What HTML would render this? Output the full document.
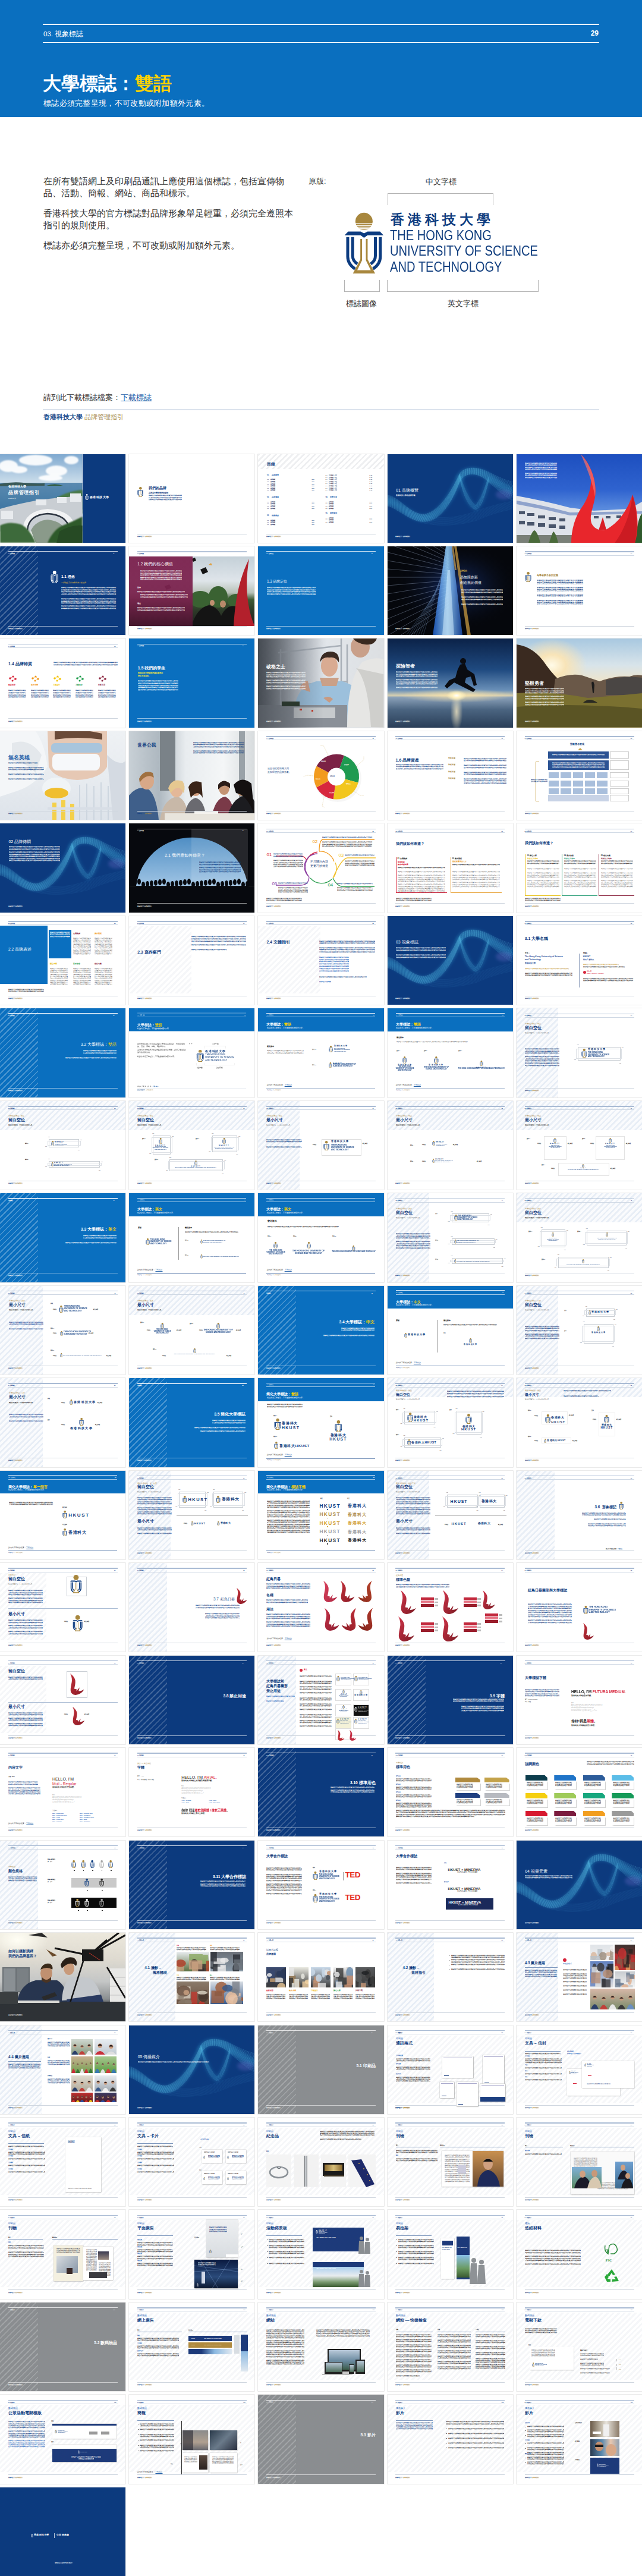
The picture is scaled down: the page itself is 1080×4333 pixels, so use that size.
<!DOCTYPE html><html><head><meta charset="utf-8"><style>

*{margin:0;padding:0;box-sizing:border-box}
html,body{width:1080px;height:4333px;overflow:hidden;background:#fff}
body{position:relative;font-family:"Liberation Sans",sans-serif;color:#222}
.a{position:absolute}
.hdr{position:absolute;left:0;top:0;width:1080px;height:197px;background:#0a6fbf}
.t{position:absolute;width:211.2px;height:149.4px;overflow:hidden;background:#fff;box-shadow:0 0 0 0.6px #dcdcdc}
.t > *{position:absolute;white-space:nowrap;line-height:1}
.t > .pg{position:absolute;left:0;top:0;width:1080px;height:764px;transform:scale(0.19556);transform-origin:0 0;white-space:normal;line-height:normal}
.ln{height:1.6px;background:currentColor}
.t > .f{overflow:hidden;white-space:normal;word-break:break-all}
.f::before{content:"香港科技大學品牌管理指引標誌必須完整呈現不可改動或附加額外元素我們的品牌是大學對我們的認知創新卓越國際視野學術研究香港科技大學品牌管理指引標誌必須完整呈現不可改動或附加額外元素我們的品牌是大學對我們的認知創新卓越國際視野學術研究香港科技大學品牌管理指引標誌必須完整呈現不可改動或附加額外元素我們的品牌是大學對我們的認知創新卓越國際視野學術研究香港科技大學品牌管理指引標誌必須完整呈現不可改動或附加額外元素我們的品牌是大學對我們的認知創新卓越國際視野學術研究香港科技大學品牌管理指引標誌必須完整呈現不可改動或附加額外元素我們的品牌是大學對我們的認知創新卓越國際視野學術研究香港科技大學品牌管理指引標誌必須完整呈現不可改動或附加額外元素我們的品牌是大學對我們的認知創新卓越國際視野學術研究"}

</style></head><body>
<div class="hdr"></div>
<div class="a" style="left:72px;top:40px;width:936px;height:2px;background:#fff"></div>
<div class="a" style="left:73px;top:50px;font-size:11.5px;color:#fff;line-height:14px">03. 視象標誌</div>
<div class="a" style="left:900px;width:107px;text-align:right;top:49px;font-size:12px;font-weight:bold;color:#fff;line-height:14px">29</div>
<div class="a" style="left:72px;top:71px;width:936px;height:1px;background:#fff"></div>
<div class="a" style="left:72px;top:120.5px;font-size:31.3px;font-weight:bold;color:#fff;line-height:40px">大學標誌：<span style="color:#ffd200">雙語</span></div>
<div class="a" style="left:73px;top:165px;font-size:13px;color:#fff;line-height:18px;letter-spacing:0.3px">標誌必須完整呈現，不可改動或附加額外元素。</div>
<div class="a" style="left:73px;top:296px;width:420px;font-size:14.6px;line-height:19.6px;color:#333">
<p style="margin-bottom:15px">在所有雙語網上及印刷品通訊上應使用這個標誌，包括宣傳物品、活動、簡報、網站、商品和標示。</p>
<p style="margin-bottom:15px">香港科技大學的官方標誌對品牌形象舉足輕重，必須完全遵照本指引的規則使用。</p>
<p>標誌亦必須完整呈現，不可改動或附加額外元素。</p>
</div>
<div class="a" style="left:519px;top:298px;font-size:12.5px;line-height:15px;color:#333">原版:</div>
<div class="a" style="left:716px;top:298px;font-size:12.8px;line-height:15px;color:#333">中文字標</div>
<div class="a" style="left:652px;top:325px;width:178px;height:20px;border:1px solid #b3b3b3;border-bottom:none"></div>
<div class="a" style="left:579px;top:471px;width:60px;height:20px;border:1px solid #b3b3b3;border-top:none"></div>
<div class="a" style="left:651px;top:471px;width:255px;height:20px;border:1px solid #b3b3b3;border-top:none"></div>
<div class="a" style="left:582px;top:503px;font-size:12.8px;line-height:15px;color:#333">標誌圖像</div>
<div class="a" style="left:753px;top:503px;font-size:12.8px;line-height:15px;color:#333">英文字標</div>
<svg class="a" style="left:570px;top:340px" width="100" height="130" viewBox="0 0 642 835">
<defs><clipPath id="sun"><circle cx="272" cy="207" r="93"/></clipPath></defs>
<g clip-path="url(#sun)" fill="#a8873d"><rect x="170" y="100" width="210" height="128"/><rect x="170" y="236" width="210" height="12"/><rect x="170" y="256" width="210" height="10"/><rect x="170" y="274" width="210" height="9"/><rect x="170" y="291" width="210" height="9"/></g>
<polygon fill="#0d3c80" points="62,358 100,318 235,318 272,338 310,318 445,318 482,358 310,358 272,385 235,358"/>
<g fill="none" stroke="#0d3c80" stroke-width="32"><path d="M96,378 V590 Q96,670 175,722"/><path d="M149,378 V580 Q149,635 200,668"/><path d="M448,378 V590 Q448,670 369,722"/><path d="M395,378 V580 Q395,635 344,668"/></g>
<polygon fill="#a8873d" points="232,398 311,398 311,618 392,770 152,770 232,618"/>
<polygon fill="#fff" points="251,398 292,398 292,628 345,735 199,735 251,628"/>
</svg>
<div class="a" style="left:657px;top:356px;font-size:23px;line-height:26px;font-weight:bold;color:#0d3c80;letter-spacing:6px">香港科技大學</div>
<div id="en" class="a" style="left:656px;top:383px;font-size:23.5px;line-height:26.4px;color:#123f7f;transform-origin:0 0;transform:scaleX(0.856)">THE HONG KONG<br>UNIVERSITY OF SCIENCE<br>AND TECHNOLOGY</div>
<div class="a" style="left:73px;top:660px;font-size:12.7px;line-height:18px;color:#333">請到此下載標誌檔案：<span style="color:#1f5fa8;text-decoration:underline">下載標誌</span></div>
<div class="a" style="left:72px;top:689px;width:936px;height:1px;background:#7d97bd"></div>
<div class="a" style="left:73px;top:693.5px;font-size:10.8px;line-height:14px;color:#1f4e8c;font-weight:bold">香港科技大學 <span style="color:#a88a4a;font-weight:normal">品牌管理指引</span></div>

<div class="t" style="left:0.0px;top:763.5px;background:#fff;"><svg style="left:0;top:0" width="138.5" height="149.4" viewBox="0 0 138.5 149.4"><defs><linearGradient id="csky" x1="0" y1="0" x2="0" y2="1"><stop offset="0" stop-color="#7fa9d0"/><stop offset="1" stop-color="#cfe0ec"/></linearGradient><linearGradient id="csea" x1="0" y1="0" x2="0" y2="1"><stop offset="0" stop-color="#5a8ab0"/><stop offset="1" stop-color="#3f77a3"/></linearGradient><filter id="cb"><feGaussianBlur stdDeviation="1.2"/></filter></defs><rect width="138.5" height="50" fill="url(#csky)"/><g fill="#fff" filter="url(#cb)" opacity=".92"><ellipse cx="14" cy="20" rx="16" ry="10"/><ellipse cx="32" cy="26" rx="14" ry="6"/><ellipse cx="60" cy="10" rx="28" ry="9"/><ellipse cx="95" cy="28" rx="18" ry="9"/><ellipse cx="120" cy="10" rx="12" ry="7"/><ellipse cx="85" cy="40" rx="20" ry="5"/></g><rect y="48" width="138.5" height="45" fill="url(#csea)"/><path d="M0,50 Q20,46 40,48 Q60,50 75,49 L75,53 L0,54Z" fill="#3a5a58"/><path d="M78,53 Q92,48 106,53Z" fill="#2f5a3a"/><path d="M85,80 Q110,62 138.5,60 V100 H85Z" fill="#4a7a48" filter="url(#cb)"/><path d="M0,92 Q20,86 50,80 Q80,74 138.5,70 V130 H0Z" fill="#c9ced3"/><g fill="#e8ebee"><rect x="2" y="95" width="20" height="14"/><rect x="60" y="76" width="18" height="10"/><rect x="96" y="72" width="16" height="10"/><rect x="118" y="66" width="18" height="14"/></g><path d="M38,128 Q40,95 80,92 Q122,95 126,122 L116,124 Q112,102 80,100 Q48,102 46,128Z" fill="#f2f3f4"/><path d="M46,128 Q48,102 80,100 Q112,102 116,124" fill="none" stroke="#2c3440" stroke-width="2.4"/><path d="M52,128 Q60,112 80,110 Q100,112 108,124 L100,149 H60Z" fill="#8a9a8a"/><path d="M0,120 Q15,112 35,118 Q50,125 60,149 H0Z" fill="#3e6a3a" filter="url(#cb)"/><path d="M80,149 Q90,125 110,118 Q125,112 138.5,105 V149.4Z" fill="#2f5a2c" filter="url(#cb)"/><path d="M100,130 Q120,118 138.5,120 V149.4 H95Z" fill="#264a24"/></svg><i style="left:138.5px;top:0px;width:73px;height:149.4px;background:#0c3a7e;"></i><b style="left:14px;top:52.5px;font-size:5px;color:#fff;font-weight:700;">香港科技大學</b><b style="left:14px;top:61.5px;font-size:8px;color:#fff;font-weight:700;letter-spacing:.8px">品牌管理指引</b><b style="left:14px;top:73px;font-size:2.2px;color:#fff;font-weight:400;">2020年 3月版</b><svg style="left:142.5px;top:67px" width="6.41" height="10" viewBox="62 115 420 655"><circle cx="272" cy="207" r="93" fill="#fff"/><polygon fill="#fff" points="62,358 100,318 235,318 272,338 310,318 445,318 482,358 310,358 272,385 235,358"/><g fill="none" stroke="#fff" stroke-width="34"><path d="M96,378 V590 Q96,670 175,722"/><path d="M149,378 V580 Q149,635 200,668"/><path d="M448,378 V590 Q448,670 369,722"/><path d="M395,378 V580 Q395,635 344,668"/></g><polygon fill="#fff" points="232,398 311,398 311,618 392,770 152,770 232,618"/><polygon fill="#0c3a7e" points="251,398 292,398 292,628 345,735 199,735 251,628"/></svg><b style="left:151px;top:70px;font-size:5px;color:#fff;font-weight:700;letter-spacing:.4px">香港科技大學</b></div>
<div class="t" style="left:217.2px;top:763.5px;background:#fff;"><svg style="left:13.7px;top:55.5px" width="10.58" height="16.5" viewBox="62 115 420 655"><circle cx="272" cy="207" r="93" fill="#a8873d"/><polygon fill="#0d3c80" points="62,358 100,318 235,318 272,338 310,318 445,318 482,358 310,358 272,385 235,358"/><g fill="none" stroke="#0d3c80" stroke-width="34"><path d="M96,378 V590 Q96,670 175,722"/><path d="M149,378 V580 Q149,635 200,668"/><path d="M448,378 V590 Q448,670 369,722"/><path d="M395,378 V580 Q395,635 344,668"/></g><polygon fill="#a8873d" points="232,398 311,398 311,618 392,770 152,770 232,618"/><polygon fill="#fff" points="251,398 292,398 292,628 345,735 199,735 251,628"/></svg><b style="left:33px;top:55.5px;font-size:5.6px;color:#0d3c80;font-weight:700;">我們的品牌</b><b style="left:33px;top:64px;font-size:3.4px;color:#0d3c80;font-weight:700;">品牌是大學對我們的認知</b><p class="f" style="left:33px;top:68.5px;width:56px;height:10.8px;font-size:2.4px;line-height:3.6px;color:#0d3c80;font-weight:700;"></p><i style="left:13.8px;top:134px;width:184px;height:0.7px;background:#cfd6df;"></i><b style="left:13.8px;top:137.2px;font-size:2.1px;color:#0d3c80;font-weight:700;">香港科技大學 <span style="color:#a8873d">品牌管理指引</span></b></div>
<div class="t" style="left:434.4px;top:763.5px;background:#fff;box-shadow:0 0 0 0.6px #d8d8d8"><i style="left:0px;top:0px;width:211.2px;height:25px;background:repeating-linear-gradient(135deg,#eeeff1 0 2.6px,#fff 2.6px 6.7px);"></i><b style="left:14.5px;top:14px;font-size:6.5px;color:#0d3c80;font-weight:700;">目錄</b><b style="left:14.5px;top:34px;font-size:2.8px;color:#1a64b0;font-weight:700;">01. &nbsp;&nbsp;&nbsp; 品牌概覽</b><b style="left:14.5px;top:41.8px;font-size:2.3px;color:#1a2a50;font-weight:700;">1.1 &nbsp;&nbsp; 品牌概覽</b><b style="left:90px;top:41.8px;font-size:2.3px;color:#1a2a50;font-weight:700;">p.04</b><b style="left:14.5px;top:45.4px;font-size:2.3px;color:#1a2a50;font-weight:700;">1.1 &nbsp;&nbsp; 品牌概覽</b><b style="left:90px;top:45.4px;font-size:2.3px;color:#1a2a50;font-weight:700;">p.04</b><b style="left:14.5px;top:49.0px;font-size:2.3px;color:#1a2a50;font-weight:700;">1.1 &nbsp;&nbsp; 品牌概覽</b><b style="left:90px;top:49.0px;font-size:2.3px;color:#1a2a50;font-weight:700;">p.04</b><b style="left:14.5px;top:52.599999999999994px;font-size:2.3px;color:#1a2a50;font-weight:700;">1.1 &nbsp;&nbsp; 品牌概覽</b><b style="left:90px;top:52.599999999999994px;font-size:2.3px;color:#1a2a50;font-weight:700;">p.04</b><b style="left:14.5px;top:56.199999999999996px;font-size:2.3px;color:#1a2a50;font-weight:700;">1.1 &nbsp;&nbsp; 品牌概覽</b><b style="left:90px;top:56.199999999999996px;font-size:2.3px;color:#1a2a50;font-weight:700;">p.04</b><b style="left:14.5px;top:59.8px;font-size:2.3px;color:#1a2a50;font-weight:700;">1.1 &nbsp;&nbsp; 品牌概覽</b><b style="left:90px;top:59.8px;font-size:2.3px;color:#1a2a50;font-weight:700;">p.04</b><b style="left:14.5px;top:71.5px;font-size:2.8px;color:#1a64b0;font-weight:700;">02. &nbsp;&nbsp;&nbsp; 品牌傳播</b><b style="left:14.5px;top:79.3px;font-size:2.3px;color:#1a2a50;font-weight:700;">1.1 &nbsp;&nbsp; 品牌概覽</b><b style="left:90px;top:79.3px;font-size:2.3px;color:#1a2a50;font-weight:700;">p.04</b><b style="left:14.5px;top:82.89999999999999px;font-size:2.3px;color:#1a2a50;font-weight:700;">1.1 &nbsp;&nbsp; 品牌概覽</b><b style="left:90px;top:82.89999999999999px;font-size:2.3px;color:#1a2a50;font-weight:700;">p.04</b><b style="left:14.5px;top:86.5px;font-size:2.3px;color:#1a2a50;font-weight:700;">1.1 &nbsp;&nbsp; 品牌概覽</b><b style="left:90px;top:86.5px;font-size:2.3px;color:#1a2a50;font-weight:700;">p.04</b><b style="left:14.5px;top:90.1px;font-size:2.3px;color:#1a2a50;font-weight:700;">1.1 &nbsp;&nbsp; 品牌概覽</b><b style="left:90px;top:90.1px;font-size:2.3px;color:#1a2a50;font-weight:700;">p.04</b><b style="left:14.5px;top:102.5px;font-size:2.8px;color:#1a64b0;font-weight:700;">03. &nbsp;&nbsp;&nbsp; 視象標誌</b><b style="left:14.5px;top:110.3px;font-size:2.3px;color:#1a2a50;font-weight:700;">1.1 &nbsp;&nbsp; 品牌概覽</b><b style="left:90px;top:110.3px;font-size:2.3px;color:#1a2a50;font-weight:700;">p.04</b><b style="left:14.5px;top:113.89999999999999px;font-size:2.3px;color:#1a2a50;font-weight:700;">1.1 &nbsp;&nbsp; 品牌概覽</b><b style="left:90px;top:113.89999999999999px;font-size:2.3px;color:#1a2a50;font-weight:700;">p.04</b><b style="left:14.5px;top:117.5px;font-size:2.3px;color:#1a2a50;font-weight:700;">1.1 &nbsp;&nbsp; 品牌概覽</b><b style="left:90px;top:117.5px;font-size:2.3px;color:#1a2a50;font-weight:700;">p.04</b><b style="left:113px;top:34.5px;font-size:2.3px;color:#1a2a50;font-weight:700;">3.4 &nbsp;&nbsp; 大學標誌 · 中文</b><b style="left:187px;top:34.5px;font-size:2.3px;color:#1a2a50;font-weight:700;">p.45</b><b style="left:113px;top:38.1px;font-size:2.3px;color:#1a2a50;font-weight:700;">3.4 &nbsp;&nbsp; 大學標誌 · 中文</b><b style="left:187px;top:38.1px;font-size:2.3px;color:#1a2a50;font-weight:700;">p.45</b><b style="left:113px;top:41.7px;font-size:2.3px;color:#1a2a50;font-weight:700;">3.4 &nbsp;&nbsp; 大學標誌 · 中文</b><b style="left:187px;top:41.7px;font-size:2.3px;color:#1a2a50;font-weight:700;">p.45</b><b style="left:113px;top:45.3px;font-size:2.3px;color:#1a2a50;font-weight:700;">3.4 &nbsp;&nbsp; 大學標誌 · 中文</b><b style="left:187px;top:45.3px;font-size:2.3px;color:#1a2a50;font-weight:700;">p.45</b><b style="left:113px;top:48.9px;font-size:2.3px;color:#1a2a50;font-weight:700;">3.4 &nbsp;&nbsp; 大學標誌 · 中文</b><b style="left:187px;top:48.9px;font-size:2.3px;color:#1a2a50;font-weight:700;">p.45</b><b style="left:113px;top:52.5px;font-size:2.3px;color:#1a2a50;font-weight:700;">3.4 &nbsp;&nbsp; 大學標誌 · 中文</b><b style="left:187px;top:52.5px;font-size:2.3px;color:#1a2a50;font-weight:700;">p.45</b><b style="left:113px;top:56.1px;font-size:2.3px;color:#1a2a50;font-weight:700;">3.4 &nbsp;&nbsp; 大學標誌 · 中文</b><b style="left:187px;top:56.1px;font-size:2.3px;color:#1a2a50;font-weight:700;">p.45</b><b style="left:113px;top:59.7px;font-size:2.3px;color:#1a2a50;font-weight:700;">3.4 &nbsp;&nbsp; 大學標誌 · 中文</b><b style="left:187px;top:59.7px;font-size:2.3px;color:#1a2a50;font-weight:700;">p.45</b><b style="left:113px;top:71.5px;font-size:2.8px;color:#1a64b0;font-weight:700;">04. &nbsp;&nbsp;&nbsp; 視覺元素</b><b style="left:113px;top:79.3px;font-size:2.3px;color:#1a2a50;font-weight:700;">1.1 &nbsp;&nbsp; 品牌概覽</b><b style="left:187px;top:79.3px;font-size:2.3px;color:#1a2a50;font-weight:700;">p.04</b><b style="left:113px;top:82.89999999999999px;font-size:2.3px;color:#1a2a50;font-weight:700;">1.1 &nbsp;&nbsp; 品牌概覽</b><b style="left:187px;top:82.89999999999999px;font-size:2.3px;color:#1a2a50;font-weight:700;">p.04</b><b style="left:113px;top:86.5px;font-size:2.3px;color:#1a2a50;font-weight:700;">1.1 &nbsp;&nbsp; 品牌概覽</b><b style="left:187px;top:86.5px;font-size:2.3px;color:#1a2a50;font-weight:700;">p.04</b><b style="left:113px;top:90.1px;font-size:2.3px;color:#1a2a50;font-weight:700;">1.1 &nbsp;&nbsp; 品牌概覽</b><b style="left:187px;top:90.1px;font-size:2.3px;color:#1a2a50;font-weight:700;">p.04</b><b style="left:113px;top:98.5px;font-size:2.8px;color:#1a64b0;font-weight:700;">05. &nbsp;&nbsp;&nbsp; 應用實例</b><b style="left:113px;top:106.3px;font-size:2.3px;color:#1a2a50;font-weight:700;">1.1 &nbsp;&nbsp; 品牌概覽</b><b style="left:187px;top:106.3px;font-size:2.3px;color:#1a2a50;font-weight:700;">p.04</b><b style="left:113px;top:109.89999999999999px;font-size:2.3px;color:#1a2a50;font-weight:700;">1.1 &nbsp;&nbsp; 品牌概覽</b><b style="left:187px;top:109.89999999999999px;font-size:2.3px;color:#1a2a50;font-weight:700;">p.04</b><b style="left:113px;top:113.5px;font-size:2.3px;color:#1a2a50;font-weight:700;">1.1 &nbsp;&nbsp; 品牌概覽</b><b style="left:187px;top:113.5px;font-size:2.3px;color:#1a2a50;font-weight:700;">p.04</b><i style="left:13.8px;top:134px;width:184px;height:0.7px;background:#cfd6df;"></i><b style="left:13.8px;top:137.2px;font-size:2.1px;color:#0d3c80;font-weight:700;">香港科技大學 <span style="color:#a8873d">品牌管理指引</span></b></div>
<div class="t" style="left:651.6px;top:763.5px;background:#0c3a7e;"><svg style="left:0;top:0;opacity:1.0" width="211.2" height="149.4" viewBox="0 0 211.2 149.4"><defs><filter id="jb" x="-20%" y="-20%" width="140%" height="140%"><feGaussianBlur stdDeviation="2.5"/></filter></defs><path d="M0,78.0 C20,82.0 40,110.0 64,107.0 C88,103.0 108,72.0 121,40.0 C130,24.0 152,26.0 168,37.0 C184,48.0 198,58.0 212,63.0" fill="none" stroke="#39b8e8" stroke-width="12" stroke-opacity=".28" filter="url(#jb)"/><path d="M121,36.0 C126,58.0 136,84.0 148,90.0 C158,84.0 164,62.0 170,42.0" fill="none" stroke="#39b8e8" stroke-width="10" stroke-opacity=".18" filter="url(#jb)"/><g fill="none" stroke="#6fd8f6" stroke-width="0.5" stroke-opacity="0.75" stroke-dasharray="0.7 0.8"><path d="M0,69.2 C20,71.4 40,104.7 64,100.8 C88,94.2 108,62.3 121,33.0 C130,19.6 152,21.6 168,29.1 C184,37.4 198,43.9 212,47.2 M0,70.3 C20,72.8 40,105.4 64,101.6 C88,95.3 108,63.5 121,33.8 C130,20.1 152,22.1 168,30.1 C184,38.8 198,45.7 212,49.1 M0,71.4 C20,74.1 40,106.0 64,102.4 C88,96.4 108,64.7 121,34.7 C130,20.7 152,22.7 168,31.1 C184,40.1 198,47.4 212,51.1 M0,72.5 C20,75.4 40,106.7 64,103.2 C88,97.5 108,66.0 121,35.6 C130,21.2 152,23.2 168,32.0 C184,41.4 198,49.2 212,53.1 M0,73.6 C20,76.7 40,107.4 64,103.9 C88,98.6 108,67.2 121,36.5 C130,21.8 152,23.8 168,33.0 C184,42.7 198,51.0 212,55.1 M0,74.7 C20,78.0 40,108.0 64,104.7 C88,99.7 108,68.4 121,37.4 C130,22.4 152,24.4 168,34.0 C184,44.0 198,52.7 212,57.1 M0,75.8 C20,79.4 40,108.7 64,105.5 C88,100.8 108,69.6 121,38.2 C130,22.9 152,24.9 168,35.0 C184,45.4 198,54.5 212,59.0 M0,76.9 C20,80.7 40,109.3 64,106.2 C88,101.9 108,70.8 121,39.1 C130,23.4 152,25.4 168,36.0 C184,46.7 198,56.2 212,61.0 M0,78.0 C20,82.0 40,110.0 64,107.0 C88,103.0 108,72.0 121,40.0 C130,24.0 152,26.0 168,37.0 C184,48.0 198,58.0 212,63.0 M0,79.1 C20,83.3 40,110.7 64,107.8 C88,104.1 108,73.2 121,40.9 C130,24.6 152,26.6 168,38.0 C184,49.3 198,59.8 212,65.0 M0,80.2 C20,84.6 40,111.3 64,108.5 C88,105.2 108,74.4 121,41.8 C130,25.1 152,27.1 168,39.0 C184,50.6 198,61.5 212,67.0 M0,81.3 C20,86.0 40,112.0 64,109.3 C88,106.3 108,75.6 121,42.6 C130,25.6 152,27.6 168,40.0 C184,52.0 198,63.3 212,68.9 M0,82.4 C20,87.3 40,112.6 64,110.1 C88,107.4 108,76.8 121,43.5 C130,26.2 152,28.2 168,41.0 C184,53.3 198,65.0 212,70.9 M0,83.5 C20,88.6 40,113.3 64,110.8 C88,108.5 108,78.0 121,44.4 C130,26.8 152,28.8 168,42.0 C184,54.6 198,66.8 212,72.9 M0,84.6 C20,89.9 40,114.0 64,111.6 C88,109.6 108,79.3 121,45.3 C130,27.3 152,29.3 168,42.9 C184,55.9 198,68.6 212,74.9 M0,85.7 C20,91.2 40,114.6 64,112.4 C88,110.7 108,80.5 121,46.2 C130,27.9 152,29.9 168,43.9 C184,57.2 198,70.3 212,76.9 M0,86.8 C20,92.6 40,115.3 64,113.2 C88,111.8 108,81.7 121,47.0 C130,28.4 152,30.4 168,44.9 C184,58.6 198,72.1 212,78.8"/></g><g fill="none" stroke="#5cc4ee" stroke-width="0.45" stroke-opacity="0.6" stroke-dasharray="0.7 0.9"><path d="M121,33.1 C126,48.4 136,76.3 148,86.2 C158,74.4 164,54.3 170,37.2 M121,33.6 C126,50.0 136,77.6 148,86.8 C158,76.0 164,55.6 170,38.0 M121,34.1 C126,51.6 136,78.9 148,87.4 C158,77.6 164,56.9 170,38.8 M121,34.6 C126,53.2 136,80.2 148,88.1 C158,79.2 164,58.2 170,39.6 M121,35.0 C126,54.8 136,81.4 148,88.7 C158,80.8 164,59.4 170,40.4 M121,35.5 C126,56.4 136,82.7 148,89.4 C158,82.4 164,60.7 170,41.2 M121,36.0 C126,58.0 136,84.0 148,90.0 C158,84.0 164,62.0 170,42.0 M121,36.5 C126,59.6 136,85.3 148,90.6 C158,85.6 164,63.3 170,42.8 M121,37.0 C126,61.2 136,86.6 148,91.3 C158,87.2 164,64.6 170,43.6 M121,37.4 C126,62.8 136,87.8 148,91.9 C158,88.8 164,65.8 170,44.4 M121,37.9 C126,64.4 136,89.1 148,92.6 C158,90.4 164,67.1 170,45.2 M121,38.4 C126,66.0 136,90.4 148,93.2 C158,92.0 164,68.4 170,46.0"/></g><g fill="none" stroke="#4aa8e0" stroke-width="0.35" stroke-opacity="0.3"><path d="M30,88.5 C60,110.5 110,112.0 150,95.0 C170,88.5 190,82.5 212,78.5 M30,90.0 C60,112.0 110,113.2 150,96.8 C170,90.0 190,84.0 212,80.0 M30,91.5 C60,113.5 110,114.4 150,98.6 C170,91.5 190,85.5 212,81.5 M30,93.0 C60,115.0 110,115.6 150,100.4 C170,93.0 190,87.0 212,83.0 M30,94.5 C60,116.5 110,116.8 150,102.2 C170,94.5 190,88.5 212,84.5 M30,96.0 C60,118.0 110,118.0 150,104.0 C170,96.0 190,90.0 212,86.0 M30,97.5 C60,119.5 110,119.2 150,105.8 C170,97.5 190,91.5 212,87.5 M30,99.0 C60,121.0 110,120.4 150,107.6 C170,99.0 190,93.0 212,89.0 M30,100.5 C60,122.5 110,121.6 150,109.4 C170,100.5 190,94.5 212,90.5 M30,102.0 C60,124.0 110,122.8 150,111.2 C170,102.0 190,96.0 212,92.0"/></g><ellipse cx="196" cy="68" rx="14" ry="8" fill="#8a7ae0" opacity=".25" filter="url(#jb)"/></svg><b style="left:14.5px;top:57px;font-size:7px;color:#fff;font-weight:400;">01 品牌概覽</b><b style="left:14.5px;top:69px;font-size:2.6px;color:#fff;font-weight:700;">香港科技大學的品牌形象</b><b style="left:13.8px;top:137.2px;font-size:2.1px;color:#fff;font-weight:700;">香港科技大學 品牌管理指引</b></div>
<div class="t" style="left:868.8px;top:763.5px;background:linear-gradient(180deg,#1d4fbf 0%,#2f63cf 40%,#6a9ae2 70%,#8ab0e8 100%);"><svg style="left:0;top:0" width="211.2" height="149.4" viewBox="0 0 211.2 149.4"><path d="M0,70 Q45,78 90,90 L130,95 L190,92 L211,80 V149.4 H0Z" fill="#dfe3ea"/><path d="M0,78 Q45,86 90,98 L211,96 V100 L90,103 Q45,92 0,84Z" fill="#5a78b8" opacity=".6"/><g fill="#26334d" opacity=".8"><rect x="4" y="96" width="10" height="5"/><rect x="18" y="99" width="12" height="5"/><rect x="36" y="103" width="12" height="5"/><rect x="54" y="106" width="12" height="5"/><rect x="72" y="108" width="10" height="5"/><rect x="4" y="112" width="10" height="6"/><rect x="18" y="114" width="12" height="6"/><rect x="36" y="116" width="12" height="6"/><rect x="54" y="118" width="12" height="6"/><rect x="72" y="120" width="10" height="6"/><rect x="130" y="104" width="8" height="4"/><rect x="150" y="104" width="8" height="4"/><rect x="168" y="103" width="8" height="4"/></g><rect x="0" y="136" width="211.2" height="13.4" fill="#7a8078"/><path d="M20,149 Q25,130 30,128 Q35,130 40,149Z M55,149 Q60,132 62,130 Q66,132 70,149Z" fill="#4a6a3a"/><path d="M200,140 Q205,105 211,100 V149.4 H198Z" fill="#2f5a2c"/><path d="M108,0 C124,16 136,46 132,72 C129,90 122,104 126,116 C132,128 144,130 152,126 C170,116 186,96 195,68 C205,96 206,128 199,149.4 L92,149.4 C92,128 98,104 112,86 C122,70 128,50 124,32 C121,20 115,8 108,0Z" fill="#e8262c"/><path d="M138,128 L145,106 L151,127Z" fill="#d81e26"/><path d="M108,0 C124,16 136,46 132,72 C130,60 126,40 108,0Z" fill="#f4706e" opacity=".7"/><path d="M152,126 C170,116 186,96 195,68 C203,96 204,128 199,149.4 L165,149.4 C180,130 192,100 195,68 C186,96 170,116 152,126Z" fill="#b8141c" opacity=".6"/></svg><p class="f" style="left:14px;top:14px;width:55px;height:14.4px;font-size:2.3px;line-height:3.6px;color:#fff;font-weight:700;"></p><p class="f" style="left:14px;top:31px;width:55px;height:10.8px;font-size:2.3px;line-height:3.6px;color:#fff;font-weight:700;"></p></div>
<div class="t" style="left:0.0px;top:919.0px;background:#0c3a7e;"><i style="left:0px;top:0px;width:64px;height:149.4px;background:repeating-linear-gradient(135deg,rgba(255,255,255,.22) 0 1.8px,#0c3a7e 1.8px 7px);"></i><i style="left:13.5px;top:8.2px;width:184.5px;height:1.2px;background:rgba(255,255,255,.75);"></i><b style="left:13.5px;top:11px;font-size:2.2px;color:#fff;font-weight:700;">1.1 品牌概覽</b><b style="left:190px;top:11px;font-size:2.2px;color:#fff;font-weight:700;">11</b><i style="left:13.5px;top:134px;width:184.5px;height:0.7px;background:rgba(255,255,255,.55);"></i><b style="left:13.5px;top:137.2px;font-size:2.2px;color:#fff;font-weight:700;">香港科技大學 品牌管理指引</b><svg style="left:85px;top:40.5px" width="13.47" height="21" viewBox="62 115 420 655"><circle cx="272" cy="207" r="93" fill="#fff"/><polygon fill="#fff" points="62,358 100,318 235,318 272,338 310,318 445,318 482,358 310,358 272,385 235,358"/><g fill="none" stroke="#fff" stroke-width="34"><path d="M96,378 V590 Q96,670 175,722"/><path d="M149,378 V580 Q149,635 200,668"/><path d="M448,378 V590 Q448,670 369,722"/><path d="M395,378 V580 Q395,635 344,668"/></g><polygon fill="#fff" points="232,398 311,398 311,618 392,770 152,770 232,618"/><polygon fill="#0c3a7e" points="251,398 292,398 292,628 345,735 199,735 251,628"/></svg><b style="left:103px;top:48px;font-size:6.3px;color:#fff;font-weight:700;">1.1 理念</b><b style="left:103px;top:61px;font-size:2.5px;color:#f2c230;font-weight:400;">一個建立了以知識為核心的品牌</b><p class="f" style="left:103px;top:68px;width:93px;height:14.4px;font-size:2.4px;line-height:3.6px;color:#fff;font-weight:700;"></p><p class="f" style="left:103px;top:87px;width:93px;height:10.8px;font-size:2.4px;line-height:3.6px;color:#fff;font-weight:700;"></p><p class="f" style="left:103px;top:99px;width:93px;height:7.2px;font-size:2.4px;line-height:3.6px;color:#fff;font-weight:700;"></p></div>
<div class="t" style="left:217.2px;top:919.0px;background:#fff;"><i style="left:0px;top:17px;width:211.2px;height:117px;background:linear-gradient(180deg,#c4d0d8 0%,#dfe5ea 35%,#b8c2b8 52%,#3e5a34 62%,#2c3a28 78%,#1e1e1e 100%);"></i><svg style="left:0;top:17px" width="211.2" height="117" viewBox="0 0 211.2 117"><g fill="#3a6232"><ellipse cx="120" cy="72" rx="18" ry="14"/><ellipse cx="150" cy="68" rx="16" ry="18"/><ellipse cx="180" cy="75" rx="14" ry="12"/></g><path d="M105,117 Q115,85 135,82 Q150,86 155,100 Q165,80 180,84 Q192,95 195,117Z" fill="#141414"/><ellipse cx="158" cy="80" rx="5" ry="6" fill="#b88a6a"/><ellipse cx="140" cy="78" rx="4" ry="5" fill="#c09070"/><path d="M176,117 C178,80 184,40 202,4 C196,40 196,80 211.2,117Z" fill="#b3202c"/><g fill="#141414"><path d="M120,22 l9,-4 l4,8 l-9,4z"/><path d="M106,4 l5,-2 l2,5 l-5,2z"/><path d="M60,50 l8,-3 l3,6 l-8,3z"/><path d="M40,12 l7,-3 l3,6 l-7,3z"/></g><path d="M134,14 l4,-3 l2,4z" fill="#e0a040"/></svg><i style="left:0px;top:17px;width:107px;height:117px;background:linear-gradient(180deg,rgba(125,36,80,.96) 0%,rgba(122,35,78,.94) 60%,rgba(70,22,45,.96) 100%);"></i><i style="left:0px;top:0px;width:211.2px;height:17px;background:#fff;"></i><i style="left:13.5px;top:8.2px;width:184.5px;height:1.4px;background:#b4c3d9;"></i><b style="left:13.5px;top:11px;font-size:2.2px;color:#0d3c80;font-weight:700;">1.2 品牌概覽</b><i style="left:0px;top:134px;width:211.2px;height:15.4px;background:#fff;"></i><b style="left:14px;top:27px;font-size:6.6px;color:#fff;font-weight:400;">1.2 我們的核心價值</b><p class="f" style="left:19px;top:40px;width:70px;height:18.0px;font-size:2.4px;line-height:3.6px;color:#fff;font-weight:700;"></p><b style="left:14px;top:68px;font-size:3.2px;color:#fff;font-weight:700;">使命</b><p class="f" style="left:14px;top:75px;width:80px;height:3.5px;font-size:2.3px;line-height:3.5px;color:#fff;font-weight:700;"></p><p class="f" style="left:19px;top:80px;width:80px;height:7.0px;font-size:2.3px;line-height:3.5px;color:#fff;font-weight:700;"></p><b style="left:14px;top:95px;font-size:3.2px;color:#fff;font-weight:700;">理念</b><p class="f" style="left:14px;top:102px;width:80px;height:7.0px;font-size:2.3px;line-height:3.5px;color:#fff;font-weight:700;"></p><i style="left:13.8px;top:134px;width:184px;height:0.7px;background:#cfd6df;"></i><b style="left:13.8px;top:137.2px;font-size:2.1px;color:#0d3c80;font-weight:700;">香港科技大學 <span style="color:#a8873d">品牌管理指引</span></b></div>
<div class="t" style="left:434.4px;top:919.0px;background:#0a6fbf;"><i style="left:13.5px;top:8.2px;width:184.5px;height:1.2px;background:rgba(255,255,255,.75);"></i><b style="left:13.5px;top:11px;font-size:2.2px;color:#fff;font-weight:700;">1.3 品牌定位</b><b style="left:190px;top:11px;font-size:2.2px;color:#fff;font-weight:700;">13</b><i style="left:13.5px;top:134px;width:184.5px;height:0.7px;background:rgba(255,255,255,.55);"></i><b style="left:13.5px;top:137.2px;font-size:2.2px;color:#fff;font-weight:700;">香港科技大學 品牌管理指引</b><b style="left:14.5px;top:56px;font-size:6.3px;color:#fff;font-weight:400;">1.3 品牌定位</b><p class="f" style="left:14.5px;top:68px;width:82px;height:14.4px;font-size:2.4px;line-height:3.6px;color:#fff;font-weight:700;"></p></div>
<div class="t" style="left:651.6px;top:919.0px;background:#0b0f1c;"><svg style="left:0;top:0" width="211.2" height="149.4" viewBox="0 0 211.2 149.4"><defs><radialGradient id="bgl" cx=".55" cy=".45" r=".5"><stop offset="0" stop-color="#1a3a8a" stop-opacity=".8"/><stop offset="1" stop-color="#05070c" stop-opacity="0"/></radialGradient><linearGradient id="pyl" x1="0" y1="0" x2="1" y2="0"><stop offset="0" stop-color="#1a5ac8"/><stop offset=".5" stop-color="#9ad4ff"/><stop offset="1" stop-color="#1a4aa8"/></linearGradient></defs><rect width="211.2" height="149.4" fill="#05070c"/><rect width="211.2" height="149.4" fill="url(#bgl)"/><g stroke="#c8dcff" stroke-width="0.5" opacity=".6"><line x1="100.0" y1="8.0" x2="0" y2="-60.0"/><line x1="100.2" y1="13.5" x2="0" y2="-46.0"/><line x1="100.4" y1="19.0" x2="0" y2="-32.0"/><line x1="100.6" y1="24.5" x2="0" y2="-18.0"/><line x1="100.8" y1="30.0" x2="0" y2="-4.0"/><line x1="101.0" y1="35.5" x2="0" y2="10.0"/><line x1="101.2" y1="41.0" x2="0" y2="24.0"/><line x1="101.4" y1="46.5" x2="0" y2="38.0"/><line x1="101.6" y1="52.0" x2="0" y2="52.0"/><line x1="101.8" y1="57.5" x2="0" y2="66.0"/><line x1="102.0" y1="63.0" x2="0" y2="80.0"/><line x1="102.2" y1="68.5" x2="0" y2="94.0"/><line x1="102.4" y1="74.0" x2="0" y2="108.0"/><line x1="102.6" y1="79.5" x2="0" y2="122.0"/><line x1="102.8" y1="85.0" x2="0" y2="136.0"/><line x1="103.0" y1="90.5" x2="0" y2="150.0"/><line x1="103.2" y1="96.0" x2="0" y2="164.0"/><line x1="103.4" y1="101.5" x2="0" y2="178.0"/></g><g stroke="#8ab8f0" stroke-width="0.5" opacity=".5"><line x1="102.0" y1="10.0" x2="60.0" y2="149.4"/><line x1="102.3" y1="15.0" x2="56.0" y2="149.4"/><line x1="102.6" y1="20.0" x2="52.0" y2="149.4"/><line x1="102.9" y1="25.0" x2="48.0" y2="149.4"/><line x1="103.2" y1="30.0" x2="44.0" y2="149.4"/><line x1="103.5" y1="35.0" x2="40.0" y2="149.4"/><line x1="103.8" y1="40.0" x2="36.0" y2="149.4"/><line x1="104.1" y1="45.0" x2="32.0" y2="149.4"/></g><path d="M98,0 L108,0 L126,149.4 L76,149.4Z" fill="url(#pyl)" opacity=".85"/><path d="M101,40 L105,40 L112,149.4 L92,149.4Z" fill="#d8f0ff" opacity=".5"/><path d="M112,0 L116,0 L140,149.4 L134,149.4Z" fill="#c89a40" opacity=".75"/><path d="M108,0 L111,0 L116,40 L113,40Z" fill="#e8b860" opacity=".6"/></svg><b style="left:122px;top:40px;font-size:3.3px;color:#e8c24a;font-weight:700;">品牌定位</b><b style="left:122px;top:50px;font-size:5.8px;color:#fff;font-weight:400;">憑無限創新</b><b style="left:122px;top:59px;font-size:5.8px;color:#fff;font-weight:400;">創造無比價值</b><p class="f" style="left:124px;top:72px;width:70px;height:7.6px;font-size:2.4px;line-height:3.8px;color:#fff;font-weight:700;"></p><p class="f" style="left:124px;top:84px;width:70px;height:7.6px;font-size:2.4px;line-height:3.8px;color:#fff;font-weight:700;"></p><p class="f" style="left:124px;top:96px;width:70px;height:3.8px;font-size:2.4px;line-height:3.8px;color:#fff;font-weight:700;"></p><b style="left:13.8px;top:137.2px;font-size:2.1px;color:#fff;font-weight:700;">香港科技大學 品牌管理指引</b></div>
<div class="t" style="left:868.8px;top:919.0px;background:#fff;"><i style="left:13.8px;top:8.3px;width:184px;height:1.5px;background:#a9bbd4;"></i><b style="left:13.8px;top:11.2px;font-size:2.1px;color:#0d3c80;font-weight:700;">1.3 品牌概覽</b><b style="left:192px;top:11.2px;font-size:2.1px;color:#0d3c80;font-weight:700;">14</b><i style="left:13.8px;top:14.6px;width:184px;height:0.45px;background:#cfd8e4;"></i><i style="left:13.8px;top:134px;width:184px;height:0.7px;background:#cfd6df;"></i><b style="left:13.8px;top:137.2px;font-size:2.1px;color:#0d3c80;font-weight:700;">香港科技大學 <span style="color:#a8873d">品牌管理指引</span></b><svg style="left:14.5px;top:43px" width="10.90" height="17" viewBox="62 115 420 655"><circle cx="272" cy="207" r="93" fill="#a8873d"/><polygon fill="#0d3c80" points="62,358 100,318 235,318 272,338 310,318 445,318 482,358 310,358 272,385 235,358"/><g fill="none" stroke="#0d3c80" stroke-width="34"><path d="M96,378 V590 Q96,670 175,722"/><path d="M149,378 V580 Q149,635 200,668"/><path d="M448,378 V590 Q448,670 369,722"/><path d="M395,378 V580 Q395,635 344,668"/></g><polygon fill="#a8873d" points="232,398 311,398 311,618 392,770 152,770 232,618"/><polygon fill="#fff" points="251,398 292,398 292,628 345,735 199,735 251,628"/></svg><b style="left:34px;top:47px;font-size:4.3px;color:#a8873d;font-weight:700;">為學者賦予新的定義</b><p class="f" style="left:34px;top:56px;width:80px;height:8.4px;font-size:2.5px;line-height:4.2px;color:#0d3c80;font-weight:700;"></p><p class="f" style="left:34px;top:68px;width:80px;height:8.4px;font-size:2.5px;line-height:4.2px;color:#0d3c80;font-weight:700;"></p><p class="f" style="left:34px;top:81px;width:80px;height:4.2px;font-size:2.5px;line-height:4.2px;color:#0d3c80;font-weight:700;"></p><p class="f" style="left:34px;top:90px;width:80px;height:8.4px;font-size:2.5px;line-height:4.2px;color:#0d3c80;font-weight:700;"></p></div>
<div class="t" style="left:0.0px;top:1074.4px;background:#fff;"><i style="left:13.8px;top:8.3px;width:184px;height:1.5px;background:#a9bbd4;"></i><b style="left:13.8px;top:11.2px;font-size:2.1px;color:#0d3c80;font-weight:700;">1.4 品牌概覽</b><b style="left:192px;top:11.2px;font-size:2.1px;color:#0d3c80;font-weight:700;">15</b><i style="left:13.8px;top:14.6px;width:184px;height:0.45px;background:#cfd8e4;"></i><i style="left:13.8px;top:134px;width:184px;height:0.7px;background:#cfd6df;"></i><b style="left:13.8px;top:137.2px;font-size:2.1px;color:#0d3c80;font-weight:700;">香港科技大學 <span style="color:#a8873d">品牌管理指引</span></b><b style="left:14px;top:39px;font-size:7px;color:#0d3c80;font-weight:700;">1.4 品牌特質</b><p class="f" style="left:90px;top:38.5px;width:108px;height:7.6px;font-size:2.4px;line-height:3.8px;color:#0d3c80;font-weight:700;"></p><svg style="left:14.0px;top:62px" width="16" height="11" viewBox="0 0 16 11"><g fill="#d8283c"><circle cx="3" cy="5" r="1.8"/><circle cx="8" cy="2" r="1.6"/><circle cx="12" cy="6" r="1.8"/><circle cx="7" cy="9" r="1.5"/></g><g stroke="#d8283c" stroke-width=".5"><line x1="3" y1="5" x2="8" y2="2"/><line x1="8" y1="2" x2="12" y2="6"/><line x1="12" y1="6" x2="7" y2="9"/></g></svg><b style="left:14.0px;top:77px;font-size:2.8px;color:#d8283c;font-weight:700;">創新視野</b><p class="f" style="left:14.0px;top:86px;width:30px;height:14.4px;font-size:2.3px;line-height:3.6px;color:#0d3c80;font-weight:700;"></p><svg style="left:51.7px;top:62px" width="16" height="11" viewBox="0 0 16 11"><g fill="#f29a1c"><circle cx="3" cy="5" r="1.8"/><circle cx="8" cy="2" r="1.6"/><circle cx="12" cy="6" r="1.8"/><circle cx="7" cy="9" r="1.5"/></g><g stroke="#f29a1c" stroke-width=".5"><line x1="3" y1="5" x2="8" y2="2"/><line x1="8" y1="2" x2="12" y2="6"/><line x1="12" y1="6" x2="7" y2="9"/></g></svg><b style="left:51.7px;top:77px;font-size:2.8px;color:#f29a1c;font-weight:700;">敢於求變</b><p class="f" style="left:51.7px;top:86px;width:30px;height:14.4px;font-size:2.3px;line-height:3.6px;color:#0d3c80;font-weight:700;"></p><svg style="left:89.4px;top:62px" width="16" height="11" viewBox="0 0 16 11"><g fill="#f4c400"><circle cx="3" cy="5" r="1.8"/><circle cx="8" cy="2" r="1.6"/><circle cx="12" cy="6" r="1.8"/><circle cx="7" cy="9" r="1.5"/></g><g stroke="#f4c400" stroke-width=".5"><line x1="3" y1="5" x2="8" y2="2"/><line x1="8" y1="2" x2="12" y2="6"/><line x1="12" y1="6" x2="7" y2="9"/></g></svg><b style="left:89.4px;top:77px;font-size:2.8px;color:#f4c400;font-weight:700;">不斷提升</b><p class="f" style="left:89.4px;top:86px;width:30px;height:14.4px;font-size:2.3px;line-height:3.6px;color:#0d3c80;font-weight:700;"></p><svg style="left:127.1px;top:62px" width="16" height="11" viewBox="0 0 16 11"><g fill="#1e9c4a"><circle cx="3" cy="5" r="1.8"/><circle cx="8" cy="2" r="1.6"/><circle cx="12" cy="6" r="1.8"/><circle cx="7" cy="9" r="1.5"/></g><g stroke="#1e9c4a" stroke-width=".5"><line x1="3" y1="5" x2="8" y2="2"/><line x1="8" y1="2" x2="12" y2="6"/><line x1="12" y1="6" x2="7" y2="9"/></g></svg><b style="left:127.10000000000001px;top:77px;font-size:2.8px;color:#1e9c4a;font-weight:700;">不斷進步</b><p class="f" style="left:127.10000000000001px;top:86px;width:30px;height:14.4px;font-size:2.3px;line-height:3.6px;color:#0d3c80;font-weight:700;"></p><svg style="left:164.8px;top:62px" width="16" height="11" viewBox="0 0 16 11"><g fill="#8c2740"><circle cx="3" cy="5" r="1.8"/><circle cx="8" cy="2" r="1.6"/><circle cx="12" cy="6" r="1.8"/><circle cx="7" cy="9" r="1.5"/></g><g stroke="#8c2740" stroke-width=".5"><line x1="3" y1="5" x2="8" y2="2"/><line x1="8" y1="2" x2="12" y2="6"/><line x1="12" y1="6" x2="7" y2="9"/></g></svg><b style="left:164.8px;top:77px;font-size:2.8px;color:#8c2740;font-weight:700;">與眾不同</b><p class="f" style="left:164.8px;top:86px;width:30px;height:14.4px;font-size:2.3px;line-height:3.6px;color:#0d3c80;font-weight:700;"></p></div>
<div class="t" style="left:217.2px;top:1074.4px;background:#0a6fbf;"><i style="left:13.5px;top:8.2px;width:184.5px;height:1.2px;background:rgba(255,255,255,.75);"></i><b style="left:13.5px;top:11px;font-size:2.2px;color:#fff;font-weight:700;">1.5 品牌概覽</b><b style="left:190px;top:11px;font-size:2.2px;color:#fff;font-weight:700;">16</b><i style="left:13.5px;top:134px;width:184.5px;height:0.7px;background:rgba(255,255,255,.55);"></i><b style="left:13.5px;top:137.2px;font-size:2.2px;color:#fff;font-weight:700;">香港科技大學 品牌管理指引</b><b style="left:14.5px;top:46px;font-size:7px;color:#fff;font-weight:700;">1.5 我們的學生</b><b style="left:14.5px;top:57px;font-size:3.2px;color:#f5e63a;font-weight:700;">香港科技大學讓我們擁有優秀的</b><b style="left:14.5px;top:62px;font-size:3.2px;color:#f5e63a;font-weight:700;">學生大放異彩。</b><p class="f" style="left:14.5px;top:70px;width:68px;height:18.0px;font-size:2.4px;line-height:3.6px;color:#fff;font-weight:700;"></p></div>
<div class="t" style="left:434.4px;top:1074.4px;background:#fff;"><i style="left:0px;top:0px;width:211.2px;height:149.4px;background:linear-gradient(90deg,#6a7078 0%,#b8bec6 30%,#e2e6ea 55%,#dcdfe2 100%);"></i><svg style="left:0;top:0" width="211.2" height="149.4" viewBox="0 0 211.2 149.4"><g stroke="#a9b0b8" stroke-width="2.5" fill="none"><path d="M38,18 V120 M52,22 V110 M140,0 V118 M150,10 V112 M34,24 L140,12 M40,80 L150,72"/></g><path d="M60,149 L62,112 Q68,80 98,72 L142,72 Q172,80 178,112 L176,149Z" fill="#9cc0dc"/><path d="M104,66 L136,66 L132,80 L108,80Z" fill="#caa088"/><ellipse cx="120" cy="46" rx="14" ry="18" fill="#d9ab92"/><path d="M104,40 Q106,22 122,22 Q138,22 136,40 Q130,30 120,32 Q110,30 104,40Z" fill="#3a2a22"/><path d="M70,84 Q76,70 84,72 L88,90 Z" fill="#d0a088"/><path d="M110,100 Q120,95 126,102 L120,108Z" fill="#c89a82"/><path d="M150,149 Q150,70 175,40 Q195,30 211.2,35 V149.4Z" fill="#e6e6e4"/><path d="M165,50 Q185,70 190,149 L211.2,149.4 V60Z" fill="#cfcfcc"/><ellipse cx="172" cy="14" rx="16" ry="18" fill="#c9a08a"/><path d="M160,0 H200 Q196,12 180,10 Q166,8 160,0Z" fill="#3a2a20"/><rect x="0" y="112" width="150" height="37.4" fill="#8a9098"/><rect x="60" y="116" width="70" height="18" fill="#e0e2e4" opacity=".7"/><rect x="40" y="106" width="30" height="8" fill="#2a3a2a"/><g fill="#c83a2a"><rect x="70" y="118" width="4" height="3"/><rect x="90" y="120" width="3" height="3"/></g></svg><i style="left:0px;top:0px;width:110px;height:149.4px;background:linear-gradient(90deg,rgba(40,45,52,.55),rgba(40,45,52,0));"></i><b style="left:14px;top:44px;font-size:7.5px;color:#fff;font-weight:700;">破格之士</b><p class="f" style="left:14px;top:56px;width:66px;height:10.5px;font-size:2.3px;line-height:3.5px;color:#fff;font-weight:700;"></p><p class="f" style="left:14px;top:69px;width:66px;height:7.0px;font-size:2.3px;line-height:3.5px;color:#fff;font-weight:700;"></p><p class="f" style="left:14px;top:79px;width:66px;height:7.0px;font-size:2.3px;line-height:3.5px;color:#fff;font-weight:700;"></p><b style="left:13.8px;top:137.2px;font-size:2.1px;color:#fff;font-weight:700;">香港科技大學 品牌管理指引</b></div>
<div class="t" style="left:651.6px;top:1074.4px;background:#fff;"><i style="left:0px;top:0px;width:211.2px;height:149.4px;background:radial-gradient(ellipse 8% 6% at 55% 64%,#ffffff,#fff2c0 40%,rgba(255,220,140,0) 100%),radial-gradient(ellipse 45% 8% at 55% 64%,rgba(255,230,170,.8),rgba(255,200,120,0)),radial-gradient(ellipse 5% 22% at 55% 82%,rgba(255,240,200,.75),rgba(255,220,150,0)),linear-gradient(180deg,#0b2248 0%,#1f4a80 35%,#6a90b8 58%,#d8d0b0 64%,#8aa0b8 66%,#4a6480 80%,#2a3e58 100%);"></i><svg style="left:0;top:0" width="211.2" height="149.4"><path d="M96,80 L104,70 L114,66 L118,52 L122,44 L130,42 L134,52 L146,60 L150,78 L145,80 L140,64 L132,66 L130,74 L148,86 L144,90 L124,80 L112,74 L100,84Z M122,38 a5,5 0 1,0 10,0 a5,5 0 1,0 -10,0" fill="#0a0c12"/></svg><b style="left:14px;top:43px;font-size:7.5px;color:#fff;font-weight:700;">探險智者</b><p class="f" style="left:14px;top:55px;width:70px;height:10.5px;font-size:2.3px;line-height:3.5px;color:#fff;font-weight:700;"></p><p class="f" style="left:14px;top:68px;width:70px;height:10.5px;font-size:2.3px;line-height:3.5px;color:#fff;font-weight:700;"></p><p class="f" style="left:14px;top:81px;width:70px;height:3.5px;font-size:2.3px;line-height:3.5px;color:#fff;font-weight:700;"></p><b style="left:13.8px;top:137.2px;font-size:2.1px;color:#fff;font-weight:700;">香港科技大學 品牌管理指引</b></div>
<div class="t" style="left:868.8px;top:1074.4px;background:#fff;"><i style="left:0px;top:0px;width:211.2px;height:149.4px;background:radial-gradient(ellipse 28% 30% at 28% 30%,#fffbe8,#f8e4b8 40%,rgba(240,210,160,0) 100%),linear-gradient(180deg,#a8c8e0 0%,#d8e4ea 30%,#f0e4c8 50%,#e0c498 60%);"></i><svg style="left:0;top:0" width="211.2" height="149.4"><path d="M0,10 Q30,14 50,45 Q75,80 115,100 L0,105Z" fill="#3a2a20"/><path d="M65,68 Q90,58 110,62 Q128,68 140,72 Q165,62 190,64 Q200,60 211,62 V105 H60Z" fill="#6a5848"/><path d="M150,70 Q180,62 211,66 V95 H150Z" fill="#4a4644"/><path d="M0,92 Q60,88 120,100 Q170,96 211,92 V149.4 H0Z" fill="#7a7030"/><path d="M0,115 Q100,108 211,118 V149.4 H0Z" fill="#5a5424"/><path d="M112,108 Q122,98 136,108Z" fill="#2a2a22"/><path d="M126,74 l3,-2 l2,6 l-1,14 l-2,-1z" fill="#1c1c1c"/></svg><b style="left:14px;top:72px;font-size:7.5px;color:#fff;font-weight:700;">堅毅勇者</b><p class="f" style="left:14px;top:83px;width:66px;height:10.5px;font-size:2.3px;line-height:3.5px;color:#fff;font-weight:700;"></p><p class="f" style="left:14px;top:96px;width:66px;height:7.0px;font-size:2.3px;line-height:3.5px;color:#fff;font-weight:700;"></p><p class="f" style="left:14px;top:106px;width:66px;height:7.0px;font-size:2.3px;line-height:3.5px;color:#fff;font-weight:700;"></p><b style="left:13.8px;top:137.2px;font-size:2.1px;color:#fff;font-weight:700;">香港科技大學 品牌管理指引</b></div>
<div class="t" style="left:0.0px;top:1229.9px;background:#fff;"><i style="left:0px;top:0px;width:211.2px;height:149.4px;background:linear-gradient(180deg,#eef1f4 0%,#e8ecf0 50%,#dde3ea 100%);"></i><svg style="left:0;top:0" width="211.2" height="149.4" viewBox="0 0 211.2 149.4"><path d="M80,0 H180 V60 Q170,80 130,82 Q92,80 82,60Z" fill="#e6c8b4"/><path d="M92,0 Q130,-6 172,4 L172,14 Q130,8 92,14Z" fill="#6a4a38"/><rect x="86" y="20" width="86" height="16" rx="6" fill="#9cc4e4" opacity=".85"/><rect x="88" y="38" width="80" height="28" rx="8" fill="#f6f8fa"/><path d="M0,0 H60 Q75,20 80,60 Q60,90 30,100 L0,110Z" fill="#f4f6f8"/><path d="M20,20 Q50,10 70,40 L60,70 Q40,50 20,50Z" fill="#e4e8ec"/><ellipse cx="95" cy="96" rx="24" ry="18" fill="#f2f6f8" opacity=".8"/><ellipse cx="95" cy="104" rx="20" ry="9" fill="#f0be2e"/><g fill="#f4d04a"><rect x="88" y="120" width="7" height="29"/><rect x="103" y="116" width="7" height="33"/><rect x="118" y="122" width="7" height="27"/></g><g fill="none" stroke="#c8d2dc" stroke-width="1.6"><path d="M134,90 V149 M146,88 V149 M158,92 V149 M170,86 V149 M182,92 V149 M196,88 V149"/></g><rect x="80" y="128" width="131.2" height="4" fill="#d8dee6"/><path d="M180,40 Q200,60 211.2,50 V149.4 H190Z" fill="#d4dae2"/></svg><b style="left:14px;top:40px;font-size:9px;color:#1f5fa8;font-weight:700;">無名英雄</b><p class="f" style="left:14px;top:52px;width:50px;height:3.6px;font-size:2.4px;line-height:3.6px;color:#0d3c80;font-weight:700;"></p><p class="f" style="left:14px;top:60px;width:60px;height:7.2px;font-size:2.4px;line-height:3.6px;color:#0d3c80;font-weight:700;"></p><p class="f" style="left:14px;top:71px;width:60px;height:3.6px;font-size:2.4px;line-height:3.6px;color:#0d3c80;font-weight:700;"></p><p class="f" style="left:14px;top:79px;width:60px;height:3.6px;font-size:2.4px;line-height:3.6px;color:#0d3c80;font-weight:700;"></p><i style="left:13.8px;top:134px;width:184px;height:0.7px;background:#cfd6df;"></i><b style="left:13.8px;top:137.2px;font-size:2.1px;color:#0d3c80;font-weight:700;">香港科技大學 <span style="color:#a8873d">品牌管理指引</span></b></div>
<div class="t" style="left:217.2px;top:1229.9px;background:#fff;"><i style="left:0px;top:0px;width:211.2px;height:149.4px;background:linear-gradient(90deg,#c8d0d6 0%,#aeb8c0 24%,#e8ecef 45%,#f4f6f7 75%,#d8dcde 100%);"></i><svg style="left:0;top:0" width="211.2" height="149.4" viewBox="0 0 211.2 149.4"><rect x="52" y="0" width="26" height="100" fill="#7a8288"/><rect x="185" y="0" width="10" height="149" fill="#9aa2a8"/><path d="M0,149.4 L0,108 Q12,92 30,96 Q46,104 50,149.4Z" fill="#3f5f8a"/><ellipse cx="30" cy="84" rx="12" ry="14" fill="#d8a888"/><path d="M17,80 Q24,64 40,70 L42,78 Q30,70 18,86Z" fill="#a07040"/><path d="M52,149.4 Q58,112 82,110 Q98,115 100,149.4Z" fill="#c8b8a8"/><ellipse cx="80" cy="98" rx="11" ry="13" fill="#e4b898"/><path d="M66,96 Q72,78 90,84 Q96,92 92,104 Q84,86 70,104Z" fill="#e6c890"/><path d="M92,149.4 Q96,116 112,112 Q128,116 130,149.4Z" fill="#6a6a70"/><ellipse cx="112" cy="98" rx="9" ry="11" fill="#d4a080"/><path d="M100,94 Q106,80 122,86 L124,112 Q116,96 104,112Z" fill="#3a2418"/><path d="M138,149.4 Q144,112 162,110 Q176,116 178,149.4Z" fill="#7a3a48"/><ellipse cx="160" cy="96" rx="9" ry="11" fill="#c49474"/><path d="M150,90 Q158,78 170,88 L170,96 Q160,86 150,98Z" fill="#2a1c18"/><path d="M164,149.4 Q172,112 196,108 Q211,110 211.2,120 V149.4Z" fill="#1c1c20"/><ellipse cx="190" cy="98" rx="9" ry="11" fill="#c89878"/><path d="M176,90 Q190,74 206,88 L211,140 Q198,106 180,104Z" fill="#141010"/><rect x="60" y="138" width="151.2" height="11.4" fill="#e8e4dc"/><rect x="110" y="134" width="40" height="5" fill="#f4f2ee"/></svg><b style="left:14px;top:20px;font-size:8px;color:#0d3c80;font-weight:700;">世界公民</b><p class="f" style="left:108px;top:18px;width:86px;height:10.8px;font-size:2.3px;line-height:3.6px;color:#0d3c80;font-weight:700;"></p><p class="f" style="left:108px;top:32px;width:86px;height:7.2px;font-size:2.3px;line-height:3.6px;color:#0d3c80;font-weight:700;"></p><i style="left:13.8px;top:134px;width:184px;height:0.7px;background:#cfd6df;"></i><b style="left:13.8px;top:137.2px;font-size:2.1px;color:#0d3c80;font-weight:700;">香港科技大學 <span style="color:#a8873d">品牌管理指引</span></b></div>
<div class="t" style="left:434.4px;top:1229.9px;background:#fff;"><i style="left:13.8px;top:8.3px;width:184px;height:1.5px;background:#a9bbd4;"></i><b style="left:13.8px;top:11.2px;font-size:2.1px;color:#0d3c80;font-weight:700;">1.4 品牌概覽</b><b style="left:192px;top:11.2px;font-size:2.1px;color:#0d3c80;font-weight:700;">18</b><i style="left:13.8px;top:14.6px;width:184px;height:0.45px;background:#cfd8e4;"></i><i style="left:13.8px;top:134px;width:184px;height:0.7px;background:#cfd6df;"></i><b style="left:13.8px;top:137.2px;font-size:2.1px;color:#0d3c80;font-weight:700;">香港科技大學 <span style="color:#a8873d">品牌管理指引</span></b><svg style="left:0;top:0" width="211.2" height="149.4" viewBox="0 0 211.2 149.4"><circle cx="134" cy="79" r="40" fill="#eee" opacity=".5"/><g fill="none" stroke-width="23"><path d="M108.6,64.2 A26.5,26.5 0 0 1 141.1,51.7" stroke="#7b2245"/><path d="M141.1,51.7 A26.5,26.5 0 0 1 157.6,83.5" stroke="#1e9a50"/><path d="M157.6,83.5 A26.5,26.5 0 0 1 128.3,102.8" stroke="#f2c61e"/><path d="M128.3,102.8 A26.5,26.5 0 0 1 108.6,89.0" stroke="#d7263d"/><path d="M108.6,89.0 A26.5,26.5 0 0 1 108.6,64.2" stroke="#f29b1f"/></g><circle cx="132" cy="76.6" r="14.5" fill="#fff"/><g stroke="#c9a34a" stroke-width=".35" stroke-dasharray="1 .6" fill="none"><path d="M118,40 L110,24 L104,24 M164,60 L178,48 L178,42 M160,100 L172,108 L178,108 M112,106 L108,126 L112,128 M100,76 L84,74 L76,76"/></g></svg><b style="left:16px;top:62px;font-size:3.8px;color:#0d3c80;font-weight:400;">這五項性格特質共同</b><b style="left:16px;top:68.5px;font-size:3.8px;color:#0d3c80;font-weight:400;">反映理想的品牌形象。</b><b style="left:121px;top:75px;font-size:2.4px;color:#0d3c80;font-weight:700;">創意勇者</b><b style="left:106px;top:49px;font-size:2px;color:#fff;font-weight:700;">堅毅勇者</b><b style="left:145px;top:55px;font-size:2px;color:#fff;font-weight:700;">探險智者</b><b style="left:148px;top:87px;font-size:2px;color:#fff;font-weight:700;">破格之士</b><b style="left:120px;top:102px;font-size:2px;color:#fff;font-weight:700;">無名英雄</b><b style="left:97px;top:79px;font-size:2px;color:#fff;font-weight:700;">世界公民</b></div>
<div class="t" style="left:651.6px;top:1229.9px;background:#fff;"><i style="left:13.8px;top:8.3px;width:184px;height:1.5px;background:#a9bbd4;"></i><b style="left:13.8px;top:11.2px;font-size:2.1px;color:#0d3c80;font-weight:700;">1.6 品牌概覽</b><b style="left:192px;top:11.2px;font-size:2.1px;color:#0d3c80;font-weight:700;">19</b><i style="left:13.8px;top:14.6px;width:184px;height:0.45px;background:#cfd8e4;"></i><i style="left:13.8px;top:134px;width:184px;height:0.7px;background:#cfd6df;"></i><b style="left:13.8px;top:137.2px;font-size:2.1px;color:#0d3c80;font-weight:700;">香港科技大學 <span style="color:#a8873d">品牌管理指引</span></b><b style="left:14px;top:45px;font-size:7px;color:#0d3c80;font-weight:700;">1.6 品牌資產</b><p class="f" style="left:14px;top:55px;width:80px;height:10.8px;font-size:2.3px;line-height:3.6px;color:#0d3c80;font-weight:700;"></p><b style="left:102px;top:45px;font-size:2.6px;color:#a8873d;font-weight:700;">學術卓越</b><p class="f" style="left:128px;top:45px;width:72px;height:7.2px;font-size:2.3px;line-height:3.6px;color:#0d3c80;font-weight:700;"></p><b style="left:102px;top:56.5px;font-size:2.6px;color:#a8873d;font-weight:700;">學術卓越</b><p class="f" style="left:128px;top:56.5px;width:72px;height:7.2px;font-size:2.3px;line-height:3.6px;color:#0d3c80;font-weight:700;"></p><b style="left:102px;top:68px;font-size:2.6px;color:#a8873d;font-weight:700;">學術卓越</b><p class="f" style="left:128px;top:68px;width:72px;height:7.2px;font-size:2.3px;line-height:3.6px;color:#0d3c80;font-weight:700;"></p><b style="left:102px;top:79px;font-size:2.6px;color:#a8873d;font-weight:700;">學術卓越</b><p class="f" style="left:128px;top:79px;width:72px;height:10.8px;font-size:2.3px;line-height:3.6px;color:#0d3c80;font-weight:700;"></p></div>
<div class="t" style="left:868.8px;top:1229.9px;background:#fff;"><i style="left:13.8px;top:8.3px;width:184px;height:1.5px;background:#a9bbd4;"></i><b style="left:13.8px;top:11.2px;font-size:2.1px;color:#0d3c80;font-weight:700;">1.6 品牌概覽</b><b style="left:192px;top:11.2px;font-size:2.1px;color:#0d3c80;font-weight:700;">20</b><i style="left:13.8px;top:14.6px;width:184px;height:0.45px;background:#cfd8e4;"></i><i style="left:13.8px;top:134px;width:184px;height:0.7px;background:#cfd6df;"></i><b style="left:13.8px;top:137.2px;font-size:2.1px;color:#0d3c80;font-weight:700;">香港科技大學 <span style="color:#a8873d">品牌管理指引</span></b><b style="left:90px;top:21px;font-size:3.6px;color:#0d3c80;font-weight:700;">堅毅勇者表現</b><svg style="left:103px;top:28px" width="8" height="4"><path d="M0,4 L4,0 L8,4Z" fill="#c9a34a"/></svg><i style="left:53px;top:34.5px;width:102px;height:11.5px;background:#2c5394;"></i><i style="left:157px;top:34.5px;width:32px;height:11.5px;background:#fff;border:0.5px solid #ccc"></i><i style="left:53px;top:49px;width:102px;height:16.5px;background:#2c5394;"></i><i style="left:157px;top:49px;width:32px;height:16.5px;background:#fff;border:0.5px solid #ccc"></i><i style="left:54.0px;top:69px;width:17.5px;height:10px;background:#a9bfdc;"></i><i style="left:74.4px;top:69px;width:17.5px;height:10px;background:#a9bfdc;"></i><i style="left:94.8px;top:69px;width:17.5px;height:10px;background:#a9bfdc;"></i><i style="left:115.19999999999999px;top:69px;width:17.5px;height:10px;background:#a9bfdc;"></i><i style="left:135.6px;top:69px;width:17.5px;height:10px;background:#a9bfdc;"></i><i style="left:157px;top:69px;width:32px;height:10px;background:#fff;border:0.5px solid #ccc"></i><i style="left:54.0px;top:83.5px;width:17.5px;height:10px;background:#a9bfdc;"></i><i style="left:74.4px;top:83.5px;width:17.5px;height:10px;background:#a9bfdc;"></i><i style="left:94.8px;top:83.5px;width:17.5px;height:10px;background:#a9bfdc;"></i><i style="left:115.19999999999999px;top:83.5px;width:17.5px;height:10px;background:#a9bfdc;"></i><i style="left:135.6px;top:83.5px;width:17.5px;height:10px;background:#a9bfdc;"></i><i style="left:157px;top:83.5px;width:32px;height:10px;background:#fff;border:0.5px solid #ccc"></i><i style="left:54.0px;top:96px;width:17.5px;height:10px;background:#a9bfdc;"></i><i style="left:74.4px;top:96px;width:17.5px;height:10px;background:#a9bfdc;"></i><i style="left:94.8px;top:96px;width:17.5px;height:10px;background:#a9bfdc;"></i><i style="left:115.19999999999999px;top:96px;width:17.5px;height:10px;background:#a9bfdc;"></i><i style="left:135.6px;top:96px;width:17.5px;height:10px;background:#a9bfdc;"></i><i style="left:157px;top:96px;width:32px;height:10px;background:#fff;border:0.5px solid #ccc"></i><i style="left:53px;top:107.5px;width:102px;height:10.5px;background:#c8d3e6;"></i><i style="left:157px;top:107.5px;width:32px;height:10.5px;background:#fff;border:0.5px solid #ccc"></i><i style="left:32px;top:51px;width:6px;height:67px;border-left:0.6px solid #c9a34a;border-top:0.6px solid #c9a34a;border-bottom:0.6px solid #c9a34a;"></i><p class="f" style="left:60px;top:38.5px;width:88px;height:3.5px;font-size:2.3px;line-height:3.5px;color:#fff;font-weight:700;"></p><p class="f" style="left:60px;top:52px;width:88px;height:10.5px;font-size:2.3px;line-height:3.5px;color:#fff;font-weight:700;"></p><p class="f" style="left:24px;top:80px;width:28px;height:6.8px;font-size:2.2px;line-height:3.4px;color:#0d3c80;font-weight:700;"></p></div>
<div class="t" style="left:0.0px;top:1385.4px;background:#0c3a7e;"><svg style="left:0;top:0;opacity:1.0" width="211.2" height="149.4" viewBox="0 0 211.2 149.4"><defs><filter id="jb" x="-20%" y="-20%" width="140%" height="140%"><feGaussianBlur stdDeviation="2.5"/></filter></defs><path d="M0,78.0 C20,82.0 40,110.0 64,107.0 C88,103.0 108,72.0 121,40.0 C130,24.0 152,26.0 168,37.0 C184,48.0 198,58.0 212,63.0" fill="none" stroke="#39b8e8" stroke-width="12" stroke-opacity=".28" filter="url(#jb)"/><path d="M121,36.0 C126,58.0 136,84.0 148,90.0 C158,84.0 164,62.0 170,42.0" fill="none" stroke="#39b8e8" stroke-width="10" stroke-opacity=".18" filter="url(#jb)"/><g fill="none" stroke="#6fd8f6" stroke-width="0.5" stroke-opacity="0.75" stroke-dasharray="0.7 0.8"><path d="M0,69.2 C20,71.4 40,104.7 64,100.8 C88,94.2 108,62.3 121,33.0 C130,19.6 152,21.6 168,29.1 C184,37.4 198,43.9 212,47.2 M0,70.3 C20,72.8 40,105.4 64,101.6 C88,95.3 108,63.5 121,33.8 C130,20.1 152,22.1 168,30.1 C184,38.8 198,45.7 212,49.1 M0,71.4 C20,74.1 40,106.0 64,102.4 C88,96.4 108,64.7 121,34.7 C130,20.7 152,22.7 168,31.1 C184,40.1 198,47.4 212,51.1 M0,72.5 C20,75.4 40,106.7 64,103.2 C88,97.5 108,66.0 121,35.6 C130,21.2 152,23.2 168,32.0 C184,41.4 198,49.2 212,53.1 M0,73.6 C20,76.7 40,107.4 64,103.9 C88,98.6 108,67.2 121,36.5 C130,21.8 152,23.8 168,33.0 C184,42.7 198,51.0 212,55.1 M0,74.7 C20,78.0 40,108.0 64,104.7 C88,99.7 108,68.4 121,37.4 C130,22.4 152,24.4 168,34.0 C184,44.0 198,52.7 212,57.1 M0,75.8 C20,79.4 40,108.7 64,105.5 C88,100.8 108,69.6 121,38.2 C130,22.9 152,24.9 168,35.0 C184,45.4 198,54.5 212,59.0 M0,76.9 C20,80.7 40,109.3 64,106.2 C88,101.9 108,70.8 121,39.1 C130,23.4 152,25.4 168,36.0 C184,46.7 198,56.2 212,61.0 M0,78.0 C20,82.0 40,110.0 64,107.0 C88,103.0 108,72.0 121,40.0 C130,24.0 152,26.0 168,37.0 C184,48.0 198,58.0 212,63.0 M0,79.1 C20,83.3 40,110.7 64,107.8 C88,104.1 108,73.2 121,40.9 C130,24.6 152,26.6 168,38.0 C184,49.3 198,59.8 212,65.0 M0,80.2 C20,84.6 40,111.3 64,108.5 C88,105.2 108,74.4 121,41.8 C130,25.1 152,27.1 168,39.0 C184,50.6 198,61.5 212,67.0 M0,81.3 C20,86.0 40,112.0 64,109.3 C88,106.3 108,75.6 121,42.6 C130,25.6 152,27.6 168,40.0 C184,52.0 198,63.3 212,68.9 M0,82.4 C20,87.3 40,112.6 64,110.1 C88,107.4 108,76.8 121,43.5 C130,26.2 152,28.2 168,41.0 C184,53.3 198,65.0 212,70.9 M0,83.5 C20,88.6 40,113.3 64,110.8 C88,108.5 108,78.0 121,44.4 C130,26.8 152,28.8 168,42.0 C184,54.6 198,66.8 212,72.9 M0,84.6 C20,89.9 40,114.0 64,111.6 C88,109.6 108,79.3 121,45.3 C130,27.3 152,29.3 168,42.9 C184,55.9 198,68.6 212,74.9 M0,85.7 C20,91.2 40,114.6 64,112.4 C88,110.7 108,80.5 121,46.2 C130,27.9 152,29.9 168,43.9 C184,57.2 198,70.3 212,76.9 M0,86.8 C20,92.6 40,115.3 64,113.2 C88,111.8 108,81.7 121,47.0 C130,28.4 152,30.4 168,44.9 C184,58.6 198,72.1 212,78.8"/></g><g fill="none" stroke="#5cc4ee" stroke-width="0.45" stroke-opacity="0.6" stroke-dasharray="0.7 0.9"><path d="M121,33.1 C126,48.4 136,76.3 148,86.2 C158,74.4 164,54.3 170,37.2 M121,33.6 C126,50.0 136,77.6 148,86.8 C158,76.0 164,55.6 170,38.0 M121,34.1 C126,51.6 136,78.9 148,87.4 C158,77.6 164,56.9 170,38.8 M121,34.6 C126,53.2 136,80.2 148,88.1 C158,79.2 164,58.2 170,39.6 M121,35.0 C126,54.8 136,81.4 148,88.7 C158,80.8 164,59.4 170,40.4 M121,35.5 C126,56.4 136,82.7 148,89.4 C158,82.4 164,60.7 170,41.2 M121,36.0 C126,58.0 136,84.0 148,90.0 C158,84.0 164,62.0 170,42.0 M121,36.5 C126,59.6 136,85.3 148,90.6 C158,85.6 164,63.3 170,42.8 M121,37.0 C126,61.2 136,86.6 148,91.3 C158,87.2 164,64.6 170,43.6 M121,37.4 C126,62.8 136,87.8 148,91.9 C158,88.8 164,65.8 170,44.4 M121,37.9 C126,64.4 136,89.1 148,92.6 C158,90.4 164,67.1 170,45.2 M121,38.4 C126,66.0 136,90.4 148,93.2 C158,92.0 164,68.4 170,46.0"/></g><g fill="none" stroke="#4aa8e0" stroke-width="0.35" stroke-opacity="0.3"><path d="M30,88.5 C60,110.5 110,112.0 150,95.0 C170,88.5 190,82.5 212,78.5 M30,90.0 C60,112.0 110,113.2 150,96.8 C170,90.0 190,84.0 212,80.0 M30,91.5 C60,113.5 110,114.4 150,98.6 C170,91.5 190,85.5 212,81.5 M30,93.0 C60,115.0 110,115.6 150,100.4 C170,93.0 190,87.0 212,83.0 M30,94.5 C60,116.5 110,116.8 150,102.2 C170,94.5 190,88.5 212,84.5 M30,96.0 C60,118.0 110,118.0 150,104.0 C170,96.0 190,90.0 212,86.0 M30,97.5 C60,119.5 110,119.2 150,105.8 C170,97.5 190,91.5 212,87.5 M30,99.0 C60,121.0 110,120.4 150,107.6 C170,99.0 190,93.0 212,89.0 M30,100.5 C60,122.5 110,121.6 150,109.4 C170,100.5 190,94.5 212,90.5 M30,102.0 C60,124.0 110,122.8 150,111.2 C170,102.0 190,96.0 212,92.0"/></g><ellipse cx="196" cy="68" rx="14" ry="8" fill="#8a7ae0" opacity=".25" filter="url(#jb)"/></svg><b style="left:14.5px;top:28px;font-size:6.8px;color:#fff;font-weight:400;">02 品牌傳調</b><p class="f" style="left:14.5px;top:38px;width:86px;height:6.8px;font-size:2.3px;line-height:3.4px;color:#fff;font-weight:700;"></p><p class="f" style="left:14.5px;top:47px;width:86px;height:17.0px;font-size:2.3px;line-height:3.4px;color:#fff;font-weight:700;"></p><b style="left:13.8px;top:137.2px;font-size:2.1px;color:#fff;font-weight:700;">香港科技大學 品牌管理指引</b></div>
<div class="t" style="left:217.2px;top:1385.4px;background:#07090e;"><svg style="left:0;top:0" width="211.2" height="149.4" viewBox="0 0 211.2 149.4"><rect width="211.2" height="149.4" fill="#07090e"/><defs><linearGradient id="ag" x1="0" y1="0" x2="0" y2="1"><stop offset="0" stop-color="#4f8ec4"/><stop offset="1" stop-color="#9fc4e4"/></linearGradient></defs><path d="M12,105 A95,95 0 0 1 200,105Z" fill="url(#ag)"/><rect x="105" y="10" width="95" height="95" fill="#ffffff" opacity=".12"/><path d="M0,105 H211 V108 H0Z" fill="#222"/><g fill="#07090e"><ellipse cx="10" cy="99" rx="3" ry="5"/><ellipse cx="17" cy="98" rx="3" ry="5"/><ellipse cx="24" cy="103" rx="3" ry="5"/><ellipse cx="31" cy="102" rx="3" ry="5"/><ellipse cx="38" cy="101" rx="3" ry="5"/><ellipse cx="45" cy="100" rx="3" ry="5"/><ellipse cx="52" cy="99" rx="3" ry="5"/><ellipse cx="59" cy="98" rx="3" ry="5"/><ellipse cx="66" cy="103" rx="3" ry="5"/><ellipse cx="73" cy="102" rx="3" ry="5"/><ellipse cx="80" cy="101" rx="3" ry="5"/><ellipse cx="87" cy="100" rx="3" ry="5"/><ellipse cx="94" cy="99" rx="3" ry="5"/><ellipse cx="101" cy="98" rx="3" ry="5"/><ellipse cx="108" cy="103" rx="3" ry="5"/><ellipse cx="115" cy="102" rx="3" ry="5"/><ellipse cx="122" cy="101" rx="3" ry="5"/><ellipse cx="129" cy="100" rx="3" ry="5"/><ellipse cx="136" cy="99" rx="3" ry="5"/><ellipse cx="143" cy="98" rx="3" ry="5"/><ellipse cx="150" cy="103" rx="3" ry="5"/><ellipse cx="157" cy="102" rx="3" ry="5"/><ellipse cx="164" cy="101" rx="3" ry="5"/><ellipse cx="171" cy="100" rx="3" ry="5"/><ellipse cx="178" cy="99" rx="3" ry="5"/><ellipse cx="185" cy="98" rx="3" ry="5"/><ellipse cx="192" cy="103" rx="3" ry="5"/><ellipse cx="199" cy="102" rx="3" ry="5"/></g><rect x="0" y="106" width="211.2" height="44" fill="#07090e"/></svg><i style="left:13.5px;top:8.2px;width:184.5px;height:1.2px;background:rgba(255,255,255,.5);"></i><b style="left:13.5px;top:11px;font-size:2.2px;color:#fff;font-weight:700;">2.1 品牌傳播</b><b style="left:190px;top:11px;font-size:2.2px;color:#fff;font-weight:700;">22</b><i style="left:13.5px;top:134px;width:184.5px;height:0.7px;background:rgba(255,255,255,.55);"></i><b style="left:13.5px;top:137.2px;font-size:2.2px;color:#fff;font-weight:700;">香港科技大學 品牌管理指引</b><b style="left:60px;top:50px;font-size:7px;color:#fff;font-weight:400;">2.1 我們應如何傳意？</b><p class="f" style="left:118px;top:64px;width:70px;height:7.0px;font-size:2.3px;line-height:3.5px;color:#0d3c80;font-weight:700;"></p><p class="f" style="left:118px;top:73px;width:70px;height:10.5px;font-size:2.3px;line-height:3.5px;color:#0d3c80;font-weight:700;"></p></div>
<div class="t" style="left:434.4px;top:1385.4px;background:#fff;"><i style="left:13.8px;top:8.3px;width:184px;height:1.5px;background:#a9bbd4;"></i><b style="left:13.8px;top:11.2px;font-size:2.1px;color:#0d3c80;font-weight:700;">2.1 品牌傳播</b><b style="left:192px;top:11.2px;font-size:2.1px;color:#0d3c80;font-weight:700;">25</b><i style="left:13.8px;top:14.6px;width:184px;height:0.45px;background:#cfd8e4;"></i><i style="left:13.8px;top:134px;width:184px;height:0.7px;background:#cfd6df;"></i><b style="left:13.8px;top:137.2px;font-size:2.1px;color:#0d3c80;font-weight:700;">香港科技大學 <span style="color:#a8873d">品牌管理指引</span></b><svg style="left:0;top:0" width="211.2" height="149.4" viewBox="0 0 211.2 149.4"><g fill="none" stroke-width="1.3"><path d="M30,55 H72 Q78,55 82,62 A24,24 0 0 1 100,48" stroke="#d7263d"/><path d="M103,47 Q103,27 110,27 H196" stroke="#f29b1f"/><path d="M103,47 A25,25 0 0 1 128,64" stroke="#f29b1f"/><path d="M130,66 A25,25 0 0 1 126,92 Q140,60 150,58 H198" stroke="#f2c12e"/><path d="M124,94 A25,25 0 0 1 88,92 M126,92 Q132,104 140,106 H196" stroke="#2fa052"/><path d="M86,90 A25,25 0 0 1 82,62 M86,90 Q85,104 72,104 H30" stroke="#8b3da0"/><path d="M84,88 A22,22 0 0 1 100,51" stroke="#8b3da0"/></g></svg><b style="left:14px;top:49px;font-size:8px;color:#d7263d;font-weight:400;">01</b><b style="left:91px;top:27px;font-size:8px;color:#f29b1f;font-weight:400;">02</b><b style="left:135px;top:50px;font-size:8px;color:#f2c12e;font-weight:400;">03</b><b style="left:117px;top:100px;font-size:8px;color:#2fa052;font-weight:400;">04</b><b style="left:23px;top:98px;font-size:8px;color:#8b3da0;font-weight:400;">05</b><b style="left:88px;top:63px;font-size:4.6px;color:#0d3c80;font-weight:400;">不只關注內容</b><b style="left:88px;top:69.5px;font-size:4.6px;color:#0d3c80;font-weight:400;">更要巧妙傳意</b><p class="f" style="left:26px;top:50px;width:50px;height:6.6px;font-size:2.2px;line-height:3.3px;color:#0d3c80;font-weight:700;"></p><p class="f" style="left:26px;top:61px;width:50px;height:13.2px;font-size:2.2px;line-height:3.3px;color:#333;font-weight:700;"></p><p class="f" style="left:108px;top:22px;width:85px;height:3.3px;font-size:2.2px;line-height:3.3px;color:#0d3c80;font-weight:700;"></p><p class="f" style="left:108px;top:30px;width:85px;height:9.899999999999999px;font-size:2.2px;line-height:3.3px;color:#333;font-weight:700;"></p><p class="f" style="left:146px;top:52px;width:50px;height:3.3px;font-size:2.2px;line-height:3.3px;color:#0d3c80;font-weight:700;"></p><p class="f" style="left:146px;top:62px;width:50px;height:9.899999999999999px;font-size:2.2px;line-height:3.3px;color:#333;font-weight:700;"></p><p class="f" style="left:133px;top:100px;width:60px;height:3.3px;font-size:2.2px;line-height:3.3px;color:#0d3c80;font-weight:700;"></p><p class="f" style="left:133px;top:107px;width:60px;height:6.6px;font-size:2.2px;line-height:3.3px;color:#333;font-weight:700;"></p><p class="f" style="left:34px;top:99px;width:50px;height:3.3px;font-size:2.2px;line-height:3.3px;color:#0d3c80;font-weight:700;"></p><p class="f" style="left:34px;top:107px;width:50px;height:9.899999999999999px;font-size:2.2px;line-height:3.3px;color:#333;font-weight:700;"></p><p class="f" style="left:14px;top:125px;width:60px;height:6.2px;font-size:2.1px;line-height:3.1px;color:#333;font-weight:700;"></p></div>
<div class="t" style="left:651.6px;top:1385.4px;background:#fff;"><i style="left:13.8px;top:8.3px;width:184px;height:1.5px;background:#a9bbd4;"></i><b style="left:13.8px;top:11.2px;font-size:2.1px;color:#0d3c80;font-weight:700;">2.2 品牌傳播</b><b style="left:192px;top:11.2px;font-size:2.1px;color:#0d3c80;font-weight:700;">26</b><i style="left:13.8px;top:14.6px;width:184px;height:0.45px;background:#cfd8e4;"></i><i style="left:13.8px;top:134px;width:184px;height:0.7px;background:#cfd6df;"></i><b style="left:13.8px;top:137.2px;font-size:2.1px;color:#0d3c80;font-weight:700;">香港科技大學 <span style="color:#a8873d">品牌管理指引</span></b><b style="left:14px;top:30.5px;font-size:6.3px;color:#0d3c80;font-weight:700;">我們該如何表達？</b><i style="left:14px;top:57px;width:86px;height:60px;border-left:0.8px solid #d7263d;border-bottom:0.8px solid #d7263d;"></i><i style="left:106px;top:57px;width:86px;height:60px;border-left:0.8px solid #e8a33a;border-bottom:0.8px solid #e8a33a;"></i><b style="left:17px;top:58px;font-size:2.8px;color:#222;font-weight:700;">01. 充滿熱誠</b><b style="left:17px;top:63.5px;font-size:3px;color:#d7263d;font-weight:700;">創意創新</b><b style="left:17px;top:68px;font-size:3px;color:#d7263d;font-weight:700;">擁有卓越成果</b><p class="f" style="left:17px;top:72.5px;width:80px;height:3.4px;font-size:2.3px;line-height:3.4px;color:#222;font-weight:700;"></p><p class="f" style="left:17px;top:80px;width:80px;height:3.2px;font-size:2.2px;line-height:3.2px;color:#222;font-weight:400;"></p><p class="f" style="left:17px;top:86px;width:80px;height:12.8px;font-size:2.2px;line-height:3.2px;color:#444;font-weight:400;"></p><p class="f" style="left:17px;top:101px;width:80px;height:16.0px;font-size:2.2px;line-height:3.2px;color:#444;font-weight:400;"></p><b style="left:109px;top:58px;font-size:2.8px;color:#222;font-weight:700;">02. 勇於開拓</b><b style="left:109px;top:63px;font-size:3px;color:#e8a33a;font-weight:700;">開拓新疆界的人才</b><p class="f" style="left:109px;top:67.5px;width:80px;height:3.4px;font-size:2.3px;line-height:3.4px;color:#222;font-weight:700;"></p><p class="f" style="left:109px;top:80px;width:80px;height:3.2px;font-size:2.2px;line-height:3.2px;color:#222;font-weight:400;"></p><p class="f" style="left:109px;top:86px;width:80px;height:9.600000000000001px;font-size:2.2px;line-height:3.2px;color:#444;font-weight:400;"></p><p class="f" style="left:109px;top:98px;width:80px;height:9.600000000000001px;font-size:2.2px;line-height:3.2px;color:#444;font-weight:400;"></p><p class="f" style="left:14px;top:125px;width:60px;height:6.2px;font-size:2.1px;line-height:3.1px;color:#333;font-weight:700;"></p></div>
<div class="t" style="left:868.8px;top:1385.4px;background:#fff;"><i style="left:13.8px;top:8.3px;width:184px;height:1.5px;background:#a9bbd4;"></i><b style="left:13.8px;top:11.2px;font-size:2.1px;color:#0d3c80;font-weight:700;">2.2 品牌傳播</b><b style="left:192px;top:11.2px;font-size:2.1px;color:#0d3c80;font-weight:700;">27</b><i style="left:13.8px;top:14.6px;width:184px;height:0.45px;background:#cfd8e4;"></i><i style="left:13.8px;top:134px;width:184px;height:0.7px;background:#cfd6df;"></i><b style="left:13.8px;top:137.2px;font-size:2.1px;color:#0d3c80;font-weight:700;">香港科技大學 <span style="color:#a8873d">品牌管理指引</span></b><b style="left:14px;top:30px;font-size:6.3px;color:#0d3c80;font-weight:700;">我們該如何表達？</b><i style="left:14px;top:52px;width:60px;height:70px;border-left:0.8px solid #e8c21a;border-bottom:0.8px solid #e8c21a;"></i><b style="left:18px;top:53px;font-size:2.8px;color:#222;font-weight:700;">03. 關心大眾</b><b style="left:18px;top:57.5px;font-size:3px;color:#e8c21a;font-weight:700;">科技以人為本</b><p class="f" style="left:18px;top:62px;width:54px;height:6.6px;font-size:2.2px;line-height:3.3px;color:#222;font-weight:700;"></p><p class="f" style="left:18px;top:75px;width:54px;height:3.2px;font-size:2.2px;line-height:3.2px;color:#444;font-weight:400;"></p><p class="f" style="left:18px;top:82px;width:54px;height:9.600000000000001px;font-size:2.2px;line-height:3.2px;color:#444;font-weight:400;"></p><p class="f" style="left:18px;top:95px;width:54px;height:12.8px;font-size:2.2px;line-height:3.2px;color:#444;font-weight:400;"></p><i style="left:76px;top:52px;width:60px;height:70px;border-left:0.8px solid #2fa07a;border-bottom:0.8px solid #2fa07a;"></i><b style="left:80px;top:53px;font-size:2.8px;color:#222;font-weight:700;">04. 富於啓發</b><b style="left:80px;top:57.5px;font-size:3px;color:#2fa07a;font-weight:700;">科技以人為本</b><p class="f" style="left:80px;top:62px;width:54px;height:6.6px;font-size:2.2px;line-height:3.3px;color:#222;font-weight:700;"></p><p class="f" style="left:80px;top:75px;width:54px;height:3.2px;font-size:2.2px;line-height:3.2px;color:#444;font-weight:400;"></p><p class="f" style="left:80px;top:82px;width:54px;height:9.600000000000001px;font-size:2.2px;line-height:3.2px;color:#444;font-weight:400;"></p><p class="f" style="left:80px;top:95px;width:54px;height:12.8px;font-size:2.2px;line-height:3.2px;color:#444;font-weight:400;"></p><i style="left:138px;top:52px;width:60px;height:70px;border-left:0.8px solid #8c2740;border-bottom:0.8px solid #8c2740;"></i><b style="left:142px;top:53px;font-size:2.8px;color:#222;font-weight:700;">05. 細位考量</b><b style="left:142px;top:57.5px;font-size:3px;color:#8c2740;font-weight:700;">科技以人為本</b><p class="f" style="left:142px;top:62px;width:54px;height:6.6px;font-size:2.2px;line-height:3.3px;color:#222;font-weight:700;"></p><p class="f" style="left:142px;top:75px;width:54px;height:3.2px;font-size:2.2px;line-height:3.2px;color:#444;font-weight:400;"></p><p class="f" style="left:142px;top:82px;width:54px;height:9.600000000000001px;font-size:2.2px;line-height:3.2px;color:#444;font-weight:400;"></p><p class="f" style="left:142px;top:95px;width:54px;height:12.8px;font-size:2.2px;line-height:3.2px;color:#444;font-weight:400;"></p><p class="f" style="left:14px;top:125px;width:60px;height:6.2px;font-size:2.1px;line-height:3.1px;color:#333;font-weight:700;"></p></div>
<div class="t" style="left:0.0px;top:1540.8px;background:#fff;"><i style="left:13.8px;top:8.3px;width:184px;height:1.5px;background:#a9bbd4;"></i><b style="left:13.8px;top:11.2px;font-size:2.1px;color:#0d3c80;font-weight:700;">2.2 品牌傳播</b><b style="left:192px;top:11.2px;font-size:2.1px;color:#0d3c80;font-weight:700;">23</b><i style="left:13.8px;top:14.6px;width:184px;height:0.45px;background:#cfd8e4;"></i><i style="left:13.8px;top:134px;width:184px;height:0.7px;background:#cfd6df;"></i><b style="left:13.8px;top:137.2px;font-size:2.1px;color:#0d3c80;font-weight:700;">香港科技大學 <span style="color:#a8873d">品牌管理指引</span></b><i style="left:0px;top:16.7px;width:80px;height:97.5px;background:#0a6fbf;"></i><b style="left:14px;top:53.5px;font-size:6.5px;color:#fff;font-weight:400;">2.2 品牌表述</b><i style="left:81.7px;top:23.4px;width:38.8px;height:48.3px;background:#0a6fbf;"></i><p class="f" style="left:84px;top:26px;width:34px;height:10.5px;font-size:2.3px;line-height:3.5px;color:#fff;font-weight:700;"></p><b style="left:123px;top:28px;font-size:3px;color:#8c2740;font-weight:700;">充滿熱誠</b><p class="f" style="left:123px;top:36px;width:30px;height:29.7px;font-size:2.3px;line-height:3.3px;color:#333;font-weight:400;"></p><b style="left:159px;top:28px;font-size:3px;color:#f29a1c;font-weight:700;">勇於開拓</b><p class="f" style="left:159px;top:36px;width:30px;height:29.7px;font-size:2.3px;line-height:3.3px;color:#333;font-weight:400;"></p><b style="left:84px;top:79px;font-size:3px;color:#e6b800;font-weight:700;">關心大眾</b><p class="f" style="left:84px;top:87px;width:30px;height:29.7px;font-size:2.3px;line-height:3.3px;color:#333;font-weight:400;"></p><b style="left:123px;top:79px;font-size:3px;color:#2fa052;font-weight:700;">富於啓發</b><p class="f" style="left:123px;top:87px;width:30px;height:29.7px;font-size:2.3px;line-height:3.3px;color:#333;font-weight:400;"></p><b style="left:159px;top:79px;font-size:3px;color:#8c2740;font-weight:700;">細位考量</b><p class="f" style="left:159px;top:87px;width:30px;height:29.7px;font-size:2.3px;line-height:3.3px;color:#333;font-weight:400;"></p><p class="f" style="left:14px;top:122px;width:60px;height:6.4px;font-size:2.2px;line-height:3.2px;color:#333;font-weight:700;"></p></div>
<div class="t" style="left:217.2px;top:1540.8px;background:#fff;"><i style="left:0px;top:17px;width:105px;height:113px;background:repeating-linear-gradient(135deg,#f6f7f9 0 3.2px,#fff 3.2px 6.7px);"></i><i style="left:13.8px;top:8.3px;width:184px;height:1.5px;background:#a9bbd4;"></i><b style="left:13.8px;top:11.2px;font-size:2.1px;color:#0d3c80;font-weight:700;">2.3 品牌傳播</b><b style="left:192px;top:11.2px;font-size:2.1px;color:#0d3c80;font-weight:700;">24</b><i style="left:13.8px;top:14.6px;width:184px;height:0.45px;background:#cfd8e4;"></i><i style="left:13.8px;top:134px;width:184px;height:0.7px;background:#cfd6df;"></i><b style="left:13.8px;top:137.2px;font-size:2.1px;color:#0d3c80;font-weight:700;">香港科技大學 <span style="color:#a8873d">品牌管理指引</span></b><b style="left:14px;top:58.5px;font-size:6.8px;color:#0d3c80;font-weight:700;">2.3 寫作竅門</b><p class="f" style="left:104.5px;top:33.5px;width:92px;height:11.399999999999999px;font-size:2.4px;line-height:3.8px;color:#0d3c80;font-weight:700;"></p><p class="f" style="left:104.5px;top:47px;width:92px;height:3.8px;font-size:2.4px;line-height:3.8px;color:#0d3c80;font-weight:700;"></p><p class="f" style="left:104.5px;top:55px;width:60px;height:3.8px;font-size:2.4px;line-height:3.8px;color:#0d3c80;font-weight:700;"></p></div>
<div class="t" style="left:434.4px;top:1540.8px;background:#fff;"><i style="left:0px;top:17px;width:105px;height:113px;background:repeating-linear-gradient(135deg,#f6f7f9 0 3.2px,#fff 3.2px 6.7px);"></i><i style="left:13.8px;top:8.3px;width:184px;height:1.5px;background:#a9bbd4;"></i><b style="left:13.8px;top:11.2px;font-size:2.1px;color:#0d3c80;font-weight:700;">2.4 品牌傳播</b><b style="left:192px;top:11.2px;font-size:2.1px;color:#0d3c80;font-weight:700;">28</b><i style="left:13.8px;top:14.6px;width:184px;height:0.45px;background:#cfd8e4;"></i><i style="left:13.8px;top:134px;width:184px;height:0.7px;background:#cfd6df;"></i><b style="left:13.8px;top:137.2px;font-size:2.1px;color:#0d3c80;font-weight:700;">香港科技大學 <span style="color:#a8873d">品牌管理指引</span></b><b style="left:14px;top:41px;font-size:6.8px;color:#0d3c80;font-weight:700;">2.4 文體指引</b><p class="f" style="left:103px;top:41px;width:94px;height:7.2px;font-size:2.4px;line-height:3.6px;color:#0d3c80;font-weight:700;"></p><p class="f" style="left:103px;top:52px;width:94px;height:10.8px;font-size:2.4px;line-height:3.6px;color:#0d3c80;font-weight:700;"></p><p class="f" style="left:103px;top:68px;width:50px;height:26.599999999999998px;font-size:2.4px;line-height:3.8px;color:#1f64b8;font-weight:700;"></p><p class="f" style="left:103px;top:101px;width:80px;height:3.6px;font-size:2.4px;line-height:3.6px;color:#0d3c80;font-weight:700;"></p><p class="f" style="left:103px;top:109px;width:20px;height:3.6px;font-size:2.4px;line-height:3.6px;color:#1f64b8;font-weight:700;"></p></div>
<div class="t" style="left:651.6px;top:1540.8px;background:#0c3a7e;"><svg style="left:0;top:0;opacity:1.0" width="211.2" height="149.4" viewBox="0 0 211.2 149.4"><defs><filter id="jb" x="-20%" y="-20%" width="140%" height="140%"><feGaussianBlur stdDeviation="2.5"/></filter></defs><path d="M0,78.0 C20,82.0 40,110.0 64,107.0 C88,103.0 108,72.0 121,40.0 C130,24.0 152,26.0 168,37.0 C184,48.0 198,58.0 212,63.0" fill="none" stroke="#39b8e8" stroke-width="12" stroke-opacity=".28" filter="url(#jb)"/><path d="M121,36.0 C126,58.0 136,84.0 148,90.0 C158,84.0 164,62.0 170,42.0" fill="none" stroke="#39b8e8" stroke-width="10" stroke-opacity=".18" filter="url(#jb)"/><g fill="none" stroke="#6fd8f6" stroke-width="0.5" stroke-opacity="0.75" stroke-dasharray="0.7 0.8"><path d="M0,69.2 C20,71.4 40,104.7 64,100.8 C88,94.2 108,62.3 121,33.0 C130,19.6 152,21.6 168,29.1 C184,37.4 198,43.9 212,47.2 M0,70.3 C20,72.8 40,105.4 64,101.6 C88,95.3 108,63.5 121,33.8 C130,20.1 152,22.1 168,30.1 C184,38.8 198,45.7 212,49.1 M0,71.4 C20,74.1 40,106.0 64,102.4 C88,96.4 108,64.7 121,34.7 C130,20.7 152,22.7 168,31.1 C184,40.1 198,47.4 212,51.1 M0,72.5 C20,75.4 40,106.7 64,103.2 C88,97.5 108,66.0 121,35.6 C130,21.2 152,23.2 168,32.0 C184,41.4 198,49.2 212,53.1 M0,73.6 C20,76.7 40,107.4 64,103.9 C88,98.6 108,67.2 121,36.5 C130,21.8 152,23.8 168,33.0 C184,42.7 198,51.0 212,55.1 M0,74.7 C20,78.0 40,108.0 64,104.7 C88,99.7 108,68.4 121,37.4 C130,22.4 152,24.4 168,34.0 C184,44.0 198,52.7 212,57.1 M0,75.8 C20,79.4 40,108.7 64,105.5 C88,100.8 108,69.6 121,38.2 C130,22.9 152,24.9 168,35.0 C184,45.4 198,54.5 212,59.0 M0,76.9 C20,80.7 40,109.3 64,106.2 C88,101.9 108,70.8 121,39.1 C130,23.4 152,25.4 168,36.0 C184,46.7 198,56.2 212,61.0 M0,78.0 C20,82.0 40,110.0 64,107.0 C88,103.0 108,72.0 121,40.0 C130,24.0 152,26.0 168,37.0 C184,48.0 198,58.0 212,63.0 M0,79.1 C20,83.3 40,110.7 64,107.8 C88,104.1 108,73.2 121,40.9 C130,24.6 152,26.6 168,38.0 C184,49.3 198,59.8 212,65.0 M0,80.2 C20,84.6 40,111.3 64,108.5 C88,105.2 108,74.4 121,41.8 C130,25.1 152,27.1 168,39.0 C184,50.6 198,61.5 212,67.0 M0,81.3 C20,86.0 40,112.0 64,109.3 C88,106.3 108,75.6 121,42.6 C130,25.6 152,27.6 168,40.0 C184,52.0 198,63.3 212,68.9 M0,82.4 C20,87.3 40,112.6 64,110.1 C88,107.4 108,76.8 121,43.5 C130,26.2 152,28.2 168,41.0 C184,53.3 198,65.0 212,70.9 M0,83.5 C20,88.6 40,113.3 64,110.8 C88,108.5 108,78.0 121,44.4 C130,26.8 152,28.8 168,42.0 C184,54.6 198,66.8 212,72.9 M0,84.6 C20,89.9 40,114.0 64,111.6 C88,109.6 108,79.3 121,45.3 C130,27.3 152,29.3 168,42.9 C184,55.9 198,68.6 212,74.9 M0,85.7 C20,91.2 40,114.6 64,112.4 C88,110.7 108,80.5 121,46.2 C130,27.9 152,29.9 168,43.9 C184,57.2 198,70.3 212,76.9 M0,86.8 C20,92.6 40,115.3 64,113.2 C88,111.8 108,81.7 121,47.0 C130,28.4 152,30.4 168,44.9 C184,58.6 198,72.1 212,78.8"/></g><g fill="none" stroke="#5cc4ee" stroke-width="0.45" stroke-opacity="0.6" stroke-dasharray="0.7 0.9"><path d="M121,33.1 C126,48.4 136,76.3 148,86.2 C158,74.4 164,54.3 170,37.2 M121,33.6 C126,50.0 136,77.6 148,86.8 C158,76.0 164,55.6 170,38.0 M121,34.1 C126,51.6 136,78.9 148,87.4 C158,77.6 164,56.9 170,38.8 M121,34.6 C126,53.2 136,80.2 148,88.1 C158,79.2 164,58.2 170,39.6 M121,35.0 C126,54.8 136,81.4 148,88.7 C158,80.8 164,59.4 170,40.4 M121,35.5 C126,56.4 136,82.7 148,89.4 C158,82.4 164,60.7 170,41.2 M121,36.0 C126,58.0 136,84.0 148,90.0 C158,84.0 164,62.0 170,42.0 M121,36.5 C126,59.6 136,85.3 148,90.6 C158,85.6 164,63.3 170,42.8 M121,37.0 C126,61.2 136,86.6 148,91.3 C158,87.2 164,64.6 170,43.6 M121,37.4 C126,62.8 136,87.8 148,91.9 C158,88.8 164,65.8 170,44.4 M121,37.9 C126,64.4 136,89.1 148,92.6 C158,90.4 164,67.1 170,45.2 M121,38.4 C126,66.0 136,90.4 148,93.2 C158,92.0 164,68.4 170,46.0"/></g><g fill="none" stroke="#4aa8e0" stroke-width="0.35" stroke-opacity="0.3"><path d="M30,88.5 C60,110.5 110,112.0 150,95.0 C170,88.5 190,82.5 212,78.5 M30,90.0 C60,112.0 110,113.2 150,96.8 C170,90.0 190,84.0 212,80.0 M30,91.5 C60,113.5 110,114.4 150,98.6 C170,91.5 190,85.5 212,81.5 M30,93.0 C60,115.0 110,115.6 150,100.4 C170,93.0 190,87.0 212,83.0 M30,94.5 C60,116.5 110,116.8 150,102.2 C170,94.5 190,88.5 212,84.5 M30,96.0 C60,118.0 110,118.0 150,104.0 C170,96.0 190,90.0 212,86.0 M30,97.5 C60,119.5 110,119.2 150,105.8 C170,97.5 190,91.5 212,87.5 M30,99.0 C60,121.0 110,120.4 150,107.6 C170,99.0 190,93.0 212,89.0 M30,100.5 C60,122.5 110,121.6 150,109.4 C170,100.5 190,94.5 212,90.5 M30,102.0 C60,124.0 110,122.8 150,111.2 C170,102.0 190,96.0 212,92.0"/></g><ellipse cx="196" cy="68" rx="14" ry="8" fill="#8a7ae0" opacity=".25" filter="url(#jb)"/></svg><b style="left:14.5px;top:41px;font-size:6.8px;color:#fff;font-weight:400;">03 視象標誌</b><p class="f" style="left:14.5px;top:52px;width:84px;height:7.8px;font-size:2.4px;line-height:3.9px;color:#fff;font-weight:700;"></p><p class="f" style="left:14.5px;top:64px;width:84px;height:7.8px;font-size:2.4px;line-height:3.9px;color:#fff;font-weight:700;"></p><b style="left:13.8px;top:137.2px;font-size:2.1px;color:#fff;font-weight:700;">香港科技大學 品牌管理指引</b></div>
<div class="t" style="left:868.8px;top:1540.8px;background:#fff;"><i style="left:13.8px;top:8.3px;width:184px;height:1.5px;background:#a9bbd4;"></i><b style="left:13.8px;top:11.2px;font-size:2.1px;color:#0d3c80;font-weight:700;">3.1 視象標誌</b><b style="left:192px;top:11.2px;font-size:2.1px;color:#0d3c80;font-weight:700;">30</b><i style="left:13.8px;top:14.6px;width:184px;height:0.45px;background:#cfd8e4;"></i><i style="left:13.8px;top:134px;width:184px;height:0.7px;background:#cfd6df;"></i><b style="left:13.8px;top:137.2px;font-size:2.1px;color:#0d3c80;font-weight:700;">香港科技大學 <span style="color:#a8873d">品牌管理指引</span></b><b style="left:14px;top:35px;font-size:6.8px;color:#0d3c80;font-weight:700;">3.1 大學名稱</b><i style="left:106px;top:63px;width:0.6px;height:57px;background:#1f3f7a;"></i><b style="left:14px;top:62px;font-size:2.6px;color:#222;font-weight:700;">全名：</b><b style="left:14px;top:67px;font-size:3.6px;color:#1f4f9a;font-weight:700;">The Hong Kong University of Science</b><b style="left:14px;top:72px;font-size:3.6px;color:#1f4f9a;font-weight:700;">and Technology</b><b style="left:14px;top:78px;font-size:3.4px;color:#1f4f9a;font-weight:700;">香港科技大學</b><p class="f" style="left:14px;top:87px;width:75px;height:3.3px;font-size:2.2px;line-height:3.3px;color:#c9a34a;font-weight:700;"></p><p class="f" style="left:14px;top:95px;width:80px;height:6.6px;font-size:2.2px;line-height:3.3px;color:#222;font-weight:700;"></p><b style="left:112px;top:62px;font-size:2.6px;color:#222;font-weight:700;">簡稱：</b><b style="left:112px;top:67px;font-size:3.6px;color:#1f4f9a;font-weight:700;">HKUST</b><b style="left:112px;top:72px;font-size:3.4px;color:#1f4f9a;font-weight:700;">科大 / 港科大</b><p class="f" style="left:112px;top:80px;width:60px;height:3.3px;font-size:2.2px;line-height:3.3px;color:#c9a34a;font-weight:700;"></p><p class="f" style="left:112px;top:84px;width:70px;height:3.3px;font-size:2.2px;line-height:3.3px;color:#222;font-weight:700;"></p><svg style="left:112px;top:92px" width="5" height="5"><circle cx="2.5" cy="2.5" r="2.5" fill="#d7263d"/></svg><b style="left:118px;top:92px;font-size:2.4px;color:#d7263d;font-weight:700;">錯誤示範</b><b style="left:118px;top:96px;font-size:2.4px;color:#d7263d;font-weight:700;">"UST" "USTHK" "HKUST"</b><p class="f" style="left:112px;top:104px;width:85px;height:6.6px;font-size:2.2px;line-height:3.3px;color:#222;font-weight:700;"></p></div>
<div class="t" style="left:0.0px;top:1696.3px;background:#0a6fbf;"><i style="left:0px;top:0px;width:64px;height:149.4px;background:repeating-linear-gradient(135deg,rgba(255,255,255,.25) 0 1.8px,#0a6fbf 1.8px 7px);"></i><i style="left:13.5px;top:8.2px;width:184.5px;height:1.2px;background:rgba(255,255,255,.75);"></i><b style="left:13.5px;top:11px;font-size:2.2px;color:#fff;font-weight:700;">3.2 視象標誌</b><b style="left:190px;top:11px;font-size:2.2px;color:#fff;font-weight:700;">31</b><i style="left:13.5px;top:134px;width:184.5px;height:0.7px;background:rgba(255,255,255,.55);"></i><b style="left:13.5px;top:137.2px;font-size:2.2px;color:#fff;font-weight:700;">香港科技大學 品牌管理指引</b><b style="left:60px;width:136px;text-align:right;top:58px;font-size:6.6px;color:#fff;font-weight:400">3.2 大學標誌：<span style="color:#ffd200">雙語</span></b><p class="f" style="left:140px;top:70px;width:56px;height:7.2px;font-size:2.3px;line-height:3.6px;color:#fff;font-weight:700;text-align:right"></p><p class="f" style="left:110px;top:82px;width:86px;height:3.6px;font-size:2.3px;line-height:3.6px;color:#fff;font-weight:700;"></p></div>
<div class="t" style="left:217.2px;top:1696.3px;background:#fff;"><div class="pg"><div class="hdr"></div>
<div class="a" style="left:72px;top:40px;width:936px;height:2px;background:#fff"></div>
<div class="a" style="left:73px;top:50px;font-size:11.5px;color:#fff;line-height:14px">03. 視象標誌</div>
<div class="a" style="left:900px;width:107px;text-align:right;top:49px;font-size:12px;font-weight:bold;color:#fff;line-height:14px">29</div>
<div class="a" style="left:72px;top:71px;width:936px;height:1px;background:#fff"></div>
<div class="a" style="left:72px;top:120.5px;font-size:31.3px;font-weight:bold;color:#fff;line-height:40px">大學標誌：<span style="color:#ffd200">雙語</span></div>
<div class="a" style="left:73px;top:165px;font-size:13px;color:#fff;line-height:18px;letter-spacing:0.3px">標誌必須完整呈現，不可改動或附加額外元素。</div>
<div class="a" style="left:73px;top:296px;width:420px;font-size:14.6px;line-height:19.6px;color:#333">
<p style="margin-bottom:15px">在所有雙語網上及印刷品通訊上應使用這個標誌，包括宣傳物品、活動、簡報、網站、商品和標示。</p>
<p style="margin-bottom:15px">香港科技大學的官方標誌對品牌形象舉足輕重，必須完全遵照本指引的規則使用。</p>
<p>標誌亦必須完整呈現，不可改動或附加額外元素。</p>
</div>
<div class="a" style="left:519px;top:298px;font-size:12.5px;line-height:15px;color:#333">原版:</div>
<div class="a" style="left:716px;top:298px;font-size:12.8px;line-height:15px;color:#333">中文字標</div>
<div class="a" style="left:652px;top:325px;width:178px;height:20px;border:1px solid #b3b3b3;border-bottom:none"></div>
<div class="a" style="left:579px;top:471px;width:60px;height:20px;border:1px solid #b3b3b3;border-top:none"></div>
<div class="a" style="left:651px;top:471px;width:255px;height:20px;border:1px solid #b3b3b3;border-top:none"></div>
<div class="a" style="left:582px;top:503px;font-size:12.8px;line-height:15px;color:#333">標誌圖像</div>
<div class="a" style="left:753px;top:503px;font-size:12.8px;line-height:15px;color:#333">英文字標</div>
<svg class="a" style="left:570px;top:340px" width="100" height="130" viewBox="0 0 642 835">
<defs><clipPath id="sun"><circle cx="272" cy="207" r="93"/></clipPath></defs>
<g clip-path="url(#sun)" fill="#a8873d"><rect x="170" y="100" width="210" height="128"/><rect x="170" y="236" width="210" height="12"/><rect x="170" y="256" width="210" height="10"/><rect x="170" y="274" width="210" height="9"/><rect x="170" y="291" width="210" height="9"/></g>
<polygon fill="#0d3c80" points="62,358 100,318 235,318 272,338 310,318 445,318 482,358 310,358 272,385 235,358"/>
<g fill="none" stroke="#0d3c80" stroke-width="32"><path d="M96,378 V590 Q96,670 175,722"/><path d="M149,378 V580 Q149,635 200,668"/><path d="M448,378 V590 Q448,670 369,722"/><path d="M395,378 V580 Q395,635 344,668"/></g>
<polygon fill="#a8873d" points="232,398 311,398 311,618 392,770 152,770 232,618"/>
<polygon fill="#fff" points="251,398 292,398 292,628 345,735 199,735 251,628"/>
</svg>
<div class="a" style="left:657px;top:356px;font-size:23px;line-height:26px;font-weight:bold;color:#0d3c80;letter-spacing:6px">香港科技大學</div>
<div id="en" class="a" style="left:656px;top:383px;font-size:23.5px;line-height:26.4px;color:#123f7f;transform-origin:0 0;transform:scaleX(0.856)">THE HONG KONG<br>UNIVERSITY OF SCIENCE<br>AND TECHNOLOGY</div>
<div class="a" style="left:73px;top:660px;font-size:12.7px;line-height:18px;color:#333">請到此下載標誌檔案：<span style="color:#1f5fa8;text-decoration:underline">下載標誌</span></div>
<div class="a" style="left:72px;top:689px;width:936px;height:1px;background:#7d97bd"></div>
<div class="a" style="left:73px;top:693.5px;font-size:10.8px;line-height:14px;color:#1f4e8c;font-weight:bold">香港科技大學 <span style="color:#a88a4a;font-weight:normal">品牌管理指引</span></div>
</div></div>
<div class="t" style="left:434.4px;top:1696.3px;background:#fff;"><i style="left:0px;top:0px;width:211.2px;height:38.5px;background:#0a6fbf;"></i><i style="left:14.1px;top:7.8px;width:183px;height:0.4px;background:rgba(255,255,255,.85);"></i><b style="left:14.3px;top:9.9px;font-size:2.2px;color:#fff;font-weight:400;">03. 視象標誌</b><b style="left:193px;top:9.9px;font-size:2.3px;color:#fff;font-weight:700;">32</b><i style="left:14.1px;top:13.9px;width:183px;height:0.3px;background:rgba(255,255,255,.6);"></i><b style="left:14.1px;top:24px;font-size:6.1px;color:#fff;font-weight:700;">大學標誌：<span style="color:#ffd200">雙語</span></b><b style="left:14.3px;top:32.6px;font-size:2.55px;color:#fff;font-weight:400;">標誌必須完整呈現，不可改動或附加額外元素。</b><i style="left:14.1px;top:134.7px;width:183px;height:0.35px;background:#7d97bd;"></i><b style="left:14.3px;top:135.9px;font-size:2.1px;color:#1f4e8c;font-weight:400;">香港科技大學 <span style="color:#a88a4a">品牌管理指引</span></b><b style="left:15px;top:62.5px;font-size:3.4px;color:#222;font-weight:700;">變化版本</b><p class="f" style="left:15px;top:70px;width:62px;height:7.2px;font-size:2.3px;line-height:3.6px;color:#222;font-weight:400;"></p><b style="left:91px;top:68px;font-size:2.2px;color:#222;font-weight:400;">橫向1：</b><svg style="left:119px;top:63px" width="7.05" height="11" viewBox="62 115 420 655"><circle cx="272" cy="207" r="93" fill="#a8873d"/><polygon fill="#0d3c80" points="62,358 100,318 235,318 272,338 310,318 445,318 482,358 310,358 272,385 235,358"/><g fill="none" stroke="#0d3c80" stroke-width="34"><path d="M96,378 V590 Q96,670 175,722"/><path d="M149,378 V580 Q149,635 200,668"/><path d="M448,378 V590 Q448,670 369,722"/><path d="M395,378 V580 Q395,635 344,668"/></g><polygon fill="#a8873d" points="232,398 311,398 311,618 392,770 152,770 232,618"/><polygon fill="#fff" points="251,398 292,398 292,628 345,735 199,735 251,628"/></svg><b style="left:127.36px;top:62.78px;font-size:2.75px;line-height:2.75px;color:#0d3c80;font-weight:700;letter-spacing:0.77px">香港科技大學</b><b style="left:127.36px;top:66.3px;font-size:2.508px;line-height:2.816px;color:#0d3c80;font-weight:700;transform:scaleX(0.86);transform-origin:0 0;letter-spacing:0px">THE HONG KONG<br>UNIVERSITY OF SCIENCE<br>AND TECHNOLOGY</b><b style="left:91px;top:94px;font-size:2.2px;color:#222;font-weight:400;">橫向2：</b><svg style="left:119px;top:91px" width="5.77" height="9" viewBox="62 115 420 655"><circle cx="272" cy="207" r="93" fill="#a8873d"/><polygon fill="#0d3c80" points="62,358 100,318 235,318 272,338 310,318 445,318 482,358 310,358 272,385 235,358"/><g fill="none" stroke="#0d3c80" stroke-width="34"><path d="M96,378 V590 Q96,670 175,722"/><path d="M149,378 V580 Q149,635 200,668"/><path d="M448,378 V590 Q448,670 369,722"/><path d="M395,378 V580 Q395,635 344,668"/></g><polygon fill="#a8873d" points="232,398 311,398 311,618 392,770 152,770 232,618"/><polygon fill="#fff" points="251,398 292,398 292,628 345,735 199,735 251,628"/></svg><b style="left:125.84px;top:90.82px;font-size:2.25px;line-height:2.25px;color:#0d3c80;font-weight:700;letter-spacing:0.6300000000000001px">香港科技大學</b><b style="left:125.84px;top:93.7px;font-size:2.61px;line-height:2.871px;color:#0d3c80;font-weight:700;transform:scaleX(0.9);transform-origin:0 0;letter-spacing:0px">THE HONG KONG UNIVERSITY OF<br>SCIENCE AND TECHNOLOGY</b><b style="left:14.3px;top:128.9px;font-size:2.64px;color:#333;font-weight:400;">請到此下載標誌檔案：<span style="color:#1f5fa8;text-decoration:underline">下載標誌</span></b></div>
<div class="t" style="left:651.6px;top:1696.3px;background:#fff;"><i style="left:0px;top:0px;width:211.2px;height:38.5px;background:#0a6fbf;"></i><i style="left:14.1px;top:7.8px;width:183px;height:0.4px;background:rgba(255,255,255,.85);"></i><b style="left:14.3px;top:9.9px;font-size:2.2px;color:#fff;font-weight:400;">03. 視象標誌</b><b style="left:193px;top:9.9px;font-size:2.3px;color:#fff;font-weight:700;">33</b><i style="left:14.1px;top:13.9px;width:183px;height:0.3px;background:rgba(255,255,255,.6);"></i><b style="left:14.1px;top:24px;font-size:6.1px;color:#fff;font-weight:700;">大學標誌：<span style="color:#ffd200">雙語</span></b><b style="left:14.3px;top:32.6px;font-size:2.55px;color:#fff;font-weight:400;">標誌必須完整呈現，不可改動或附加額外元素。</b><i style="left:14.1px;top:134.7px;width:183px;height:0.35px;background:#7d97bd;"></i><b style="left:14.3px;top:135.9px;font-size:2.1px;color:#1f4e8c;font-weight:400;">香港科技大學 <span style="color:#a88a4a">品牌管理指引</span></b><b style="left:15px;top:48px;font-size:3.4px;color:#222;font-weight:700;">變化版本</b><p class="f" style="left:15px;top:55px;width:120px;height:3.6px;font-size:2.3px;line-height:3.6px;color:#222;font-weight:400;"></p><b style="left:15.5px;top:70px;font-size:2.2px;color:#222;font-weight:700;">直向1：</b><svg style="left:25.71297709923664px;top:81px" width="7.37" height="11.5" viewBox="62 115 420 655"><circle cx="272" cy="207" r="93" fill="#a8873d"/><polygon fill="#0d3c80" points="62,358 100,318 235,318 272,338 310,318 445,318 482,358 310,358 272,385 235,358"/><g fill="none" stroke="#0d3c80" stroke-width="34"><path d="M96,378 V590 Q96,670 175,722"/><path d="M149,378 V580 Q149,635 200,668"/><path d="M448,378 V590 Q448,670 369,722"/><path d="M395,378 V580 Q395,635 344,668"/></g><polygon fill="#a8873d" points="232,398 311,398 311,618 392,770 152,770 232,618"/><polygon fill="#fff" points="251,398 292,398 292,628 345,735 199,735 251,628"/></svg><b style="left:-30.6px;top:93.42px;width:120px;text-align:center;font-size:2.53px;line-height:2.99px;color:#0d3c80;font-weight:700;letter-spacing:1.1500000000000001px">香港科技大學</b><b style="left:-30.6px;top:96.87px;width:120px;text-align:center;font-size:2.76px;line-height:3.0912px;color:#0d3c80;font-weight:700;transform:scaleX(0.9);transform-origin:50% 0;letter-spacing:0px">THE HONG KONG<br>UNIVERSITY OF SCIENCE<br>AND TECHNOLOGY</b><b style="left:61px;top:70px;font-size:2.2px;color:#222;font-weight:700;">直向2：</b><svg style="left:78.6526717557252px;top:81px" width="7.69" height="12" viewBox="62 115 420 655"><circle cx="272" cy="207" r="93" fill="#a8873d"/><polygon fill="#0d3c80" points="62,358 100,318 235,318 272,338 310,318 445,318 482,358 310,358 272,385 235,358"/><g fill="none" stroke="#0d3c80" stroke-width="34"><path d="M96,378 V590 Q96,670 175,722"/><path d="M149,378 V580 Q149,635 200,668"/><path d="M448,378 V590 Q448,670 369,722"/><path d="M395,378 V580 Q395,635 344,668"/></g><polygon fill="#a8873d" points="232,398 311,398 311,618 392,770 152,770 232,618"/><polygon fill="#fff" points="251,398 292,398 292,628 345,735 199,735 251,628"/></svg><b style="left:22.5px;top:93.96000000000001px;width:120px;text-align:center;font-size:2.64px;line-height:3.12px;color:#0d3c80;font-weight:700;letter-spacing:1.2000000000000002px">香港科技大學</b><b style="left:22.5px;top:97.56px;width:120px;text-align:center;font-size:2.832px;line-height:3.17184px;color:#0d3c80;font-weight:700;transform:scaleX(0.9);transform-origin:50% 0;letter-spacing:0px">THE HONG KONG UNIVERSITY OF<br>SCIENCE AND TECHNOLOGY</b><b style="left:119.5px;top:70px;font-size:2.2px;color:#222;font-weight:700;">直向3：</b><svg style="left:155.6145038167939px;top:87.5px" width="5.77" height="9" viewBox="62 115 420 655"><circle cx="272" cy="207" r="93" fill="#a8873d"/><polygon fill="#0d3c80" points="62,358 100,318 235,318 272,338 310,318 445,318 482,358 310,358 272,385 235,358"/><g fill="none" stroke="#0d3c80" stroke-width="34"><path d="M96,378 V590 Q96,670 175,722"/><path d="M149,378 V580 Q149,635 200,668"/><path d="M448,378 V590 Q448,670 369,722"/><path d="M395,378 V580 Q395,635 344,668"/></g><polygon fill="#a8873d" points="232,398 311,398 311,618 392,770 152,770 232,618"/><polygon fill="#fff" points="251,398 292,398 292,628 345,735 199,735 251,628"/></svg><b style="left:98.5px;top:97.22px;width:120px;text-align:center;font-size:1.98px;line-height:2.34px;color:#0d3c80;font-weight:700;letter-spacing:0.9px">香港科技大學</b><b style="left:98.5px;top:99.92px;width:120px;text-align:center;font-size:2.817px;line-height:3.1550400000000005px;color:#0d3c80;font-weight:700;transform:scaleX(0.9);transform-origin:50% 0;letter-spacing:0px">THE HONG KONG UNIVERSITY OF SCIENCE AND TECHNOLOGY</b><b style="left:14.3px;top:128.9px;font-size:2.64px;color:#333;font-weight:400;">請到此下載標誌檔案：<span style="color:#1f5fa8;text-decoration:underline">下載標誌</span></b></div>
<div class="t" style="left:868.8px;top:1696.3px;background:#fff;"><i style="left:0px;top:0px;width:70px;height:149.4px;background:repeating-linear-gradient(135deg,#e8eef6 0 2.8px,#fafbfd 2.8px 6.7px);"></i><i style="left:13.8px;top:8.3px;width:184px;height:1.5px;background:#a9bbd4;"></i><b style="left:13.8px;top:11.2px;font-size:2.1px;color:#0d3c80;font-weight:700;">3.2 視象標誌</b><b style="left:192px;top:11.2px;font-size:2.1px;color:#0d3c80;font-weight:700;">34</b><i style="left:13.8px;top:14.6px;width:184px;height:0.45px;background:#cfd8e4;"></i><i style="left:13.8px;top:134px;width:184px;height:0.7px;background:#cfd6df;"></i><b style="left:13.8px;top:137.2px;font-size:2.1px;color:#0d3c80;font-weight:700;">香港科技大學 <span style="color:#a8873d">品牌管理指引</span></b><b style="left:14px;top:25.3px;font-size:2.7px;color:#a8873d;font-weight:400;">大學標誌應用：雙語</b><b style="left:14px;top:29.5px;font-size:6.5px;color:#0d3c80;font-weight:700;">留白空位</b><b style="left:14px;top:39.5px;font-size:2.3px;color:#222;font-weight:400;">標誌必須完整呈現，不可改動或附加額外元素。</b><p class="f" style="left:14px;top:67px;width:58px;height:10.8px;font-size:2.3px;line-height:3.6px;color:#0d3c80;font-weight:700;"></p><p class="f" style="left:14px;top:80px;width:58px;height:18.0px;font-size:2.3px;line-height:3.6px;color:#0d3c80;font-weight:700;"></p><i style="left:103px;top:65px;width:72px;height:23px;border:0.3px solid #c9ced4;"></i><i style="left:100.5px;top:68px;width:77px;height:17px;border:0.25px solid #dde1e6;"></i><b style="left:102px;top:61px;font-size:1.6px;color:#333;font-weight:400;">1/2x</b><b style="left:177px;top:66px;font-size:1.6px;color:#333;font-weight:400;">1/2x</b><b style="left:97px;top:86px;font-size:1.6px;color:#333;font-weight:400;">1/2x</b><b style="left:173px;top:92px;font-size:1.6px;color:#333;font-weight:400;">1/2x</b><svg style="left:109px;top:68px" width="9.62" height="15" viewBox="62 115 420 655"><circle cx="272" cy="207" r="93" fill="#a8873d"/><polygon fill="#0d3c80" points="62,358 100,318 235,318 272,338 310,318 445,318 482,358 310,358 272,385 235,358"/><g fill="none" stroke="#0d3c80" stroke-width="34"><path d="M96,378 V590 Q96,670 175,722"/><path d="M149,378 V580 Q149,635 200,668"/><path d="M448,378 V590 Q448,670 369,722"/><path d="M395,378 V580 Q395,635 344,668"/></g><polygon fill="#a8873d" points="232,398 311,398 311,618 392,770 152,770 232,618"/><polygon fill="#fff" points="251,398 292,398 292,628 345,735 199,735 251,628"/></svg><b style="left:120.4px;top:67.7px;font-size:3.75px;line-height:3.75px;color:#0d3c80;font-weight:700;letter-spacing:1.05px">香港科技大學</b><b style="left:120.4px;top:72.5px;font-size:3.42px;line-height:3.84px;color:#0d3c80;font-weight:700;transform:scaleX(0.86);transform-origin:0 0;letter-spacing:0px">THE HONG KONG<br>UNIVERSITY OF SCIENCE<br>AND TECHNOLOGY</b></div>
<div class="t" style="left:0.0px;top:1851.8px;background:#fff;"><i style="left:0px;top:0px;width:211.2px;height:49px;background:repeating-linear-gradient(135deg,#e8eef6 0 2.8px,#fafbfd 2.8px 6.7px);"></i><i style="left:13.8px;top:8.3px;width:184px;height:1.5px;background:#a9bbd4;"></i><b style="left:13.8px;top:11.2px;font-size:2.1px;color:#0d3c80;font-weight:700;">3.2 視象標誌</b><b style="left:192px;top:11.2px;font-size:2.1px;color:#0d3c80;font-weight:700;">35</b><i style="left:13.8px;top:14.6px;width:184px;height:0.45px;background:#cfd8e4;"></i><i style="left:13.8px;top:134px;width:184px;height:0.7px;background:#cfd6df;"></i><b style="left:13.8px;top:137.2px;font-size:2.1px;color:#0d3c80;font-weight:700;">香港科技大學 <span style="color:#a8873d">品牌管理指引</span></b><b style="left:14px;top:25.3px;font-size:2.7px;color:#a8873d;font-weight:400;">大學標誌應用：雙語</b><b style="left:14px;top:29.3px;font-size:6.6px;color:#0d3c80;font-weight:700;">留白空位</b><b style="left:14px;top:39.5px;font-size:2.3px;color:#222;font-weight:700;">標誌必須完整呈現，不可改動或附加額外元素。</b><b style="left:42px;top:70px;font-size:2.3px;color:#222;font-weight:700;">橫向1：</b><i style="left:82px;top:64px;width:51px;height:14px;border:0.3px solid #c9ced4;"></i><i style="left:79.5px;top:67px;width:56px;height:8px;border:0.25px solid #dde1e6;"></i><b style="left:81px;top:60px;font-size:1.6px;color:#333;font-weight:400;">1/2x</b><b style="left:135px;top:65px;font-size:1.6px;color:#333;font-weight:400;">1/2x</b><b style="left:76px;top:76px;font-size:1.6px;color:#333;font-weight:400;">1/2x</b><b style="left:131px;top:82px;font-size:1.6px;color:#333;font-weight:400;">1/2x</b><svg style="left:86px;top:67px" width="5.45" height="8.5" viewBox="62 115 420 655"><circle cx="272" cy="207" r="93" fill="#a8873d"/><polygon fill="#0d3c80" points="62,358 100,318 235,318 272,338 310,318 445,318 482,358 310,358 272,385 235,358"/><g fill="none" stroke="#0d3c80" stroke-width="34"><path d="M96,378 V590 Q96,670 175,722"/><path d="M149,378 V580 Q149,635 200,668"/><path d="M448,378 V590 Q448,670 369,722"/><path d="M395,378 V580 Q395,635 344,668"/></g><polygon fill="#a8873d" points="232,398 311,398 311,618 392,770 152,770 232,618"/><polygon fill="#fff" points="251,398 292,398 292,628 345,735 199,735 251,628"/></svg><b style="left:92.46px;top:66.83px;font-size:2.125px;line-height:2.125px;color:#0d3c80;font-weight:700;letter-spacing:0.5950000000000001px">香港科技大學</b><b style="left:92.46px;top:69.55px;font-size:1.9380000000000002px;line-height:2.176px;color:#0d3c80;font-weight:700;transform:scaleX(0.86);transform-origin:0 0;letter-spacing:0px">THE HONG KONG<br>UNIVERSITY OF SCIENCE<br>AND TECHNOLOGY</b><b style="left:42px;top:97px;font-size:2.3px;color:#222;font-weight:700;">橫向2：</b><i style="left:82px;top:101px;width:86px;height:11px;border:0.3px solid #c9ced4;"></i><i style="left:79.5px;top:104px;width:91px;height:5px;border:0.25px solid #dde1e6;"></i><b style="left:81px;top:97px;font-size:1.6px;color:#333;font-weight:400;">1/2x</b><b style="left:170px;top:102px;font-size:1.6px;color:#333;font-weight:400;">1/2x</b><b style="left:76px;top:110px;font-size:1.6px;color:#333;font-weight:400;">1/2x</b><b style="left:166px;top:116px;font-size:1.6px;color:#333;font-weight:400;">1/2x</b><svg style="left:86px;top:103px" width="4.49" height="7" viewBox="62 115 420 655"><circle cx="272" cy="207" r="93" fill="#a8873d"/><polygon fill="#0d3c80" points="62,358 100,318 235,318 272,338 310,318 445,318 482,358 310,358 272,385 235,358"/><g fill="none" stroke="#0d3c80" stroke-width="34"><path d="M96,378 V590 Q96,670 175,722"/><path d="M149,378 V580 Q149,635 200,668"/><path d="M448,378 V590 Q448,670 369,722"/><path d="M395,378 V580 Q395,635 344,668"/></g><polygon fill="#a8873d" points="232,398 311,398 311,618 392,770 152,770 232,618"/><polygon fill="#fff" points="251,398 292,398 292,628 345,735 199,735 251,628"/></svg><b style="left:91.32px;top:102.86px;font-size:1.75px;line-height:1.75px;color:#0d3c80;font-weight:700;letter-spacing:0.49000000000000005px">香港科技大學</b><b style="left:91.32px;top:105.1px;font-size:2.03px;line-height:2.233px;color:#0d3c80;font-weight:700;transform:scaleX(0.9);transform-origin:0 0;letter-spacing:0px">THE HONG KONG UNIVERSITY OF<br>SCIENCE AND TECHNOLOGY</b></div>
<div class="t" style="left:217.2px;top:1851.8px;background:#fff;"><i style="left:0px;top:0px;width:211.2px;height:49px;background:repeating-linear-gradient(135deg,#e8eef6 0 2.8px,#fafbfd 2.8px 6.7px);"></i><i style="left:13.8px;top:8.3px;width:184px;height:1.5px;background:#a9bbd4;"></i><b style="left:13.8px;top:11.2px;font-size:2.1px;color:#0d3c80;font-weight:700;">3.2 視象標誌</b><b style="left:192px;top:11.2px;font-size:2.1px;color:#0d3c80;font-weight:700;">36</b><i style="left:13.8px;top:14.6px;width:184px;height:0.45px;background:#cfd8e4;"></i><i style="left:13.8px;top:134px;width:184px;height:0.7px;background:#cfd6df;"></i><b style="left:13.8px;top:137.2px;font-size:2.1px;color:#0d3c80;font-weight:700;">香港科技大學 <span style="color:#a8873d">品牌管理指引</span></b><b style="left:14px;top:25.3px;font-size:2.7px;color:#a8873d;font-weight:400;">大學標誌應用：雙語</b><b style="left:14px;top:29.3px;font-size:6.6px;color:#0d3c80;font-weight:700;">留白空位</b><b style="left:14px;top:39.5px;font-size:2.3px;color:#222;font-weight:700;">標誌必須完整呈現，不可改動或附加額外元素。</b><b style="left:22px;top:62px;font-size:2.3px;color:#222;font-weight:700;">直向1：</b><i style="left:40px;top:58px;width:30px;height:32px;border:0.3px solid #c9ced4;"></i><i style="left:37.5px;top:61px;width:35px;height:26px;border:0.25px solid #dde1e6;"></i><b style="left:39px;top:54px;font-size:1.6px;color:#333;font-weight:400;">1/2x</b><b style="left:72px;top:59px;font-size:1.6px;color:#333;font-weight:400;">1/2x</b><b style="left:34px;top:88px;font-size:1.6px;color:#333;font-weight:400;">1/2x</b><b style="left:68px;top:94px;font-size:1.6px;color:#333;font-weight:400;">1/2x</b><svg style="left:49.79389312977099px;top:62px" width="6.41" height="10" viewBox="62 115 420 655"><circle cx="272" cy="207" r="93" fill="#a8873d"/><polygon fill="#0d3c80" points="62,358 100,318 235,318 272,338 310,318 445,318 482,358 310,358 272,385 235,358"/><g fill="none" stroke="#0d3c80" stroke-width="34"><path d="M96,378 V590 Q96,670 175,722"/><path d="M149,378 V580 Q149,635 200,668"/><path d="M448,378 V590 Q448,670 369,722"/><path d="M395,378 V580 Q395,635 344,668"/></g><polygon fill="#a8873d" points="232,398 311,398 311,618 392,770 152,770 232,618"/><polygon fill="#fff" points="251,398 292,398 292,628 345,735 199,735 251,628"/></svg><b style="left:-7px;top:72.8px;width:120px;text-align:center;font-size:2.2px;line-height:2.6px;color:#0d3c80;font-weight:700;letter-spacing:1.0px">香港科技大學</b><b style="left:-7px;top:75.8px;width:120px;text-align:center;font-size:2.4px;line-height:2.688px;color:#0d3c80;font-weight:700;transform:scaleX(0.9);transform-origin:50% 0;letter-spacing:0px">THE HONG KONG<br>UNIVERSITY OF SCIENCE<br>AND TECHNOLOGY</b><b style="left:112px;top:62px;font-size:2.3px;color:#222;font-weight:700;">直向2：</b><i style="left:140px;top:58px;width:42px;height:28px;border:0.3px solid #c9ced4;"></i><i style="left:137.5px;top:61px;width:47px;height:22px;border:0.25px solid #dde1e6;"></i><b style="left:139px;top:54px;font-size:1.6px;color:#333;font-weight:400;">1/2x</b><b style="left:184px;top:59px;font-size:1.6px;color:#333;font-weight:400;">1/2x</b><b style="left:134px;top:84px;font-size:1.6px;color:#333;font-weight:400;">1/2x</b><b style="left:180px;top:90px;font-size:1.6px;color:#333;font-weight:400;">1/2x</b><svg style="left:156.793893129771px;top:62px" width="6.41" height="10" viewBox="62 115 420 655"><circle cx="272" cy="207" r="93" fill="#a8873d"/><polygon fill="#0d3c80" points="62,358 100,318 235,318 272,338 310,318 445,318 482,358 310,358 272,385 235,358"/><g fill="none" stroke="#0d3c80" stroke-width="34"><path d="M96,378 V590 Q96,670 175,722"/><path d="M149,378 V580 Q149,635 200,668"/><path d="M448,378 V590 Q448,670 369,722"/><path d="M395,378 V580 Q395,635 344,668"/></g><polygon fill="#a8873d" points="232,398 311,398 311,618 392,770 152,770 232,618"/><polygon fill="#fff" points="251,398 292,398 292,628 345,735 199,735 251,628"/></svg><b style="left:100px;top:72.8px;width:120px;text-align:center;font-size:2.2px;line-height:2.6px;color:#0d3c80;font-weight:700;letter-spacing:1.0px">香港科技大學</b><b style="left:100px;top:75.8px;width:120px;text-align:center;font-size:2.36px;line-height:2.6432px;color:#0d3c80;font-weight:700;transform:scaleX(0.9);transform-origin:50% 0;letter-spacing:0px">THE HONG KONG UNIVERSITY OF<br>SCIENCE AND TECHNOLOGY</b><b style="left:43px;top:97px;font-size:2.3px;color:#222;font-weight:700;">直向3：</b><i style="left:68px;top:98px;width:90px;height:20px;border:0.3px solid #c9ced4;"></i><i style="left:65.5px;top:101px;width:95px;height:14px;border:0.25px solid #dde1e6;"></i><b style="left:67px;top:94px;font-size:1.6px;color:#333;font-weight:400;">1/2x</b><b style="left:160px;top:99px;font-size:1.6px;color:#333;font-weight:400;">1/2x</b><b style="left:62px;top:116px;font-size:1.6px;color:#333;font-weight:400;">1/2x</b><b style="left:156px;top:122px;font-size:1.6px;color:#333;font-weight:400;">1/2x</b><svg style="left:109.43511450381679px;top:100px" width="5.13" height="8" viewBox="62 115 420 655"><circle cx="272" cy="207" r="93" fill="#a8873d"/><polygon fill="#0d3c80" points="62,358 100,318 235,318 272,338 310,318 445,318 482,358 310,358 272,385 235,358"/><g fill="none" stroke="#0d3c80" stroke-width="34"><path d="M96,378 V590 Q96,670 175,722"/><path d="M149,378 V580 Q149,635 200,668"/><path d="M448,378 V590 Q448,670 369,722"/><path d="M395,378 V580 Q395,635 344,668"/></g><polygon fill="#a8873d" points="232,398 311,398 311,618 392,770 152,770 232,618"/><polygon fill="#fff" points="251,398 292,398 292,628 345,735 199,735 251,628"/></svg><b style="left:52px;top:108.64px;width:120px;text-align:center;font-size:1.76px;line-height:2.08px;color:#0d3c80;font-weight:700;letter-spacing:0.8px">香港科技大學</b><b style="left:52px;top:111.03999999999999px;width:120px;text-align:center;font-size:2.504px;line-height:2.8044800000000003px;color:#0d3c80;font-weight:700;transform:scaleX(0.9);transform-origin:50% 0;letter-spacing:0px">THE HONG KONG UNIVERSITY OF SCIENCE AND TECHNOLOGY</b></div>
<div class="t" style="left:434.4px;top:1851.8px;background:#fff;"><i style="left:0px;top:0px;width:70px;height:149.4px;background:repeating-linear-gradient(135deg,#e8eef6 0 2.8px,#fafbfd 2.8px 6.7px);"></i><i style="left:13.8px;top:8.3px;width:184px;height:1.5px;background:#a9bbd4;"></i><b style="left:13.8px;top:11.2px;font-size:2.1px;color:#0d3c80;font-weight:700;">3.2 視象標誌</b><b style="left:192px;top:11.2px;font-size:2.1px;color:#0d3c80;font-weight:700;">37</b><i style="left:13.8px;top:14.6px;width:184px;height:0.45px;background:#cfd8e4;"></i><i style="left:13.8px;top:134px;width:184px;height:0.7px;background:#cfd6df;"></i><b style="left:13.8px;top:137.2px;font-size:2.1px;color:#0d3c80;font-weight:700;">香港科技大學 <span style="color:#a8873d">品牌管理指引</span></b><b style="left:14px;top:25.3px;font-size:2.7px;color:#a8873d;font-weight:400;">大學標誌應用：雙語</b><b style="left:14px;top:29.5px;font-size:6.5px;color:#0d3c80;font-weight:700;">最小尺寸</b><b style="left:14px;top:39.5px;font-size:2.3px;color:#222;font-weight:400;">標誌必須完整呈現，不可改動或附加額外元素。</b><p class="f" style="left:14px;top:64px;width:60px;height:7.2px;font-size:2.3px;line-height:3.6px;color:#0d3c80;font-weight:700;"></p><p class="f" style="left:14px;top:76px;width:60px;height:3.6px;font-size:2.3px;line-height:3.6px;color:#0d3c80;font-weight:700;"></p><b style="left:92px;top:72px;font-size:2.2px;color:#222;font-weight:700;">印刷品</b><i style="left:107px;top:64px;width:67px;height:28px;border:0.3px solid #ddd;"></i><svg style="left:110px;top:67px" width="10.26" height="16" viewBox="62 115 420 655"><circle cx="272" cy="207" r="93" fill="#a8873d"/><polygon fill="#0d3c80" points="62,358 100,318 235,318 272,338 310,318 445,318 482,358 310,358 272,385 235,358"/><g fill="none" stroke="#0d3c80" stroke-width="34"><path d="M96,378 V590 Q96,670 175,722"/><path d="M149,378 V580 Q149,635 200,668"/><path d="M448,378 V590 Q448,670 369,722"/><path d="M395,378 V580 Q395,635 344,668"/></g><polygon fill="#a8873d" points="232,398 311,398 311,618 392,770 152,770 232,618"/><polygon fill="#fff" points="251,398 292,398 292,628 345,735 199,735 251,628"/></svg><b style="left:122.16px;top:66.68px;font-size:4.0px;line-height:4.0px;color:#0d3c80;font-weight:700;letter-spacing:1.12px">香港科技大學</b><b style="left:122.16px;top:71.8px;font-size:3.648px;line-height:4.096px;color:#0d3c80;font-weight:700;transform:scaleX(0.86);transform-origin:0 0;letter-spacing:0px">THE HONG KONG<br>UNIVERSITY OF SCIENCE<br>AND TECHNOLOGY</b><b style="left:176px;top:70px;font-size:2.2px;color:#222;font-weight:700;">網上媒體</b></div>
<div class="t" style="left:651.6px;top:1851.8px;background:#fff;"><i style="left:0px;top:0px;width:211.2px;height:49px;background:repeating-linear-gradient(135deg,#e8eef6 0 2.8px,#fafbfd 2.8px 6.7px);"></i><i style="left:13.8px;top:8.3px;width:184px;height:1.5px;background:#a9bbd4;"></i><b style="left:13.8px;top:11.2px;font-size:2.1px;color:#0d3c80;font-weight:700;">3.2 視象標誌</b><b style="left:192px;top:11.2px;font-size:2.1px;color:#0d3c80;font-weight:700;">38</b><i style="left:13.8px;top:14.6px;width:184px;height:0.45px;background:#cfd8e4;"></i><i style="left:13.8px;top:134px;width:184px;height:0.7px;background:#cfd6df;"></i><b style="left:13.8px;top:137.2px;font-size:2.1px;color:#0d3c80;font-weight:700;">香港科技大學 <span style="color:#a8873d">品牌管理指引</span></b><b style="left:14px;top:25.3px;font-size:2.7px;color:#a8873d;font-weight:400;">大學標誌應用：雙語</b><b style="left:14px;top:29.3px;font-size:6.6px;color:#0d3c80;font-weight:700;">最小尺寸</b><b style="left:14px;top:39.5px;font-size:2.3px;color:#222;font-weight:700;">標誌必須完整呈現，不可改動或附加額外元素。</b><b style="left:38px;top:73px;font-size:2.2px;color:#222;font-weight:700;">橫向1：</b><b style="left:58px;top:72px;font-size:2.2px;color:#222;font-weight:700;">印刷品</b><svg style="left:75px;top:67px" width="5.13" height="8" viewBox="62 115 420 655"><circle cx="272" cy="207" r="93" fill="#a8873d"/><polygon fill="#0d3c80" points="62,358 100,318 235,318 272,338 310,318 445,318 482,358 310,358 272,385 235,358"/><g fill="none" stroke="#0d3c80" stroke-width="34"><path d="M96,378 V590 Q96,670 175,722"/><path d="M149,378 V580 Q149,635 200,668"/><path d="M448,378 V590 Q448,670 369,722"/><path d="M395,378 V580 Q395,635 344,668"/></g><polygon fill="#a8873d" points="232,398 311,398 311,618 392,770 152,770 232,618"/><polygon fill="#fff" points="251,398 292,398 292,628 345,735 199,735 251,628"/></svg><b style="left:81.08px;top:66.84px;font-size:2.0px;line-height:2.0px;color:#0d3c80;font-weight:700;letter-spacing:0.56px">香港科技大學</b><b style="left:81.08px;top:69.4px;font-size:1.824px;line-height:2.048px;color:#0d3c80;font-weight:700;transform:scaleX(0.86);transform-origin:0 0;letter-spacing:0px">THE HONG KONG<br>UNIVERSITY OF SCIENCE<br>AND TECHNOLOGY</b><b style="left:110px;top:72px;font-size:2.2px;color:#222;font-weight:700;">網上媒體</b><b style="left:38px;top:100px;font-size:2.2px;color:#222;font-weight:700;">橫向2：</b><b style="left:58px;top:100px;font-size:2.2px;color:#222;font-weight:700;">印刷品</b><svg style="left:75px;top:97px" width="4.49" height="7" viewBox="62 115 420 655"><circle cx="272" cy="207" r="93" fill="#a8873d"/><polygon fill="#0d3c80" points="62,358 100,318 235,318 272,338 310,318 445,318 482,358 310,358 272,385 235,358"/><g fill="none" stroke="#0d3c80" stroke-width="34"><path d="M96,378 V590 Q96,670 175,722"/><path d="M149,378 V580 Q149,635 200,668"/><path d="M448,378 V590 Q448,670 369,722"/><path d="M395,378 V580 Q395,635 344,668"/></g><polygon fill="#a8873d" points="232,398 311,398 311,618 392,770 152,770 232,618"/><polygon fill="#fff" points="251,398 292,398 292,628 345,735 199,735 251,628"/></svg><b style="left:80.32px;top:96.86px;font-size:1.75px;line-height:1.75px;color:#0d3c80;font-weight:700;letter-spacing:0.49000000000000005px">香港科技大學</b><b style="left:80.32px;top:99.1px;font-size:2.03px;line-height:2.233px;color:#0d3c80;font-weight:700;transform:scaleX(0.9);transform-origin:0 0;letter-spacing:0px">THE HONG KONG UNIVERSITY OF<br>SCIENCE AND TECHNOLOGY</b><b style="left:150px;top:100px;font-size:2.2px;color:#222;font-weight:700;">網上媒體</b></div>
<div class="t" style="left:868.8px;top:1851.8px;background:#fff;"><i style="left:0px;top:0px;width:211.2px;height:49px;background:repeating-linear-gradient(135deg,#e8eef6 0 2.8px,#fafbfd 2.8px 6.7px);"></i><i style="left:13.8px;top:8.3px;width:184px;height:1.5px;background:#a9bbd4;"></i><b style="left:13.8px;top:11.2px;font-size:2.1px;color:#0d3c80;font-weight:700;">3.2 視象標誌</b><b style="left:192px;top:11.2px;font-size:2.1px;color:#0d3c80;font-weight:700;">39</b><i style="left:13.8px;top:14.6px;width:184px;height:0.45px;background:#cfd8e4;"></i><i style="left:13.8px;top:134px;width:184px;height:0.7px;background:#cfd6df;"></i><b style="left:13.8px;top:137.2px;font-size:2.1px;color:#0d3c80;font-weight:700;">香港科技大學 <span style="color:#a8873d">品牌管理指引</span></b><b style="left:14px;top:25.3px;font-size:2.7px;color:#a8873d;font-weight:400;">大學標誌應用：雙語</b><b style="left:14px;top:29.3px;font-size:6.6px;color:#0d3c80;font-weight:700;">最小尺寸</b><b style="left:14px;top:39.5px;font-size:2.3px;color:#222;font-weight:700;">標誌必須完整呈現，不可改動或附加額外元素。</b><b style="left:17px;top:62px;font-size:2.3px;color:#222;font-weight:700;">直向1：</b><b style="left:35px;top:70px;font-size:2.2px;color:#222;font-weight:700;">印刷品</b><i style="left:46px;top:59px;width:38px;height:40px;border:0.3px solid #e3e3e3;"></i><svg style="left:62.43511450381679px;top:62px" width="5.13" height="8" viewBox="62 115 420 655"><circle cx="272" cy="207" r="93" fill="#a8873d"/><polygon fill="#0d3c80" points="62,358 100,318 235,318 272,338 310,318 445,318 482,358 310,358 272,385 235,358"/><g fill="none" stroke="#0d3c80" stroke-width="34"><path d="M96,378 V590 Q96,670 175,722"/><path d="M149,378 V580 Q149,635 200,668"/><path d="M448,378 V590 Q448,670 369,722"/><path d="M395,378 V580 Q395,635 344,668"/></g><polygon fill="#a8873d" points="232,398 311,398 311,618 392,770 152,770 232,618"/><polygon fill="#fff" points="251,398 292,398 292,628 345,735 199,735 251,628"/></svg><b style="left:5px;top:70.64px;width:120px;text-align:center;font-size:1.76px;line-height:2.08px;color:#0d3c80;font-weight:700;letter-spacing:0.8px">香港科技大學</b><b style="left:5px;top:73.03999999999999px;width:120px;text-align:center;font-size:1.92px;line-height:2.1504000000000003px;color:#0d3c80;font-weight:700;transform:scaleX(0.9);transform-origin:50% 0;letter-spacing:0px">THE HONG KONG<br>UNIVERSITY OF SCIENCE<br>AND TECHNOLOGY</b><b style="left:86px;top:70px;font-size:2.2px;color:#222;font-weight:700;">網上媒體</b><b style="left:110px;top:62px;font-size:2.3px;color:#222;font-weight:700;">直向2：</b><b style="left:124px;top:70px;font-size:2.2px;color:#222;font-weight:700;">印刷品</b><i style="left:133px;top:59px;width:49px;height:40px;border:0.3px solid #e3e3e3;"></i><svg style="left:155.4351145038168px;top:62px" width="5.13" height="8" viewBox="62 115 420 655"><circle cx="272" cy="207" r="93" fill="#a8873d"/><polygon fill="#0d3c80" points="62,358 100,318 235,318 272,338 310,318 445,318 482,358 310,358 272,385 235,358"/><g fill="none" stroke="#0d3c80" stroke-width="34"><path d="M96,378 V590 Q96,670 175,722"/><path d="M149,378 V580 Q149,635 200,668"/><path d="M448,378 V590 Q448,670 369,722"/><path d="M395,378 V580 Q395,635 344,668"/></g><polygon fill="#a8873d" points="232,398 311,398 311,618 392,770 152,770 232,618"/><polygon fill="#fff" points="251,398 292,398 292,628 345,735 199,735 251,628"/></svg><b style="left:98px;top:70.64px;width:120px;text-align:center;font-size:1.76px;line-height:2.08px;color:#0d3c80;font-weight:700;letter-spacing:0.8px">香港科技大學</b><b style="left:98px;top:73.03999999999999px;width:120px;text-align:center;font-size:1.92px;line-height:2.1504000000000003px;color:#0d3c80;font-weight:700;transform:scaleX(0.9);transform-origin:50% 0;letter-spacing:0px">THE HONG KONG<br>UNIVERSITY OF SCIENCE<br>AND TECHNOLOGY</b><b style="left:184px;top:70px;font-size:2.2px;color:#222;font-weight:700;">網上媒體</b><b style="left:42px;top:106px;font-size:2.3px;color:#222;font-weight:700;">直向3：</b><b style="left:58px;top:112px;font-size:2.2px;color:#222;font-weight:700;">印刷品</b><i style="left:70px;top:104px;width:86px;height:22px;border:0.3px solid #e3e3e3;"></i><svg style="left:110.07633587786259px;top:106px" width="3.85" height="6" viewBox="62 115 420 655"><circle cx="272" cy="207" r="93" fill="#a8873d"/><polygon fill="#0d3c80" points="62,358 100,318 235,318 272,338 310,318 445,318 482,358 310,358 272,385 235,358"/><g fill="none" stroke="#0d3c80" stroke-width="34"><path d="M96,378 V590 Q96,670 175,722"/><path d="M149,378 V580 Q149,635 200,668"/><path d="M448,378 V590 Q448,670 369,722"/><path d="M395,378 V580 Q395,635 344,668"/></g><polygon fill="#a8873d" points="232,398 311,398 311,618 392,770 152,770 232,618"/><polygon fill="#fff" points="251,398 292,398 292,628 345,735 199,735 251,628"/></svg><b style="left:52px;top:112.48px;width:120px;text-align:center;font-size:1.32px;line-height:1.56px;color:#0d3c80;font-weight:700;letter-spacing:0.6000000000000001px">香港科技大學</b><b style="left:52px;top:114.28px;width:120px;text-align:center;font-size:1.8780000000000001px;line-height:2.1033600000000003px;color:#0d3c80;font-weight:700;transform:scaleX(0.9);transform-origin:50% 0;letter-spacing:0px">THE HONG KONG UNIVERSITY OF SCIENCE AND TECHNOLOGY</b><b style="left:158px;top:112px;font-size:2.2px;color:#222;font-weight:700;">網上媒體</b></div>
<div class="t" style="left:0.0px;top:2007.3px;background:#0a6fbf;"><i style="left:0px;top:0px;width:64px;height:149.4px;background:repeating-linear-gradient(135deg,rgba(255,255,255,.25) 0 1.8px,#0a6fbf 1.8px 7px);"></i><i style="left:13.5px;top:8.2px;width:184.5px;height:1.2px;background:rgba(255,255,255,.75);"></i><b style="left:13.5px;top:11px;font-size:2.2px;color:#fff;font-weight:700;">視象標誌</b><b style="left:190px;top:11px;font-size:2.2px;color:#fff;font-weight:700;">41</b><i style="left:13.5px;top:134px;width:184.5px;height:0.7px;background:rgba(255,255,255,.55);"></i><b style="left:13.5px;top:137.2px;font-size:2.2px;color:#fff;font-weight:700;">香港科技大學 品牌管理指引</b><b style="left:40px;width:156px;text-align:right;top:58px;font-size:6.6px;color:#fff;font-weight:700">3.3 大學標誌：<span style="color:#ffd200">英文</span></b><p class="f" style="left:140px;top:70px;width:56px;height:7.2px;font-size:2.3px;line-height:3.6px;color:#fff;font-weight:700;text-align:right"></p><p class="f" style="left:110px;top:82px;width:86px;height:3.6px;font-size:2.3px;line-height:3.6px;color:#fff;font-weight:700;"></p></div>
<div class="t" style="left:217.2px;top:2007.3px;background:#fff;"><i style="left:0px;top:0px;width:211.2px;height:38.5px;background:#0a6fbf;"></i><i style="left:14.1px;top:7.8px;width:183px;height:0.4px;background:rgba(255,255,255,.85);"></i><b style="left:14.3px;top:9.9px;font-size:2.2px;color:#fff;font-weight:400;">03. 視象標誌</b><b style="left:193px;top:9.9px;font-size:2.3px;color:#fff;font-weight:700;">42</b><i style="left:14.1px;top:13.9px;width:183px;height:0.3px;background:rgba(255,255,255,.6);"></i><b style="left:14.1px;top:24px;font-size:6.1px;color:#fff;font-weight:700;">大學標誌：<span style="color:#ffd200">英文</span></b><b style="left:14.3px;top:32.6px;font-size:2.55px;color:#fff;font-weight:400;">標誌必須完整呈現，不可改動或附加額外元素。</b><i style="left:14.1px;top:134.7px;width:183px;height:0.35px;background:#7d97bd;"></i><b style="left:14.3px;top:135.9px;font-size:2.1px;color:#1f4e8c;font-weight:400;">香港科技大學 <span style="color:#a88a4a">品牌管理指引</span></b><b style="left:14.5px;top:57px;font-size:3.4px;color:#222;font-weight:700;">原版</b><svg style="left:28px;top:76px" width="7.05" height="11" viewBox="62 115 420 655"><circle cx="272" cy="207" r="93" fill="#a8873d"/><polygon fill="#0d3c80" points="62,358 100,318 235,318 272,338 310,318 445,318 482,358 310,358 272,385 235,358"/><g fill="none" stroke="#0d3c80" stroke-width="34"><path d="M96,378 V590 Q96,670 175,722"/><path d="M149,378 V580 Q149,635 200,668"/><path d="M448,378 V590 Q448,670 369,722"/><path d="M395,378 V580 Q395,635 344,668"/></g><polygon fill="#a8873d" points="232,398 311,398 311,618 392,770 152,770 232,618"/><polygon fill="#fff" points="251,398 292,398 292,628 345,735 199,735 251,628"/></svg><b style="left:36.25px;top:76.2365px;font-size:3.19px;line-height:3.5090000000000003px;color:#0d3c80;font-weight:700;transform:scaleX(0.9);transform-origin:0 0;letter-spacing:0px">THE HONG KONG<br>UNIVERSITY OF SCIENCE<br>AND TECHNOLOGY</b><i style="left:83px;top:57px;width:0.4px;height:55px;background:#999;"></i><b style="left:94px;top:57px;font-size:3.4px;color:#222;font-weight:700;">變化版本</b><p class="f" style="left:94px;top:64px;width:90px;height:3.4px;font-size:2.2px;line-height:3.4px;color:#222;font-weight:700;"></p><b style="left:94px;top:78px;font-size:2.2px;color:#222;font-weight:400;">橫向1：</b><svg style="left:120px;top:78px" width="4.17" height="6.5" viewBox="62 115 420 655"><circle cx="272" cy="207" r="93" fill="#a8873d"/><polygon fill="#0d3c80" points="62,358 100,318 235,318 272,338 310,318 445,318 482,358 310,358 272,385 235,358"/><g fill="none" stroke="#0d3c80" stroke-width="34"><path d="M96,378 V590 Q96,670 175,722"/><path d="M149,378 V580 Q149,635 200,668"/><path d="M448,378 V590 Q448,670 369,722"/><path d="M395,378 V580 Q395,635 344,668"/></g><polygon fill="#a8873d" points="232,398 311,398 311,618 392,770 152,770 232,618"/><polygon fill="#fff" points="251,398 292,398 292,628 345,735 199,735 251,628"/></svg><b style="left:124.875px;top:78.4615px;font-size:2.535px;line-height:2.7885000000000004px;color:#0d3c80;font-weight:700;transform:scaleX(0.9);transform-origin:0 0;letter-spacing:0px">THE HONG KONG UNIVERSITY OF<br>SCIENCE AND TECHNOLOGY</b><b style="left:94px;top:103px;font-size:2.2px;color:#222;font-weight:400;">橫向2：</b><svg style="left:120px;top:103px" width="4.17" height="6.5" viewBox="62 115 420 655"><circle cx="272" cy="207" r="93" fill="#a8873d"/><polygon fill="#0d3c80" points="62,358 100,318 235,318 272,338 310,318 445,318 482,358 310,358 272,385 235,358"/><g fill="none" stroke="#0d3c80" stroke-width="34"><path d="M96,378 V590 Q96,670 175,722"/><path d="M149,378 V580 Q149,635 200,668"/><path d="M448,378 V590 Q448,670 369,722"/><path d="M395,378 V580 Q395,635 344,668"/></g><polygon fill="#a8873d" points="232,398 311,398 311,618 392,770 152,770 232,618"/><polygon fill="#fff" points="251,398 292,398 292,628 345,735 199,735 251,628"/></svg><b style="left:124.875px;top:105.052375px;font-size:2.1775px;line-height:2.3952500000000003px;color:#0d3c80;font-weight:700;transform:scaleX(0.9);transform-origin:0 0;letter-spacing:0px">THE HONG KONG UNIVERSITY OF SCIENCE AND TECHNOLOGY</b><b style="left:14.3px;top:128.9px;font-size:2.64px;color:#333;font-weight:400;">請到此下載標誌檔案：<span style="color:#1f5fa8;text-decoration:underline">下載標誌</span></b></div>
<div class="t" style="left:434.4px;top:2007.3px;background:#fff;"><i style="left:0px;top:0px;width:211.2px;height:38.5px;background:#0a6fbf;"></i><i style="left:14.1px;top:7.8px;width:183px;height:0.4px;background:rgba(255,255,255,.85);"></i><b style="left:14.3px;top:9.9px;font-size:2.2px;color:#fff;font-weight:400;">03. 視象標誌</b><b style="left:193px;top:9.9px;font-size:2.3px;color:#fff;font-weight:700;">43</b><i style="left:14.1px;top:13.9px;width:183px;height:0.3px;background:rgba(255,255,255,.6);"></i><b style="left:14.1px;top:24px;font-size:6.1px;color:#fff;font-weight:700;">大學標誌：<span style="color:#ffd200">英文</span></b><b style="left:14.3px;top:32.6px;font-size:2.55px;color:#fff;font-weight:400;">標誌必須完整呈現，不可改動或附加額外元素。</b><i style="left:14.1px;top:134.7px;width:183px;height:0.35px;background:#7d97bd;"></i><b style="left:14.3px;top:135.9px;font-size:2.1px;color:#1f4e8c;font-weight:400;">香港科技大學 <span style="color:#a88a4a">品牌管理指引</span></b><b style="left:15.5px;top:46px;font-size:3.5px;color:#222;font-weight:700;">變化版本</b><p class="f" style="left:15.5px;top:55px;width:120px;height:3.4px;font-size:2.2px;line-height:3.4px;color:#222;font-weight:700;"></p><b style="left:15.5px;top:71px;font-size:2.2px;color:#222;font-weight:700;">直向1：</b><svg style="left:25.873282442748092px;top:82px" width="7.05" height="11" viewBox="62 115 420 655"><circle cx="272" cy="207" r="93" fill="#a8873d"/><polygon fill="#0d3c80" points="62,358 100,318 235,318 272,338 310,318 445,318 482,358 310,358 272,385 235,358"/><g fill="none" stroke="#0d3c80" stroke-width="34"><path d="M96,378 V590 Q96,670 175,722"/><path d="M149,378 V580 Q149,635 200,668"/><path d="M448,378 V590 Q448,670 369,722"/><path d="M395,378 V580 Q395,635 344,668"/></g><polygon fill="#a8873d" points="232,398 311,398 311,618 392,770 152,770 232,618"/><polygon fill="#fff" points="251,398 292,398 292,628 345,735 199,735 251,628"/></svg><b style="left:-30.6px;top:94.32px;width:120px;text-align:center;font-size:2.816px;line-height:3.1539200000000003px;color:#0d3c80;font-weight:700;transform:scaleX(0.9);transform-origin:50% 0;letter-spacing:0px">THE HONG KONG<br>UNIVERSITY OF SCIENCE<br>AND TECHNOLOGY</b><b style="left:58.5px;top:71px;font-size:2.2px;color:#222;font-weight:700;">直向2：</b><svg style="left:81.37328244274809px;top:82px" width="7.05" height="11" viewBox="62 115 420 655"><circle cx="272" cy="207" r="93" fill="#a8873d"/><polygon fill="#0d3c80" points="62,358 100,318 235,318 272,338 310,318 445,318 482,358 310,358 272,385 235,358"/><g fill="none" stroke="#0d3c80" stroke-width="34"><path d="M96,378 V590 Q96,670 175,722"/><path d="M149,378 V580 Q149,635 200,668"/><path d="M448,378 V590 Q448,670 369,722"/><path d="M395,378 V580 Q395,635 344,668"/></g><polygon fill="#a8873d" points="232,398 311,398 311,618 392,770 152,770 232,618"/><polygon fill="#fff" points="251,398 292,398 292,628 345,735 199,735 251,628"/></svg><b style="left:24.900000000000006px;top:94.32px;width:120px;text-align:center;font-size:3.6300000000000003px;line-height:4.065600000000001px;color:#0d3c80;font-weight:700;transform:scaleX(0.9);transform-origin:50% 0;letter-spacing:0px">THE HONG KONG UNIVERSITY OF<br>SCIENCE AND TECHNOLOGY</b><b style="left:125px;top:71px;font-size:2.2px;color:#222;font-weight:700;">直向3：</b><svg style="left:158.07480916030536px;top:88px" width="5.45" height="8.5" viewBox="62 115 420 655"><circle cx="272" cy="207" r="93" fill="#a8873d"/><polygon fill="#0d3c80" points="62,358 100,318 235,318 272,338 310,318 445,318 482,358 310,358 272,385 235,358"/><g fill="none" stroke="#0d3c80" stroke-width="34"><path d="M96,378 V590 Q96,670 175,722"/><path d="M149,378 V580 Q149,635 200,668"/><path d="M448,378 V590 Q448,670 369,722"/><path d="M395,378 V580 Q395,635 344,668"/></g><polygon fill="#a8873d" points="232,398 311,398 311,618 392,770 152,770 232,618"/><polygon fill="#fff" points="251,398 292,398 292,628 345,735 199,735 251,628"/></svg><b style="left:100.80000000000001px;top:97.52px;width:120px;text-align:center;font-size:2.635px;line-height:2.9512px;color:#0d3c80;font-weight:700;transform:scaleX(0.9);transform-origin:50% 0;letter-spacing:0px">THE HONG KONG UNIVERSITY OF SCIENCE AND TECHNOLOGY</b><b style="left:14.3px;top:128.9px;font-size:2.64px;color:#333;font-weight:400;">請到此下載標誌檔案：<span style="color:#1f5fa8;text-decoration:underline">下載標誌</span></b></div>
<div class="t" style="left:651.6px;top:2007.3px;background:#fff;"><i style="left:0px;top:0px;width:70px;height:149.4px;background:repeating-linear-gradient(135deg,#e8eef6 0 2.8px,#fafbfd 2.8px 6.7px);"></i><i style="left:13.8px;top:8.3px;width:184px;height:1.5px;background:#a9bbd4;"></i><b style="left:13.8px;top:11.2px;font-size:2.1px;color:#0d3c80;font-weight:700;">3.3 視象標誌</b><b style="left:192px;top:11.2px;font-size:2.1px;color:#0d3c80;font-weight:700;">44</b><i style="left:13.8px;top:14.6px;width:184px;height:0.45px;background:#cfd8e4;"></i><i style="left:13.8px;top:134px;width:184px;height:0.7px;background:#cfd6df;"></i><b style="left:13.8px;top:137.2px;font-size:2.1px;color:#0d3c80;font-weight:700;">香港科技大學 <span style="color:#a8873d">品牌管理指引</span></b><b style="left:14px;top:25.3px;font-size:2.7px;color:#a8873d;font-weight:400;">大學標誌應用：英文</b><b style="left:14px;top:29.5px;font-size:6.5px;color:#0d3c80;font-weight:700;">留白空位</b><b style="left:14px;top:39.5px;font-size:2.3px;color:#222;font-weight:400;">標誌必須完整呈現，不可改動或附加額外元素。</b><p class="f" style="left:14px;top:67px;width:58px;height:10.8px;font-size:2.3px;line-height:3.6px;color:#0d3c80;font-weight:700;"></p><p class="f" style="left:14px;top:80px;width:58px;height:14.4px;font-size:2.3px;line-height:3.6px;color:#0d3c80;font-weight:700;"></p><b style="left:80px;top:33px;font-size:2.2px;color:#222;font-weight:400;">原版</b><i style="left:108px;top:34px;width:63px;height:15px;border:0.3px solid #c9ced4;"></i><i style="left:105.5px;top:37px;width:68px;height:9px;border:0.25px solid #dde1e6;"></i><b style="left:107px;top:30px;font-size:1.6px;color:#333;font-weight:400;">1/2x</b><b style="left:173px;top:35px;font-size:1.6px;color:#333;font-weight:400;">1/2x</b><b style="left:102px;top:47px;font-size:1.6px;color:#333;font-weight:400;">1/2x</b><b style="left:169px;top:53px;font-size:1.6px;color:#333;font-weight:400;">1/2x</b><svg style="left:112px;top:36px" width="6.41" height="10" viewBox="62 115 420 655"><circle cx="272" cy="207" r="93" fill="#a8873d"/><polygon fill="#0d3c80" points="62,358 100,318 235,318 272,338 310,318 445,318 482,358 310,358 272,385 235,358"/><g fill="none" stroke="#0d3c80" stroke-width="34"><path d="M96,378 V590 Q96,670 175,722"/><path d="M149,378 V580 Q149,635 200,668"/><path d="M448,378 V590 Q448,670 369,722"/><path d="M395,378 V580 Q395,635 344,668"/></g><polygon fill="#a8873d" points="232,398 311,398 311,618 392,770 152,770 232,618"/><polygon fill="#fff" points="251,398 292,398 292,628 345,735 199,735 251,628"/></svg><b style="left:119.5px;top:36.215px;font-size:2.9px;line-height:3.19px;color:#0d3c80;font-weight:700;transform:scaleX(0.9);transform-origin:0 0;letter-spacing:0px">THE HONG KONG<br>UNIVERSITY OF SCIENCE<br>AND TECHNOLOGY</b><b style="left:80px;top:78px;font-size:2.2px;color:#222;font-weight:400;">橫向1：</b><i style="left:108px;top:76px;width:72px;height:11px;border:0.3px solid #c9ced4;"></i><i style="left:105.5px;top:79px;width:77px;height:5px;border:0.25px solid #dde1e6;"></i><b style="left:107px;top:72px;font-size:1.6px;color:#333;font-weight:400;">1/2x</b><b style="left:182px;top:77px;font-size:1.6px;color:#333;font-weight:400;">1/2x</b><b style="left:102px;top:85px;font-size:1.6px;color:#333;font-weight:400;">1/2x</b><b style="left:178px;top:91px;font-size:1.6px;color:#333;font-weight:400;">1/2x</b><svg style="left:112px;top:78px" width="4.17" height="6.5" viewBox="62 115 420 655"><circle cx="272" cy="207" r="93" fill="#a8873d"/><polygon fill="#0d3c80" points="62,358 100,318 235,318 272,338 310,318 445,318 482,358 310,358 272,385 235,358"/><g fill="none" stroke="#0d3c80" stroke-width="34"><path d="M96,378 V590 Q96,670 175,722"/><path d="M149,378 V580 Q149,635 200,668"/><path d="M448,378 V590 Q448,670 369,722"/><path d="M395,378 V580 Q395,635 344,668"/></g><polygon fill="#a8873d" points="232,398 311,398 311,618 392,770 152,770 232,618"/><polygon fill="#fff" points="251,398 292,398 292,628 345,735 199,735 251,628"/></svg><b style="left:116.875px;top:78.4615px;font-size:2.535px;line-height:2.7885000000000004px;color:#0d3c80;font-weight:700;transform:scaleX(0.9);transform-origin:0 0;letter-spacing:0px">THE HONG KONG UNIVERSITY OF<br>SCIENCE AND TECHNOLOGY</b><b style="left:80px;top:110px;font-size:2.2px;color:#222;font-weight:400;">橫向2：</b><i style="left:108px;top:109px;width:86px;height:10px;border:0.3px solid #c9ced4;"></i><i style="left:105.5px;top:112px;width:91px;height:4px;border:0.25px solid #dde1e6;"></i><b style="left:107px;top:105px;font-size:1.6px;color:#333;font-weight:400;">1/2x</b><b style="left:196px;top:110px;font-size:1.6px;color:#333;font-weight:400;">1/2x</b><b style="left:102px;top:117px;font-size:1.6px;color:#333;font-weight:400;">1/2x</b><b style="left:192px;top:123px;font-size:1.6px;color:#333;font-weight:400;">1/2x</b><svg style="left:112px;top:111px" width="3.85" height="6" viewBox="62 115 420 655"><circle cx="272" cy="207" r="93" fill="#a8873d"/><polygon fill="#0d3c80" points="62,358 100,318 235,318 272,338 310,318 445,318 482,358 310,358 272,385 235,358"/><g fill="none" stroke="#0d3c80" stroke-width="34"><path d="M96,378 V590 Q96,670 175,722"/><path d="M149,378 V580 Q149,635 200,668"/><path d="M448,378 V590 Q448,670 369,722"/><path d="M395,378 V580 Q395,635 344,668"/></g><polygon fill="#a8873d" points="232,398 311,398 311,618 392,770 152,770 232,618"/><polygon fill="#fff" points="251,398 292,398 292,628 345,735 199,735 251,628"/></svg><b style="left:116.5px;top:112.8945px;font-size:2.0100000000000002px;line-height:2.2110000000000003px;color:#0d3c80;font-weight:700;transform:scaleX(0.9);transform-origin:0 0;letter-spacing:0px">THE HONG KONG UNIVERSITY OF SCIENCE AND TECHNOLOGY</b></div>
<div class="t" style="left:868.8px;top:2007.3px;background:#fff;"><i style="left:0px;top:0px;width:211.2px;height:49px;background:repeating-linear-gradient(135deg,#e8eef6 0 2.8px,#fafbfd 2.8px 6.7px);"></i><i style="left:13.8px;top:8.3px;width:184px;height:1.5px;background:#a9bbd4;"></i><b style="left:13.8px;top:11.2px;font-size:2.1px;color:#0d3c80;font-weight:700;">3.2 視象標誌</b><b style="left:192px;top:11.2px;font-size:2.1px;color:#0d3c80;font-weight:700;">45</b><i style="left:13.8px;top:14.6px;width:184px;height:0.45px;background:#cfd8e4;"></i><i style="left:13.8px;top:134px;width:184px;height:0.7px;background:#cfd6df;"></i><b style="left:13.8px;top:137.2px;font-size:2.1px;color:#0d3c80;font-weight:700;">香港科技大學 <span style="color:#a8873d">品牌管理指引</span></b><b style="left:14px;top:25.3px;font-size:2.7px;color:#a8873d;font-weight:400;">大學標誌應用：英文</b><b style="left:14px;top:29.3px;font-size:6.6px;color:#0d3c80;font-weight:700;">留白空位</b><b style="left:14px;top:39.5px;font-size:2.3px;color:#222;font-weight:700;">標誌必須完整呈現，不可改動或附加額外元素。</b><b style="left:20px;top:63px;font-size:2.3px;color:#222;font-weight:700;">直向1：</b><i style="left:42px;top:61px;width:40px;height:30px;border:0.3px solid #c9ced4;"></i><i style="left:39.5px;top:64px;width:45px;height:24px;border:0.25px solid #dde1e6;"></i><b style="left:41px;top:57px;font-size:1.6px;color:#333;font-weight:400;">1/2x</b><b style="left:84px;top:62px;font-size:1.6px;color:#333;font-weight:400;">1/2x</b><b style="left:36px;top:89px;font-size:1.6px;color:#333;font-weight:400;">1/2x</b><b style="left:80px;top:95px;font-size:1.6px;color:#333;font-weight:400;">1/2x</b><svg style="left:58.7557251908397px;top:66px" width="4.49" height="7" viewBox="62 115 420 655"><circle cx="272" cy="207" r="93" fill="#a8873d"/><polygon fill="#0d3c80" points="62,358 100,318 235,318 272,338 310,318 445,318 482,358 310,358 272,385 235,358"/><g fill="none" stroke="#0d3c80" stroke-width="34"><path d="M96,378 V590 Q96,670 175,722"/><path d="M149,378 V580 Q149,635 200,668"/><path d="M448,378 V590 Q448,670 369,722"/><path d="M395,378 V580 Q395,635 344,668"/></g><polygon fill="#a8873d" points="232,398 311,398 311,618 392,770 152,770 232,618"/><polygon fill="#fff" points="251,398 292,398 292,628 345,735 199,735 251,628"/></svg><b style="left:1px;top:73.84px;width:120px;text-align:center;font-size:1.792px;line-height:2.0070400000000004px;color:#0d3c80;font-weight:700;transform:scaleX(0.9);transform-origin:50% 0;letter-spacing:0px">THE HONG KONG<br>UNIVERSITY OF SCIENCE<br>AND TECHNOLOGY</b><b style="left:102px;top:63px;font-size:2.3px;color:#222;font-weight:700;">直向2：</b><i style="left:118px;top:63px;width:67px;height:25px;border:0.3px solid #c9ced4;"></i><i style="left:115.5px;top:66px;width:72px;height:19px;border:0.25px solid #dde1e6;"></i><b style="left:117px;top:59px;font-size:1.6px;color:#333;font-weight:400;">1/2x</b><b style="left:187px;top:64px;font-size:1.6px;color:#333;font-weight:400;">1/2x</b><b style="left:112px;top:86px;font-size:1.6px;color:#333;font-weight:400;">1/2x</b><b style="left:183px;top:92px;font-size:1.6px;color:#333;font-weight:400;">1/2x</b><svg style="left:149.75572519083968px;top:66px" width="4.49" height="7" viewBox="62 115 420 655"><circle cx="272" cy="207" r="93" fill="#a8873d"/><polygon fill="#0d3c80" points="62,358 100,318 235,318 272,338 310,318 445,318 482,358 310,358 272,385 235,358"/><g fill="none" stroke="#0d3c80" stroke-width="34"><path d="M96,378 V590 Q96,670 175,722"/><path d="M149,378 V580 Q149,635 200,668"/><path d="M448,378 V590 Q448,670 369,722"/><path d="M395,378 V580 Q395,635 344,668"/></g><polygon fill="#a8873d" points="232,398 311,398 311,618 392,770 152,770 232,618"/><polygon fill="#fff" points="251,398 292,398 292,628 345,735 199,735 251,628"/></svg><b style="left:92px;top:73.84px;width:120px;text-align:center;font-size:2.31px;line-height:2.5872px;color:#0d3c80;font-weight:700;transform:scaleX(0.9);transform-origin:50% 0;letter-spacing:0px">THE HONG KONG UNIVERSITY OF<br>SCIENCE AND TECHNOLOGY</b><b style="left:42px;top:110px;font-size:2.3px;color:#222;font-weight:700;">直向3：</b><i style="left:70px;top:107px;width:85px;height:19px;border:0.3px solid #c9ced4;"></i><i style="left:67.5px;top:110px;width:90px;height:13px;border:0.25px solid #dde1e6;"></i><b style="left:69px;top:103px;font-size:1.6px;color:#333;font-weight:400;">1/2x</b><b style="left:157px;top:108px;font-size:1.6px;color:#333;font-weight:400;">1/2x</b><b style="left:64px;top:124px;font-size:1.6px;color:#333;font-weight:400;">1/2x</b><b style="left:153px;top:130px;font-size:1.6px;color:#333;font-weight:400;">1/2x</b><svg style="left:109.91603053435115px;top:111px" width="4.17" height="6.5" viewBox="62 115 420 655"><circle cx="272" cy="207" r="93" fill="#a8873d"/><polygon fill="#0d3c80" points="62,358 100,318 235,318 272,338 310,318 445,318 482,358 310,358 272,385 235,358"/><g fill="none" stroke="#0d3c80" stroke-width="34"><path d="M96,378 V590 Q96,670 175,722"/><path d="M149,378 V580 Q149,635 200,668"/><path d="M448,378 V590 Q448,670 369,722"/><path d="M395,378 V580 Q395,635 344,668"/></g><polygon fill="#a8873d" points="232,398 311,398 311,618 392,770 152,770 232,618"/><polygon fill="#fff" points="251,398 292,398 292,628 345,735 199,735 251,628"/></svg><b style="left:52px;top:118.28px;width:120px;text-align:center;font-size:2.015px;line-height:2.2568px;color:#0d3c80;font-weight:700;transform:scaleX(0.9);transform-origin:50% 0;letter-spacing:0px">THE HONG KONG UNIVERSITY OF SCIENCE AND TECHNOLOGY</b></div>
<div class="t" style="left:0.0px;top:2162.7px;background:#fff;"><i style="left:0px;top:0px;width:72px;height:149.4px;background:repeating-linear-gradient(135deg,#e8eef6 0 2.8px,#fafbfd 2.8px 6.7px);"></i><i style="left:13.8px;top:8.3px;width:184px;height:1.5px;background:#a9bbd4;"></i><b style="left:13.8px;top:11.2px;font-size:2.1px;color:#0d3c80;font-weight:700;">3.3 視象標誌</b><b style="left:192px;top:11.2px;font-size:2.1px;color:#0d3c80;font-weight:700;">46</b><i style="left:13.8px;top:14.6px;width:184px;height:0.45px;background:#cfd8e4;"></i><i style="left:13.8px;top:134px;width:184px;height:0.7px;background:#cfd6df;"></i><b style="left:13.8px;top:137.2px;font-size:2.1px;color:#0d3c80;font-weight:700;">香港科技大學 <span style="color:#a8873d">品牌管理指引</span></b><b style="left:14.5px;top:25px;font-size:2.7px;color:#a8873d;font-weight:400;">大學標誌應用：英文</b><b style="left:14.5px;top:29px;font-size:6.6px;color:#0d3c80;font-weight:700;">最小尺寸</b><b style="left:14.5px;top:39.5px;font-size:2.3px;color:#222;font-weight:700;">標誌必須完整呈現，不可改動或附加額外元素。</b><p class="f" style="left:14.5px;top:60px;width:58px;height:7.2px;font-size:2.3px;line-height:3.6px;color:#1f4f9a;font-weight:700;"></p><p class="f" style="left:14.5px;top:71px;width:58px;height:3.6px;font-size:2.3px;line-height:3.6px;color:#1f4f9a;font-weight:700;"></p><b style="left:85px;top:28.7px;font-size:2.1px;color:#222;font-weight:700;">原版</b><b style="left:89px;top:38px;font-size:2px;color:#222;font-weight:700;">印刷品</b><svg style="left:99px;top:33px" width="7.69" height="12" viewBox="62 115 420 655"><circle cx="272" cy="207" r="93" fill="#a8873d"/><polygon fill="#0d3c80" points="62,358 100,318 235,318 272,338 310,318 445,318 482,358 310,358 272,385 235,358"/><g fill="none" stroke="#0d3c80" stroke-width="34"><path d="M96,378 V590 Q96,670 175,722"/><path d="M149,378 V580 Q149,635 200,668"/><path d="M448,378 V590 Q448,670 369,722"/><path d="M395,378 V580 Q395,635 344,668"/></g><polygon fill="#a8873d" points="232,398 311,398 311,618 392,770 152,770 232,618"/><polygon fill="#fff" points="251,398 292,398 292,628 345,735 199,735 251,628"/></svg><b style="left:108.0px;top:33.258px;font-size:3.4799999999999995px;line-height:3.828px;color:#0d3c80;font-weight:700;transform:scaleX(0.9);transform-origin:0 0;letter-spacing:0px">THE HONG KONG<br>UNIVERSITY OF SCIENCE<br>AND TECHNOLOGY</b><b style="left:157px;top:38px;font-size:2px;color:#222;font-weight:700;">網上媒體</b><b style="left:85px;top:70px;font-size:2.1px;color:#222;font-weight:700;">橫向1：</b><b style="left:89px;top:78px;font-size:2px;color:#222;font-weight:700;">印刷品</b><svg style="left:101px;top:76px" width="5.13" height="8" viewBox="62 115 420 655"><circle cx="272" cy="207" r="93" fill="#a8873d"/><polygon fill="#0d3c80" points="62,358 100,318 235,318 272,338 310,318 445,318 482,358 310,358 272,385 235,358"/><g fill="none" stroke="#0d3c80" stroke-width="34"><path d="M96,378 V590 Q96,670 175,722"/><path d="M149,378 V580 Q149,635 200,668"/><path d="M448,378 V590 Q448,670 369,722"/><path d="M395,378 V580 Q395,635 344,668"/></g><polygon fill="#a8873d" points="232,398 311,398 311,618 392,770 152,770 232,618"/><polygon fill="#fff" points="251,398 292,398 292,628 345,735 199,735 251,628"/></svg><b style="left:107.0px;top:76.568px;font-size:3.12px;line-height:3.4320000000000004px;color:#0d3c80;font-weight:700;transform:scaleX(0.9);transform-origin:0 0;letter-spacing:0px">THE HONG KONG UNIVERSITY OF<br>SCIENCE AND TECHNOLOGY</b><b style="left:149px;top:78px;font-size:2px;color:#222;font-weight:700;">網上媒體</b><b style="left:85px;top:107px;font-size:2.1px;color:#222;font-weight:700;">橫向2：</b><b style="left:89px;top:116px;font-size:2px;color:#222;font-weight:700;">印刷品</b><svg style="left:101px;top:113px" width="4.49" height="7" viewBox="62 115 420 655"><circle cx="272" cy="207" r="93" fill="#a8873d"/><polygon fill="#0d3c80" points="62,358 100,318 235,318 272,338 310,318 445,318 482,358 310,358 272,385 235,358"/><g fill="none" stroke="#0d3c80" stroke-width="34"><path d="M96,378 V590 Q96,670 175,722"/><path d="M149,378 V580 Q149,635 200,668"/><path d="M448,378 V590 Q448,670 369,722"/><path d="M395,378 V580 Q395,635 344,668"/></g><polygon fill="#a8873d" points="232,398 311,398 311,618 392,770 152,770 232,618"/><polygon fill="#fff" points="251,398 292,398 292,628 345,735 199,735 251,628"/></svg><b style="left:106.25px;top:115.21025px;font-size:2.345px;line-height:2.5795000000000003px;color:#0d3c80;font-weight:700;transform:scaleX(0.9);transform-origin:0 0;letter-spacing:0px">THE HONG KONG UNIVERSITY OF SCIENCE AND TECHNOLOGY</b><b style="left:179px;top:116px;font-size:2px;color:#222;font-weight:700;">網上媒體</b></div>
<div class="t" style="left:217.2px;top:2162.7px;background:#fff;"><i style="left:0px;top:0px;width:211.2px;height:49px;background:repeating-linear-gradient(135deg,#e8eef6 0 2.8px,#fafbfd 2.8px 6.7px);"></i><i style="left:13.8px;top:8.3px;width:184px;height:1.5px;background:#a9bbd4;"></i><b style="left:13.8px;top:11.2px;font-size:2.1px;color:#0d3c80;font-weight:700;">3.2 視象標誌</b><b style="left:192px;top:11.2px;font-size:2.1px;color:#0d3c80;font-weight:700;">47</b><i style="left:13.8px;top:14.6px;width:184px;height:0.45px;background:#cfd8e4;"></i><i style="left:13.8px;top:134px;width:184px;height:0.7px;background:#cfd6df;"></i><b style="left:13.8px;top:137.2px;font-size:2.1px;color:#0d3c80;font-weight:700;">香港科技大學 <span style="color:#a8873d">品牌管理指引</span></b><b style="left:14px;top:25.3px;font-size:2.7px;color:#a8873d;font-weight:400;">大學標誌應用：英文</b><b style="left:14px;top:29.3px;font-size:6.6px;color:#0d3c80;font-weight:700;">最小尺寸</b><b style="left:14px;top:39.5px;font-size:2.3px;color:#222;font-weight:700;">標誌必須完整呈現，不可改動或附加額外元素。</b><b style="left:19px;top:60px;font-size:2.3px;color:#222;font-weight:700;">直向1：</b><b style="left:30px;top:73px;font-size:2px;color:#222;font-weight:700;">印刷品</b><svg style="left:52.79389312977099px;top:62px" width="6.41" height="10" viewBox="62 115 420 655"><circle cx="272" cy="207" r="93" fill="#a8873d"/><polygon fill="#0d3c80" points="62,358 100,318 235,318 272,338 310,318 445,318 482,358 310,358 272,385 235,358"/><g fill="none" stroke="#0d3c80" stroke-width="34"><path d="M96,378 V590 Q96,670 175,722"/><path d="M149,378 V580 Q149,635 200,668"/><path d="M448,378 V590 Q448,670 369,722"/><path d="M395,378 V580 Q395,635 344,668"/></g><polygon fill="#a8873d" points="232,398 311,398 311,618 392,770 152,770 232,618"/><polygon fill="#fff" points="251,398 292,398 292,628 345,735 199,735 251,628"/></svg><b style="left:-4px;top:73.2px;width:120px;text-align:center;font-size:2.56px;line-height:2.8672000000000004px;color:#0d3c80;font-weight:700;transform:scaleX(0.9);transform-origin:50% 0;letter-spacing:0px">THE HONG KONG<br>UNIVERSITY OF SCIENCE<br>AND TECHNOLOGY</b><b style="left:80px;top:73px;font-size:2px;color:#222;font-weight:700;">網上媒體</b><b style="left:102px;top:62px;font-size:2.3px;color:#222;font-weight:700;">直向2：</b><b style="left:118px;top:73px;font-size:2px;color:#222;font-weight:700;">印刷品</b><svg style="left:146.793893129771px;top:62px" width="6.41" height="10" viewBox="62 115 420 655"><circle cx="272" cy="207" r="93" fill="#a8873d"/><polygon fill="#0d3c80" points="62,358 100,318 235,318 272,338 310,318 445,318 482,358 310,358 272,385 235,358"/><g fill="none" stroke="#0d3c80" stroke-width="34"><path d="M96,378 V590 Q96,670 175,722"/><path d="M149,378 V580 Q149,635 200,668"/><path d="M448,378 V590 Q448,670 369,722"/><path d="M395,378 V580 Q395,635 344,668"/></g><polygon fill="#a8873d" points="232,398 311,398 311,618 392,770 152,770 232,618"/><polygon fill="#fff" points="251,398 292,398 292,628 345,735 199,735 251,628"/></svg><b style="left:90px;top:73.2px;width:120px;text-align:center;font-size:3.3000000000000003px;line-height:3.6960000000000006px;color:#0d3c80;font-weight:700;transform:scaleX(0.9);transform-origin:50% 0;letter-spacing:0px">THE HONG KONG UNIVERSITY OF<br>SCIENCE AND TECHNOLOGY</b><b style="left:180px;top:73px;font-size:2px;color:#222;font-weight:700;">網上媒體</b><b style="left:40px;top:105px;font-size:2.3px;color:#222;font-weight:700;">直向3：</b><b style="left:56px;top:116px;font-size:2px;color:#222;font-weight:700;">印刷品</b><svg style="left:107.43511450381679px;top:105px" width="5.13" height="8" viewBox="62 115 420 655"><circle cx="272" cy="207" r="93" fill="#a8873d"/><polygon fill="#0d3c80" points="62,358 100,318 235,318 272,338 310,318 445,318 482,358 310,358 272,385 235,358"/><g fill="none" stroke="#0d3c80" stroke-width="34"><path d="M96,378 V590 Q96,670 175,722"/><path d="M149,378 V580 Q149,635 200,668"/><path d="M448,378 V590 Q448,670 369,722"/><path d="M395,378 V580 Q395,635 344,668"/></g><polygon fill="#a8873d" points="232,398 311,398 311,618 392,770 152,770 232,618"/><polygon fill="#fff" points="251,398 292,398 292,628 345,735 199,735 251,628"/></svg><b style="left:50px;top:113.96000000000001px;width:120px;text-align:center;font-size:2.48px;line-height:2.7776px;color:#0d3c80;font-weight:700;transform:scaleX(0.9);transform-origin:50% 0;letter-spacing:0px">THE HONG KONG UNIVERSITY OF SCIENCE AND TECHNOLOGY</b><b style="left:164px;top:116px;font-size:2px;color:#222;font-weight:700;">網上媒體</b></div>
<div class="t" style="left:434.4px;top:2162.7px;background:#0a6fbf;"><i style="left:0px;top:0px;width:64px;height:149.4px;background:repeating-linear-gradient(135deg,rgba(255,255,255,.25) 0 1.8px,#0a6fbf 1.8px 7px);"></i><i style="left:13.5px;top:8.2px;width:184.5px;height:1.2px;background:rgba(255,255,255,.75);"></i><b style="left:13.5px;top:11px;font-size:2.2px;color:#fff;font-weight:700;">視象標誌</b><b style="left:190px;top:11px;font-size:2.2px;color:#fff;font-weight:700;">48</b><i style="left:13.5px;top:134px;width:184.5px;height:0.7px;background:rgba(255,255,255,.55);"></i><b style="left:13.5px;top:137.2px;font-size:2.2px;color:#fff;font-weight:700;">香港科技大學 品牌管理指引</b><b style="left:40px;width:156px;text-align:right;top:58px;font-size:6.6px;color:#fff;font-weight:700">3.4 大學標誌：<span style="color:#ffd200">中文</span></b><p class="f" style="left:140px;top:70px;width:56px;height:7.2px;font-size:2.3px;line-height:3.6px;color:#fff;font-weight:700;text-align:right"></p><p class="f" style="left:110px;top:82px;width:86px;height:3.6px;font-size:2.3px;line-height:3.6px;color:#fff;font-weight:700;"></p></div>
<div class="t" style="left:651.6px;top:2162.7px;background:#fff;"><i style="left:0px;top:0px;width:211.2px;height:38.5px;background:#0a6fbf;"></i><i style="left:14.1px;top:7.8px;width:183px;height:0.4px;background:rgba(255,255,255,.85);"></i><b style="left:14.3px;top:9.9px;font-size:2.2px;color:#fff;font-weight:400;">03. 視象標誌</b><b style="left:193px;top:9.9px;font-size:2.3px;color:#fff;font-weight:700;">49</b><i style="left:14.1px;top:13.9px;width:183px;height:0.3px;background:rgba(255,255,255,.6);"></i><b style="left:14.1px;top:24px;font-size:6.1px;color:#fff;font-weight:700;">大學標誌：<span style="color:#ffd200">中文</span></b><b style="left:14.3px;top:32.6px;font-size:2.55px;color:#fff;font-weight:400;">標誌必須完整呈現，不可改動或附加額外元素。</b><i style="left:14.1px;top:134.7px;width:183px;height:0.35px;background:#7d97bd;"></i><b style="left:14.3px;top:135.9px;font-size:2.1px;color:#1f4e8c;font-weight:400;">香港科技大學 <span style="color:#a88a4a">品牌管理指引</span></b><b style="left:14.5px;top:57px;font-size:3.4px;color:#222;font-weight:700;">原版</b><svg style="left:28px;top:79px" width="5.13" height="8" viewBox="62 115 420 655"><circle cx="272" cy="207" r="93" fill="#a8873d"/><polygon fill="#0d3c80" points="62,358 100,318 235,318 272,338 310,318 445,318 482,358 310,358 272,385 235,358"/><g fill="none" stroke="#0d3c80" stroke-width="34"><path d="M96,378 V590 Q96,670 175,722"/><path d="M149,378 V580 Q149,635 200,668"/><path d="M448,378 V590 Q448,670 369,722"/><path d="M395,378 V580 Q395,635 344,668"/></g><polygon fill="#a8873d" points="232,398 311,398 311,618 392,770 152,770 232,618"/><polygon fill="#fff" points="251,398 292,398 292,628 345,735 199,735 251,628"/></svg><b style="left:34.4px;top:80.6px;font-size:4.48px;color:#0d3c80;font-weight:700;letter-spacing:1.04px">香港科技大學</b><i style="left:83px;top:57px;width:0.4px;height:55px;background:#999;"></i><b style="left:94px;top:57px;font-size:3.4px;color:#222;font-weight:700;">變化版本</b><p class="f" style="left:94px;top:64px;width:90px;height:3.4px;font-size:2.2px;line-height:3.4px;color:#222;font-weight:700;"></p><b style="left:94px;top:78px;font-size:2.2px;color:#222;font-weight:400;">直向</b><svg style="left:137.4351145038168px;top:88px" width="5.13" height="8" viewBox="62 115 420 655"><circle cx="272" cy="207" r="93" fill="#a8873d"/><polygon fill="#0d3c80" points="62,358 100,318 235,318 272,338 310,318 445,318 482,358 310,358 272,385 235,358"/><g fill="none" stroke="#0d3c80" stroke-width="34"><path d="M96,378 V590 Q96,670 175,722"/><path d="M149,378 V580 Q149,635 200,668"/><path d="M448,378 V590 Q448,670 369,722"/><path d="M395,378 V580 Q395,635 344,668"/></g><polygon fill="#a8873d" points="232,398 311,398 311,618 392,770 152,770 232,618"/><polygon fill="#fff" points="251,398 292,398 292,628 345,735 199,735 251,628"/></svg><b style="left:100px;width:80px;text-align:center;top:96.96000000000001px;font-size:3.36px;color:#0d3c80;font-weight:700;letter-spacing:0.88px">香港科技大學</b><b style="left:14.3px;top:128.9px;font-size:2.64px;color:#333;font-weight:400;">請到此下載標誌檔案：<span style="color:#1f5fa8;text-decoration:underline">下載標誌</span></b></div>
<div class="t" style="left:868.8px;top:2162.7px;background:#fff;"><i style="left:0px;top:0px;width:70px;height:149.4px;background:repeating-linear-gradient(135deg,#e8eef6 0 2.8px,#fafbfd 2.8px 6.7px);"></i><i style="left:13.8px;top:8.3px;width:184px;height:1.5px;background:#a9bbd4;"></i><b style="left:13.8px;top:11.2px;font-size:2.1px;color:#0d3c80;font-weight:700;">3.4 視象標誌</b><b style="left:192px;top:11.2px;font-size:2.1px;color:#0d3c80;font-weight:700;">50</b><i style="left:13.8px;top:14.6px;width:184px;height:0.45px;background:#cfd8e4;"></i><i style="left:13.8px;top:134px;width:184px;height:0.7px;background:#cfd6df;"></i><b style="left:13.8px;top:137.2px;font-size:2.1px;color:#0d3c80;font-weight:700;">香港科技大學 <span style="color:#a8873d">品牌管理指引</span></b><b style="left:14px;top:25.3px;font-size:2.7px;color:#a8873d;font-weight:400;">大學標誌應用：中文</b><b style="left:14px;top:29.5px;font-size:6.5px;color:#0d3c80;font-weight:700;">留白空位</b><b style="left:14px;top:39.5px;font-size:2.3px;color:#222;font-weight:400;">標誌必須完整呈現，不可改動或附加額外元素。</b><p class="f" style="left:14px;top:67px;width:58px;height:10.8px;font-size:2.3px;line-height:3.6px;color:#0d3c80;font-weight:700;"></p><p class="f" style="left:14px;top:80px;width:58px;height:10.8px;font-size:2.3px;line-height:3.6px;color:#0d3c80;font-weight:700;"></p><b style="left:80px;top:40px;font-size:2.2px;color:#222;font-weight:400;">原版</b><i style="left:117px;top:38px;width:48px;height:14px;border:0.3px solid #c9ced4;"></i><i style="left:114.5px;top:41px;width:53px;height:8px;border:0.25px solid #dde1e6;"></i><b style="left:116px;top:34px;font-size:1.6px;color:#333;font-weight:400;">1/2x</b><b style="left:167px;top:39px;font-size:1.6px;color:#333;font-weight:400;">1/2x</b><b style="left:111px;top:50px;font-size:1.6px;color:#333;font-weight:400;">1/2x</b><b style="left:163px;top:56px;font-size:1.6px;color:#333;font-weight:400;">1/2x</b><svg style="left:121px;top:41px" width="4.49" height="7" viewBox="62 115 420 655"><circle cx="272" cy="207" r="93" fill="#a8873d"/><polygon fill="#0d3c80" points="62,358 100,318 235,318 272,338 310,318 445,318 482,358 310,358 272,385 235,358"/><g fill="none" stroke="#0d3c80" stroke-width="34"><path d="M96,378 V590 Q96,670 175,722"/><path d="M149,378 V580 Q149,635 200,668"/><path d="M448,378 V590 Q448,670 369,722"/><path d="M395,378 V580 Q395,635 344,668"/></g><polygon fill="#a8873d" points="232,398 311,398 311,618 392,770 152,770 232,618"/><polygon fill="#fff" points="251,398 292,398 292,628 345,735 199,735 251,628"/></svg><b style="left:126.6px;top:42.4px;font-size:3.9200000000000004px;color:#0d3c80;font-weight:700;letter-spacing:0.91px">香港科技大學</b><b style="left:80px;top:74px;font-size:2.2px;color:#222;font-weight:400;">直向</b><i style="left:113px;top:64px;width:50px;height:33px;border:0.3px solid #c9ced4;"></i><i style="left:110.5px;top:67px;width:55px;height:27px;border:0.25px solid #dde1e6;"></i><b style="left:112px;top:60px;font-size:1.6px;color:#333;font-weight:400;">1/2x</b><b style="left:165px;top:65px;font-size:1.6px;color:#333;font-weight:400;">1/2x</b><b style="left:107px;top:95px;font-size:1.6px;color:#333;font-weight:400;">1/2x</b><b style="left:161px;top:101px;font-size:1.6px;color:#333;font-weight:400;">1/2x</b><svg style="left:135.4351145038168px;top:68px" width="5.13" height="8" viewBox="62 115 420 655"><circle cx="272" cy="207" r="93" fill="#a8873d"/><polygon fill="#0d3c80" points="62,358 100,318 235,318 272,338 310,318 445,318 482,358 310,358 272,385 235,358"/><g fill="none" stroke="#0d3c80" stroke-width="34"><path d="M96,378 V590 Q96,670 175,722"/><path d="M149,378 V580 Q149,635 200,668"/><path d="M448,378 V590 Q448,670 369,722"/><path d="M395,378 V580 Q395,635 344,668"/></g><polygon fill="#a8873d" points="232,398 311,398 311,618 392,770 152,770 232,618"/><polygon fill="#fff" points="251,398 292,398 292,628 345,735 199,735 251,628"/></svg><b style="left:98px;width:80px;text-align:center;top:76.96000000000001px;font-size:3.36px;color:#0d3c80;font-weight:700;letter-spacing:0.88px">香港科技大學</b></div>
<div class="t" style="left:0.0px;top:2318.2px;background:#fff;"><i style="left:0px;top:0px;width:72px;height:149.4px;background:repeating-linear-gradient(135deg,#e8eef6 0 2.8px,#fafbfd 2.8px 6.7px);"></i><i style="left:13.8px;top:8.3px;width:184px;height:1.5px;background:#a9bbd4;"></i><b style="left:13.8px;top:11.2px;font-size:2.1px;color:#0d3c80;font-weight:700;">3.4 視象標誌</b><b style="left:192px;top:11.2px;font-size:2.1px;color:#0d3c80;font-weight:700;">51</b><i style="left:13.8px;top:14.6px;width:184px;height:0.45px;background:#cfd8e4;"></i><i style="left:13.8px;top:134px;width:184px;height:0.7px;background:#cfd6df;"></i><b style="left:13.8px;top:137.2px;font-size:2.1px;color:#0d3c80;font-weight:700;">香港科技大學 <span style="color:#a8873d">品牌管理指引</span></b><b style="left:14.5px;top:25px;font-size:2.7px;color:#a8873d;font-weight:400;">大學標誌應用：中文</b><b style="left:14.5px;top:29px;font-size:6.6px;color:#0d3c80;font-weight:700;">最小尺寸</b><b style="left:14.5px;top:39.5px;font-size:2.3px;color:#222;font-weight:700;">標誌必須完整呈現，不可改動或附加額外元素。</b><p class="f" style="left:14.5px;top:60px;width:58px;height:7.2px;font-size:2.3px;line-height:3.6px;color:#1f4f9a;font-weight:700;"></p><p class="f" style="left:14.5px;top:71px;width:58px;height:3.6px;font-size:2.3px;line-height:3.6px;color:#1f4f9a;font-weight:700;"></p><b style="left:80px;top:32.7px;font-size:2.1px;color:#222;font-weight:700;">原版</b><b style="left:103px;top:40px;font-size:2px;color:#222;font-weight:700;">印刷品</b><svg style="left:117px;top:36px" width="5.77" height="9" viewBox="62 115 420 655"><circle cx="272" cy="207" r="93" fill="#a8873d"/><polygon fill="#0d3c80" points="62,358 100,318 235,318 272,338 310,318 445,318 482,358 310,358 272,385 235,358"/><g fill="none" stroke="#0d3c80" stroke-width="34"><path d="M96,378 V590 Q96,670 175,722"/><path d="M149,378 V580 Q149,635 200,668"/><path d="M448,378 V590 Q448,670 369,722"/><path d="M395,378 V580 Q395,635 344,668"/></g><polygon fill="#a8873d" points="232,398 311,398 311,618 392,770 152,770 232,618"/><polygon fill="#fff" points="251,398 292,398 292,628 345,735 199,735 251,628"/></svg><b style="left:124.2px;top:37.8px;font-size:5.040000000000001px;color:#0d3c80;font-weight:700;letter-spacing:1.17px">香港科技大學</b><b style="left:164px;top:40px;font-size:2px;color:#222;font-weight:700;">網上媒體</b><b style="left:80px;top:69px;font-size:2.1px;color:#222;font-weight:700;">直向</b><b style="left:103px;top:77px;font-size:2px;color:#222;font-weight:700;">印刷品</b><svg style="left:132.8320610687023px;top:67px" width="8.34" height="13" viewBox="62 115 420 655"><circle cx="272" cy="207" r="93" fill="#a8873d"/><polygon fill="#0d3c80" points="62,358 100,318 235,318 272,338 310,318 445,318 482,358 310,358 272,385 235,358"/><g fill="none" stroke="#0d3c80" stroke-width="34"><path d="M96,378 V590 Q96,670 175,722"/><path d="M149,378 V580 Q149,635 200,668"/><path d="M448,378 V590 Q448,670 369,722"/><path d="M395,378 V580 Q395,635 344,668"/></g><polygon fill="#a8873d" points="232,398 311,398 311,618 392,770 152,770 232,618"/><polygon fill="#fff" points="251,398 292,398 292,628 345,735 199,735 251,628"/></svg><b style="left:97px;width:80px;text-align:center;top:81.56px;font-size:5.46px;color:#0d3c80;font-weight:700;letter-spacing:1.43px">香港科技大學</b><b style="left:160px;top:77px;font-size:2px;color:#222;font-weight:700;">網上媒體</b></div>
<div class="t" style="left:217.2px;top:2318.2px;background:#0a6fbf;"><i style="left:0px;top:0px;width:64px;height:149.4px;background:repeating-linear-gradient(135deg,rgba(255,255,255,.25) 0 1.8px,#0a6fbf 1.8px 7px);"></i><i style="left:13.5px;top:8.2px;width:184.5px;height:1.2px;background:rgba(255,255,255,.75);"></i><b style="left:13.5px;top:11px;font-size:2.2px;color:#fff;font-weight:700;">視象標誌</b><b style="left:190px;top:11px;font-size:2.2px;color:#fff;font-weight:700;">52</b><i style="left:13.5px;top:134px;width:184.5px;height:0.7px;background:rgba(255,255,255,.55);"></i><b style="left:13.5px;top:137.2px;font-size:2.2px;color:#fff;font-weight:700;">香港科技大學 品牌管理指引</b><b style="left:40px;width:156px;text-align:right;top:58px;font-size:6.6px;color:#fff;font-weight:700">3.5 簡化大學標誌<span style="color:#ffd200"></span></b><p class="f" style="left:140px;top:70px;width:56px;height:7.2px;font-size:2.3px;line-height:3.6px;color:#fff;font-weight:700;text-align:right"></p><p class="f" style="left:110px;top:82px;width:86px;height:3.6px;font-size:2.3px;line-height:3.6px;color:#fff;font-weight:700;"></p><p class="f" style="left:120px;top:88px;width:76px;height:3.6px;font-size:2.3px;line-height:3.6px;color:#fff;font-weight:700;"></p></div>
<div class="t" style="left:434.4px;top:2318.2px;background:#fff;"><i style="left:0px;top:0px;width:211.2px;height:38.5px;background:#0a6fbf;"></i><i style="left:14.1px;top:7.8px;width:183px;height:0.4px;background:rgba(255,255,255,.85);"></i><b style="left:14.3px;top:9.9px;font-size:2.2px;color:#fff;font-weight:400;">03. 視象標誌</b><b style="left:193px;top:9.9px;font-size:2.3px;color:#fff;font-weight:700;">53</b><i style="left:14.1px;top:13.9px;width:183px;height:0.3px;background:rgba(255,255,255,.6);"></i><b style="left:14.1px;top:24px;font-size:6.1px;color:#fff;font-weight:700;">簡化大學標誌：<span style="color:#ffd200">雙語</span></b><b style="left:14.3px;top:32.6px;font-size:2.55px;color:#fff;font-weight:400;">標誌必須完整呈現，不可改動或附加額外元素。</b><i style="left:14.1px;top:134.7px;width:183px;height:0.35px;background:#7d97bd;"></i><b style="left:14.3px;top:135.9px;font-size:2.1px;color:#1f4e8c;font-weight:400;">香港科技大學 <span style="color:#a88a4a">品牌管理指引</span></b><p class="f" style="left:14.5px;top:43px;width:60px;height:6.8px;font-size:2.2px;line-height:3.4px;color:#222;font-weight:700;"></p><b style="left:26px;top:62px;font-size:2.2px;color:#222;font-weight:700;">橫向1：</b><svg style="left:26.4px;top:67.7px" width="12.18" height="19" viewBox="62 115 420 655"><circle cx="272" cy="207" r="93" fill="#a8873d"/><polygon fill="#0d3c80" points="62,358 100,318 235,318 272,338 310,318 445,318 482,358 310,358 272,385 235,358"/><g fill="none" stroke="#0d3c80" stroke-width="34"><path d="M96,378 V590 Q96,670 175,722"/><path d="M149,378 V580 Q149,635 200,668"/><path d="M448,378 V590 Q448,670 369,722"/><path d="M395,378 V580 Q395,635 344,668"/></g><polygon fill="#a8873d" points="232,398 311,398 311,618 392,770 152,770 232,618"/><polygon fill="#fff" points="251,398 292,398 292,628 345,735 199,735 251,628"/></svg><b style="left:39.699999999999996px;top:73.02000000000001px;font-size:6.08px;color:#0d3c80;font-weight:700;letter-spacing:0.76px">香港科大</b><b style="left:39.699999999999996px;top:81.0px;font-size:6.84px;color:#0d3c80;font-weight:700;letter-spacing:1.33px">HKUST</b><b style="left:121px;top:63px;font-size:2.2px;color:#222;font-weight:700;">直向</b><svg style="left:128.18778625954198px;top:71px" width="12.82" height="20" viewBox="62 115 420 655"><circle cx="272" cy="207" r="93" fill="#a8873d"/><polygon fill="#0d3c80" points="62,358 100,318 235,318 272,338 310,318 445,318 482,358 310,358 272,385 235,358"/><g fill="none" stroke="#0d3c80" stroke-width="34"><path d="M96,378 V590 Q96,670 175,722"/><path d="M149,378 V580 Q149,635 200,668"/><path d="M448,378 V590 Q448,670 369,722"/><path d="M395,378 V580 Q395,635 344,668"/></g><polygon fill="#a8873d" points="232,398 311,398 311,618 392,770 152,770 232,618"/><polygon fill="#fff" points="251,398 292,398 292,628 345,735 199,735 251,628"/></svg><b style="left:104.6px;width:60px;text-align:center;top:92.6px;font-size:6.0px;color:#0d3c80;font-weight:700;letter-spacing:0.60px">香港科大</b><b style="left:104.6px;width:60px;text-align:center;top:99.4px;font-size:6.800000000000001px;color:#0d3c80;font-weight:700;letter-spacing:1.20px">HKUST</b><b style="left:26px;top:97px;font-size:2.2px;color:#222;font-weight:700;">橫向2：</b><svg style="left:26.4px;top:107px" width="7.69" height="12" viewBox="62 115 420 655"><circle cx="272" cy="207" r="93" fill="#a8873d"/><polygon fill="#0d3c80" points="62,358 100,318 235,318 272,338 310,318 445,318 482,358 310,358 272,385 235,358"/><g fill="none" stroke="#0d3c80" stroke-width="34"><path d="M96,378 V590 Q96,670 175,722"/><path d="M149,378 V580 Q149,635 200,668"/><path d="M448,378 V590 Q448,670 369,722"/><path d="M395,378 V580 Q395,635 344,668"/></g><polygon fill="#a8873d" points="232,398 311,398 311,618 392,770 152,770 232,618"/><polygon fill="#fff" points="251,398 292,398 292,628 345,735 199,735 251,628"/></svg><b style="left:35.76px;top:110.6px;font-size:6.24px;color:#0d3c80;font-weight:700;letter-spacing:0.60px">香港科大HKUST</b><b style="left:14.3px;top:128.9px;font-size:2.64px;color:#333;font-weight:400;">請到此下載標誌檔案：<span style="color:#1f5fa8;text-decoration:underline">下載標誌</span></b></div>
<div class="t" style="left:651.6px;top:2318.2px;background:#fff;"><i style="left:0px;top:0px;width:211.2px;height:32px;background:repeating-linear-gradient(135deg,#e8eef6 0 2.8px,#fafbfd 2.8px 6.7px);"></i><i style="left:13.8px;top:8.3px;width:184px;height:1.5px;background:#a9bbd4;"></i><b style="left:13.8px;top:11.2px;font-size:2.1px;color:#0d3c80;font-weight:700;">3.5 視象標誌</b><b style="left:192px;top:11.2px;font-size:2.1px;color:#0d3c80;font-weight:700;">54</b><i style="left:13.8px;top:14.6px;width:184px;height:0.45px;background:#cfd8e4;"></i><i style="left:13.8px;top:134px;width:184px;height:0.7px;background:#cfd6df;"></i><b style="left:13.8px;top:137.2px;font-size:2.1px;color:#0d3c80;font-weight:700;">香港科技大學 <span style="color:#a8873d">品牌管理指引</span></b><b style="left:14px;top:21px;font-size:2.7px;color:#a8873d;font-weight:400;">簡化大學標誌：雙語</b><b style="left:14px;top:24.5px;font-size:6.3px;color:#0d3c80;font-weight:700;">留白空位</b><b style="left:14px;top:33.5px;font-size:2.1px;color:#222;font-weight:400;">標誌必須完整呈現，不可改動或附加額外元素。</b><p class="f" style="left:100px;top:21px;width:96px;height:7.2px;font-size:2.3px;line-height:3.6px;color:#0d3c80;font-weight:700;"></p><p class="f" style="left:100px;top:30px;width:96px;height:3.6px;font-size:2.3px;line-height:3.6px;color:#0d3c80;font-weight:700;"></p><b style="left:14px;top:52px;font-size:2.2px;color:#222;font-weight:700;">橫向1：</b><i style="left:28px;top:55px;width:52px;height:23px;border:0.3px solid #c9ced4;"></i><i style="left:25.5px;top:58px;width:57px;height:17px;border:0.25px solid #dde1e6;"></i><b style="left:27px;top:51px;font-size:1.6px;color:#333;font-weight:400;">1/2x</b><b style="left:82px;top:56px;font-size:1.6px;color:#333;font-weight:400;">1/2x</b><b style="left:22px;top:76px;font-size:1.6px;color:#333;font-weight:400;">1/2x</b><b style="left:78px;top:82px;font-size:1.6px;color:#333;font-weight:400;">1/2x</b><svg style="left:33px;top:58px" width="10.26" height="16" viewBox="62 115 420 655"><circle cx="272" cy="207" r="93" fill="#a8873d"/><polygon fill="#0d3c80" points="62,358 100,318 235,318 272,338 310,318 445,318 482,358 310,358 272,385 235,358"/><g fill="none" stroke="#0d3c80" stroke-width="34"><path d="M96,378 V590 Q96,670 175,722"/><path d="M149,378 V580 Q149,635 200,668"/><path d="M448,378 V590 Q448,670 369,722"/><path d="M395,378 V580 Q395,635 344,668"/></g><polygon fill="#a8873d" points="232,398 311,398 311,618 392,770 152,770 232,618"/><polygon fill="#fff" points="251,398 292,398 292,628 345,735 199,735 251,628"/></svg><b style="left:44.2px;top:62.480000000000004px;font-size:5.12px;color:#0d3c80;font-weight:700;letter-spacing:0.64px">香港科大</b><b style="left:44.2px;top:69.2px;font-size:5.76px;color:#0d3c80;font-weight:700;letter-spacing:1.12px">HKUST</b><b style="left:104px;top:52px;font-size:2.2px;color:#222;font-weight:700;">直向</b><i style="left:116px;top:55px;width:42px;height:40px;border:0.3px solid #c9ced4;"></i><i style="left:113.5px;top:58px;width:47px;height:34px;border:0.25px solid #dde1e6;"></i><b style="left:115px;top:51px;font-size:1.6px;color:#333;font-weight:400;">1/2x</b><b style="left:160px;top:56px;font-size:1.6px;color:#333;font-weight:400;">1/2x</b><b style="left:110px;top:93px;font-size:1.6px;color:#333;font-weight:400;">1/2x</b><b style="left:156px;top:99px;font-size:1.6px;color:#333;font-weight:400;">1/2x</b><svg style="left:131.54961832061068px;top:60px" width="10.90" height="17" viewBox="62 115 420 655"><circle cx="272" cy="207" r="93" fill="#a8873d"/><polygon fill="#0d3c80" points="62,358 100,318 235,318 272,338 310,318 445,318 482,358 310,358 272,385 235,358"/><g fill="none" stroke="#0d3c80" stroke-width="34"><path d="M96,378 V590 Q96,670 175,722"/><path d="M149,378 V580 Q149,635 200,668"/><path d="M448,378 V590 Q448,670 369,722"/><path d="M395,378 V580 Q395,635 344,668"/></g><polygon fill="#a8873d" points="232,398 311,398 311,618 392,770 152,770 232,618"/><polygon fill="#fff" points="251,398 292,398 292,628 345,735 199,735 251,628"/></svg><b style="left:107px;width:60px;text-align:center;top:78.36px;font-size:5.1px;color:#0d3c80;font-weight:700;letter-spacing:0.51px">香港科大</b><b style="left:107px;width:60px;text-align:center;top:84.14px;font-size:5.78px;color:#0d3c80;font-weight:700;letter-spacing:1.02px">HKUST</b><b style="left:14px;top:94px;font-size:2.2px;color:#222;font-weight:700;">橫向2：</b><i style="left:28px;top:100px;width:62px;height:17px;border:0.3px solid #c9ced4;"></i><i style="left:25.5px;top:103px;width:67px;height:11px;border:0.25px solid #dde1e6;"></i><b style="left:27px;top:96px;font-size:1.6px;color:#333;font-weight:400;">1/2x</b><b style="left:92px;top:101px;font-size:1.6px;color:#333;font-weight:400;">1/2x</b><b style="left:22px;top:115px;font-size:1.6px;color:#333;font-weight:400;">1/2x</b><b style="left:88px;top:121px;font-size:1.6px;color:#333;font-weight:400;">1/2x</b><svg style="left:33px;top:103px" width="6.41" height="10" viewBox="62 115 420 655"><circle cx="272" cy="207" r="93" fill="#a8873d"/><polygon fill="#0d3c80" points="62,358 100,318 235,318 272,338 310,318 445,318 482,358 310,358 272,385 235,358"/><g fill="none" stroke="#0d3c80" stroke-width="34"><path d="M96,378 V590 Q96,670 175,722"/><path d="M149,378 V580 Q149,635 200,668"/><path d="M448,378 V590 Q448,670 369,722"/><path d="M395,378 V580 Q395,635 344,668"/></g><polygon fill="#a8873d" points="232,398 311,398 311,618 392,770 152,770 232,618"/><polygon fill="#fff" points="251,398 292,398 292,628 345,735 199,735 251,628"/></svg><b style="left:40.8px;top:106.0px;font-size:5.0px;color:#0d3c80;font-weight:700;letter-spacing:0.50px">香港科大HKUST</b></div>
<div class="t" style="left:868.8px;top:2318.2px;background:#fff;"><i style="left:0px;top:0px;width:211.2px;height:32px;background:repeating-linear-gradient(135deg,#e8eef6 0 2.8px,#fafbfd 2.8px 6.7px);"></i><i style="left:13.8px;top:8.3px;width:184px;height:1.5px;background:#a9bbd4;"></i><b style="left:13.8px;top:11.2px;font-size:2.1px;color:#0d3c80;font-weight:700;">3.5 視象標誌</b><b style="left:192px;top:11.2px;font-size:2.1px;color:#0d3c80;font-weight:700;">55</b><i style="left:13.8px;top:14.6px;width:184px;height:0.45px;background:#cfd8e4;"></i><i style="left:13.8px;top:134px;width:184px;height:0.7px;background:#cfd6df;"></i><b style="left:13.8px;top:137.2px;font-size:2.1px;color:#0d3c80;font-weight:700;">香港科技大學 <span style="color:#a8873d">品牌管理指引</span></b><b style="left:14px;top:21px;font-size:2.7px;color:#a8873d;font-weight:400;">簡化大學標誌：雙語</b><b style="left:14px;top:24.5px;font-size:6.3px;color:#0d3c80;font-weight:700;">最小尺寸</b><b style="left:14px;top:33.5px;font-size:2.1px;color:#222;font-weight:400;">標誌必須完整呈現，不可改動或附加額外元素。</b><p class="f" style="left:79px;top:20px;width:80px;height:3.6px;font-size:2.3px;line-height:3.6px;color:#0d3c80;font-weight:700;"></p><p class="f" style="left:79px;top:29px;width:60px;height:3.6px;font-size:2.3px;line-height:3.6px;color:#0d3c80;font-weight:700;"></p><b style="left:19px;top:53px;font-size:2.2px;color:#222;font-weight:700;">橫向1：</b><b style="left:30px;top:62px;font-size:2px;color:#222;font-weight:700;">印刷品</b><i style="left:42px;top:56px;width:44px;height:22px;border:0.3px solid #eee;"></i><svg style="left:48px;top:61px" width="9.62" height="15" viewBox="62 115 420 655"><circle cx="272" cy="207" r="93" fill="#a8873d"/><polygon fill="#0d3c80" points="62,358 100,318 235,318 272,338 310,318 445,318 482,358 310,358 272,385 235,358"/><g fill="none" stroke="#0d3c80" stroke-width="34"><path d="M96,378 V590 Q96,670 175,722"/><path d="M149,378 V580 Q149,635 200,668"/><path d="M448,378 V590 Q448,670 369,722"/><path d="M395,378 V580 Q395,635 344,668"/></g><polygon fill="#a8873d" points="232,398 311,398 311,618 392,770 152,770 232,618"/><polygon fill="#fff" points="251,398 292,398 292,628 345,735 199,735 251,628"/></svg><b style="left:58.5px;top:65.2px;font-size:4.8px;color:#0d3c80;font-weight:700;letter-spacing:0.60px">香港科大</b><b style="left:58.5px;top:71.5px;font-size:5.3999999999999995px;color:#0d3c80;font-weight:700;letter-spacing:1.05px">HKUST</b><b style="left:88px;top:61px;font-size:2px;color:#222;font-weight:700;">網上媒體</b><b style="left:126px;top:53px;font-size:2.2px;color:#222;font-weight:700;">直向</b><b style="left:128px;top:68px;font-size:2px;color:#222;font-weight:700;">印刷品</b><i style="left:138px;top:58px;width:28px;height:40px;border:0.3px solid #eee;"></i><svg style="left:147.5114503816794px;top:62px" width="8.98" height="14" viewBox="62 115 420 655"><circle cx="272" cy="207" r="93" fill="#a8873d"/><polygon fill="#0d3c80" points="62,358 100,318 235,318 272,338 310,318 445,318 482,358 310,358 272,385 235,358"/><g fill="none" stroke="#0d3c80" stroke-width="34"><path d="M96,378 V590 Q96,670 175,722"/><path d="M149,378 V580 Q149,635 200,668"/><path d="M448,378 V590 Q448,670 369,722"/><path d="M395,378 V580 Q395,635 344,668"/></g><polygon fill="#a8873d" points="232,398 311,398 311,618 392,770 152,770 232,618"/><polygon fill="#fff" points="251,398 292,398 292,628 345,735 199,735 251,628"/></svg><b style="left:122px;width:60px;text-align:center;top:77.12px;font-size:4.2px;color:#0d3c80;font-weight:700;letter-spacing:0.42px">香港科大</b><b style="left:122px;width:60px;text-align:center;top:81.88px;font-size:4.760000000000001px;color:#0d3c80;font-weight:700;letter-spacing:0.84px">HKUST</b><b style="left:168px;top:68px;font-size:2px;color:#222;font-weight:700;">網上媒體</b><b style="left:19px;top:97px;font-size:2.2px;color:#222;font-weight:700;">橫向2：</b><b style="left:30px;top:104px;font-size:2px;color:#222;font-weight:700;">印刷品</b><i style="left:42px;top:100px;width:50px;height:10px;border:0.3px solid #eee;"></i><svg style="left:46px;top:102px" width="4.49" height="7" viewBox="62 115 420 655"><circle cx="272" cy="207" r="93" fill="#a8873d"/><polygon fill="#0d3c80" points="62,358 100,318 235,318 272,338 310,318 445,318 482,358 310,358 272,385 235,358"/><g fill="none" stroke="#0d3c80" stroke-width="34"><path d="M96,378 V590 Q96,670 175,722"/><path d="M149,378 V580 Q149,635 200,668"/><path d="M448,378 V590 Q448,670 369,722"/><path d="M395,378 V580 Q395,635 344,668"/></g><polygon fill="#a8873d" points="232,398 311,398 311,618 392,770 152,770 232,618"/><polygon fill="#fff" points="251,398 292,398 292,628 345,735 199,735 251,628"/></svg><b style="left:51.46px;top:104.1px;font-size:3.5px;color:#0d3c80;font-weight:700;letter-spacing:0.35px">香港科大HKUST</b><b style="left:94px;top:104px;font-size:2px;color:#222;font-weight:700;">網上媒體</b></div>
<div class="t" style="left:0.0px;top:2473.7px;background:#fff;"><i style="left:0px;top:0px;width:211.2px;height:38.5px;background:#0a6fbf;"></i><i style="left:14.1px;top:7.8px;width:183px;height:0.4px;background:rgba(255,255,255,.85);"></i><b style="left:14.3px;top:9.9px;font-size:2.2px;color:#fff;font-weight:400;">03. 視象標誌</b><b style="left:193px;top:9.9px;font-size:2.3px;color:#fff;font-weight:700;">56</b><i style="left:14.1px;top:13.9px;width:183px;height:0.3px;background:rgba(255,255,255,.6);"></i><b style="left:14.1px;top:24px;font-size:6.1px;color:#fff;font-weight:700;">簡化大學標誌：<span style="color:#ffd200">單一語言</span></b><b style="left:14.3px;top:32.6px;font-size:2.55px;color:#fff;font-weight:400;">標誌必須完整呈現，不可改動或附加額外元素。</b><i style="left:14.1px;top:134.7px;width:183px;height:0.35px;background:#7d97bd;"></i><b style="left:14.3px;top:135.9px;font-size:2.1px;color:#1f4e8c;font-weight:400;">香港科技大學 <span style="color:#a88a4a">品牌管理指引</span></b><p class="f" style="left:14.5px;top:52px;width:75px;height:7.2px;font-size:2.2px;line-height:3.6px;color:#222;font-weight:700;"></p><b style="left:105px;top:61px;font-size:2.4px;color:#222;font-weight:700;">英文版本</b><svg style="left:105px;top:67px" width="8.34" height="13" viewBox="62 115 420 655"><circle cx="272" cy="207" r="93" fill="#a8873d"/><polygon fill="#0d3c80" points="62,358 100,318 235,318 272,338 310,318 445,318 482,358 310,358 272,385 235,358"/><g fill="none" stroke="#0d3c80" stroke-width="34"><path d="M96,378 V590 Q96,670 175,722"/><path d="M149,378 V580 Q149,635 200,668"/><path d="M448,378 V590 Q448,670 369,722"/><path d="M395,378 V580 Q395,635 344,668"/></g><polygon fill="#a8873d" points="232,398 311,398 311,618 392,770 152,770 232,618"/><polygon fill="#fff" points="251,398 292,398 292,628 345,735 199,735 251,628"/></svg><b style="left:115.14px;top:70.9px;font-size:8.06px;color:#0d3c80;font-weight:700;letter-spacing:1.56px">HKUST</b><b style="left:105px;top:90px;font-size:2.4px;color:#222;font-weight:700;">中文版本</b><svg style="left:105px;top:97px" width="8.34" height="13" viewBox="62 115 420 655"><circle cx="272" cy="207" r="93" fill="#a8873d"/><polygon fill="#0d3c80" points="62,358 100,318 235,318 272,338 310,318 445,318 482,358 310,358 272,385 235,358"/><g fill="none" stroke="#0d3c80" stroke-width="34"><path d="M96,378 V590 Q96,670 175,722"/><path d="M149,378 V580 Q149,635 200,668"/><path d="M448,378 V590 Q448,670 369,722"/><path d="M395,378 V580 Q395,635 344,668"/></g><polygon fill="#a8873d" points="232,398 311,398 311,618 392,770 152,770 232,618"/><polygon fill="#fff" points="251,398 292,398 292,628 345,735 199,735 251,628"/></svg><b style="left:115.14px;top:100.9px;font-size:7.15px;color:#0d3c80;font-weight:700;letter-spacing:0.65px">香港科大</b><b style="left:14.3px;top:128.9px;font-size:2.64px;color:#333;font-weight:400;">請到此下載標誌檔案：<span style="color:#1f5fa8;text-decoration:underline">下載標誌</span></b></div>
<div class="t" style="left:217.2px;top:2473.7px;background:#fff;"><i style="left:0px;top:0px;width:70px;height:149.4px;background:repeating-linear-gradient(135deg,#e8eef6 0 2.8px,#fafbfd 2.8px 6.7px);"></i><i style="left:13.8px;top:8.3px;width:184px;height:1.5px;background:#a9bbd4;"></i><b style="left:13.8px;top:11.2px;font-size:2.1px;color:#0d3c80;font-weight:700;">3.5 視象標誌</b><b style="left:192px;top:11.2px;font-size:2.1px;color:#0d3c80;font-weight:700;">57</b><i style="left:13.8px;top:14.6px;width:184px;height:0.45px;background:#cfd8e4;"></i><i style="left:13.8px;top:134px;width:184px;height:0.7px;background:#cfd6df;"></i><b style="left:13.8px;top:137.2px;font-size:2.1px;color:#0d3c80;font-weight:700;">香港科技大學 <span style="color:#a8873d">品牌管理指引</span></b><b style="left:14px;top:21px;font-size:2.7px;color:#a8873d;font-weight:400;">簡化大學標誌：單一語言</b><b style="left:14px;top:24.5px;font-size:6.5px;color:#0d3c80;font-weight:700;">留白空位</b><b style="left:14px;top:34px;font-size:2.1px;color:#222;font-weight:400;">標誌必須完整呈現，不可改動或附加額外元素。</b><p class="f" style="left:14px;top:44px;width:58px;height:14.4px;font-size:2.3px;line-height:3.6px;color:#0d3c80;font-weight:700;"></p><p class="f" style="left:14px;top:61px;width:58px;height:14.4px;font-size:2.3px;line-height:3.6px;color:#0d3c80;font-weight:700;"></p><i style="left:84px;top:35px;width:45px;height:27px;border:0.3px solid #c9ced4;"></i><i style="left:81.5px;top:38px;width:50px;height:21px;border:0.25px solid #dde1e6;"></i><b style="left:83px;top:31px;font-size:1.6px;color:#333;font-weight:400;">1/2x</b><b style="left:131px;top:36px;font-size:1.6px;color:#333;font-weight:400;">1/2x</b><b style="left:78px;top:60px;font-size:1.6px;color:#333;font-weight:400;">1/2x</b><b style="left:127px;top:66px;font-size:1.6px;color:#333;font-weight:400;">1/2x</b><svg style="left:90px;top:42px" width="7.69" height="12" viewBox="62 115 420 655"><circle cx="272" cy="207" r="93" fill="#a8873d"/><polygon fill="#0d3c80" points="62,358 100,318 235,318 272,338 310,318 445,318 482,358 310,358 272,385 235,358"/><g fill="none" stroke="#0d3c80" stroke-width="34"><path d="M96,378 V590 Q96,670 175,722"/><path d="M149,378 V580 Q149,635 200,668"/><path d="M448,378 V590 Q448,670 369,722"/><path d="M395,378 V580 Q395,635 344,668"/></g><polygon fill="#a8873d" points="232,398 311,398 311,618 392,770 152,770 232,618"/><polygon fill="#fff" points="251,398 292,398 292,628 345,735 199,735 251,628"/></svg><b style="left:99.36px;top:45.6px;font-size:7.4399999999999995px;color:#0d3c80;font-weight:700;letter-spacing:1.44px">HKUST</b><i style="left:142px;top:35px;width:50px;height:27px;border:0.3px solid #c9ced4;"></i><i style="left:139.5px;top:38px;width:55px;height:21px;border:0.25px solid #dde1e6;"></i><b style="left:141px;top:31px;font-size:1.6px;color:#333;font-weight:400;">1/2x</b><b style="left:194px;top:36px;font-size:1.6px;color:#333;font-weight:400;">1/2x</b><b style="left:136px;top:60px;font-size:1.6px;color:#333;font-weight:400;">1/2x</b><b style="left:190px;top:66px;font-size:1.6px;color:#333;font-weight:400;">1/2x</b><svg style="left:146px;top:42px" width="7.69" height="12" viewBox="62 115 420 655"><circle cx="272" cy="207" r="93" fill="#a8873d"/><polygon fill="#0d3c80" points="62,358 100,318 235,318 272,338 310,318 445,318 482,358 310,358 272,385 235,358"/><g fill="none" stroke="#0d3c80" stroke-width="34"><path d="M96,378 V590 Q96,670 175,722"/><path d="M149,378 V580 Q149,635 200,668"/><path d="M448,378 V590 Q448,670 369,722"/><path d="M395,378 V580 Q395,635 344,668"/></g><polygon fill="#a8873d" points="232,398 311,398 311,618 392,770 152,770 232,618"/><polygon fill="#fff" points="251,398 292,398 292,628 345,735 199,735 251,628"/></svg><b style="left:155.36px;top:45.6px;font-size:6.6000000000000005px;color:#0d3c80;font-weight:700;letter-spacing:0.60px">香港科大</b><i style="left:80px;top:75px;width:120px;height:0.4px;background:#bbb;"></i><b style="left:14px;top:82px;font-size:6.5px;color:#0d3c80;font-weight:700;">最小尺寸</b><p class="f" style="left:14px;top:95px;width:58px;height:7.2px;font-size:2.3px;line-height:3.6px;color:#0d3c80;font-weight:700;"></p><p class="f" style="left:14px;top:104px;width:58px;height:3.6px;font-size:2.3px;line-height:3.6px;color:#0d3c80;font-weight:700;"></p><b style="left:92px;top:87px;font-size:2px;color:#222;font-weight:700;">印刷品</b><svg style="left:104px;top:85px" width="4.49" height="7" viewBox="62 115 420 655"><circle cx="272" cy="207" r="93" fill="#a8873d"/><polygon fill="#0d3c80" points="62,358 100,318 235,318 272,338 310,318 445,318 482,358 310,358 272,385 235,358"/><g fill="none" stroke="#0d3c80" stroke-width="34"><path d="M96,378 V590 Q96,670 175,722"/><path d="M149,378 V580 Q149,635 200,668"/><path d="M448,378 V590 Q448,670 369,722"/><path d="M395,378 V580 Q395,635 344,668"/></g><polygon fill="#a8873d" points="232,398 311,398 311,618 392,770 152,770 232,618"/><polygon fill="#fff" points="251,398 292,398 292,628 345,735 199,735 251,628"/></svg><b style="left:109.46px;top:87.1px;font-size:4.34px;color:#0d3c80;font-weight:700;letter-spacing:0.84px">HKUST</b><svg style="left:148px;top:85px" width="4.49" height="7" viewBox="62 115 420 655"><circle cx="272" cy="207" r="93" fill="#a8873d"/><polygon fill="#0d3c80" points="62,358 100,318 235,318 272,338 310,318 445,318 482,358 310,358 272,385 235,358"/><g fill="none" stroke="#0d3c80" stroke-width="34"><path d="M96,378 V590 Q96,670 175,722"/><path d="M149,378 V580 Q149,635 200,668"/><path d="M448,378 V590 Q448,670 369,722"/><path d="M395,378 V580 Q395,635 344,668"/></g><polygon fill="#a8873d" points="232,398 311,398 311,618 392,770 152,770 232,618"/><polygon fill="#fff" points="251,398 292,398 292,628 345,735 199,735 251,628"/></svg><b style="left:153.46px;top:87.1px;font-size:3.8500000000000005px;color:#0d3c80;font-weight:700;letter-spacing:0.35px">香港科大</b></div>
<div class="t" style="left:434.4px;top:2473.7px;background:#fff;"><i style="left:0px;top:0px;width:211.2px;height:38.5px;background:#0a6fbf;"></i><i style="left:14.1px;top:7.8px;width:183px;height:0.4px;background:rgba(255,255,255,.85);"></i><b style="left:14.3px;top:9.9px;font-size:2.2px;color:#fff;font-weight:400;">03. 視象標誌</b><b style="left:193px;top:9.9px;font-size:2.3px;color:#fff;font-weight:700;">58</b><i style="left:14.1px;top:13.9px;width:183px;height:0.3px;background:rgba(255,255,255,.6);"></i><b style="left:14.1px;top:24px;font-size:6.1px;color:#fff;font-weight:700;">簡化大學標誌：<span style="color:#ffd200">標誌字體</span></b><b style="left:14.3px;top:32.6px;font-size:2.55px;color:#fff;font-weight:400;">標誌必須完整呈現，不可改動或附加額外元素。</b><i style="left:14.1px;top:134.7px;width:183px;height:0.35px;background:#7d97bd;"></i><b style="left:14.3px;top:135.9px;font-size:2.1px;color:#1f4e8c;font-weight:400;">香港科技大學 <span style="color:#a88a4a">品牌管理指引</span></b><p class="f" style="left:14.5px;top:50px;width:73px;height:13.6px;font-size:2.2px;line-height:3.4px;color:#222;font-weight:700;"></p><p class="f" style="left:14.5px;top:66px;width:73px;height:13.6px;font-size:2.2px;line-height:3.4px;color:#222;font-weight:700;"></p><p class="f" style="left:14.5px;top:82px;width:73px;height:23.8px;font-size:2.2px;line-height:3.4px;color:#222;font-weight:700;"></p><b style="left:105px;top:45px;font-size:2.2px;color:#222;font-weight:700;">英文</b><b style="left:150px;top:45px;font-size:2.2px;color:#222;font-weight:700;">中文</b><b style="left:103px;top:55.0px;font-size:8.4px;color:#0d3c80;font-weight:700;letter-spacing:1.34px">HKUST</b><i style="left:116px;top:64.8px;width:1.3px;height:1.3px;background:#0d3c80;border-radius:50%"></i><b style="left:151px;top:55.5px;font-size:7px;color:#0d3c80;font-weight:700;letter-spacing:0.84px">香港科大</b><b style="left:103px;top:69.5px;font-size:8.4px;color:#b08a3e;font-weight:700;letter-spacing:1.34px">HKUST</b><i style="left:116px;top:79.3px;width:1.3px;height:1.3px;background:#b08a3e;border-radius:50%"></i><b style="left:151px;top:70.0px;font-size:7px;color:#b08a3e;font-weight:700;letter-spacing:0.84px">香港科大</b><b style="left:103px;top:84.0px;font-size:8.4px;color:#d3a030;font-weight:700;letter-spacing:1.34px">HKUST</b><i style="left:116px;top:93.8px;width:1.3px;height:1.3px;background:#d3a030;border-radius:50%"></i><b style="left:151px;top:84.5px;font-size:7px;color:#d3a030;font-weight:700;letter-spacing:0.84px">香港科大</b><b style="left:103px;top:98.5px;font-size:8.4px;color:#9a9a9a;font-weight:700;letter-spacing:1.34px">HKUST</b><i style="left:116px;top:108.3px;width:1.3px;height:1.3px;background:#9a9a9a;border-radius:50%"></i><b style="left:151px;top:99.0px;font-size:7px;color:#9a9a9a;font-weight:700;letter-spacing:0.84px">香港科大</b><b style="left:103px;top:113.0px;font-size:8.4px;color:#1a1a1a;font-weight:700;letter-spacing:1.34px">HKUST</b><i style="left:116px;top:122.8px;width:1.3px;height:1.3px;background:#1a1a1a;border-radius:50%"></i><b style="left:151px;top:113.5px;font-size:7px;color:#1a1a1a;font-weight:700;letter-spacing:0.84px">香港科大</b></div>
<div class="t" style="left:651.6px;top:2473.7px;background:#fff;"><i style="left:0px;top:0px;width:70px;height:149.4px;background:repeating-linear-gradient(135deg,#e8eef6 0 2.8px,#fafbfd 2.8px 6.7px);"></i><i style="left:13.8px;top:8.3px;width:184px;height:1.5px;background:#a9bbd4;"></i><b style="left:13.8px;top:11.2px;font-size:2.1px;color:#0d3c80;font-weight:700;">3.5 視象標誌</b><b style="left:192px;top:11.2px;font-size:2.1px;color:#0d3c80;font-weight:700;">59</b><i style="left:13.8px;top:14.6px;width:184px;height:0.45px;background:#cfd8e4;"></i><i style="left:13.8px;top:134px;width:184px;height:0.7px;background:#cfd6df;"></i><b style="left:13.8px;top:137.2px;font-size:2.1px;color:#0d3c80;font-weight:700;">香港科技大學 <span style="color:#a8873d">品牌管理指引</span></b><b style="left:14px;top:21px;font-size:2.7px;color:#a8873d;font-weight:400;">簡化大學標誌：標誌字體</b><b style="left:14px;top:24.5px;font-size:6.5px;color:#0d3c80;font-weight:700;">留白空位</b><b style="left:14px;top:34px;font-size:2.1px;color:#222;font-weight:400;">標誌必須完整呈現，不可改動或附加額外元素。</b><p class="f" style="left:14px;top:44px;width:58px;height:14.4px;font-size:2.3px;line-height:3.6px;color:#0d3c80;font-weight:700;"></p><p class="f" style="left:14px;top:61px;width:58px;height:14.4px;font-size:2.3px;line-height:3.6px;color:#0d3c80;font-weight:700;"></p><i style="left:100px;top:40px;width:52px;height:22px;border:0.3px solid #c9ced4;"></i><i style="left:97.5px;top:43px;width:57px;height:16px;border:0.25px solid #dde1e6;"></i><b style="left:99px;top:36px;font-size:1.6px;color:#333;font-weight:400;">1/2x</b><b style="left:154px;top:41px;font-size:1.6px;color:#333;font-weight:400;">1/2x</b><b style="left:94px;top:60px;font-size:1.6px;color:#333;font-weight:400;">1/2x</b><b style="left:150px;top:66px;font-size:1.6px;color:#333;font-weight:400;">1/2x</b><b style="left:106px;top:48px;font-size:7px;color:#0d3c80;font-weight:700;letter-spacing:0.98px">HKUST</b><i style="left:155px;top:40px;width:42px;height:22px;border:0.3px solid #c9ced4;"></i><i style="left:152.5px;top:43px;width:47px;height:16px;border:0.25px solid #dde1e6;"></i><b style="left:154px;top:36px;font-size:1.6px;color:#333;font-weight:400;">1/2x</b><b style="left:199px;top:41px;font-size:1.6px;color:#333;font-weight:400;">1/2x</b><b style="left:149px;top:60px;font-size:1.6px;color:#333;font-weight:400;">1/2x</b><b style="left:195px;top:66px;font-size:1.6px;color:#333;font-weight:400;">1/2x</b><b style="left:158px;top:48px;font-size:6px;color:#0d3c80;font-weight:700;letter-spacing:0.48px">香港科大</b><i style="left:80px;top:75px;width:120px;height:0.4px;background:#bbb;"></i><b style="left:14px;top:82px;font-size:6.5px;color:#0d3c80;font-weight:700;">最小尺寸</b><p class="f" style="left:14px;top:95px;width:58px;height:7.2px;font-size:2.3px;line-height:3.6px;color:#0d3c80;font-weight:700;"></p><p class="f" style="left:14px;top:104px;width:58px;height:3.6px;font-size:2.3px;line-height:3.6px;color:#0d3c80;font-weight:700;"></p><b style="left:96px;top:89px;font-size:2px;color:#222;font-weight:700;">印刷品</b><b style="left:108px;top:86px;font-size:6px;color:#0d3c80;font-weight:700;letter-spacing:0.84px">HKUST</b><b style="left:152px;top:86px;font-size:5.2px;color:#0d3c80;font-weight:700;letter-spacing:0.42px">香港科大</b><b style="left:186px;top:89px;font-size:2px;color:#222;font-weight:700;">網上媒體</b></div>
<div class="t" style="left:868.8px;top:2473.7px;background:#fff;"><i style="left:0px;top:0px;width:64px;height:149.4px;background:repeating-linear-gradient(135deg,#e8eef6 0 2.8px,#fafbfd 2.8px 6.7px);"></i><i style="left:13.8px;top:8.3px;width:184px;height:1.5px;background:#a9bbd4;"></i><b style="left:13.8px;top:11.2px;font-size:2.1px;color:#0d3c80;font-weight:700;">3.6 視象標誌</b><b style="left:192px;top:11.2px;font-size:2.1px;color:#0d3c80;font-weight:700;">60</b><i style="left:13.8px;top:14.6px;width:184px;height:0.45px;background:#cfd8e4;"></i><i style="left:13.8px;top:134px;width:184px;height:0.7px;background:#cfd6df;"></i><b style="left:13.8px;top:137.2px;font-size:2.1px;color:#0d3c80;font-weight:700;">香港科技大學 <span style="color:#a8873d">品牌管理指引</span></b><svg style="left:172px;top:52px" width="8.34" height="13" viewBox="62 115 420 655"><circle cx="272" cy="207" r="93" fill="#a8873d"/><polygon fill="#0d3c80" points="62,358 100,318 235,318 272,338 310,318 445,318 482,358 310,358 272,385 235,358"/><g fill="none" stroke="#0d3c80" stroke-width="34"><path d="M96,378 V590 Q96,670 175,722"/><path d="M149,378 V580 Q149,635 200,668"/><path d="M448,378 V590 Q448,670 369,722"/><path d="M395,378 V580 Q395,635 344,668"/></g><polygon fill="#a8873d" points="232,398 311,398 311,618 392,770 152,770 232,618"/><polygon fill="#fff" points="251,398 292,398 292,628 345,735 199,735 251,628"/></svg><b style="left:60px;width:108px;text-align:right;top:58px;font-size:6.3px;color:#0d3c80;font-weight:700">3.6 &nbsp;形象標記</b><p class="f" style="left:110px;top:70px;width:74px;height:7.0px;font-size:2.2px;line-height:3.5px;color:#0d3c80;font-weight:700;text-align:right"></p><p class="f" style="left:130px;top:80px;width:54px;height:3.5px;font-size:2.2px;line-height:3.5px;color:#0d3c80;font-weight:700;"></p><p class="f" style="left:120px;top:88px;width:64px;height:7.0px;font-size:2.2px;line-height:3.5px;color:#0d3c80;font-weight:700;"></p><b style="left:150px;top:130px;font-size:2.1px;color:#222;font-weight:700;">請到此下載標誌檔案：<span style="color:#1f5fa8">下載標誌</span></b></div>
<div class="t" style="left:0.0px;top:2629.1px;background:#fff;"><i style="left:0px;top:17px;width:78px;height:113px;background:repeating-linear-gradient(135deg,#f6f7f9 0 3.2px,#fff 3.2px 6.7px);"></i><i style="left:13.8px;top:8.3px;width:184px;height:1.5px;background:#a9bbd4;"></i><b style="left:13.8px;top:11.2px;font-size:2.1px;color:#0d3c80;font-weight:700;">3.6 視象標誌</b><b style="left:192px;top:11.2px;font-size:2.1px;color:#0d3c80;font-weight:700;">61</b><i style="left:13.8px;top:14.6px;width:184px;height:0.45px;background:#cfd8e4;"></i><i style="left:13.8px;top:134px;width:184px;height:0.7px;background:#cfd6df;"></i><b style="left:13.8px;top:137.2px;font-size:2.1px;color:#0d3c80;font-weight:700;">香港科技大學 <span style="color:#a8873d">品牌管理指引</span></b><b style="left:14px;top:20px;font-size:2.6px;color:#a8873d;font-weight:400;">形象標記</b><b style="left:14px;top:24px;font-size:6.5px;color:#0d3c80;font-weight:700;">留白空位</b><b style="left:14px;top:33.5px;font-size:2.1px;color:#222;font-weight:400;">標誌必須完整呈現，不可改動或附加額外元素。</b><p class="f" style="left:14px;top:45px;width:58px;height:10.8px;font-size:2.3px;line-height:3.6px;color:#0d3c80;font-weight:700;"></p><p class="f" style="left:14px;top:58px;width:58px;height:10.8px;font-size:2.3px;line-height:3.6px;color:#0d3c80;font-weight:700;"></p><i style="left:112px;top:23px;width:34px;height:33px;border:0.3px solid #c9ced4;"></i><svg style="left:118px;top:20px" width="19.88" height="31" viewBox="62 115 420 655"><circle cx="272" cy="207" r="93" fill="#a8873d"/><polygon fill="#0d3c80" points="62,358 100,318 235,318 272,338 310,318 445,318 482,358 310,358 272,385 235,358"/><g fill="none" stroke="#0d3c80" stroke-width="34"><path d="M96,378 V590 Q96,670 175,722"/><path d="M149,378 V580 Q149,635 200,668"/><path d="M448,378 V590 Q448,670 369,722"/><path d="M395,378 V580 Q395,635 344,668"/></g><polygon fill="#a8873d" points="232,398 311,398 311,618 392,770 152,770 232,618"/><polygon fill="#fff" points="251,398 292,398 292,628 345,735 199,735 251,628"/></svg><i style="left:14px;top:76px;width:184px;height:0.8px;background:#a9bbd4;"></i><b style="left:14px;top:83px;font-size:6.5px;color:#0d3c80;font-weight:700;">最小尺寸</b><p class="f" style="left:14px;top:95px;width:58px;height:7.2px;font-size:2.3px;line-height:3.6px;color:#0d3c80;font-weight:700;"></p><p class="f" style="left:14px;top:104px;width:58px;height:7.2px;font-size:2.3px;line-height:3.6px;color:#0d3c80;font-weight:700;"></p><p class="f" style="left:14px;top:114px;width:58px;height:7.2px;font-size:2.3px;line-height:3.6px;color:#0d3c80;font-weight:700;"></p><b style="left:108px;top:97px;font-size:2px;color:#222;font-weight:700;">印刷品</b><svg style="left:122px;top:88px" width="17.31" height="27" viewBox="62 115 420 655"><circle cx="272" cy="207" r="93" fill="#a8873d"/><polygon fill="#0d3c80" points="62,358 100,318 235,318 272,338 310,318 445,318 482,358 310,358 272,385 235,358"/><g fill="none" stroke="#0d3c80" stroke-width="34"><path d="M96,378 V590 Q96,670 175,722"/><path d="M149,378 V580 Q149,635 200,668"/><path d="M448,378 V590 Q448,670 369,722"/><path d="M395,378 V580 Q395,635 344,668"/></g><polygon fill="#a8873d" points="232,398 311,398 311,618 392,770 152,770 232,618"/><polygon fill="#fff" points="251,398 292,398 292,628 345,735 199,735 251,628"/></svg><b style="left:142px;top:97px;font-size:2px;color:#222;font-weight:700;">網上媒體</b></div>
<div class="t" style="left:217.2px;top:2629.1px;background:#fff;"><i style="left:0px;top:0px;width:64px;height:149.4px;background:repeating-linear-gradient(135deg,#e8eef6 0 2.8px,#fafbfd 2.8px 6.7px);"></i><i style="left:13.8px;top:8.3px;width:184px;height:1.5px;background:#a9bbd4;"></i><b style="left:13.8px;top:11.2px;font-size:2.1px;color:#0d3c80;font-weight:700;">3.7 視象標誌</b><b style="left:192px;top:11.2px;font-size:2.1px;color:#0d3c80;font-weight:700;">62</b><i style="left:13.8px;top:14.6px;width:184px;height:0.45px;background:#cfd8e4;"></i><i style="left:13.8px;top:134px;width:184px;height:0.7px;background:#cfd6df;"></i><b style="left:13.8px;top:137.2px;font-size:2.1px;color:#0d3c80;font-weight:700;">香港科技大學 <span style="color:#a8873d">品牌管理指引</span></b><svg style="left:181px;top:42px;" width="17.82" height="27" viewBox="0 0 26 45" preserveAspectRatio="none"><defs><linearGradient id="fg20487" x1="0" y1="0" x2="1" y2="1"><stop offset="0" stop-color="#c0303a"/><stop offset="1" stop-color="#8a1a25"/></linearGradient></defs><path d="M0,0 C4,3 9,9 9.5,15 C10,21 8.5,27 7.5,32 L12,33 L11.5,37 L17.5,29 L15.5,37 C19,37 22,36 25.5,33.5 C23,39 18,44.5 10,45 C5,45 0.8,41 0.8,35 C0.8,28 3,20 3.2,15 C3.4,9 2,4 0,0Z" fill="url(#fg20487)"/></svg><b style="left:60px;width:118px;text-align:right;top:58px;font-size:6.3px;color:#0d3c80;font-weight:400">3.7 &nbsp;紅鳥日晷</b><p class="f" style="left:112px;top:70px;width:74px;height:7.0px;font-size:2.2px;line-height:3.5px;color:#0d3c80;font-weight:700;"></p><p class="f" style="left:128px;top:84px;width:58px;height:10.5px;font-size:2.2px;line-height:3.5px;color:#0d3c80;font-weight:700;"></p></div>
<div class="t" style="left:434.4px;top:2629.1px;background:#fff;"><i style="left:13.8px;top:8.3px;width:184px;height:1.5px;background:#a9bbd4;"></i><b style="left:13.8px;top:11.2px;font-size:2.1px;color:#0d3c80;font-weight:700;">3.7 視象標誌</b><b style="left:192px;top:11.2px;font-size:2.1px;color:#0d3c80;font-weight:700;">63</b><i style="left:13.8px;top:14.6px;width:184px;height:0.45px;background:#cfd8e4;"></i><i style="left:13.8px;top:134px;width:184px;height:0.7px;background:#cfd6df;"></i><b style="left:13.8px;top:137.2px;font-size:2.1px;color:#0d3c80;font-weight:700;">香港科技大學 <span style="color:#a8873d">品牌管理指引</span></b><b style="left:14px;top:24px;font-size:6.3px;color:#0d3c80;font-weight:700;">紅鳥日晷</b><p class="f" style="left:14px;top:34px;width:75px;height:10.8px;font-size:2.3px;line-height:3.6px;color:#0d3c80;font-weight:700;"></p><b style="left:14px;top:51px;font-size:6.3px;color:#0d3c80;font-weight:700;">名稱</b><p class="f" style="left:14px;top:61px;width:70px;height:7.2px;font-size:2.3px;line-height:3.6px;color:#0d3c80;font-weight:700;"></p><b style="left:14px;top:75px;font-size:6.3px;color:#0d3c80;font-weight:700;">用法</b><p class="f" style="left:14px;top:85px;width:75px;height:10.8px;font-size:2.3px;line-height:3.6px;color:#0d3c80;font-weight:700;"></p><p class="f" style="left:14px;top:98px;width:75px;height:10.8px;font-size:2.3px;line-height:3.6px;color:#0d3c80;font-weight:700;"></p><b style="left:14.3px;top:127px;font-size:2.64px;color:#333;font-weight:400;">請到此下載標誌檔案：<span style="color:#1f5fa8;text-decoration:underline">下載標誌</span></b><svg style="left:110px;top:30px;" width="23.76" height="36" viewBox="0 0 26 45" preserveAspectRatio="none"><defs><linearGradient id="fg60913" x1="0" y1="0" x2="1" y2="1"><stop offset="0" stop-color="#d9405a"/><stop offset="1" stop-color="#b02a45"/></linearGradient></defs><path d="M0,0 C4,3 9,9 9.5,15 C10,21 8.5,27 7.5,32 L12,33 L11.5,37 L17.5,29 L15.5,37 C19,37 22,36 25.5,33.5 C23,39 18,44.5 10,45 C5,45 0.8,41 0.8,35 C0.8,28 3,20 3.2,15 C3.4,9 2,4 0,0Z" fill="url(#fg60913)"/></svg><svg style="left:139px;top:30px;" width="23.76" height="36" viewBox="0 0 26 45" preserveAspectRatio="none"><defs><linearGradient id="fg96455" x1="0" y1="0" x2="1" y2="1"><stop offset="0" stop-color="#c0303a"/><stop offset="1" stop-color="#8a1a25"/></linearGradient></defs><path d="M0,0 C4,3 9,9 9.5,15 C10,21 8.5,27 7.5,32 L12,33 L11.5,37 L17.5,29 L15.5,37 C19,37 22,36 25.5,33.5 C23,39 18,44.5 10,45 C5,45 0.8,41 0.8,35 C0.8,28 3,20 3.2,15 C3.4,9 2,4 0,0Z" fill="url(#fg96455)"/></svg><svg style="left:168px;top:30px;transform:scaleX(-1);" width="23.76" height="36" viewBox="0 0 26 45" preserveAspectRatio="none"><defs><linearGradient id="fg65376" x1="0" y1="0" x2="1" y2="1"><stop offset="0" stop-color="#b8442e"/><stop offset="1" stop-color="#8a2a1a"/></linearGradient></defs><path d="M0,0 C4,3 9,9 9.5,15 C10,21 8.5,27 7.5,32 L12,33 L11.5,37 L17.5,29 L15.5,37 C19,37 22,36 25.5,33.5 C23,39 18,44.5 10,45 C5,45 0.8,41 0.8,35 C0.8,28 3,20 3.2,15 C3.4,9 2,4 0,0Z" fill="url(#fg65376)"/></svg><svg style="left:112px;top:76px;" width="25.08" height="38" viewBox="0 0 26 45" preserveAspectRatio="none"><defs><linearGradient id="fg82968" x1="0" y1="0" x2="1" y2="1"><stop offset="0" stop-color="#c33046"/><stop offset="1" stop-color="#8e1e30"/></linearGradient></defs><path d="M0,0 C4,3 9,9 9.5,15 C10,21 8.5,27 7.5,32 L12,33 L11.5,37 L17.5,29 L15.5,37 C19,37 22,36 25.5,33.5 C23,39 18,44.5 10,45 C5,45 0.8,41 0.8,35 C0.8,28 3,20 3.2,15 C3.4,9 2,4 0,0Z" fill="url(#fg82968)"/></svg><svg style="left:140px;top:76px;transform:scaleX(-1);" width="25.08" height="38" viewBox="0 0 26 45" preserveAspectRatio="none"><defs><linearGradient id="fg73647" x1="0" y1="0" x2="1" y2="1"><stop offset="0" stop-color="#c0303a"/><stop offset="1" stop-color="#8a1a25"/></linearGradient></defs><path d="M0,0 C4,3 9,9 9.5,15 C10,21 8.5,27 7.5,32 L12,33 L11.5,37 L17.5,29 L15.5,37 C19,37 22,36 25.5,33.5 C23,39 18,44.5 10,45 C5,45 0.8,41 0.8,35 C0.8,28 3,20 3.2,15 C3.4,9 2,4 0,0Z" fill="url(#fg73647)"/></svg><svg style="left:168px;top:76px;transform:scaleX(-1);" width="25.08" height="38" viewBox="0 0 26 45" preserveAspectRatio="none"><defs><linearGradient id="fg40742" x1="0" y1="0" x2="1" y2="1"><stop offset="0" stop-color="#b33a2c"/><stop offset="1" stop-color="#7a1f18"/></linearGradient></defs><path d="M0,0 C4,3 9,9 9.5,15 C10,21 8.5,27 7.5,32 L12,33 L11.5,37 L17.5,29 L15.5,37 C19,37 22,36 25.5,33.5 C23,39 18,44.5 10,45 C5,45 0.8,41 0.8,35 C0.8,28 3,20 3.2,15 C3.4,9 2,4 0,0Z" fill="url(#fg40742)"/></svg></div>
<div class="t" style="left:651.6px;top:2629.1px;background:#fff;"><i style="left:13.8px;top:8.3px;width:184px;height:1.5px;background:#a9bbd4;"></i><b style="left:13.8px;top:11.2px;font-size:2.1px;color:#0d3c80;font-weight:700;">3.7 視象標誌</b><b style="left:192px;top:11.2px;font-size:2.1px;color:#0d3c80;font-weight:700;">64</b><i style="left:13.8px;top:14.6px;width:184px;height:0.45px;background:#cfd8e4;"></i><i style="left:13.8px;top:134px;width:184px;height:0.7px;background:#cfd6df;"></i><b style="left:13.8px;top:137.2px;font-size:2.1px;color:#0d3c80;font-weight:700;">香港科技大學 <span style="color:#a8873d">品牌管理指引</span></b><b style="left:14px;top:20.5px;font-size:2.6px;color:#a8873d;font-weight:400;">紅鳥日晷</b><b style="left:14px;top:24.5px;font-size:6.3px;color:#0d3c80;font-weight:700;">標準色盤</b><p class="f" style="left:14px;top:35px;width:90px;height:7.2px;font-size:2.3px;line-height:3.6px;color:#0d3c80;font-weight:700;"></p><svg style="left:22px;top:46px;" width="26.40" height="40" viewBox="0 0 26 45" preserveAspectRatio="none"><defs><linearGradient id="fg12417" x1="0" y1="0" x2="1" y2="1"><stop offset="0" stop-color="#d0344a"/><stop offset="1" stop-color="#7a1a22"/></linearGradient></defs><path d="M0,0 C4,3 9,9 9.5,15 C10,21 8.5,27 7.5,32 L12,33 L11.5,37 L17.5,29 L15.5,37 C19,37 22,36 25.5,33.5 C23,39 18,44.5 10,45 C5,45 0.8,41 0.8,35 C0.8,28 3,20 3.2,15 C3.4,9 2,4 0,0Z" fill="url(#fg12417)"/></svg><svg style="left:93px;top:46px;" width="26.40" height="40" viewBox="0 0 26 45" preserveAspectRatio="none"><defs><linearGradient id="fg37260" x1="0" y1="0" x2="1" y2="1"><stop offset="0" stop-color="#d0344a"/><stop offset="1" stop-color="#7a1a22"/></linearGradient></defs><path d="M0,0 C4,3 9,9 9.5,15 C10,21 8.5,27 7.5,32 L12,33 L11.5,37 L17.5,29 L15.5,37 C19,37 22,36 25.5,33.5 C23,39 18,44.5 10,45 C5,45 0.8,41 0.8,35 C0.8,28 3,20 3.2,15 C3.4,9 2,4 0,0Z" fill="url(#fg37260)"/></svg><svg style="left:160px;top:46px;" width="21.12" height="32" viewBox="0 0 26 45" preserveAspectRatio="none"><defs><linearGradient id="fg82797" x1="0" y1="0" x2="1" y2="1"><stop offset="0" stop-color="#d0344a"/><stop offset="1" stop-color="#7a1a22"/></linearGradient></defs><path d="M0,0 C4,3 9,9 9.5,15 C10,21 8.5,27 7.5,32 L12,33 L11.5,37 L17.5,29 L15.5,37 C19,37 22,36 25.5,33.5 C23,39 18,44.5 10,45 C5,45 0.8,41 0.8,35 C0.8,28 3,20 3.2,15 C3.4,9 2,4 0,0Z" fill="url(#fg82797)"/></svg><svg style="left:18px;top:90px;" width="27.72" height="42" viewBox="0 0 26 45" preserveAspectRatio="none"><defs><linearGradient id="fg43984" x1="0" y1="0" x2="1" y2="1"><stop offset="0" stop-color="#d0344a"/><stop offset="1" stop-color="#7a1a22"/></linearGradient></defs><path d="M0,0 C4,3 9,9 9.5,15 C10,21 8.5,27 7.5,32 L12,33 L11.5,37 L17.5,29 L15.5,37 C19,37 22,36 25.5,33.5 C23,39 18,44.5 10,45 C5,45 0.8,41 0.8,35 C0.8,28 3,20 3.2,15 C3.4,9 2,4 0,0Z" fill="url(#fg43984)"/></svg><svg style="left:92px;top:90px;" width="27.72" height="42" viewBox="0 0 26 45" preserveAspectRatio="none"><defs><linearGradient id="fg86722" x1="0" y1="0" x2="1" y2="1"><stop offset="0" stop-color="#d0344a"/><stop offset="1" stop-color="#7a1a22"/></linearGradient></defs><path d="M0,0 C4,3 9,9 9.5,15 C10,21 8.5,27 7.5,32 L12,33 L11.5,37 L17.5,29 L15.5,37 C19,37 22,36 25.5,33.5 C23,39 18,44.5 10,45 C5,45 0.8,41 0.8,35 C0.8,28 3,20 3.2,15 C3.4,9 2,4 0,0Z" fill="url(#fg86722)"/></svg><i style="left:56px;top:58.0px;width:22px;height:4.5px;background:#c2283c;"></i><i style="left:79px;top:59.0px;width:6px;height:2.5px;background:#bbb;"></i><i style="left:56px;top:63.5px;width:22px;height:4.5px;background:#e87a8a;"></i><i style="left:79px;top:64.5px;width:6px;height:2.5px;background:#bbb;"></i><i style="left:56px;top:69.0px;width:22px;height:4.5px;background:#9a1e2c;"></i><i style="left:79px;top:70.0px;width:6px;height:2.5px;background:#bbb;"></i><i style="left:128px;top:58.0px;width:22px;height:4.5px;background:#c2283c;"></i><i style="left:151px;top:59.0px;width:6px;height:2.5px;background:#bbb;"></i><i style="left:128px;top:63.5px;width:22px;height:4.5px;background:#e87a8a;"></i><i style="left:151px;top:64.5px;width:6px;height:2.5px;background:#bbb;"></i><i style="left:128px;top:69.0px;width:22px;height:4.5px;background:#9a1e2c;"></i><i style="left:151px;top:70.0px;width:6px;height:2.5px;background:#bbb;"></i><i style="left:56px;top:100.0px;width:22px;height:4.5px;background:#c2283c;"></i><i style="left:79px;top:101.0px;width:6px;height:2.5px;background:#bbb;"></i><i style="left:56px;top:105.5px;width:22px;height:4.5px;background:#e87a8a;"></i><i style="left:79px;top:106.5px;width:6px;height:2.5px;background:#bbb;"></i><i style="left:56px;top:111.0px;width:22px;height:4.5px;background:#9a1e2c;"></i><i style="left:79px;top:112.0px;width:6px;height:2.5px;background:#bbb;"></i><i style="left:128px;top:100.0px;width:22px;height:4.5px;background:#c2283c;"></i><i style="left:151px;top:101.0px;width:6px;height:2.5px;background:#bbb;"></i><i style="left:128px;top:105.5px;width:22px;height:4.5px;background:#e87a8a;"></i><i style="left:151px;top:106.5px;width:6px;height:2.5px;background:#bbb;"></i><i style="left:128px;top:111.0px;width:22px;height:4.5px;background:#9a1e2c;"></i><i style="left:151px;top:112.0px;width:6px;height:2.5px;background:#bbb;"></i><i style="left:164px;top:85.0px;width:22px;height:4.5px;background:#c2283c;"></i><i style="left:187px;top:86.0px;width:6px;height:2.5px;background:#bbb;"></i><i style="left:164px;top:90.5px;width:22px;height:4.5px;background:#e87a8a;"></i><i style="left:187px;top:91.5px;width:6px;height:2.5px;background:#bbb;"></i><i style="left:164px;top:96.0px;width:22px;height:4.5px;background:#9a1e2c;"></i><i style="left:187px;top:97.0px;width:6px;height:2.5px;background:#bbb;"></i></div>
<div class="t" style="left:868.8px;top:2629.1px;background:#fff;"><i style="left:13.8px;top:8.3px;width:184px;height:1.5px;background:#a9bbd4;"></i><b style="left:13.8px;top:11.2px;font-size:2.1px;color:#0d3c80;font-weight:700;">3.7 視象標誌</b><b style="left:192px;top:11.2px;font-size:2.1px;color:#0d3c80;font-weight:700;">65</b><i style="left:13.8px;top:14.6px;width:184px;height:0.45px;background:#cfd8e4;"></i><i style="left:13.8px;top:134px;width:184px;height:0.7px;background:#cfd6df;"></i><b style="left:13.8px;top:137.2px;font-size:2.1px;color:#0d3c80;font-weight:700;">香港科技大學 <span style="color:#a8873d">品牌管理指引</span></b><b style="left:19px;top:43px;font-size:6.3px;color:#0d3c80;font-weight:700;">紅鳥日晷圖形與大學標誌</b><p class="f" style="left:19px;top:68px;width:75px;height:24.5px;font-size:2.2px;line-height:3.5px;color:#0d3c80;font-weight:700;"></p><p class="f" style="left:19px;top:95px;width:75px;height:7.0px;font-size:2.2px;line-height:3.5px;color:#0d3c80;font-weight:700;"></p><svg style="left:112px;top:72px" width="8.98" height="14" viewBox="62 115 420 655"><circle cx="272" cy="207" r="93" fill="#a8873d"/><polygon fill="#0d3c80" points="62,358 100,318 235,318 272,338 310,318 445,318 482,358 310,358 272,385 235,358"/><g fill="none" stroke="#0d3c80" stroke-width="34"><path d="M96,378 V590 Q96,670 175,722"/><path d="M149,378 V580 Q149,635 200,668"/><path d="M448,378 V590 Q448,670 369,722"/><path d="M395,378 V580 Q395,635 344,668"/></g><polygon fill="#a8873d" points="232,398 311,398 311,618 392,770 152,770 232,618"/><polygon fill="#fff" points="251,398 292,398 292,628 345,735 199,735 251,628"/></svg><b style="left:122.5px;top:72.301px;font-size:4.06px;line-height:4.466px;color:#0d3c80;font-weight:700;transform:scaleX(0.9);transform-origin:0 0;letter-spacing:0px">THE HONG KONG<br>UNIVERSITY OF SCIENCE<br>AND TECHNOLOGY</b><svg style="left:112px;top:101px;" width="18.48" height="28" viewBox="0 0 26 45" preserveAspectRatio="none"><defs><linearGradient id="fg38334" x1="0" y1="0" x2="1" y2="1"><stop offset="0" stop-color="#c0303a"/><stop offset="1" stop-color="#8a1a25"/></linearGradient></defs><path d="M0,0 C4,3 9,9 9.5,15 C10,21 8.5,27 7.5,32 L12,33 L11.5,37 L17.5,29 L15.5,37 C19,37 22,36 25.5,33.5 C23,39 18,44.5 10,45 C5,45 0.8,41 0.8,35 C0.8,28 3,20 3.2,15 C3.4,9 2,4 0,0Z" fill="url(#fg38334)"/></svg></div>
<div class="t" style="left:0.0px;top:2784.6px;background:#fff;"><i style="left:0px;top:17px;width:78px;height:113px;background:repeating-linear-gradient(135deg,#f6f7f9 0 3.2px,#fff 3.2px 6.7px);"></i><i style="left:13.8px;top:8.3px;width:184px;height:1.5px;background:#a9bbd4;"></i><b style="left:13.8px;top:11.2px;font-size:2.1px;color:#0d3c80;font-weight:700;">3.7 視象標誌</b><b style="left:192px;top:11.2px;font-size:2.1px;color:#0d3c80;font-weight:700;">66</b><i style="left:13.8px;top:14.6px;width:184px;height:0.45px;background:#cfd8e4;"></i><i style="left:13.8px;top:134px;width:184px;height:0.7px;background:#cfd6df;"></i><b style="left:13.8px;top:137.2px;font-size:2.1px;color:#0d3c80;font-weight:700;">香港科技大學 <span style="color:#a8873d">品牌管理指引</span></b><b style="left:14px;top:23px;font-size:6.5px;color:#0d3c80;font-weight:700;">留白空位</b><p class="f" style="left:14px;top:35px;width:58px;height:7.2px;font-size:2.3px;line-height:3.6px;color:#0d3c80;font-weight:700;"></p><i style="left:112px;top:26px;width:35px;height:45px;border:0.3px solid #c9ced4;"></i><svg style="left:118px;top:30px;" width="23.76" height="36" viewBox="0 0 26 45" preserveAspectRatio="none"><defs><linearGradient id="fg98118" x1="0" y1="0" x2="1" y2="1"><stop offset="0" stop-color="#c0303a"/><stop offset="1" stop-color="#8a1a25"/></linearGradient></defs><path d="M0,0 C4,3 9,9 9.5,15 C10,21 8.5,27 7.5,32 L12,33 L11.5,37 L17.5,29 L15.5,37 C19,37 22,36 25.5,33.5 C23,39 18,44.5 10,45 C5,45 0.8,41 0.8,35 C0.8,28 3,20 3.2,15 C3.4,9 2,4 0,0Z" fill="url(#fg98118)"/></svg><i style="left:14px;top:78px;width:184px;height:0.8px;background:#a9bbd4;"></i><b style="left:14px;top:83px;font-size:6.5px;color:#0d3c80;font-weight:700;">最小尺寸</b><p class="f" style="left:14px;top:95px;width:58px;height:7.2px;font-size:2.3px;line-height:3.6px;color:#0d3c80;font-weight:700;"></p><p class="f" style="left:14px;top:104px;width:58px;height:7.2px;font-size:2.3px;line-height:3.6px;color:#0d3c80;font-weight:700;"></p><p class="f" style="left:14px;top:113px;width:58px;height:7.2px;font-size:2.3px;line-height:3.6px;color:#0d3c80;font-weight:700;"></p><b style="left:108px;top:97px;font-size:2px;color:#222;font-weight:700;">印刷品</b><svg style="left:122px;top:86px;" width="20.46" height="31" viewBox="0 0 26 45" preserveAspectRatio="none"><defs><linearGradient id="fg60803" x1="0" y1="0" x2="1" y2="1"><stop offset="0" stop-color="#c0303a"/><stop offset="1" stop-color="#8a1a25"/></linearGradient></defs><path d="M0,0 C4,3 9,9 9.5,15 C10,21 8.5,27 7.5,32 L12,33 L11.5,37 L17.5,29 L15.5,37 C19,37 22,36 25.5,33.5 C23,39 18,44.5 10,45 C5,45 0.8,41 0.8,35 C0.8,28 3,20 3.2,15 C3.4,9 2,4 0,0Z" fill="url(#fg60803)"/></svg><b style="left:142px;top:97px;font-size:2px;color:#222;font-weight:700;">網上媒體</b></div>
<div class="t" style="left:217.2px;top:2784.6px;background:#0c3a7e;"><i style="left:0px;top:0px;width:64px;height:149.4px;background:repeating-linear-gradient(135deg,rgba(255,255,255,.22) 0 1.8px,#0c3a7e 1.8px 7px);"></i><i style="left:13.5px;top:8.2px;width:184.5px;height:1.2px;background:rgba(255,255,255,.75);"></i><b style="left:13.5px;top:11px;font-size:2.2px;color:#fff;font-weight:700;">3.8 視象標誌</b><b style="left:190px;top:11px;font-size:2.2px;color:#fff;font-weight:700;">67</b><i style="left:13.5px;top:134px;width:184.5px;height:0.7px;background:rgba(255,255,255,.55);"></i><b style="left:13.5px;top:137.2px;font-size:2.2px;color:#fff;font-weight:700;">香港科技大學 品牌管理指引</b><b style="left:47.19999999999999px;width:150px;text-align:right;top:65px;font-size:6.6px;color:#fff;font-weight:700">3.8 禁止用途</b></div>
<div class="t" style="left:434.4px;top:2784.6px;background:#fff;"><i style="left:0px;top:0px;width:64px;height:149.4px;background:repeating-linear-gradient(135deg,#e8eef6 0 2.8px,#fafbfd 2.8px 6.7px);"></i><i style="left:13.8px;top:8.3px;width:184px;height:1.5px;background:#a9bbd4;"></i><b style="left:13.8px;top:11.2px;font-size:2.1px;color:#0d3c80;font-weight:700;">3.8 視象標誌</b><b style="left:192px;top:11.2px;font-size:2.1px;color:#0d3c80;font-weight:700;">68</b><i style="left:13.8px;top:14.6px;width:184px;height:0.45px;background:#cfd8e4;"></i><i style="left:13.8px;top:134px;width:184px;height:0.7px;background:#cfd6df;"></i><b style="left:13.8px;top:137.2px;font-size:2.1px;color:#0d3c80;font-weight:700;">香港科技大學 <span style="color:#a8873d">品牌管理指引</span></b><b style="left:14px;top:40px;font-size:6.3px;color:#0d3c80;font-weight:700;">大學標誌和</b><b style="left:14px;top:48px;font-size:6.3px;color:#0d3c80;font-weight:700;">紅鳥日晷圖形</b><b style="left:14px;top:56px;font-size:6.3px;color:#0d3c80;font-weight:700;">禁止用途</b><p class="f" style="left:14px;top:67px;width:48px;height:3.6px;font-size:2.3px;line-height:3.6px;color:#1f64b8;font-weight:700;"></p><p class="f" style="left:14px;top:75px;width:30px;height:3.6px;font-size:2.3px;line-height:3.6px;color:#1f64b8;font-weight:700;"></p><svg style="left:70px;top:22px" width="5" height="5"><circle cx="2.5" cy="2.5" r="2.5" fill="#d7263d"/></svg><b style="left:77px;top:23px;font-size:2.6px;color:#d7263d;font-weight:700;">禁止</b><p class="f" style="left:70px;top:33.0px;width:55px;height:3.3px;font-size:2.2px;line-height:3.3px;color:#222;font-weight:700;"></p><p class="f" style="left:70px;top:42.4px;width:55px;height:6.6px;font-size:2.2px;line-height:3.3px;color:#222;font-weight:700;"></p><p class="f" style="left:70px;top:51.8px;width:55px;height:6.6px;font-size:2.2px;line-height:3.3px;color:#222;font-weight:700;"></p><p class="f" style="left:70px;top:61.2px;width:55px;height:3.3px;font-size:2.2px;line-height:3.3px;color:#222;font-weight:700;"></p><p class="f" style="left:70px;top:70.6px;width:55px;height:6.6px;font-size:2.2px;line-height:3.3px;color:#222;font-weight:700;"></p><p class="f" style="left:70px;top:80.0px;width:55px;height:6.6px;font-size:2.2px;line-height:3.3px;color:#222;font-weight:700;"></p><p class="f" style="left:70px;top:89.4px;width:55px;height:3.3px;font-size:2.2px;line-height:3.3px;color:#222;font-weight:700;"></p><p class="f" style="left:70px;top:98.8px;width:55px;height:6.6px;font-size:2.2px;line-height:3.3px;color:#222;font-weight:700;"></p><p class="f" style="left:70px;top:108.2px;width:55px;height:6.6px;font-size:2.2px;line-height:3.3px;color:#222;font-weight:700;"></p><p class="f" style="left:70px;top:117.60000000000001px;width:55px;height:3.3px;font-size:2.2px;line-height:3.3px;color:#222;font-weight:700;"></p><i style="left:130px;top:30px;width:27px;height:20px;background:#fff;border:0.3px solid #ddd"></i><i style="left:160px;top:30px;width:27px;height:20px;background:#fff;border:0.3px solid #ddd"></i><i style="left:130px;top:56px;width:27px;height:20px;background:#fff;border:0.3px solid #ddd"></i><i style="left:160px;top:56px;width:27px;height:20px;background:#fff;border:0.3px solid #ddd"></i><i style="left:130px;top:82px;width:27px;height:20px;background:#fff;border:0.3px solid #ddd"></i><i style="left:160px;top:82px;width:27px;height:20px;background:#111;border:0.3px solid #ddd"></i><i style="left:130px;top:103px;width:27px;height:20px;background:#f4f2d8;border:0.3px solid #ddd"></i><i style="left:160px;top:103px;width:27px;height:20px;background:#fff;border:0.3px solid #ddd"></i><i style="left:130px;top:122px;width:27px;height:20px;background:#fff;border:0.3px solid #ddd"></i><svg style="left:132px;top:34px" width="5.77" height="9" viewBox="62 115 420 655"><circle cx="272" cy="207" r="93" fill="#a8873d"/><polygon fill="#0d3c80" points="62,358 100,318 235,318 272,338 310,318 445,318 482,358 310,358 272,385 235,358"/><g fill="none" stroke="#0d3c80" stroke-width="34"><path d="M96,378 V590 Q96,670 175,722"/><path d="M149,378 V580 Q149,635 200,668"/><path d="M448,378 V590 Q448,670 369,722"/><path d="M395,378 V580 Q395,635 344,668"/></g><polygon fill="#a8873d" points="232,398 311,398 311,618 392,770 152,770 232,618"/><polygon fill="#fff" points="251,398 292,398 292,628 345,735 199,735 251,628"/></svg><b style="left:138.75px;top:35.2px;font-size:2px;line-height:2.2px;color:#0d3c80;font-weight:700;transform:scaleX(0.9);transform-origin:0 0;letter-spacing:0px">THE HONG KONG<br>UNIVERSITY OF SCIENCE<br>AND TECHNOLOGY</b><svg style="left:162px;top:34px" width="5.77" height="9" viewBox="62 115 420 655"><circle cx="272" cy="207" r="93" fill="#a8873d"/><polygon fill="#0d3c80" points="62,358 100,318 235,318 272,338 310,318 445,318 482,358 310,358 272,385 235,358"/><g fill="none" stroke="#0d3c80" stroke-width="34"><path d="M96,378 V590 Q96,670 175,722"/><path d="M149,378 V580 Q149,635 200,668"/><path d="M448,378 V590 Q448,670 369,722"/><path d="M395,378 V580 Q395,635 344,668"/></g><polygon fill="#a8873d" points="232,398 311,398 311,618 392,770 152,770 232,618"/><polygon fill="#fff" points="251,398 292,398 292,628 345,735 199,735 251,628"/></svg><b style="left:168.75px;top:35.2px;font-size:2px;line-height:2.2px;color:#0d3c80;font-weight:700;transform:scaleX(0.9);transform-origin:0 0;letter-spacing:0px">THE HONG KONG<br>UNIVERSITY OF SCIENCE<br>AND TECHNOLOGY</b><svg style="left:142.0763358778626px;top:57px" width="3.85" height="6" viewBox="62 115 420 655"><circle cx="272" cy="207" r="93" fill="#a8873d"/><polygon fill="#0d3c80" points="62,358 100,318 235,318 272,338 310,318 445,318 482,358 310,358 272,385 235,358"/><g fill="none" stroke="#0d3c80" stroke-width="34"><path d="M96,378 V590 Q96,670 175,722"/><path d="M149,378 V580 Q149,635 200,668"/><path d="M448,378 V590 Q448,670 369,722"/><path d="M395,378 V580 Q395,635 344,668"/></g><polygon fill="#a8873d" points="232,398 311,398 311,618 392,770 152,770 232,618"/><polygon fill="#fff" points="251,398 292,398 292,628 345,735 199,735 251,628"/></svg><b style="left:84px;top:63.480000000000004px;width:120px;text-align:center;font-size:1.32px;line-height:1.56px;color:#0d3c80;font-weight:700;letter-spacing:0.6000000000000001px">香港科技大學</b><b style="left:84px;top:65.28px;width:120px;text-align:center;font-size:1.44px;line-height:1.6128px;color:#0d3c80;font-weight:700;transform:scaleX(0.9);transform-origin:50% 0;letter-spacing:0px">THE HONG KONG<br>UNIVERSITY OF SCIENCE<br>AND TECHNOLOGY</b><svg style="left:170.75572519083968px;top:58px" width="4.49" height="7" viewBox="62 115 420 655"><circle cx="272" cy="207" r="93" fill="#a8873d"/><polygon fill="#0d3c80" points="62,358 100,318 235,318 272,338 310,318 445,318 482,358 310,358 272,385 235,358"/><g fill="none" stroke="#0d3c80" stroke-width="34"><path d="M96,378 V590 Q96,670 175,722"/><path d="M149,378 V580 Q149,635 200,668"/><path d="M448,378 V590 Q448,670 369,722"/><path d="M395,378 V580 Q395,635 344,668"/></g><polygon fill="#a8873d" points="232,398 311,398 311,618 392,770 152,770 232,618"/><polygon fill="#fff" points="251,398 292,398 292,628 345,735 199,735 251,628"/></svg><b style="left:133px;width:80px;text-align:center;top:65.84px;font-size:2.94px;color:#0d3c80;font-weight:700;letter-spacing:0.77px">香港科技大學</b><svg style="left:142.0763358778626px;top:83px" width="3.85" height="6" viewBox="62 115 420 655"><circle cx="272" cy="207" r="93" fill="#a8873d"/><polygon fill="#0d3c80" points="62,358 100,318 235,318 272,338 310,318 445,318 482,358 310,358 272,385 235,358"/><g fill="none" stroke="#0d3c80" stroke-width="34"><path d="M96,378 V590 Q96,670 175,722"/><path d="M149,378 V580 Q149,635 200,668"/><path d="M448,378 V590 Q448,670 369,722"/><path d="M395,378 V580 Q395,635 344,668"/></g><polygon fill="#a8873d" points="232,398 311,398 311,618 392,770 152,770 232,618"/><polygon fill="#fff" points="251,398 292,398 292,628 345,735 199,735 251,628"/></svg><b style="left:84px;top:89.48px;width:120px;text-align:center;font-size:1.32px;line-height:1.56px;color:#0d3c80;font-weight:700;letter-spacing:0.6000000000000001px">香港科技大學</b><b style="left:84px;top:91.28px;width:120px;text-align:center;font-size:1.44px;line-height:1.6128px;color:#0d3c80;font-weight:700;transform:scaleX(0.9);transform-origin:50% 0;letter-spacing:0px">THE HONG KONG<br>UNIVERSITY OF SCIENCE<br>AND TECHNOLOGY</b><svg style="left:162px;top:86px" width="5.13" height="8" viewBox="62 115 420 655"><circle cx="272" cy="207" r="93" fill="#fff"/><polygon fill="#fff" points="62,358 100,318 235,318 272,338 310,318 445,318 482,358 310,358 272,385 235,358"/><g fill="none" stroke="#fff" stroke-width="34"><path d="M96,378 V590 Q96,670 175,722"/><path d="M149,378 V580 Q149,635 200,668"/><path d="M448,378 V590 Q448,670 369,722"/><path d="M395,378 V580 Q395,635 344,668"/></g><polygon fill="#fff" points="232,398 311,398 311,618 392,770 152,770 232,618"/><polygon fill="#111" points="251,398 292,398 292,628 345,735 199,735 251,628"/></svg><b style="left:168.08px;top:85.84px;font-size:2.0px;line-height:2.0px;color:#fff;font-weight:700;letter-spacing:0.56px">香港科技大學</b><b style="left:168.08px;top:88.4px;font-size:1.824px;line-height:2.048px;color:#fff;font-weight:700;transform:scaleX(0.86);transform-origin:0 0;letter-spacing:0px">THE HONG KONG<br>UNIVERSITY OF SCIENCE<br>AND TECHNOLOGY</b><svg style="left:132px;top:106px" width="5.13" height="8" viewBox="62 115 420 655"><circle cx="272" cy="207" r="93" fill="#a8873d"/><polygon fill="#0d3c80" points="62,358 100,318 235,318 272,338 310,318 445,318 482,358 310,358 272,385 235,358"/><g fill="none" stroke="#0d3c80" stroke-width="34"><path d="M96,378 V590 Q96,670 175,722"/><path d="M149,378 V580 Q149,635 200,668"/><path d="M448,378 V590 Q448,670 369,722"/><path d="M395,378 V580 Q395,635 344,668"/></g><polygon fill="#a8873d" points="232,398 311,398 311,618 392,770 152,770 232,618"/><polygon fill="#fff" points="251,398 292,398 292,628 345,735 199,735 251,628"/></svg><b style="left:138.08px;top:105.84px;font-size:2.0px;line-height:2.0px;color:#0d3c80;font-weight:700;letter-spacing:0.56px">香港科技大學</b><b style="left:138.08px;top:108.4px;font-size:1.824px;line-height:2.048px;color:#0d3c80;font-weight:700;transform:scaleX(0.86);transform-origin:0 0;letter-spacing:0px">THE HONG KONG<br>UNIVERSITY OF SCIENCE<br>AND TECHNOLOGY</b><svg style="left:162px;top:106px" width="5.13" height="8" viewBox="62 115 420 655"><circle cx="272" cy="207" r="93" fill="#a8873d"/><polygon fill="#0d3c80" points="62,358 100,318 235,318 272,338 310,318 445,318 482,358 310,358 272,385 235,358"/><g fill="none" stroke="#0d3c80" stroke-width="34"><path d="M96,378 V590 Q96,670 175,722"/><path d="M149,378 V580 Q149,635 200,668"/><path d="M448,378 V590 Q448,670 369,722"/><path d="M395,378 V580 Q395,635 344,668"/></g><polygon fill="#a8873d" points="232,398 311,398 311,618 392,770 152,770 232,618"/><polygon fill="#fff" points="251,398 292,398 292,628 345,735 199,735 251,628"/></svg><b style="left:168.08px;top:105.84px;font-size:2.0px;line-height:2.0px;color:#0d3c80;font-weight:700;letter-spacing:0.56px">香港科技大學</b><b style="left:168.08px;top:108.4px;font-size:1.824px;line-height:2.048px;color:#0d3c80;font-weight:700;transform:scaleX(0.86);transform-origin:0 0;letter-spacing:0px">THE HONG KONG<br>UNIVERSITY OF SCIENCE<br>AND TECHNOLOGY</b><svg style="left:134px;top:125px;" width="11.88" height="18" viewBox="0 0 26 45" preserveAspectRatio="none"><defs><linearGradient id="fg55767" x1="0" y1="0" x2="1" y2="1"><stop offset="0" stop-color="#c0303a"/><stop offset="1" stop-color="#c0303a"/></linearGradient></defs><path d="M0,0 C4,3 9,9 9.5,15 C10,21 8.5,27 7.5,32 L12,33 L11.5,37 L17.5,29 L15.5,37 C19,37 22,36 25.5,33.5 C23,39 18,44.5 10,45 C5,45 0.8,41 0.8,35 C0.8,28 3,20 3.2,15 C3.4,9 2,4 0,0Z" fill="url(#fg55767)"/></svg><svg style="left:154px;top:125px;" width="11.88" height="18" viewBox="0 0 26 45" preserveAspectRatio="none"><defs><linearGradient id="fg99289" x1="0" y1="0" x2="1" y2="1"><stop offset="0" stop-color="#c33046"/><stop offset="1" stop-color="#c33046"/></linearGradient></defs><path d="M0,0 C4,3 9,9 9.5,15 C10,21 8.5,27 7.5,32 L12,33 L11.5,37 L17.5,29 L15.5,37 C19,37 22,36 25.5,33.5 C23,39 18,44.5 10,45 C5,45 0.8,41 0.8,35 C0.8,28 3,20 3.2,15 C3.4,9 2,4 0,0Z" fill="url(#fg99289)"/></svg></div>
<div class="t" style="left:651.6px;top:2784.6px;background:#0c3a7e;"><i style="left:0px;top:0px;width:64px;height:149.4px;background:repeating-linear-gradient(135deg,rgba(255,255,255,.22) 0 1.8px,#0c3a7e 1.8px 7px);"></i><i style="left:13.5px;top:8.2px;width:184.5px;height:1.2px;background:rgba(255,255,255,.75);"></i><b style="left:13.5px;top:11px;font-size:2.2px;color:#fff;font-weight:700;">3.9 視象標誌</b><b style="left:190px;top:11px;font-size:2.2px;color:#fff;font-weight:700;">69</b><i style="left:13.5px;top:134px;width:184.5px;height:0.7px;background:rgba(255,255,255,.55);"></i><b style="left:13.5px;top:137.2px;font-size:2.2px;color:#fff;font-weight:700;">香港科技大學 品牌管理指引</b><b style="left:47.19999999999999px;width:150px;text-align:right;top:65px;font-size:6.6px;color:#fff;font-weight:700">3.9 字體</b><p class="f" style="left:110px;top:72px;width:86px;height:7.2px;font-size:2.3px;line-height:3.6px;color:#fff;font-weight:700;text-align:right"></p><p class="f" style="left:124px;top:84px;width:72px;height:10.8px;font-size:2.3px;line-height:3.6px;color:#fff;font-weight:700;text-align:right"></p></div>
<div class="t" style="left:868.8px;top:2784.6px;background:#fff;"><i style="left:13.8px;top:8.3px;width:184px;height:1.5px;background:#a9bbd4;"></i><b style="left:13.8px;top:11.2px;font-size:2.1px;color:#0d3c80;font-weight:700;">3.9 視象標誌</b><b style="left:192px;top:11.2px;font-size:2.1px;color:#0d3c80;font-weight:700;">70</b><i style="left:13.8px;top:14.6px;width:184px;height:0.45px;background:#cfd8e4;"></i><i style="left:13.8px;top:134px;width:184px;height:0.7px;background:#cfd6df;"></i><b style="left:13.8px;top:137.2px;font-size:2.1px;color:#0d3c80;font-weight:700;">香港科技大學 <span style="color:#a8873d">品牌管理指引</span></b><b style="left:14px;top:34px;font-size:6.3px;color:#0d3c80;font-weight:700;">大學標誌字體</b><p class="f" style="left:14px;top:56px;width:58px;height:14.0px;font-size:2.2px;line-height:3.5px;color:#0d3c80;font-weight:700;"></p><b style="left:14px;top:72px;font-size:2.3px;color:#222;font-weight:400;">英文：Futura Medium</b><b style="left:14px;top:76px;font-size:2.3px;color:#222;font-weight:400;">中文：黑體</b><b style="left:92px;top:57px;font-size:7.3px;color:#1a1a1a;font-weight:700;transform:scaleX(.88);transform-origin:0 0">HELLO, I&#39;M <span style="color:#d7263d">FUTURA MEDIUM.</span></b><b style="left:92px;top:66px;font-size:2.8px;color:#222;font-weight:700;">香港科技大學的官方字體。</b><b style="left:92px;top:78px;font-size:2.2px;color:#444;font-weight:400;">字型</b><b style="left:92px;top:82px;font-size:3px;color:#bbb;font-weight:400;">ABCDEFGHIJKLMNOPQRSTUVWXYZ</b><b style="left:92px;top:86.5px;font-size:3px;color:#bbb;font-weight:400;">abcdefghijklmnopqrstuvwxyz</b><b style="left:92px;top:91px;font-size:3px;color:#bbb;font-weight:400;">1234567890 !@#$%^&amp;*()_+-?&lt;&gt;</b><b style="left:92px;top:107px;font-size:6.2px;color:#1a1a1a;font-weight:700;">你好!我是<span style="color:#d7263d">黑體</span>。</b><b style="left:92px;top:116px;font-size:2.8px;color:#222;font-weight:700;">香港科技大學標誌的官方字體。</b></div>
<div class="t" style="left:0.0px;top:2940.1px;background:#fff;"><i style="left:13.8px;top:8.3px;width:184px;height:1.5px;background:#a9bbd4;"></i><b style="left:13.8px;top:11.2px;font-size:2.1px;color:#0d3c80;font-weight:700;">3.9 視象標誌</b><b style="left:192px;top:11.2px;font-size:2.1px;color:#0d3c80;font-weight:700;">71</b><i style="left:13.8px;top:14.6px;width:184px;height:0.45px;background:#cfd8e4;"></i><i style="left:13.8px;top:134px;width:184px;height:0.7px;background:#cfd6df;"></i><b style="left:13.8px;top:137.2px;font-size:2.1px;color:#0d3c80;font-weight:700;">香港科技大學 <span style="color:#a8873d">品牌管理指引</span></b><b style="left:14px;top:30px;font-size:6.3px;color:#0d3c80;font-weight:700;">內容文字</b><b style="left:14px;top:48px;font-size:2.4px;color:#222;font-weight:700;">字體：Muli</b><p class="f" style="left:14px;top:56px;width:50px;height:6.8px;font-size:2.2px;line-height:3.4px;color:#0d3c80;font-weight:700;"></p><p class="f" style="left:14px;top:66px;width:55px;height:13.6px;font-size:2.2px;line-height:3.4px;color:#0d3c80;font-weight:700;"></p><b style="left:88px;top:49px;font-size:7px;color:#1a1a1a;font-weight:400;">HELLO, I&#39;M</b><b style="left:88px;top:57.5px;font-size:6.5px;color:#d7263d;font-weight:400;">Muli - Regular</b><b style="left:88px;top:66px;font-size:2.6px;color:#222;font-weight:700;">香港科技大學的官方文字體。</b><b style="left:88px;top:78px;font-size:2.2px;color:#444;font-weight:400;">字型</b><b style="left:88px;top:82px;font-size:2.8px;color:#bbb;font-weight:400;">ABCDEFGHIJKLMNOPQRSTUVWXYZ</b><b style="left:88px;top:86px;font-size:2.8px;color:#bbb;font-weight:400;">abcdefghijklmnopqrstuvwxyz</b><b style="left:88px;top:90px;font-size:2.8px;color:#bbb;font-weight:400;">1234567890 !@#$%^&amp;*()_+-?</b><b style="left:88px;top:104px;font-size:2.2px;color:#444;font-weight:400;">字體系列</b><b style="left:88px;top:110.0px;font-size:2.4px;color:#1f64b8;font-weight:700;">Muli - ExtraLight</b><b style="left:88px;top:113.4px;font-size:2.4px;color:#1f64b8;font-weight:700;">Muli - ExtraLight Italic</b><b style="left:88px;top:116.8px;font-size:2.4px;color:#1f64b8;font-weight:700;">Muli - Light</b><b style="left:88px;top:120.2px;font-size:2.4px;color:#1f64b8;font-weight:700;">Muli - Light Italic</b><b style="left:88px;top:123.6px;font-size:2.4px;color:#1f64b8;font-weight:700;">Muli - Regular</b><b style="left:134px;top:110.0px;font-size:2.4px;color:#1f64b8;font-weight:700;">Muli - Regular Italic</b><b style="left:134px;top:113.4px;font-size:2.4px;color:#1f64b8;font-weight:700;">Muli - SemiBold</b><b style="left:134px;top:116.8px;font-size:2.4px;color:#1f64b8;font-weight:700;">Muli - SemiBold Italic</b><b style="left:134px;top:120.2px;font-size:2.4px;color:#1f64b8;font-weight:700;">Muli - Bold</b><b style="left:134px;top:123.6px;font-size:2.4px;color:#1f64b8;font-weight:700;">Muli - BoldItalic</b><b style="left:14.3px;top:127px;font-size:2.64px;color:#333;font-weight:400;">請到此下載標誌檔案：<span style="color:#1f5fa8;text-decoration:underline">下載標誌</span></b></div>
<div class="t" style="left:217.2px;top:2940.1px;background:#fff;"><i style="left:13.8px;top:8.3px;width:184px;height:1.5px;background:#a9bbd4;"></i><b style="left:13.8px;top:11.2px;font-size:2.1px;color:#0d3c80;font-weight:700;">3.9 視象標誌</b><b style="left:192px;top:11.2px;font-size:2.1px;color:#0d3c80;font-weight:700;">72</b><i style="left:13.8px;top:14.6px;width:184px;height:0.45px;background:#cfd8e4;"></i><i style="left:13.8px;top:134px;width:184px;height:0.7px;background:#cfd6df;"></i><b style="left:13.8px;top:137.2px;font-size:2.1px;color:#0d3c80;font-weight:700;">香港科技大學 <span style="color:#a8873d">品牌管理指引</span></b><b style="left:14px;top:25px;font-size:3.2px;color:#a8873d;font-weight:400;">英文 — 網上用途</b><b style="left:14px;top:30px;font-size:6.3px;color:#0d3c80;font-weight:700;">字體</b><b style="left:14px;top:47px;font-size:2.4px;color:#222;font-weight:400;">英文：Arial</b><b style="left:14px;top:53px;font-size:2.4px;color:#222;font-weight:400;">中文：微軟雅黑體 / 微軟正黑體</b><b style="left:88px;top:46px;font-size:7px;color:#1a1a1a;font-weight:400;">HELLO, I&#39;M <span style="color:#d7263d">ARIAL.</span></b><b style="left:88px;top:55px;font-size:2.6px;color:#222;font-weight:700;">香港科技大學網上文字體及簡報用字體。</b><b style="left:88px;top:63px;font-size:2.2px;color:#444;font-weight:400;">字型</b><b style="left:88px;top:67px;font-size:2.8px;color:#bbb;font-weight:400;">ABCDEFGHIJKLMNOPQRSTUVWXYZ</b><b style="left:88px;top:71px;font-size:2.8px;color:#bbb;font-weight:400;">abcdefghijklmnopqrstuvwxyz</b><b style="left:88px;top:75px;font-size:2.8px;color:#bbb;font-weight:400;">1234567890 !@#$%^&amp;*()_+-?</b><b style="left:88px;top:83px;font-size:2.2px;color:#444;font-weight:400;">字體系列</b><b style="left:88px;top:88px;font-size:2.4px;color:#1f64b8;font-weight:700;">Arial - Regular</b><b style="left:88px;top:92px;font-size:2.4px;color:#1f64b8;font-weight:700;">Arial - Bold</b><b style="left:134px;top:88px;font-size:2.4px;color:#1f64b8;font-weight:700;">Arial - Italic</b><b style="left:134px;top:92px;font-size:2.4px;color:#1f64b8;font-weight:700;">Arial - Bold Italic</b><b style="left:88px;top:102px;font-size:6px;color:#1a1a1a;font-weight:700;transform:scaleX(.82);transform-origin:0 0">你好! 我是<span style="color:#d7263d">微軟雅黑體 / 微軟正黑體</span>。</b><b style="left:88px;top:110px;font-size:2.6px;color:#222;font-weight:700;">香港科技大學網上用中文字體。</b></div>
<div class="t" style="left:434.4px;top:2940.1px;background:#0c3a7e;"><i style="left:0px;top:0px;width:64px;height:149.4px;background:repeating-linear-gradient(135deg,rgba(255,255,255,.22) 0 1.8px,#0c3a7e 1.8px 7px);"></i><i style="left:13.5px;top:8.2px;width:184.5px;height:1.2px;background:rgba(255,255,255,.75);"></i><b style="left:13.5px;top:11px;font-size:2.2px;color:#fff;font-weight:700;">3.10 視象標誌</b><b style="left:190px;top:11px;font-size:2.2px;color:#fff;font-weight:700;">76</b><i style="left:13.5px;top:134px;width:184.5px;height:0.7px;background:rgba(255,255,255,.55);"></i><b style="left:13.5px;top:137.2px;font-size:2.2px;color:#fff;font-weight:700;">香港科技大學 品牌管理指引</b><b style="left:47.19999999999999px;width:150px;text-align:right;top:56px;font-size:6.6px;color:#fff;font-weight:700">3.10 標準用色</b><p class="f" style="left:122px;top:65px;width:74px;height:3.4px;font-size:2.2px;line-height:3.4px;color:#fff;font-weight:700;text-align:right"></p><p class="f" style="left:122px;top:69.5px;width:74px;height:6.8px;font-size:2.2px;line-height:3.4px;color:#fff;font-weight:700;text-align:right"></p></div>
<div class="t" style="left:651.6px;top:2940.1px;background:#fff;"><i style="left:13.8px;top:8.3px;width:184px;height:1.5px;background:#a9bbd4;"></i><b style="left:13.8px;top:11.2px;font-size:2.1px;color:#0d3c80;font-weight:700;">3.10 視象標誌</b><b style="left:192px;top:11.2px;font-size:2.1px;color:#0d3c80;font-weight:700;">77</b><i style="left:13.8px;top:14.6px;width:184px;height:0.45px;background:#cfd8e4;"></i><i style="left:13.8px;top:134px;width:184px;height:0.7px;background:#cfd6df;"></i><b style="left:13.8px;top:137.2px;font-size:2.1px;color:#0d3c80;font-weight:700;">香港科技大學 <span style="color:#a8873d">品牌管理指引</span></b><b style="left:14px;top:24px;font-size:3.2px;color:#a8873d;font-weight:400;">大學標誌</b><b style="left:14px;top:29px;font-size:6.3px;color:#0d3c80;font-weight:700;">標準用色</b><b style="left:14px;top:47.0px;font-size:2.4px;color:#1f64b8;font-weight:700;">標準金色</b><p class="f" style="left:14px;top:51.0px;width:60px;height:6.6px;font-size:2.2px;line-height:3.3px;color:#222;font-weight:700;"></p><b style="left:14px;top:60.5px;font-size:2.4px;color:#1f64b8;font-weight:700;">標準金色</b><p class="f" style="left:14px;top:64.5px;width:60px;height:6.6px;font-size:2.2px;line-height:3.3px;color:#222;font-weight:700;"></p><b style="left:14px;top:74.0px;font-size:2.4px;color:#1f64b8;font-weight:700;">標準金色</b><p class="f" style="left:14px;top:78.0px;width:60px;height:6.6px;font-size:2.2px;line-height:3.3px;color:#222;font-weight:700;"></p><b style="left:14px;top:87.5px;font-size:2.4px;color:#1f64b8;font-weight:700;">標準金色</b><p class="f" style="left:14px;top:91.5px;width:60px;height:9.899999999999999px;font-size:2.2px;line-height:3.3px;color:#222;font-weight:700;"></p><i style="left:114px;top:50px;width:42px;height:8px;background:#b08a3e;clip-path:polygon(0 0,88% 0,100% 45%,100% 100%,0 100%)"></i><i style="left:114px;top:58px;width:42px;height:13px;background:#fff;box-shadow:0.5px 0.8px 1px rgba(0,0,0,.18)"></i><p class="f" style="left:116px;top:60px;width:28px;height:7.5px;font-size:1.8px;line-height:2.5px;color:#333;font-weight:700;"></p><i style="left:163px;top:50px;width:42px;height:8px;background:#c3a24a;clip-path:polygon(0 0,88% 0,100% 45%,100% 100%,0 100%)"></i><i style="left:163px;top:58px;width:42px;height:13px;background:#fff;box-shadow:0.5px 0.8px 1px rgba(0,0,0,.18)"></i><p class="f" style="left:165px;top:60px;width:28px;height:7.5px;font-size:1.8px;line-height:2.5px;color:#333;font-weight:700;"></p><i style="left:114px;top:76px;width:42px;height:8px;background:#1f3f80;clip-path:polygon(0 0,88% 0,100% 45%,100% 100%,0 100%)"></i><i style="left:114px;top:84px;width:42px;height:13px;background:#fff;box-shadow:0.5px 0.8px 1px rgba(0,0,0,.18)"></i><p class="f" style="left:116px;top:86px;width:28px;height:7.5px;font-size:1.8px;line-height:2.5px;color:#333;font-weight:700;"></p><i style="left:163px;top:76px;width:42px;height:8px;background:#b7bac0;clip-path:polygon(0 0,88% 0,100% 45%,100% 100%,0 100%)"></i><i style="left:163px;top:84px;width:42px;height:13px;background:#fff;box-shadow:0.5px 0.8px 1px rgba(0,0,0,.18)"></i><p class="f" style="left:165px;top:86px;width:28px;height:7.5px;font-size:1.8px;line-height:2.5px;color:#333;font-weight:700;"></p><p class="f" style="left:14px;top:104px;width:184px;height:13.2px;font-size:2.2px;line-height:3.3px;color:#222;font-weight:700;"></p></div>
<div class="t" style="left:868.8px;top:2940.1px;background:#fff;"><i style="left:13.8px;top:8.3px;width:184px;height:1.5px;background:#a9bbd4;"></i><b style="left:13.8px;top:11.2px;font-size:2.1px;color:#0d3c80;font-weight:700;">3.10 視象標誌</b><b style="left:192px;top:11.2px;font-size:2.1px;color:#0d3c80;font-weight:700;">75</b><i style="left:13.8px;top:14.6px;width:184px;height:0.45px;background:#cfd8e4;"></i><i style="left:13.8px;top:134px;width:184px;height:0.7px;background:#cfd6df;"></i><b style="left:13.8px;top:137.2px;font-size:2.1px;color:#0d3c80;font-weight:700;">香港科技大學 <span style="color:#a8873d">品牌管理指引</span></b><b style="left:14px;top:24px;font-size:6.3px;color:#0d3c80;font-weight:700;">強調顏色</b><p class="f" style="left:118px;top:22px;width:80px;height:6.8px;font-size:2.2px;line-height:3.4px;color:#222;font-weight:700;"></p><i style="left:15.0px;top:46px;width:37px;height:9px;background:#0d3d4d;clip-path:polygon(0 0,88% 0,100% 45%,100% 100%,0 100%)"></i><i style="left:15.0px;top:55px;width:37px;height:15px;background:#fff;box-shadow:0.5px 0.8px 1px rgba(0,0,0,.18)"></i><p class="f" style="left:17.0px;top:57px;width:28px;height:7.800000000000001px;font-size:1.8px;line-height:2.6px;color:#333;font-weight:700;"></p><i style="left:63.5px;top:46px;width:37px;height:9px;background:#1f74c8;clip-path:polygon(0 0,88% 0,100% 45%,100% 100%,0 100%)"></i><i style="left:63.5px;top:55px;width:37px;height:15px;background:#fff;box-shadow:0.5px 0.8px 1px rgba(0,0,0,.18)"></i><p class="f" style="left:65.5px;top:57px;width:28px;height:7.800000000000001px;font-size:1.8px;line-height:2.6px;color:#333;font-weight:700;"></p><i style="left:112.0px;top:46px;width:37px;height:9px;background:#2c5c9a;clip-path:polygon(0 0,88% 0,100% 45%,100% 100%,0 100%)"></i><i style="left:112.0px;top:55px;width:37px;height:15px;background:#fff;box-shadow:0.5px 0.8px 1px rgba(0,0,0,.18)"></i><p class="f" style="left:114.0px;top:57px;width:28px;height:7.800000000000001px;font-size:1.8px;line-height:2.6px;color:#333;font-weight:700;"></p><i style="left:160.5px;top:46px;width:37px;height:9px;background:#5bbde8;clip-path:polygon(0 0,88% 0,100% 45%,100% 100%,0 100%)"></i><i style="left:160.5px;top:55px;width:37px;height:15px;background:#fff;box-shadow:0.5px 0.8px 1px rgba(0,0,0,.18)"></i><p class="f" style="left:162.5px;top:57px;width:28px;height:7.800000000000001px;font-size:1.8px;line-height:2.6px;color:#333;font-weight:700;"></p><i style="left:15.0px;top:76px;width:37px;height:9px;background:#f5cf10;clip-path:polygon(0 0,88% 0,100% 45%,100% 100%,0 100%)"></i><i style="left:15.0px;top:85px;width:37px;height:15px;background:#fff;box-shadow:0.5px 0.8px 1px rgba(0,0,0,.18)"></i><p class="f" style="left:17.0px;top:87px;width:28px;height:7.800000000000001px;font-size:1.8px;line-height:2.6px;color:#333;font-weight:700;"></p><i style="left:63.5px;top:76px;width:37px;height:9px;background:#9fcb5a;clip-path:polygon(0 0,88% 0,100% 45%,100% 100%,0 100%)"></i><i style="left:63.5px;top:85px;width:37px;height:15px;background:#fff;box-shadow:0.5px 0.8px 1px rgba(0,0,0,.18)"></i><p class="f" style="left:65.5px;top:87px;width:28px;height:7.800000000000001px;font-size:1.8px;line-height:2.6px;color:#333;font-weight:700;"></p><i style="left:112.0px;top:76px;width:37px;height:9px;background:#17a77e;clip-path:polygon(0 0,88% 0,100% 45%,100% 100%,0 100%)"></i><i style="left:112.0px;top:85px;width:37px;height:15px;background:#fff;box-shadow:0.5px 0.8px 1px rgba(0,0,0,.18)"></i><p class="f" style="left:114.0px;top:87px;width:28px;height:7.800000000000001px;font-size:1.8px;line-height:2.6px;color:#333;font-weight:700;"></p><i style="left:160.5px;top:76px;width:37px;height:9px;background:#159a58;clip-path:polygon(0 0,88% 0,100% 45%,100% 100%,0 100%)"></i><i style="left:160.5px;top:85px;width:37px;height:15px;background:#fff;box-shadow:0.5px 0.8px 1px rgba(0,0,0,.18)"></i><p class="f" style="left:162.5px;top:87px;width:28px;height:7.800000000000001px;font-size:1.8px;line-height:2.6px;color:#333;font-weight:700;"></p><i style="left:15.0px;top:106px;width:37px;height:9px;background:#d7192f;clip-path:polygon(0 0,88% 0,100% 45%,100% 100%,0 100%)"></i><i style="left:15.0px;top:115px;width:37px;height:15px;background:#fff;box-shadow:0.5px 0.8px 1px rgba(0,0,0,.18)"></i><p class="f" style="left:17.0px;top:117px;width:28px;height:7.800000000000001px;font-size:1.8px;line-height:2.6px;color:#333;font-weight:700;"></p><i style="left:63.5px;top:106px;width:37px;height:9px;background:#7b1c3e;clip-path:polygon(0 0,88% 0,100% 45%,100% 100%,0 100%)"></i><i style="left:63.5px;top:115px;width:37px;height:15px;background:#fff;box-shadow:0.5px 0.8px 1px rgba(0,0,0,.18)"></i><p class="f" style="left:65.5px;top:117px;width:28px;height:7.800000000000001px;font-size:1.8px;line-height:2.6px;color:#333;font-weight:700;"></p><i style="left:112.0px;top:106px;width:37px;height:9px;background:#f29e1f;clip-path:polygon(0 0,88% 0,100% 45%,100% 100%,0 100%)"></i><i style="left:112.0px;top:115px;width:37px;height:15px;background:#fff;box-shadow:0.5px 0.8px 1px rgba(0,0,0,.18)"></i><p class="f" style="left:114.0px;top:117px;width:28px;height:7.800000000000001px;font-size:1.8px;line-height:2.6px;color:#333;font-weight:700;"></p><i style="left:160.5px;top:106px;width:37px;height:9px;background:#9a9a9a;clip-path:polygon(0 0,88% 0,100% 45%,100% 100%,0 100%)"></i><i style="left:160.5px;top:115px;width:37px;height:15px;background:#fff;box-shadow:0.5px 0.8px 1px rgba(0,0,0,.18)"></i><p class="f" style="left:162.5px;top:117px;width:28px;height:7.800000000000001px;font-size:1.8px;line-height:2.6px;color:#333;font-weight:700;"></p></div>
<div class="t" style="left:0.0px;top:3095.6px;background:#fff;"><i style="left:0px;top:0px;width:64px;height:149.4px;background:repeating-linear-gradient(135deg,#e8eef6 0 2.8px,#fafbfd 2.8px 6.7px);"></i><i style="left:13.8px;top:8.3px;width:184px;height:1.5px;background:#a9bbd4;"></i><b style="left:13.8px;top:11.2px;font-size:2.1px;color:#0d3c80;font-weight:700;">3.10 視象標誌</b><b style="left:192px;top:11.2px;font-size:2.1px;color:#0d3c80;font-weight:700;">73</b><i style="left:13.8px;top:14.6px;width:184px;height:0.45px;background:#cfd8e4;"></i><i style="left:13.8px;top:134px;width:184px;height:0.7px;background:#cfd6df;"></i><b style="left:13.8px;top:137.2px;font-size:2.1px;color:#0d3c80;font-weight:700;">香港科技大學 <span style="color:#a8873d">品牌管理指引</span></b><b style="left:14px;top:43px;font-size:3px;color:#a8873d;font-weight:400;">大學標誌</b><b style="left:14px;top:48px;font-size:6.3px;color:#0d3c80;font-weight:700;">顏色規格</b><p class="f" style="left:14px;top:60px;width:48px;height:10.2px;font-size:2.2px;line-height:3.4px;color:#0d3c80;font-weight:700;"></p><b style="left:80px;top:30px;font-size:2.2px;color:#222;font-weight:700;">香港/倫敦標誌</b><b style="left:80px;top:34px;font-size:2.2px;color:#222;font-weight:400;">第一版本</b><b style="left:80px;top:64px;font-size:2.2px;color:#222;font-weight:700;">香港/倫敦標誌</b><b style="left:80px;top:68px;font-size:2.2px;color:#222;font-weight:400;">第二版本</b><b style="left:80px;top:99px;font-size:2.2px;color:#222;font-weight:700;">香港/倫敦標誌</b><b style="left:80px;top:103px;font-size:2.2px;color:#222;font-weight:400;">第三版本</b><svg style="left:120.0px;top:33px" width="8.34" height="13" viewBox="62 115 420 655"><circle cx="272" cy="207" r="93" fill="#a8873d"/><polygon fill="#0d3c80" points="62,358 100,318 235,318 272,338 310,318 445,318 482,358 310,358 272,385 235,358"/><g fill="none" stroke="#0d3c80" stroke-width="34"><path d="M96,378 V590 Q96,670 175,722"/><path d="M149,378 V580 Q149,635 200,668"/><path d="M448,378 V590 Q448,670 369,722"/><path d="M395,378 V580 Q395,635 344,668"/></g><polygon fill="#a8873d" points="232,398 311,398 311,618 392,770 152,770 232,618"/><polygon fill="#fff" points="251,398 292,398 292,628 345,735 199,735 251,628"/></svg><i style="left:124.0px;top:50px;width:1.5px;height:1.5px;background:#222;"></i><svg style="left:135.5px;top:33px" width="8.34" height="13" viewBox="62 115 420 655"><circle cx="272" cy="207" r="93" fill="#a8873d"/><polygon fill="#0d3c80" points="62,358 100,318 235,318 272,338 310,318 445,318 482,358 310,358 272,385 235,358"/><g fill="none" stroke="#0d3c80" stroke-width="34"><path d="M96,378 V590 Q96,670 175,722"/><path d="M149,378 V580 Q149,635 200,668"/><path d="M448,378 V590 Q448,670 369,722"/><path d="M395,378 V580 Q395,635 344,668"/></g><polygon fill="#a8873d" points="232,398 311,398 311,618 392,770 152,770 232,618"/><polygon fill="#fff" points="251,398 292,398 292,628 345,735 199,735 251,628"/></svg><i style="left:139.5px;top:50px;width:1.5px;height:1.5px;background:#222;"></i><svg style="left:151.0px;top:33px" width="8.34" height="13" viewBox="62 115 420 655"><circle cx="272" cy="207" r="93" fill="#0d3c80"/><polygon fill="#0d3c80" points="62,358 100,318 235,318 272,338 310,318 445,318 482,358 310,358 272,385 235,358"/><g fill="none" stroke="#0d3c80" stroke-width="34"><path d="M96,378 V590 Q96,670 175,722"/><path d="M149,378 V580 Q149,635 200,668"/><path d="M448,378 V590 Q448,670 369,722"/><path d="M395,378 V580 Q395,635 344,668"/></g><polygon fill="#0d3c80" points="232,398 311,398 311,618 392,770 152,770 232,618"/><polygon fill="#fff" points="251,398 292,398 292,628 345,735 199,735 251,628"/></svg><i style="left:155.0px;top:50px;width:1.5px;height:1.5px;background:#222;"></i><svg style="left:166.5px;top:33px" width="8.34" height="13" viewBox="62 115 420 655"><circle cx="272" cy="207" r="93" fill="#aaa"/><polygon fill="#aaa" points="62,358 100,318 235,318 272,338 310,318 445,318 482,358 310,358 272,385 235,358"/><g fill="none" stroke="#aaa" stroke-width="34"><path d="M96,378 V590 Q96,670 175,722"/><path d="M149,378 V580 Q149,635 200,668"/><path d="M448,378 V590 Q448,670 369,722"/><path d="M395,378 V580 Q395,635 344,668"/></g><polygon fill="#aaa" points="232,398 311,398 311,618 392,770 152,770 232,618"/><polygon fill="#fff" points="251,398 292,398 292,628 345,735 199,735 251,628"/></svg><i style="left:170.5px;top:50px;width:1.5px;height:1.5px;background:#222;"></i><svg style="left:182.0px;top:33px" width="8.34" height="13" viewBox="62 115 420 655"><circle cx="272" cy="207" r="93" fill="#a8873d"/><polygon fill="#0d3c80" points="62,358 100,318 235,318 272,338 310,318 445,318 482,358 310,358 272,385 235,358"/><g fill="none" stroke="#0d3c80" stroke-width="34"><path d="M96,378 V590 Q96,670 175,722"/><path d="M149,378 V580 Q149,635 200,668"/><path d="M448,378 V590 Q448,670 369,722"/><path d="M395,378 V580 Q395,635 344,668"/></g><polygon fill="#a8873d" points="232,398 311,398 311,618 392,770 152,770 232,618"/><polygon fill="#fff" points="251,398 292,398 292,628 345,735 199,735 251,628"/></svg><i style="left:186.0px;top:50px;width:1.5px;height:1.5px;background:#222;"></i><i style="left:120px;top:63px;width:76px;height:16px;background:#c9c9c9;"></i><svg style="left:142px;top:64.5px" width="8.34" height="13" viewBox="62 115 420 655"><circle cx="272" cy="207" r="93" fill="#0d3c80"/><polygon fill="#0d3c80" points="62,358 100,318 235,318 272,338 310,318 445,318 482,358 310,358 272,385 235,358"/><g fill="none" stroke="#0d3c80" stroke-width="34"><path d="M96,378 V590 Q96,670 175,722"/><path d="M149,378 V580 Q149,635 200,668"/><path d="M448,378 V590 Q448,670 369,722"/><path d="M395,378 V580 Q395,635 344,668"/></g><polygon fill="#0d3c80" points="232,398 311,398 311,618 392,770 152,770 232,618"/><polygon fill="#c9c9c9" points="251,398 292,398 292,628 345,735 199,735 251,628"/></svg><svg style="left:167px;top:64.5px" width="8.34" height="13" viewBox="62 115 420 655"><circle cx="272" cy="207" r="93" fill="#222"/><polygon fill="#222" points="62,358 100,318 235,318 272,338 310,318 445,318 482,358 310,358 272,385 235,358"/><g fill="none" stroke="#222" stroke-width="34"><path d="M96,378 V590 Q96,670 175,722"/><path d="M149,378 V580 Q149,635 200,668"/><path d="M448,378 V590 Q448,670 369,722"/><path d="M395,378 V580 Q395,635 344,668"/></g><polygon fill="#222" points="232,398 311,398 311,618 392,770 152,770 232,618"/><polygon fill="#c9c9c9" points="251,398 292,398 292,628 345,735 199,735 251,628"/></svg><i style="left:146px;top:83px;width:1.5px;height:1.5px;background:#222;"></i><i style="left:171px;top:83px;width:1.5px;height:1.5px;background:#222;"></i><i style="left:120px;top:96px;width:76px;height:17px;background:#0b0b0b;"></i><svg style="left:126px;top:98px" width="8.34" height="13" viewBox="62 115 420 655"><circle cx="272" cy="207" r="93" fill="#c9a34a"/><polygon fill="#fff" points="62,358 100,318 235,318 272,338 310,318 445,318 482,358 310,358 272,385 235,358"/><g fill="none" stroke="#fff" stroke-width="34"><path d="M96,378 V590 Q96,670 175,722"/><path d="M149,378 V580 Q149,635 200,668"/><path d="M448,378 V590 Q448,670 369,722"/><path d="M395,378 V580 Q395,635 344,668"/></g><polygon fill="#c9a34a" points="232,398 311,398 311,618 392,770 152,770 232,618"/><polygon fill="#0b0b0b" points="251,398 292,398 292,628 345,735 199,735 251,628"/></svg><svg style="left:142px;top:98px" width="8.34" height="13" viewBox="62 115 420 655"><circle cx="272" cy="207" r="93" fill="#fff"/><polygon fill="#fff" points="62,358 100,318 235,318 272,338 310,318 445,318 482,358 310,358 272,385 235,358"/><g fill="none" stroke="#fff" stroke-width="34"><path d="M96,378 V590 Q96,670 175,722"/><path d="M149,378 V580 Q149,635 200,668"/><path d="M448,378 V590 Q448,670 369,722"/><path d="M395,378 V580 Q395,635 344,668"/></g><polygon fill="#fff" points="232,398 311,398 311,618 392,770 152,770 232,618"/><polygon fill="#0b0b0b" points="251,398 292,398 292,628 345,735 199,735 251,628"/></svg><svg style="left:167px;top:98px" width="8.34" height="13" viewBox="62 115 420 655"><circle cx="272" cy="207" r="93" fill="#aaa"/><polygon fill="#aaa" points="62,358 100,318 235,318 272,338 310,318 445,318 482,358 310,358 272,385 235,358"/><g fill="none" stroke="#aaa" stroke-width="34"><path d="M96,378 V590 Q96,670 175,722"/><path d="M149,378 V580 Q149,635 200,668"/><path d="M448,378 V590 Q448,670 369,722"/><path d="M395,378 V580 Q395,635 344,668"/></g><polygon fill="#aaa" points="232,398 311,398 311,618 392,770 152,770 232,618"/><polygon fill="#0b0b0b" points="251,398 292,398 292,628 345,735 199,735 251,628"/></svg><i style="left:131px;top:117px;width:1.5px;height:1.5px;background:#222;"></i><i style="left:146px;top:117px;width:1.5px;height:1.5px;background:#222;"></i><i style="left:171px;top:117px;width:1.5px;height:1.5px;background:#222;"></i></div>
<div class="t" style="left:217.2px;top:3095.6px;background:#0c3a7e;"><i style="left:0px;top:0px;width:64px;height:149.4px;background:repeating-linear-gradient(135deg,rgba(255,255,255,.22) 0 1.8px,#0c3a7e 1.8px 7px);"></i><i style="left:13.5px;top:8.2px;width:184.5px;height:1.2px;background:rgba(255,255,255,.75);"></i><b style="left:13.5px;top:11px;font-size:2.2px;color:#fff;font-weight:700;">3.11 視象標誌</b><b style="left:190px;top:11px;font-size:2.2px;color:#fff;font-weight:700;">74</b><i style="left:13.5px;top:134px;width:184.5px;height:0.7px;background:rgba(255,255,255,.55);"></i><b style="left:13.5px;top:137.2px;font-size:2.2px;color:#fff;font-weight:700;">香港科技大學 品牌管理指引</b><b style="left:47.19999999999999px;width:150px;text-align:right;top:58px;font-size:6.6px;color:#fff;font-weight:700">3.11 大學合作標誌</b><p class="f" style="left:120px;top:67px;width:76px;height:3.4px;font-size:2.2px;line-height:3.4px;color:#fff;font-weight:700;text-align:right"></p><p class="f" style="left:120px;top:72px;width:76px;height:6.8px;font-size:2.2px;line-height:3.4px;color:#fff;font-weight:700;text-align:right"></p></div>
<div class="t" style="left:434.4px;top:3095.6px;background:#fff;"><i style="left:13.8px;top:8.3px;width:184px;height:1.5px;background:#a9bbd4;"></i><b style="left:13.8px;top:11.2px;font-size:2.1px;color:#0d3c80;font-weight:700;">3.11 視象標誌</b><b style="left:192px;top:11.2px;font-size:2.1px;color:#0d3c80;font-weight:700;">78</b><i style="left:13.8px;top:14.6px;width:184px;height:0.45px;background:#cfd8e4;"></i><i style="left:13.8px;top:134px;width:184px;height:0.7px;background:#cfd6df;"></i><b style="left:13.8px;top:137.2px;font-size:2.1px;color:#0d3c80;font-weight:700;">香港科技大學 <span style="color:#a8873d">品牌管理指引</span></b><b style="left:14px;top:23px;font-size:6.3px;color:#0d3c80;font-weight:700;">大學合作標誌</b><p class="f" style="left:14px;top:45px;width:60px;height:6.8px;font-size:2.2px;line-height:3.4px;color:#222;font-weight:700;"></p><p class="f" style="left:14px;top:56px;width:60px;height:13.6px;font-size:2.2px;line-height:3.4px;color:#222;font-weight:700;"></p><p class="f" style="left:14px;top:72px;width:60px;height:13.6px;font-size:2.2px;line-height:3.4px;color:#222;font-weight:700;"></p><p class="f" style="left:14px;top:88px;width:60px;height:3.4px;font-size:2.2px;line-height:3.4px;color:#222;font-weight:700;"></p><b style="left:92px;top:44px;font-size:2.2px;color:#222;font-weight:700;">橫向</b><svg style="left:92px;top:52px" width="8.98" height="14" viewBox="62 115 420 655"><circle cx="272" cy="207" r="93" fill="#a8873d"/><polygon fill="#0d3c80" points="62,358 100,318 235,318 272,338 310,318 445,318 482,358 310,358 272,385 235,358"/><g fill="none" stroke="#0d3c80" stroke-width="34"><path d="M96,378 V590 Q96,670 175,722"/><path d="M149,378 V580 Q149,635 200,668"/><path d="M448,378 V590 Q448,670 369,722"/><path d="M395,378 V580 Q395,635 344,668"/></g><polygon fill="#a8873d" points="232,398 311,398 311,618 392,770 152,770 232,618"/><polygon fill="#fff" points="251,398 292,398 292,628 345,735 199,735 251,628"/></svg><b style="left:102.64px;top:51.72px;font-size:3.5px;line-height:3.5px;color:#0d3c80;font-weight:700;letter-spacing:0.9800000000000001px">香港科技大學</b><b style="left:102.64px;top:56.2px;font-size:3.192px;line-height:3.584px;color:#0d3c80;font-weight:700;transform:scaleX(0.86);transform-origin:0 0;letter-spacing:0px">THE HONG KONG<br>UNIVERSITY OF SCIENCE<br>AND TECHNOLOGY</b><b style="left:146px;top:51px;font-size:13.5px;color:#e62b1e;font-weight:700;letter-spacing:-.5px">TED</b><i style="left:143px;top:53px;width:0.3px;height:14px;background:#999;"></i><b style="left:92px;top:82px;font-size:2.2px;color:#222;font-weight:700;">直向1</b><svg style="left:92px;top:90px" width="8.98" height="14" viewBox="62 115 420 655"><circle cx="272" cy="207" r="93" fill="#a8873d"/><polygon fill="#0d3c80" points="62,358 100,318 235,318 272,338 310,318 445,318 482,358 310,358 272,385 235,358"/><g fill="none" stroke="#0d3c80" stroke-width="34"><path d="M96,378 V590 Q96,670 175,722"/><path d="M149,378 V580 Q149,635 200,668"/><path d="M448,378 V590 Q448,670 369,722"/><path d="M395,378 V580 Q395,635 344,668"/></g><polygon fill="#a8873d" points="232,398 311,398 311,618 392,770 152,770 232,618"/><polygon fill="#fff" points="251,398 292,398 292,628 345,735 199,735 251,628"/></svg><b style="left:102.64px;top:89.72px;font-size:3.5px;line-height:3.5px;color:#0d3c80;font-weight:700;letter-spacing:0.9800000000000001px">香港科技大學</b><b style="left:102.64px;top:94.2px;font-size:3.192px;line-height:3.584px;color:#0d3c80;font-weight:700;transform:scaleX(0.86);transform-origin:0 0;letter-spacing:0px">THE HONG KONG<br>UNIVERSITY OF SCIENCE<br>AND TECHNOLOGY</b><b style="left:146px;top:89px;font-size:13.5px;color:#e62b1e;font-weight:700;letter-spacing:-.5px">TED</b></div>
<div class="t" style="left:651.6px;top:3095.6px;background:#fff;"><i style="left:13.8px;top:8.3px;width:184px;height:1.5px;background:#a9bbd4;"></i><b style="left:13.8px;top:11.2px;font-size:2.1px;color:#0d3c80;font-weight:700;">3.11 視象標誌</b><b style="left:192px;top:11.2px;font-size:2.1px;color:#0d3c80;font-weight:700;">79</b><i style="left:13.8px;top:14.6px;width:184px;height:0.45px;background:#cfd8e4;"></i><i style="left:13.8px;top:134px;width:184px;height:0.7px;background:#cfd6df;"></i><b style="left:13.8px;top:137.2px;font-size:2.1px;color:#0d3c80;font-weight:700;">香港科技大學 <span style="color:#a8873d">品牌管理指引</span></b><b style="left:14px;top:23px;font-size:6.3px;color:#0d3c80;font-weight:700;">大學合作標誌</b><p class="f" style="left:14px;top:44px;width:60px;height:6.8px;font-size:2.2px;line-height:3.4px;color:#222;font-weight:700;"></p><p class="f" style="left:14px;top:54px;width:60px;height:13.6px;font-size:2.2px;line-height:3.4px;color:#222;font-weight:700;"></p><p class="f" style="left:14px;top:70px;width:60px;height:3.4px;font-size:2.2px;line-height:3.4px;color:#222;font-weight:700;"></p><b style="left:95px;top:36px;font-size:2.2px;color:#1f64b8;font-weight:700;">原版</b><b style="left:102px;top:46px;font-size:6px;color:#222;font-weight:700;font-family:"Liberation Serif",serif;letter-spacing:0.84px">HKUST <span style="font-weight:400">×</span> MINERVA</b><b style="left:117.6px;top:53.5px;font-size:2.7px;color:#222;font-weight:400;letter-spacing:.3px">SCHOLARS PROGRAM</b><b style="left:95px;top:68px;font-size:2.2px;color:#1f64b8;font-weight:700;">變化版本</b><b style="left:102px;top:78px;font-size:6px;color:#222;font-weight:700;font-family:"Liberation Serif",serif;letter-spacing:0.84px">HKUST <span style="font-weight:400">×</span> MINERVA</b><b style="left:117.6px;top:85.5px;font-size:2.7px;color:#222;font-weight:400;letter-spacing:.3px">SCHOLARS PROGRAM</b><i style="left:98px;top:97px;width:80px;height:19px;background:#1b2a5a;"></i><b style="left:103px;top:101px;font-size:6px;color:#fff;font-weight:700;font-family:"Liberation Serif",serif;letter-spacing:0.84px">HKUST <span style="font-weight:400">×</span> MINERVA</b><b style="left:118.6px;top:108.5px;font-size:2.7px;color:#fff;font-weight:400;letter-spacing:.3px">SCHOLARS PROGRAM</b></div>
<div class="t" style="left:868.8px;top:3095.6px;background:#0c3a7e;"><svg style="left:0;top:0;opacity:1.0" width="211.2" height="149.4" viewBox="0 0 211.2 149.4"><defs><filter id="jb" x="-20%" y="-20%" width="140%" height="140%"><feGaussianBlur stdDeviation="2.5"/></filter></defs><path d="M0,78.0 C20,82.0 40,110.0 64,107.0 C88,103.0 108,72.0 121,40.0 C130,24.0 152,26.0 168,37.0 C184,48.0 198,58.0 212,63.0" fill="none" stroke="#39b8e8" stroke-width="12" stroke-opacity=".28" filter="url(#jb)"/><path d="M121,36.0 C126,58.0 136,84.0 148,90.0 C158,84.0 164,62.0 170,42.0" fill="none" stroke="#39b8e8" stroke-width="10" stroke-opacity=".18" filter="url(#jb)"/><g fill="none" stroke="#6fd8f6" stroke-width="0.5" stroke-opacity="0.75" stroke-dasharray="0.7 0.8"><path d="M0,69.2 C20,71.4 40,104.7 64,100.8 C88,94.2 108,62.3 121,33.0 C130,19.6 152,21.6 168,29.1 C184,37.4 198,43.9 212,47.2 M0,70.3 C20,72.8 40,105.4 64,101.6 C88,95.3 108,63.5 121,33.8 C130,20.1 152,22.1 168,30.1 C184,38.8 198,45.7 212,49.1 M0,71.4 C20,74.1 40,106.0 64,102.4 C88,96.4 108,64.7 121,34.7 C130,20.7 152,22.7 168,31.1 C184,40.1 198,47.4 212,51.1 M0,72.5 C20,75.4 40,106.7 64,103.2 C88,97.5 108,66.0 121,35.6 C130,21.2 152,23.2 168,32.0 C184,41.4 198,49.2 212,53.1 M0,73.6 C20,76.7 40,107.4 64,103.9 C88,98.6 108,67.2 121,36.5 C130,21.8 152,23.8 168,33.0 C184,42.7 198,51.0 212,55.1 M0,74.7 C20,78.0 40,108.0 64,104.7 C88,99.7 108,68.4 121,37.4 C130,22.4 152,24.4 168,34.0 C184,44.0 198,52.7 212,57.1 M0,75.8 C20,79.4 40,108.7 64,105.5 C88,100.8 108,69.6 121,38.2 C130,22.9 152,24.9 168,35.0 C184,45.4 198,54.5 212,59.0 M0,76.9 C20,80.7 40,109.3 64,106.2 C88,101.9 108,70.8 121,39.1 C130,23.4 152,25.4 168,36.0 C184,46.7 198,56.2 212,61.0 M0,78.0 C20,82.0 40,110.0 64,107.0 C88,103.0 108,72.0 121,40.0 C130,24.0 152,26.0 168,37.0 C184,48.0 198,58.0 212,63.0 M0,79.1 C20,83.3 40,110.7 64,107.8 C88,104.1 108,73.2 121,40.9 C130,24.6 152,26.6 168,38.0 C184,49.3 198,59.8 212,65.0 M0,80.2 C20,84.6 40,111.3 64,108.5 C88,105.2 108,74.4 121,41.8 C130,25.1 152,27.1 168,39.0 C184,50.6 198,61.5 212,67.0 M0,81.3 C20,86.0 40,112.0 64,109.3 C88,106.3 108,75.6 121,42.6 C130,25.6 152,27.6 168,40.0 C184,52.0 198,63.3 212,68.9 M0,82.4 C20,87.3 40,112.6 64,110.1 C88,107.4 108,76.8 121,43.5 C130,26.2 152,28.2 168,41.0 C184,53.3 198,65.0 212,70.9 M0,83.5 C20,88.6 40,113.3 64,110.8 C88,108.5 108,78.0 121,44.4 C130,26.8 152,28.8 168,42.0 C184,54.6 198,66.8 212,72.9 M0,84.6 C20,89.9 40,114.0 64,111.6 C88,109.6 108,79.3 121,45.3 C130,27.3 152,29.3 168,42.9 C184,55.9 198,68.6 212,74.9 M0,85.7 C20,91.2 40,114.6 64,112.4 C88,110.7 108,80.5 121,46.2 C130,27.9 152,29.9 168,43.9 C184,57.2 198,70.3 212,76.9 M0,86.8 C20,92.6 40,115.3 64,113.2 C88,111.8 108,81.7 121,47.0 C130,28.4 152,30.4 168,44.9 C184,58.6 198,72.1 212,78.8"/></g><g fill="none" stroke="#5cc4ee" stroke-width="0.45" stroke-opacity="0.6" stroke-dasharray="0.7 0.9"><path d="M121,33.1 C126,48.4 136,76.3 148,86.2 C158,74.4 164,54.3 170,37.2 M121,33.6 C126,50.0 136,77.6 148,86.8 C158,76.0 164,55.6 170,38.0 M121,34.1 C126,51.6 136,78.9 148,87.4 C158,77.6 164,56.9 170,38.8 M121,34.6 C126,53.2 136,80.2 148,88.1 C158,79.2 164,58.2 170,39.6 M121,35.0 C126,54.8 136,81.4 148,88.7 C158,80.8 164,59.4 170,40.4 M121,35.5 C126,56.4 136,82.7 148,89.4 C158,82.4 164,60.7 170,41.2 M121,36.0 C126,58.0 136,84.0 148,90.0 C158,84.0 164,62.0 170,42.0 M121,36.5 C126,59.6 136,85.3 148,90.6 C158,85.6 164,63.3 170,42.8 M121,37.0 C126,61.2 136,86.6 148,91.3 C158,87.2 164,64.6 170,43.6 M121,37.4 C126,62.8 136,87.8 148,91.9 C158,88.8 164,65.8 170,44.4 M121,37.9 C126,64.4 136,89.1 148,92.6 C158,90.4 164,67.1 170,45.2 M121,38.4 C126,66.0 136,90.4 148,93.2 C158,92.0 164,68.4 170,46.0"/></g><g fill="none" stroke="#4aa8e0" stroke-width="0.35" stroke-opacity="0.3"><path d="M30,88.5 C60,110.5 110,112.0 150,95.0 C170,88.5 190,82.5 212,78.5 M30,90.0 C60,112.0 110,113.2 150,96.8 C170,90.0 190,84.0 212,80.0 M30,91.5 C60,113.5 110,114.4 150,98.6 C170,91.5 190,85.5 212,81.5 M30,93.0 C60,115.0 110,115.6 150,100.4 C170,93.0 190,87.0 212,83.0 M30,94.5 C60,116.5 110,116.8 150,102.2 C170,94.5 190,88.5 212,84.5 M30,96.0 C60,118.0 110,118.0 150,104.0 C170,96.0 190,90.0 212,86.0 M30,97.5 C60,119.5 110,119.2 150,105.8 C170,97.5 190,91.5 212,87.5 M30,99.0 C60,121.0 110,120.4 150,107.6 C170,99.0 190,93.0 212,89.0 M30,100.5 C60,122.5 110,121.6 150,109.4 C170,100.5 190,94.5 212,90.5 M30,102.0 C60,124.0 110,122.8 150,111.2 C170,102.0 190,96.0 212,92.0"/></g><ellipse cx="196" cy="68" rx="14" ry="8" fill="#8a7ae0" opacity=".25" filter="url(#jb)"/></svg><b style="left:14.5px;top:49px;font-size:6.8px;color:#fff;font-weight:400;">04 視覺元素</b><p class="f" style="left:14.5px;top:58px;width:80px;height:6.8px;font-size:2.3px;line-height:3.4px;color:#fff;font-weight:700;"></p><b style="left:13.8px;top:137.2px;font-size:2.1px;color:#fff;font-weight:700;">香港科技大學 品牌管理指引</b></div>
<div class="t" style="left:0.0px;top:3251.0px;background:#333;"><i style="left:0px;top:0px;width:211.2px;height:149.4px;background:radial-gradient(ellipse 25% 22% at 14% 8%,#fffef4,rgba(255,254,244,0)),linear-gradient(180deg,#ece8dc 0%,#dedad0 30%,#c4c6c6 55%,#8a8e90 75%,#3a3e42 82%,#2c3034 100%);"></i><svg style="left:0;top:0" width="211.2" height="149.4" viewBox="0 0 211.2 149.4"><rect x="4" y="58" width="46" height="42" fill="#6a7074"/><rect x="6" y="60" width="20" height="38" fill="#8a9094"/><rect x="28" y="60" width="20" height="38" fill="#7a8084"/><rect x="185" y="60" width="26" height="60" fill="#e8e8e6"/><g stroke="#aaa" stroke-width=".6"><path d="M185,75 H211 M185,90 H211 M185,105 H211"/></g><path d="M28,118 Q34,86 60,80 L96,80 Q112,88 114,118Z" fill="#27354f"/><ellipse cx="78" cy="68" rx="10" ry="12" fill="#c09070"/><path d="M68,62 Q72,50 84,52 Q90,56 88,62 Q80,56 68,62Z" fill="#3a2a1a"/><path d="M70,74 Q78,84 86,74 L86,80 Q78,88 70,80Z" fill="#4a3424"/><path d="M104,114 Q106,80 122,74 L150,76 Q166,86 170,110Z" fill="#c4c8cc"/><ellipse cx="116" cy="60" rx="9" ry="11" fill="#c89a7a"/><path d="M102,54 Q108,38 124,42 Q132,48 128,56 Q118,46 104,60Z" fill="#2a2018"/><path d="M112,112 L170,104 L174,116 L116,122Z" fill="#2a3a60"/><path d="M70,108 L92,100 L96,106 L74,114Z" fill="#2a2a2a"/><g stroke="#141414" fill="none"><path d="M150,38 L211,4 M150,38 L92,26 M150,38 L180,12 M160,30 L200,0" stroke-width="3"/><path d="M140,48 L116,124 M180,58 L211,110" stroke-width="2.5"/><path d="M92,120 L130,134" stroke-width="2"/></g><rect x="138" y="28" width="36" height="20" fill="#1a1a1a"/><path d="M150,34 L168,46" stroke="#c83a2a" stroke-width="1"/><path d="M48,4 L70,0 L80,8Z" fill="#2a2a2a"/><path d="M78,28 L96,38 L88,40Z" fill="#6a4a2a"/><rect x="0" y="116" width="211.2" height="33.4" fill="#2e3236"/><rect x="30" y="114" width="70" height="4" fill="#d8d8d4"/><rect x="0" y="100" width="30" height="20" fill="#3a3e40"/></svg><b style="left:14px;top:28px;font-size:6.3px;color:#0d3c80;font-weight:700;">如何以攝影演繹</b><b style="left:14px;top:36px;font-size:6.3px;color:#0d3c80;font-weight:700;">我們的品牌基因？</b><b style="left:13.8px;top:137.2px;font-size:2.1px;color:#fff;font-weight:700;">香港科技大學 品牌管理指引</b></div>
<div class="t" style="left:217.2px;top:3251.0px;background:#fff;"><i style="left:0px;top:0px;width:78px;height:149.4px;background:repeating-linear-gradient(135deg,#e8eef6 0 2.8px,#fafbfd 2.8px 6.7px);"></i><i style="left:13.8px;top:8.3px;width:184px;height:1.5px;background:#a9bbd4;"></i><b style="left:13.8px;top:11.2px;font-size:2.1px;color:#0d3c80;font-weight:700;">4.1 視覺元素</b><b style="left:192px;top:11.2px;font-size:2.1px;color:#0d3c80;font-weight:700;">81</b><i style="left:13.8px;top:14.6px;width:184px;height:0.45px;background:#cfd8e4;"></i><i style="left:13.8px;top:134px;width:184px;height:0.7px;background:#cfd6df;"></i><b style="left:13.8px;top:137.2px;font-size:2.1px;color:#0d3c80;font-weight:700;">香港科技大學 <span style="color:#a8873d">品牌管理指引</span></b><b style="left:26px;top:56px;font-size:6.3px;color:#0d3c80;font-weight:700;">4.1 攝影 –</b><b style="left:40px;top:64px;font-size:6.3px;color:#0d3c80;font-weight:700;">風格體現</b><b style="left:80px;top:20px;font-size:2.2px;color:#d7263d;font-weight:700;">創新</b><p class="f" style="left:80px;top:24px;width:50px;height:6.4px;font-size:2.1px;line-height:3.2px;color:#222;font-weight:700;"></p><b style="left:136px;top:20px;font-size:2.2px;color:#f29a1c;font-weight:700;">勇於</b><p class="f" style="left:136px;top:24px;width:50px;height:6.4px;font-size:2.1px;line-height:3.2px;color:#222;font-weight:700;"></p><svg style="left:80px;top:32px" width="55" height="33" viewBox="0 0 55 33" preserveAspectRatio="none"><defs><linearGradient id="phg3_80_32" x1="0" y1="0" x2="0" y2="1"><stop offset="0" stop-color="#e8ecef"/><stop offset="1" stop-color="#5a7040"/></linearGradient></defs><rect width="55" height="33" fill="url(#phg3_80_32)"/><rect x="21.2" y="4.0" width="22.7" height="12.2" fill="#8aa860" opacity=".8"/><rect x="-4.9" y="24.4" width="11.2" height="8.7" fill="#c8a080" opacity=".8"/><ellipse cx="29.8" cy="21.1" rx="6.8" ry="8.9" fill="#3a3030" opacity=".85"/><ellipse cx="47.7" cy="20.4" rx="9.8" ry="7.5" fill="#8aa860" opacity=".85"/><rect x="-8.2" y="22.6" width="21.1" height="9.2" fill="#c8a080" opacity=".8"/><ellipse cx="39.3" cy="30.9" rx="6.8" ry="8.5" fill="#3a3030" opacity=".85"/><rect x="43.8" y="5.0" width="9.0" height="8.4" fill="#8aa860" opacity=".8"/><rect x="35.8" y="20.5" width="14.0" height="17.4" fill="#3a3030" opacity=".8"/><rect x="20.9" y="14.4" width="22.5" height="15.2" fill="#c8a080" opacity=".8"/><rect x="49.8" y="15.4" width="9.5" height="17.8" fill="#b0402a" opacity=".8"/><rect x="26.1" y="16.8" width="10.3" height="17.4" fill="#c8a080" opacity=".8"/><ellipse cx="6.8" cy="19.3" rx="8.9" ry="6.2" fill="#b0402a" opacity=".85"/></svg><svg style="left:137px;top:32px" width="55" height="33" viewBox="0 0 55 33" preserveAspectRatio="none"><defs><linearGradient id="phg4_137_32" x1="0" y1="0" x2="0" y2="1"><stop offset="0" stop-color="#6a7078"/><stop offset="1" stop-color="#8a9aa8"/></linearGradient></defs><rect width="55" height="33" fill="url(#phg4_137_32)"/><ellipse cx="16.7" cy="25.6" rx="7.5" ry="3.3" fill="#c8ccd0" opacity=".85"/><rect x="40.5" y="23.5" width="20.1" height="8.5" fill="#8a9aa8" opacity=".8"/><ellipse cx="42.9" cy="28.4" rx="5.6" ry="9.5" fill="#2a2e34" opacity=".85"/><rect x="38.0" y="4.5" width="12.1" height="14.4" fill="#2a2e34" opacity=".8"/><ellipse cx="4.8" cy="22.6" rx="9.2" ry="6.3" fill="#2a2e34" opacity=".85"/><rect x="4.9" y="22.1" width="21.0" height="19.0" fill="#e8e8e8" opacity=".8"/><rect x="38.9" y="12.9" width="22.1" height="17.6" fill="#6a7078" opacity=".8"/><ellipse cx="23.3" cy="14.2" rx="7.3" ry="4.3" fill="#e8e8e8" opacity=".85"/><rect x="-7.6" y="12.4" width="24.2" height="12.8" fill="#6a7078" opacity=".8"/><rect x="4.1" y="15.1" width="7.8" height="18.5" fill="#2a2e34" opacity=".8"/><rect x="5.3" y="11.0" width="19.7" height="9.9" fill="#e8e8e8" opacity=".8"/><rect x="0.2" y="0.0" width="10.6" height="16.4" fill="#2a2e34" opacity=".8"/></svg><b style="left:80px;top:70px;font-size:2.2px;color:#f2c12e;font-weight:700;">不斷</b><p class="f" style="left:80px;top:74px;width:50px;height:6.4px;font-size:2.1px;line-height:3.2px;color:#222;font-weight:700;"></p><b style="left:136px;top:70px;font-size:2.2px;color:#2fa052;font-weight:700;">關心</b><p class="f" style="left:136px;top:74px;width:50px;height:6.4px;font-size:2.1px;line-height:3.2px;color:#222;font-weight:700;"></p><svg style="left:80px;top:82px" width="55" height="38" viewBox="0 0 55 38" preserveAspectRatio="none"><defs><linearGradient id="phg5_80_82" x1="0" y1="0" x2="0" y2="1"><stop offset="0" stop-color="#8a7a6a"/><stop offset="1" stop-color="#6a5040"/></linearGradient></defs><rect width="55" height="38" fill="url(#phg5_80_82)"/><rect x="4.7" y="8.4" width="18.8" height="20.2" fill="#d8d0c0" opacity=".8"/><rect x="-10.0" y="13.3" width="23.2" height="16.9" fill="#d8d0c0" opacity=".8"/><ellipse cx="20.4" cy="34.0" rx="6.7" ry="3.9" fill="#8a7a6a" opacity=".85"/><ellipse cx="11.9" cy="16.1" rx="11.4" ry="9.4" fill="#6a5040" opacity=".85"/><rect x="3.2" y="23.3" width="8.8" height="6.1" fill="#8a7a6a" opacity=".8"/><ellipse cx="42.5" cy="36.8" rx="4.8" ry="4.4" fill="#c03a30" opacity=".85"/><rect x="24.6" y="17.3" width="10.2" height="21.8" fill="#c03a30" opacity=".8"/><ellipse cx="16.4" cy="18.6" rx="4.8" ry="4.3" fill="#c8a080" opacity=".85"/><ellipse cx="45.0" cy="25.4" rx="8.5" ry="9.0" fill="#4a3a30" opacity=".85"/><rect x="38.9" y="15.2" width="12.2" height="14.1" fill="#4a3a30" opacity=".8"/><ellipse cx="14.1" cy="36.1" rx="11.7" ry="6.0" fill="#8a7a6a" opacity=".85"/><ellipse cx="43.3" cy="18.7" rx="8.4" ry="3.1" fill="#d8d0c0" opacity=".85"/></svg><svg style="left:137px;top:82px" width="55" height="38" viewBox="0 0 55 38" preserveAspectRatio="none"><defs><linearGradient id="phg6_137_82" x1="0" y1="0" x2="0" y2="1"><stop offset="0" stop-color="#d8dee4"/><stop offset="1" stop-color="#3a5a8a"/></linearGradient></defs><rect width="55" height="38" fill="url(#phg6_137_82)"/><rect x="39.6" y="19.3" width="11.2" height="6.1" fill="#e8c0a0" opacity=".8"/><ellipse cx="53.1" cy="29.9" rx="6.1" ry="3.2" fill="#a06040" opacity=".85"/><ellipse cx="40.1" cy="20.2" rx="8.0" ry="8.7" fill="#7a8088" opacity=".85"/><ellipse cx="38.5" cy="29.8" rx="9.1" ry="8.1" fill="#e8c0a0" opacity=".85"/><ellipse cx="18.5" cy="10.4" rx="10.3" ry="9.8" fill="#a06040" opacity=".85"/><ellipse cx="41.6" cy="28.9" rx="10.3" ry="3.9" fill="#d8dee4" opacity=".85"/><ellipse cx="45.5" cy="35.3" rx="7.6" ry="10.0" fill="#7a8088" opacity=".85"/><ellipse cx="35.5" cy="28.8" rx="10.4" ry="11.2" fill="#e8c0a0" opacity=".85"/><rect x="7.0" y="16.6" width="12.9" height="8.1" fill="#3a4048" opacity=".8"/><ellipse cx="28.9" cy="11.2" rx="9.1" ry="5.7" fill="#3a5a8a" opacity=".85"/><rect x="1.6" y="15.4" width="21.3" height="20.7" fill="#a06040" opacity=".8"/><rect x="36.6" y="-2.5" width="12.5" height="21.2" fill="#7a8088" opacity=".8"/></svg></div>
<div class="t" style="left:434.4px;top:3251.0px;background:#fff;"><i style="left:13.8px;top:8.3px;width:184px;height:1.5px;background:#a9bbd4;"></i><b style="left:13.8px;top:11.2px;font-size:2.1px;color:#0d3c80;font-weight:700;">4.1 視覺元素</b><b style="left:192px;top:11.2px;font-size:2.1px;color:#0d3c80;font-weight:700;">82</b><i style="left:13.8px;top:14.6px;width:184px;height:0.45px;background:#cfd8e4;"></i><i style="left:13.8px;top:134px;width:184px;height:0.7px;background:#cfd6df;"></i><b style="left:13.8px;top:137.2px;font-size:2.1px;color:#0d3c80;font-weight:700;">香港科技大學 <span style="color:#a8873d">品牌管理指引</span></b><b style="left:14px;top:28px;font-size:3.6px;color:#0d3c80;font-weight:400;">以圖片詮釋</b><b style="left:14px;top:34px;font-size:4.2px;color:#0d3c80;font-weight:700;">品牌基因</b><svg style="left:14.0px;top:58px" width="33" height="34" viewBox="0 0 33 34" preserveAspectRatio="none"><defs><linearGradient id="phg10_14_58" x1="0" y1="0" x2="0" y2="1"><stop offset="0" stop-color="#3a4a70"/><stop offset="1" stop-color="#3a3a3a"/></linearGradient></defs><rect width="33" height="34" fill="url(#phg10_14_58)"/><ellipse cx="1.1" cy="19.9" rx="2.1" ry="6.2" fill="#e8e8e8" opacity=".85"/><ellipse cx="21.6" cy="11.2" rx="4.7" ry="5.2" fill="#2a3a5a" opacity=".85"/><ellipse cx="32.9" cy="8.0" rx="6.5" ry="7.2" fill="#3a3a3a" opacity=".85"/><ellipse cx="27.3" cy="13.9" rx="2.9" ry="5.0" fill="#2a3a5a" opacity=".85"/><ellipse cx="25.3" cy="33.5" rx="7.1" ry="7.3" fill="#e0c090" opacity=".85"/><rect x="1.0" y="5.4" width="13.6" height="13.5" fill="#3a4a70" opacity=".8"/><rect x="6.1" y="18.5" width="8.6" height="6.4" fill="#c8a070" opacity=".8"/><ellipse cx="5.2" cy="12.9" rx="4.2" ry="3.0" fill="#e8e8e8" opacity=".85"/><rect x="15.2" y="17.5" width="13.0" height="7.7" fill="#e8e8e8" opacity=".8"/><ellipse cx="30.1" cy="10.9" rx="7.1" ry="8.5" fill="#2a3a5a" opacity=".85"/></svg><b style="left:14.0px;top:97px;font-size:2.6px;color:#d7263d;font-weight:700;">創新視野</b><p class="f" style="left:14.0px;top:103px;width:33px;height:9.600000000000001px;font-size:2.1px;line-height:3.2px;color:#222;font-weight:700;"></p><svg style="left:51.5px;top:58px" width="33" height="34" viewBox="0 0 33 34" preserveAspectRatio="none"><defs><linearGradient id="phg11_51_58" x1="0" y1="0" x2="0" y2="1"><stop offset="0" stop-color="#e8e8e0"/><stop offset="1" stop-color="#3a3a3a"/></linearGradient></defs><rect width="33" height="34" fill="url(#phg11_51_58)"/><rect x="22.5" y="24.0" width="12.2" height="12.2" fill="#f0d0a0" opacity=".8"/><ellipse cx="6.1" cy="20.7" rx="5.3" ry="8.7" fill="#c8b090" opacity=".85"/><rect x="-2.0" y="14.0" width="13.4" height="14.9" fill="#8a7050" opacity=".8"/><ellipse cx="31.8" cy="24.6" rx="5.2" ry="3.9" fill="#f0d0a0" opacity=".85"/><rect x="-4.5" y="0.6" width="13.2" height="14.4" fill="#e8e8e8" opacity=".8"/><ellipse cx="14.5" cy="29.7" rx="4.7" ry="7.5" fill="#8a7050" opacity=".85"/><rect x="-1.3" y="17.8" width="8.3" height="13.7" fill="#3a3a3a" opacity=".8"/><ellipse cx="23.4" cy="15.4" rx="3.2" ry="4.9" fill="#e8e8e0" opacity=".85"/><rect x="9.2" y="19.9" width="8.0" height="19.8" fill="#e8e8e0" opacity=".8"/><rect x="4.8" y="26.5" width="4.5" height="11.1" fill="#e8e8e0" opacity=".8"/></svg><b style="left:51.5px;top:97px;font-size:2.6px;color:#f29a1c;font-weight:700;">敢於求變</b><p class="f" style="left:51.5px;top:103px;width:33px;height:9.600000000000001px;font-size:2.1px;line-height:3.2px;color:#222;font-weight:700;"></p><svg style="left:89.0px;top:58px" width="33" height="34" viewBox="0 0 33 34" preserveAspectRatio="none"><defs><linearGradient id="phg12_89_58" x1="0" y1="0" x2="0" y2="1"><stop offset="0" stop-color="#c8d8e8"/><stop offset="1" stop-color="#3a3a3a"/></linearGradient></defs><rect width="33" height="34" fill="url(#phg12_89_58)"/><rect x="5.0" y="15.6" width="7.7" height="11.1" fill="#c09070" opacity=".8"/><rect x="3.4" y="21.6" width="11.3" height="14.4" fill="#c09070" opacity=".8"/><ellipse cx="20.6" cy="33.4" rx="3.9" ry="5.3" fill="#3a3a3a" opacity=".85"/><ellipse cx="27.0" cy="8.8" rx="5.6" ry="5.2" fill="#e8e8e8" opacity=".85"/><ellipse cx="0.6" cy="8.5" rx="6.8" ry="6.5" fill="#c8d8e8" opacity=".85"/><ellipse cx="31.2" cy="9.9" rx="4.2" ry="3.7" fill="#c09070" opacity=".85"/><rect x="11.8" y="26.5" width="13.3" height="13.7" fill="#e8e8e8" opacity=".8"/><ellipse cx="13.2" cy="18.2" rx="5.1" ry="6.3" fill="#c8d8e8" opacity=".85"/><ellipse cx="21.1" cy="9.0" rx="3.0" ry="8.6" fill="#c8d8e8" opacity=".85"/><ellipse cx="28.6" cy="17.3" rx="3.6" ry="4.6" fill="#4a5058" opacity=".85"/></svg><b style="left:89.0px;top:97px;font-size:2.6px;color:#f2c12e;font-weight:700;">不斷提升</b><p class="f" style="left:89.0px;top:103px;width:33px;height:9.600000000000001px;font-size:2.1px;line-height:3.2px;color:#222;font-weight:700;"></p><svg style="left:126.5px;top:58px" width="33" height="34" viewBox="0 0 33 34" preserveAspectRatio="none"><defs><linearGradient id="phg13_126_58" x1="0" y1="0" x2="0" y2="1"><stop offset="0" stop-color="#f4f4f4"/><stop offset="1" stop-color="#3a3a3a"/></linearGradient></defs><rect width="33" height="34" fill="url(#phg13_126_58)"/><rect x="3.4" y="22.2" width="12.4" height="18.8" fill="#7090b0" opacity=".8"/><rect x="-1.0" y="9.2" width="11.7" height="7.4" fill="#3a3a3a" opacity=".8"/><rect x="21.9" y="-0.2" width="5.3" height="15.7" fill="#d0c8c0" opacity=".8"/><ellipse cx="27.5" cy="9.1" rx="6.2" ry="9.4" fill="#7090b0" opacity=".85"/><rect x="18.4" y="28.0" width="12.3" height="9.3" fill="#c89070" opacity=".8"/><rect x="22.5" y="14.0" width="14.3" height="15.5" fill="#c89070" opacity=".8"/><rect x="4.0" y="1.3" width="12.6" height="17.4" fill="#3a3a3a" opacity=".8"/><rect x="7.6" y="17.4" width="14.4" height="12.0" fill="#3a3a3a" opacity=".8"/><ellipse cx="5.8" cy="12.3" rx="4.7" ry="4.6" fill="#e8e8e8" opacity=".85"/><rect x="4.2" y="24.2" width="10.1" height="13.7" fill="#e8e8e8" opacity=".8"/></svg><b style="left:126.5px;top:97px;font-size:2.6px;color:#2fa052;font-weight:700;">關心大眾</b><p class="f" style="left:126.5px;top:103px;width:33px;height:9.600000000000001px;font-size:2.1px;line-height:3.2px;color:#222;font-weight:700;"></p><svg style="left:164.0px;top:58px" width="33" height="34" viewBox="0 0 33 34" preserveAspectRatio="none"><defs><linearGradient id="phg14_164_58" x1="0" y1="0" x2="0" y2="1"><stop offset="0" stop-color="#585a5c"/><stop offset="1" stop-color="#3a3a3a"/></linearGradient></defs><rect width="33" height="34" fill="url(#phg14_164_58)"/><rect x="15.6" y="22.8" width="9.5" height="9.1" fill="#585a5c" opacity=".8"/><ellipse cx="24.2" cy="24.7" rx="3.6" ry="7.8" fill="#202224" opacity=".85"/><ellipse cx="8.7" cy="30.5" rx="3.6" ry="8.8" fill="#585a5c" opacity=".85"/><ellipse cx="20.8" cy="10.9" rx="4.9" ry="7.7" fill="#3a3a3a" opacity=".85"/><rect x="0.2" y="18.2" width="4.3" height="9.5" fill="#3a3a3a" opacity=".8"/><rect x="9.0" y="26.5" width="8.6" height="14.5" fill="#c89878" opacity=".8"/><rect x="23.9" y="17.1" width="10.7" height="10.9" fill="#3a3a3a" opacity=".8"/><ellipse cx="28.9" cy="20.8" rx="3.0" ry="6.1" fill="#3a3a3a" opacity=".85"/><ellipse cx="16.5" cy="9.6" rx="6.3" ry="3.4" fill="#202224" opacity=".85"/><ellipse cx="5.3" cy="18.0" rx="5.6" ry="7.1" fill="#585a5c" opacity=".85"/></svg><b style="left:164.0px;top:97px;font-size:2.6px;color:#8c2740;font-weight:700;">與眾不同</b><p class="f" style="left:164.0px;top:103px;width:33px;height:9.600000000000001px;font-size:2.1px;line-height:3.2px;color:#222;font-weight:700;"></p></div>
<div class="t" style="left:651.6px;top:3251.0px;background:#fff;"><i style="left:0px;top:0px;width:78px;height:149.4px;background:repeating-linear-gradient(135deg,#e8eef6 0 2.8px,#fafbfd 2.8px 6.7px);"></i><i style="left:13.8px;top:8.3px;width:184px;height:1.5px;background:#a9bbd4;"></i><b style="left:13.8px;top:11.2px;font-size:2.1px;color:#0d3c80;font-weight:700;">4.2 視覺元素</b><b style="left:192px;top:11.2px;font-size:2.1px;color:#0d3c80;font-weight:700;">83</b><i style="left:13.8px;top:14.6px;width:184px;height:0.45px;background:#cfd8e4;"></i><i style="left:13.8px;top:134px;width:184px;height:0.7px;background:#cfd6df;"></i><b style="left:13.8px;top:137.2px;font-size:2.1px;color:#0d3c80;font-weight:700;">香港科技大學 <span style="color:#a8873d">品牌管理指引</span></b><b style="left:26px;top:56px;font-size:6.3px;color:#0d3c80;font-weight:700;">4.2 攝影 –</b><b style="left:40px;top:64px;font-size:6.3px;color:#0d3c80;font-weight:700;">規格指引</b><i style="left:103px;top:38.0px;width:1px;height:1px;background:#222;"></i><p class="f" style="left:107px;top:36.5px;width:90px;height:6.6px;font-size:2.2px;line-height:3.3px;color:#222;font-weight:700;"></p><i style="left:103px;top:45.8px;width:1px;height:1px;background:#222;"></i><p class="f" style="left:107px;top:44.3px;width:90px;height:6.6px;font-size:2.2px;line-height:3.3px;color:#222;font-weight:700;"></p><i style="left:103px;top:53.6px;width:1px;height:1px;background:#222;"></i><p class="f" style="left:107px;top:52.1px;width:90px;height:3.3px;font-size:2.2px;line-height:3.3px;color:#222;font-weight:700;"></p><i style="left:103px;top:61.4px;width:1px;height:1px;background:#222;"></i><p class="f" style="left:107px;top:59.9px;width:90px;height:3.3px;font-size:2.2px;line-height:3.3px;color:#222;font-weight:700;"></p></div>
<div class="t" style="left:868.8px;top:3251.0px;background:#fff;"><i style="left:0px;top:0px;width:70px;height:149.4px;background:repeating-linear-gradient(135deg,#e8eef6 0 2.8px,#fafbfd 2.8px 6.7px);"></i><i style="left:13.8px;top:8.3px;width:184px;height:1.5px;background:#a9bbd4;"></i><b style="left:13.8px;top:11.2px;font-size:2.1px;color:#0d3c80;font-weight:700;">4.3 視覺元素</b><b style="left:192px;top:11.2px;font-size:2.1px;color:#0d3c80;font-weight:700;">84</b><i style="left:13.8px;top:14.6px;width:184px;height:0.45px;background:#cfd8e4;"></i><i style="left:13.8px;top:134px;width:184px;height:0.7px;background:#cfd6df;"></i><b style="left:13.8px;top:137.2px;font-size:2.1px;color:#0d3c80;font-weight:700;">香港科技大學 <span style="color:#a8873d">品牌管理指引</span></b><b style="left:14px;top:48px;font-size:6.3px;color:#0d3c80;font-weight:700;">4.3 圖片應用</b><i style="left:14px;top:58px;width:55px;height:0.8px;background:#7d97bd;"></i><p class="f" style="left:14px;top:62px;width:55px;height:13.6px;font-size:2.2px;line-height:3.4px;color:#0d3c80;font-weight:700;"></p><svg style="left:78px;top:43px" width="6" height="6"><circle cx="3" cy="3" r="3" fill="#d7263d"/></svg><b style="left:78px;top:51px;font-size:3px;color:#1f64b8;font-weight:400;">非建議模式</b><p class="f" style="left:78px;top:61.0px;width:40px;height:3.2px;font-size:2.1px;line-height:3.2px;color:#222;font-weight:700;"></p><p class="f" style="left:78px;top:67.8px;width:40px;height:6.4px;font-size:2.1px;line-height:3.2px;color:#222;font-weight:700;"></p><p class="f" style="left:78px;top:74.6px;width:40px;height:3.2px;font-size:2.1px;line-height:3.2px;color:#222;font-weight:700;"></p><p class="f" style="left:78px;top:81.4px;width:40px;height:3.2px;font-size:2.1px;line-height:3.2px;color:#222;font-weight:700;"></p><p class="f" style="left:78px;top:88.2px;width:40px;height:3.2px;font-size:2.1px;line-height:3.2px;color:#222;font-weight:700;"></p><p class="f" style="left:78px;top:95.0px;width:40px;height:3.2px;font-size:2.1px;line-height:3.2px;color:#222;font-weight:700;"></p><p class="f" style="left:78px;top:101.8px;width:40px;height:3.2px;font-size:2.1px;line-height:3.2px;color:#222;font-weight:700;"></p><svg style="left:124px;top:20px" width="39" height="26" viewBox="0 0 39 26" preserveAspectRatio="none"><defs><linearGradient id="phg21_124_20" x1="0" y1="0" x2="0" y2="1"><stop offset="0" stop-color="#e0e4e8"/><stop offset="1" stop-color="#f0f0f0"/></linearGradient></defs><rect width="39" height="26" fill="url(#phg21_124_20)"/><rect x="12.2" y="7.0" width="8.2" height="13.8" fill="#b8c0c8" opacity=".8"/><ellipse cx="31.5" cy="15.9" rx="5.5" ry="3.4" fill="#d8b8a0" opacity=".85"/><rect x="33.1" y="7.7" width="6.5" height="12.8" fill="#a09080" opacity=".8"/><ellipse cx="17.0" cy="25.9" rx="7.1" ry="4.4" fill="#e0e4e8" opacity=".85"/><ellipse cx="21.1" cy="19.6" rx="6.4" ry="7.4" fill="#a09080" opacity=".85"/><ellipse cx="4.9" cy="24.5" rx="5.2" ry="5.2" fill="#e0e4e8" opacity=".85"/><ellipse cx="5.9" cy="19.0" rx="5.3" ry="6.8" fill="#d8b8a0" opacity=".85"/><rect x="0.2" y="19.0" width="15.8" height="12.8" fill="#b8c0c8" opacity=".8"/><ellipse cx="38.6" cy="6.7" rx="5.8" ry="5.3" fill="#f0f0f0" opacity=".85"/><ellipse cx="36.0" cy="23.7" rx="4.9" ry="4.2" fill="#a09080" opacity=".85"/></svg><svg style="left:165px;top:20px" width="34" height="43" viewBox="0 0 34 43" preserveAspectRatio="none"><defs><linearGradient id="phg22_165_20" x1="0" y1="0" x2="0" y2="1"><stop offset="0" stop-color="#3a3230"/><stop offset="1" stop-color="#c03030"/></linearGradient></defs><rect width="34" height="43" fill="url(#phg22_165_20)"/><rect x="3.8" y="19.6" width="8.9" height="20.2" fill="#8a5a4a" opacity=".8"/><rect x="23.4" y="7.4" width="7.0" height="7.8" fill="#2a2420" opacity=".8"/><ellipse cx="31.7" cy="32.2" rx="7.1" ry="10.1" fill="#8a5a4a" opacity=".85"/><rect x="17.0" y="7.8" width="6.1" height="23.0" fill="#3a3230" opacity=".8"/><ellipse cx="2.1" cy="19.8" rx="3.9" ry="5.2" fill="#c03030" opacity=".85"/><ellipse cx="4.8" cy="37.0" rx="5.7" ry="5.2" fill="#c03030" opacity=".85"/><rect x="27.2" y="16.9" width="6.8" height="12.3" fill="#c03030" opacity=".8"/><rect x="18.8" y="33.2" width="7.4" height="14.0" fill="#e0a060" opacity=".8"/><rect x="14.7" y="17.3" width="9.8" height="21.2" fill="#2a2420" opacity=".8"/><ellipse cx="3.0" cy="42.9" rx="4.0" ry="7.5" fill="#e0a060" opacity=".85"/><ellipse cx="17.4" cy="22.4" rx="2.6" ry="11.9" fill="#8a5a4a" opacity=".85"/><ellipse cx="12.8" cy="14.8" rx="7.0" ry="9.4" fill="#c03030" opacity=".85"/></svg><svg style="left:124px;top:48px" width="39" height="44" viewBox="0 0 39 44" preserveAspectRatio="none"><defs><linearGradient id="phg23_124_48" x1="0" y1="0" x2="0" y2="1"><stop offset="0" stop-color="#6080c0"/><stop offset="1" stop-color="#e0e0e0"/></linearGradient></defs><rect width="39" height="44" fill="url(#phg23_124_48)"/><rect x="28.8" y="4.1" width="12.1" height="15.2" fill="#1e1e22" opacity=".8"/><rect x="25.9" y="8.7" width="4.9" height="19.0" fill="#3a3a40" opacity=".8"/><rect x="-1.6" y="25.3" width="9.9" height="17.0" fill="#6080c0" opacity=".8"/><ellipse cx="30.1" cy="16.0" rx="2.6" ry="7.1" fill="#1e1e22" opacity=".85"/><rect x="30.8" y="14.5" width="14.2" height="14.2" fill="#3a3a40" opacity=".8"/><rect x="18.9" y="29.3" width="6.9" height="16.4" fill="#1e1e22" opacity=".8"/><ellipse cx="7.1" cy="15.1" rx="4.4" ry="11.4" fill="#3a3a40" opacity=".85"/><ellipse cx="3.2" cy="23.8" rx="5.9" ry="12.6" fill="#6080c0" opacity=".85"/><rect x="8.8" y="15.3" width="8.3" height="12.9" fill="#e0e0e0" opacity=".8"/><rect x="2.3" y="9.4" width="12.4" height="9.4" fill="#e0e0e0" opacity=".8"/><rect x="1.2" y="18.7" width="16.1" height="18.5" fill="#b89078" opacity=".8"/><ellipse cx="17.5" cy="10.0" rx="6.3" ry="7.3" fill="#3a3a40" opacity=".85"/><rect x="19.4" y="30.4" width="14.7" height="25.4" fill="#3a3a40" opacity=".8"/><ellipse cx="29.2" cy="21.0" rx="8.4" ry="7.2" fill="#b89078" opacity=".85"/></svg><svg style="left:165px;top:65px" width="34" height="27" viewBox="0 0 34 27" preserveAspectRatio="none"><defs><linearGradient id="phg24_165_65" x1="0" y1="0" x2="0" y2="1"><stop offset="0" stop-color="#c8ccd0"/><stop offset="1" stop-color="#f4f4f4"/></linearGradient></defs><rect width="34" height="27" fill="url(#phg24_165_65)"/><rect x="21.1" y="6.0" width="14.9" height="6.6" fill="#e0b090" opacity=".8"/><rect x="17.6" y="23.1" width="12.9" height="7.7" fill="#c8ccd0" opacity=".8"/><rect x="7.6" y="21.3" width="14.8" height="5.7" fill="#c8ccd0" opacity=".8"/><ellipse cx="25.1" cy="15.0" rx="3.7" ry="7.8" fill="#e0b090" opacity=".85"/><rect x="24.9" y="4.8" width="7.6" height="7.9" fill="#6a7a90" opacity=".8"/><rect x="19.3" y="1.9" width="6.4" height="8.3" fill="#6a7a90" opacity=".8"/><rect x="-3.1" y="12.7" width="12.8" height="14.1" fill="#6a7a90" opacity=".8"/><ellipse cx="9.1" cy="21.4" rx="7.1" ry="2.7" fill="#6a7a90" opacity=".85"/><rect x="19.1" y="6.7" width="6.2" height="11.5" fill="#a8a8b0" opacity=".8"/><ellipse cx="17.2" cy="26.9" rx="6.2" ry="5.3" fill="#e0b090" opacity=".85"/></svg><i style="left:124px;top:94px;width:75px;height:35px;background:linear-gradient(180deg,#d8b8a8,#7a8a6a);"></i><svg style="left:124px;top:94px" width="75" height="35" viewBox="0 0 75 35"><path d="M0.8,35 Q7.5,17.3 14.2,35Z" fill="#2a3f6a"/><circle cx="7.5" cy="14.7" r="3.3" fill="#c99a7c"/><path d="M4.2,14.7 Q7.5,9.4 10.8,14.7Z" fill="#2a2020"/><path d="M15.8,35 Q22.5,19.4 29.2,35Z" fill="#c0403a"/><circle cx="22.5" cy="16.8" r="3.3" fill="#c99a7c"/><path d="M19.2,16.8 Q22.5,11.5 25.8,16.8Z" fill="#2a2020"/><path d="M30.8,35 Q37.5,17.3 44.2,35Z" fill="#e8e8e8"/><circle cx="37.5" cy="14.7" r="3.3" fill="#c99a7c"/><path d="M34.2,14.7 Q37.5,9.4 40.8,14.7Z" fill="#2a2020"/><path d="M45.8,35 Q52.5,19.4 59.2,35Z" fill="#3a3a3a"/><circle cx="52.5" cy="16.8" r="3.3" fill="#c99a7c"/><path d="M49.2,16.8 Q52.5,11.5 55.8,16.8Z" fill="#2a2020"/><path d="M60.8,35 Q67.5,17.3 74.2,35Z" fill="#6a8fbf"/><circle cx="67.5" cy="14.7" r="3.3" fill="#c99a7c"/><path d="M64.2,14.7 Q67.5,9.4 70.8,14.7Z" fill="#2a2020"/></svg></div>
<div class="t" style="left:0.0px;top:3406.5px;background:#fff;"><i style="left:0px;top:0px;width:70px;height:149.4px;background:repeating-linear-gradient(135deg,#e8eef6 0 2.8px,#fafbfd 2.8px 6.7px);"></i><i style="left:13.8px;top:8.3px;width:184px;height:1.5px;background:#a9bbd4;"></i><b style="left:13.8px;top:11.2px;font-size:2.1px;color:#0d3c80;font-weight:700;">4.4 視覺元素</b><b style="left:192px;top:11.2px;font-size:2.1px;color:#0d3c80;font-weight:700;">85</b><i style="left:13.8px;top:14.6px;width:184px;height:0.45px;background:#cfd8e4;"></i><i style="left:13.8px;top:134px;width:184px;height:0.7px;background:#cfd6df;"></i><b style="left:13.8px;top:137.2px;font-size:2.1px;color:#0d3c80;font-weight:700;">香港科技大學 <span style="color:#a8873d">品牌管理指引</span></b><b style="left:14px;top:50px;font-size:6.3px;color:#0d3c80;font-weight:700;">4.4 圖片應用</b><i style="left:14px;top:60px;width:55px;height:0.8px;background:#7d97bd;"></i><p class="f" style="left:14px;top:64px;width:55px;height:10.2px;font-size:2.2px;line-height:3.4px;color:#0d3c80;font-weight:700;"></p><b style="left:80px;top:22px;font-size:2.4px;color:#0d3c80;font-weight:700;">圖片尺寸</b><p class="f" style="left:80px;top:27px;width:38px;height:9.600000000000001px;font-size:2.1px;line-height:3.2px;color:#0d3c80;font-weight:700;"></p><b style="left:80px;top:53px;font-size:2.4px;color:#0d3c80;font-weight:700;">比例</b><p class="f" style="left:80px;top:58px;width:38px;height:9.600000000000001px;font-size:2.1px;line-height:3.2px;color:#0d3c80;font-weight:700;"></p><b style="left:80px;top:84px;font-size:2.4px;color:#0d3c80;font-weight:700;">拍攝角度</b><p class="f" style="left:80px;top:89px;width:38px;height:9.600000000000001px;font-size:2.1px;line-height:3.2px;color:#0d3c80;font-weight:700;"></p><i style="left:120px;top:23px;width:36px;height:26px;background:linear-gradient(180deg,#d0d8d0,#8a9a80);"></i><svg style="left:120px;top:23px" width="36" height="26" viewBox="0 0 36 26"><path d="M0.6,26 Q6.0,13.0 11.4,26Z" fill="#2a3f6a"/><circle cx="6.0" cy="10.9" r="2.6" fill="#c99a7c"/><path d="M3.4,10.9 Q6.0,6.7 8.6,10.9Z" fill="#2a2020"/><path d="M12.6,26 Q18.0,14.6 23.4,26Z" fill="#c0403a"/><circle cx="18.0" cy="12.5" r="2.6" fill="#c99a7c"/><path d="M15.4,12.5 Q18.0,8.3 20.6,12.5Z" fill="#2a2020"/><path d="M24.6,26 Q30.0,13.0 35.4,26Z" fill="#e8e8e8"/><circle cx="30.0" cy="10.9" r="2.6" fill="#c99a7c"/><path d="M27.4,10.9 Q30.0,6.7 32.6,10.9Z" fill="#2a2020"/></svg><i style="left:159px;top:23px;width:37px;height:26px;background:linear-gradient(180deg,#e8eef2,#c0c8d0);"></i><svg style="left:159px;top:23px" width="37" height="26" viewBox="0 0 37 26"><path d="M0.9,26 Q9.2,13.8 17.6,26Z" fill="#c8303a"/><circle cx="9.2" cy="10.9" r="3.6" fill="#c99a7c"/><path d="M5.6,10.9 Q9.2,5.1 12.9,10.9Z" fill="#2a2020"/><path d="M19.4,26 Q27.8,15.4 36.1,26Z" fill="#e0e0e0"/><circle cx="27.8" cy="12.5" r="3.6" fill="#c99a7c"/><path d="M24.1,12.5 Q27.8,6.7 31.4,12.5Z" fill="#2a2020"/></svg><i style="left:120px;top:52px;width:36px;height:28px;background:linear-gradient(180deg,#c8b090,#70a050);"></i><svg style="left:120px;top:52px" width="36" height="28" viewBox="0 0 36 28"><path d="M0.4,28 Q3.6,13.0 6.8,28Z" fill="#c8303a"/><circle cx="3.6" cy="11.8" r="1.6" fill="#c99a7c"/><path d="M2.0,11.8 Q3.6,9.2 5.2,11.8Z" fill="#2a2020"/><path d="M7.6,28 Q10.8,14.7 14.0,28Z" fill="#3a7a3a"/><circle cx="10.8" cy="13.4" r="1.6" fill="#c99a7c"/><path d="M9.2,13.4 Q10.8,10.9 12.4,13.4Z" fill="#2a2020"/><path d="M14.8,28 Q18.0,13.0 21.2,28Z" fill="#e8e8e8"/><circle cx="18.0" cy="11.8" r="1.6" fill="#c99a7c"/><path d="M16.4,11.8 Q18.0,9.2 19.6,11.8Z" fill="#2a2020"/><path d="M22.0,28 Q25.2,14.7 28.4,28Z" fill="#c8303a"/><circle cx="25.2" cy="13.4" r="1.6" fill="#c99a7c"/><path d="M23.6,13.4 Q25.2,10.9 26.8,13.4Z" fill="#2a2020"/><path d="M29.2,28 Q32.4,13.0 35.6,28Z" fill="#3a7a3a"/><circle cx="32.4" cy="11.8" r="1.6" fill="#c99a7c"/><path d="M30.8,11.8 Q32.4,9.2 34.0,11.8Z" fill="#2a2020"/></svg><i style="left:159px;top:52px;width:37px;height:28px;background:linear-gradient(180deg,#a8c890,#5a9a40);"></i><svg style="left:159px;top:52px" width="37" height="28" viewBox="0 0 37 28"><path d="M0.5,28 Q4.6,13.4 8.8,28Z" fill="#3a7ab0"/><circle cx="4.6" cy="11.8" r="2.0" fill="#c99a7c"/><path d="M2.6,11.8 Q4.6,8.5 6.7,11.8Z" fill="#2a2020"/><path d="M9.7,28 Q13.9,15.1 18.0,28Z" fill="#e0e0e0"/><circle cx="13.9" cy="13.4" r="2.0" fill="#c99a7c"/><path d="M11.8,13.4 Q13.9,10.2 15.9,13.4Z" fill="#2a2020"/><path d="M19.0,28 Q23.1,13.4 27.3,28Z" fill="#d04040"/><circle cx="23.1" cy="11.8" r="2.0" fill="#c99a7c"/><path d="M21.1,11.8 Q23.1,8.5 25.2,11.8Z" fill="#2a2020"/><path d="M28.2,28 Q32.4,15.1 36.5,28Z" fill="#3a7ab0"/><circle cx="32.4" cy="13.4" r="2.0" fill="#c99a7c"/><path d="M30.3,13.4 Q32.4,10.2 34.4,13.4Z" fill="#2a2020"/></svg><i style="left:120px;top:84px;width:36px;height:27px;background:linear-gradient(180deg,#e0dcd0,#b0a898);"></i><svg style="left:120px;top:84px" width="36" height="27" viewBox="0 0 36 27"><path d="M0.6,27 Q6.0,13.5 11.4,27Z" fill="#2a3f6a"/><circle cx="6.0" cy="11.3" r="2.6" fill="#c99a7c"/><path d="M3.4,11.3 Q6.0,7.1 8.6,11.3Z" fill="#2a2020"/><path d="M12.6,27 Q18.0,15.1 23.4,27Z" fill="#c0403a"/><circle cx="18.0" cy="13.0" r="2.6" fill="#c99a7c"/><path d="M15.4,13.0 Q18.0,8.7 20.6,13.0Z" fill="#2a2020"/><path d="M24.6,27 Q30.0,13.5 35.4,27Z" fill="#e8e8e8"/><circle cx="30.0" cy="11.3" r="2.6" fill="#c99a7c"/><path d="M27.4,11.3 Q30.0,7.1 32.6,11.3Z" fill="#2a2020"/></svg><i style="left:159px;top:84px;width:37px;height:27px;background:linear-gradient(180deg,#e8ecf0,#a0a8b0);"></i><svg style="left:159px;top:84px" width="37" height="27" viewBox="0 0 37 27"><path d="M0.6,27 Q6.2,13.5 11.7,27Z" fill="#3a5a8a"/><circle cx="6.2" cy="11.3" r="2.7" fill="#c99a7c"/><path d="M3.5,11.3 Q6.2,7.0 8.9,11.3Z" fill="#2a2020"/><path d="M12.9,27 Q18.5,15.1 24.1,27Z" fill="#f0f0f0"/><circle cx="18.5" cy="13.0" r="2.7" fill="#c99a7c"/><path d="M15.8,13.0 Q18.5,8.6 21.2,13.0Z" fill="#2a2020"/><path d="M25.3,27 Q30.8,13.5 36.4,27Z" fill="#3a3a3a"/><circle cx="30.8" cy="11.3" r="2.7" fill="#c99a7c"/><path d="M28.1,11.3 Q30.8,7.0 33.5,11.3Z" fill="#2a2020"/></svg><i style="left:120px;top:113px;width:36px;height:16px;background:linear-gradient(180deg,#c03030,#602020);"></i><svg style="left:120px;top:113px" width="36" height="16" viewBox="0 0 36 16"><path d="M0.4,16 Q3.6,8.0 6.8,16Z" fill="#d03030"/><circle cx="3.6" cy="6.7" r="1.6" fill="#c99a7c"/><path d="M2.0,6.7 Q3.6,4.2 5.2,6.7Z" fill="#2a2020"/><path d="M7.6,16 Q10.8,8.9 14.0,16Z" fill="#f0c020"/><circle cx="10.8" cy="7.7" r="1.6" fill="#c99a7c"/><path d="M9.2,7.7 Q10.8,5.1 12.4,7.7Z" fill="#2a2020"/><path d="M14.8,16 Q18.0,8.0 21.2,16Z" fill="#3050a0"/><circle cx="18.0" cy="6.7" r="1.6" fill="#c99a7c"/><path d="M16.4,6.7 Q18.0,4.2 19.6,6.7Z" fill="#2a2020"/><path d="M22.0,16 Q25.2,8.9 28.4,16Z" fill="#d03030"/><circle cx="25.2" cy="7.7" r="1.6" fill="#c99a7c"/><path d="M23.6,7.7 Q25.2,5.1 26.8,7.7Z" fill="#2a2020"/><path d="M29.2,16 Q32.4,8.0 35.6,16Z" fill="#f0c020"/><circle cx="32.4" cy="6.7" r="1.6" fill="#c99a7c"/><path d="M30.8,6.7 Q32.4,4.2 34.0,6.7Z" fill="#2a2020"/></svg><i style="left:159px;top:113px;width:37px;height:16px;background:linear-gradient(180deg,#3a3a60,#502030);"></i><svg style="left:159px;top:113px" width="37" height="16" viewBox="0 0 37 16"><path d="M0.5,16 Q4.6,8.3 8.8,16Z" fill="#d03030"/><circle cx="4.6" cy="6.7" r="2.0" fill="#c99a7c"/><path d="M2.6,6.7 Q4.6,3.5 6.7,6.7Z" fill="#2a2020"/><path d="M9.7,16 Q13.9,9.3 18.0,16Z" fill="#3050a0"/><circle cx="13.9" cy="7.7" r="2.0" fill="#c99a7c"/><path d="M11.8,7.7 Q13.9,4.4 15.9,7.7Z" fill="#2a2020"/><path d="M19.0,16 Q23.1,8.3 27.3,16Z" fill="#d03030"/><circle cx="23.1" cy="6.7" r="2.0" fill="#c99a7c"/><path d="M21.1,6.7 Q23.1,3.5 25.2,6.7Z" fill="#2a2020"/><path d="M28.2,16 Q32.4,9.3 36.5,16Z" fill="#3050a0"/><circle cx="32.4" cy="7.7" r="2.0" fill="#c99a7c"/><path d="M30.3,7.7 Q32.4,4.4 34.4,7.7Z" fill="#2a2020"/></svg></div>
<div class="t" style="left:217.2px;top:3406.5px;background:#0c3a7e;"><svg style="left:0;top:0;opacity:1.0" width="211.2" height="149.4" viewBox="0 0 211.2 149.4"><defs><filter id="jb" x="-20%" y="-20%" width="140%" height="140%"><feGaussianBlur stdDeviation="2.5"/></filter></defs><path d="M0,78.0 C20,82.0 40,110.0 64,107.0 C88,103.0 108,72.0 121,40.0 C130,24.0 152,26.0 168,37.0 C184,48.0 198,58.0 212,63.0" fill="none" stroke="#39b8e8" stroke-width="12" stroke-opacity=".28" filter="url(#jb)"/><path d="M121,36.0 C126,58.0 136,84.0 148,90.0 C158,84.0 164,62.0 170,42.0" fill="none" stroke="#39b8e8" stroke-width="10" stroke-opacity=".18" filter="url(#jb)"/><g fill="none" stroke="#6fd8f6" stroke-width="0.5" stroke-opacity="0.75" stroke-dasharray="0.7 0.8"><path d="M0,69.2 C20,71.4 40,104.7 64,100.8 C88,94.2 108,62.3 121,33.0 C130,19.6 152,21.6 168,29.1 C184,37.4 198,43.9 212,47.2 M0,70.3 C20,72.8 40,105.4 64,101.6 C88,95.3 108,63.5 121,33.8 C130,20.1 152,22.1 168,30.1 C184,38.8 198,45.7 212,49.1 M0,71.4 C20,74.1 40,106.0 64,102.4 C88,96.4 108,64.7 121,34.7 C130,20.7 152,22.7 168,31.1 C184,40.1 198,47.4 212,51.1 M0,72.5 C20,75.4 40,106.7 64,103.2 C88,97.5 108,66.0 121,35.6 C130,21.2 152,23.2 168,32.0 C184,41.4 198,49.2 212,53.1 M0,73.6 C20,76.7 40,107.4 64,103.9 C88,98.6 108,67.2 121,36.5 C130,21.8 152,23.8 168,33.0 C184,42.7 198,51.0 212,55.1 M0,74.7 C20,78.0 40,108.0 64,104.7 C88,99.7 108,68.4 121,37.4 C130,22.4 152,24.4 168,34.0 C184,44.0 198,52.7 212,57.1 M0,75.8 C20,79.4 40,108.7 64,105.5 C88,100.8 108,69.6 121,38.2 C130,22.9 152,24.9 168,35.0 C184,45.4 198,54.5 212,59.0 M0,76.9 C20,80.7 40,109.3 64,106.2 C88,101.9 108,70.8 121,39.1 C130,23.4 152,25.4 168,36.0 C184,46.7 198,56.2 212,61.0 M0,78.0 C20,82.0 40,110.0 64,107.0 C88,103.0 108,72.0 121,40.0 C130,24.0 152,26.0 168,37.0 C184,48.0 198,58.0 212,63.0 M0,79.1 C20,83.3 40,110.7 64,107.8 C88,104.1 108,73.2 121,40.9 C130,24.6 152,26.6 168,38.0 C184,49.3 198,59.8 212,65.0 M0,80.2 C20,84.6 40,111.3 64,108.5 C88,105.2 108,74.4 121,41.8 C130,25.1 152,27.1 168,39.0 C184,50.6 198,61.5 212,67.0 M0,81.3 C20,86.0 40,112.0 64,109.3 C88,106.3 108,75.6 121,42.6 C130,25.6 152,27.6 168,40.0 C184,52.0 198,63.3 212,68.9 M0,82.4 C20,87.3 40,112.6 64,110.1 C88,107.4 108,76.8 121,43.5 C130,26.2 152,28.2 168,41.0 C184,53.3 198,65.0 212,70.9 M0,83.5 C20,88.6 40,113.3 64,110.8 C88,108.5 108,78.0 121,44.4 C130,26.8 152,28.8 168,42.0 C184,54.6 198,66.8 212,72.9 M0,84.6 C20,89.9 40,114.0 64,111.6 C88,109.6 108,79.3 121,45.3 C130,27.3 152,29.3 168,42.9 C184,55.9 198,68.6 212,74.9 M0,85.7 C20,91.2 40,114.6 64,112.4 C88,110.7 108,80.5 121,46.2 C130,27.9 152,29.9 168,43.9 C184,57.2 198,70.3 212,76.9 M0,86.8 C20,92.6 40,115.3 64,113.2 C88,111.8 108,81.7 121,47.0 C130,28.4 152,30.4 168,44.9 C184,58.6 198,72.1 212,78.8"/></g><g fill="none" stroke="#5cc4ee" stroke-width="0.45" stroke-opacity="0.6" stroke-dasharray="0.7 0.9"><path d="M121,33.1 C126,48.4 136,76.3 148,86.2 C158,74.4 164,54.3 170,37.2 M121,33.6 C126,50.0 136,77.6 148,86.8 C158,76.0 164,55.6 170,38.0 M121,34.1 C126,51.6 136,78.9 148,87.4 C158,77.6 164,56.9 170,38.8 M121,34.6 C126,53.2 136,80.2 148,88.1 C158,79.2 164,58.2 170,39.6 M121,35.0 C126,54.8 136,81.4 148,88.7 C158,80.8 164,59.4 170,40.4 M121,35.5 C126,56.4 136,82.7 148,89.4 C158,82.4 164,60.7 170,41.2 M121,36.0 C126,58.0 136,84.0 148,90.0 C158,84.0 164,62.0 170,42.0 M121,36.5 C126,59.6 136,85.3 148,90.6 C158,85.6 164,63.3 170,42.8 M121,37.0 C126,61.2 136,86.6 148,91.3 C158,87.2 164,64.6 170,43.6 M121,37.4 C126,62.8 136,87.8 148,91.9 C158,88.8 164,65.8 170,44.4 M121,37.9 C126,64.4 136,89.1 148,92.6 C158,90.4 164,67.1 170,45.2 M121,38.4 C126,66.0 136,90.4 148,93.2 C158,92.0 164,68.4 170,46.0"/></g><g fill="none" stroke="#4aa8e0" stroke-width="0.35" stroke-opacity="0.3"><path d="M30,88.5 C60,110.5 110,112.0 150,95.0 C170,88.5 190,82.5 212,78.5 M30,90.0 C60,112.0 110,113.2 150,96.8 C170,90.0 190,84.0 212,80.0 M30,91.5 C60,113.5 110,114.4 150,98.6 C170,91.5 190,85.5 212,81.5 M30,93.0 C60,115.0 110,115.6 150,100.4 C170,93.0 190,87.0 212,83.0 M30,94.5 C60,116.5 110,116.8 150,102.2 C170,94.5 190,88.5 212,84.5 M30,96.0 C60,118.0 110,118.0 150,104.0 C170,96.0 190,90.0 212,86.0 M30,97.5 C60,119.5 110,119.2 150,105.8 C170,97.5 190,91.5 212,87.5 M30,99.0 C60,121.0 110,120.4 150,107.6 C170,99.0 190,93.0 212,89.0 M30,100.5 C60,122.5 110,121.6 150,109.4 C170,100.5 190,94.5 212,90.5 M30,102.0 C60,124.0 110,122.8 150,111.2 C170,102.0 190,96.0 212,92.0"/></g><ellipse cx="196" cy="68" rx="14" ry="8" fill="#8a7ae0" opacity=".25" filter="url(#jb)"/></svg><b style="left:14.5px;top:50px;font-size:6.8px;color:#fff;font-weight:400;">05 傳播媒介</b><p class="f" style="left:14.5px;top:60px;width:120px;height:3.4px;font-size:2.3px;line-height:3.4px;color:#fff;font-weight:700;"></p><b style="left:13.8px;top:137.2px;font-size:2.1px;color:#fff;font-weight:700;">香港科技大學 品牌管理指引</b></div>
<div class="t" style="left:434.4px;top:3406.5px;background:#8a8d90;"><i style="left:0px;top:0px;width:64px;height:149.4px;background:repeating-linear-gradient(135deg,rgba(255,255,255,.2) 0 1.8px,#8a8d90 1.8px 7px);"></i><i style="left:13.5px;top:8.2px;width:184.5px;height:1.2px;background:rgba(255,255,255,.75);"></i><b style="left:13.5px;top:11px;font-size:2.2px;color:#fff;font-weight:700;">5.1 傳播媒介</b><b style="left:190px;top:11px;font-size:2.2px;color:#fff;font-weight:700;">87</b><i style="left:13.5px;top:134px;width:184.5px;height:0.7px;background:rgba(255,255,255,.55);"></i><b style="left:13.5px;top:137.2px;font-size:2.2px;color:#fff;font-weight:700;">香港科技大學 品牌管理指引</b><b style="left:47.19999999999999px;width:150px;text-align:right;top:65px;font-size:6.6px;color:#fff;font-weight:700">5.1 印刷品</b></div>
<div class="t" style="left:651.6px;top:3406.5px;background:#fff;"><i style="left:13.8px;top:8.3px;width:184px;height:1.5px;background:#a9bbd4;"></i><b style="left:13.8px;top:11.2px;font-size:2.1px;color:#0d3c80;font-weight:700;">5.1 傳播媒介</b><b style="left:192px;top:11.2px;font-size:2.1px;color:#0d3c80;font-weight:700;">88</b><i style="left:13.8px;top:14.6px;width:184px;height:0.45px;background:#cfd8e4;"></i><i style="left:13.8px;top:134px;width:184px;height:0.7px;background:#cfd6df;"></i><b style="left:13.8px;top:137.2px;font-size:2.1px;color:#0d3c80;font-weight:700;">香港科技大學 <span style="color:#a8873d">品牌管理指引</span></b><i style="left:0px;top:17px;width:211.2px;height:113px;background:repeating-linear-gradient(135deg,#f6f7f9 0 3.2px,#fff 3.2px 6.7px);"></i><i style="left:13.8px;top:8.3px;width:184px;height:1.5px;background:#a9bbd4;"></i><b style="left:13.8px;top:11.2px;font-size:2.1px;color:#0d3c80;font-weight:700;">5.1 傳播媒介</b><b style="left:192px;top:11.2px;font-size:2.1px;color:#0d3c80;font-weight:700;">88</b><i style="left:13.8px;top:14.6px;width:184px;height:0.45px;background:#cfd8e4;"></i><i style="left:13.8px;top:134px;width:184px;height:0.7px;background:#cfd6df;"></i><b style="left:13.8px;top:137.2px;font-size:2.1px;color:#0d3c80;font-weight:700;">香港科技大學 <span style="color:#a8873d">品牌管理指引</span></b><b style="left:14px;top:20.5px;font-size:4.2px;color:#1f64b8;font-weight:400;">印刷品</b><b style="left:14px;top:26.5px;font-size:7px;color:#0d3c80;font-weight:700;">通訊格式</b><b style="left:14px;top:50px;font-size:2.4px;color:#1f64b8;font-weight:700;">大學標誌位置</b><p class="f" style="left:14px;top:55px;width:58px;height:6.4px;font-size:2.1px;line-height:3.2px;color:#222;font-weight:700;"></p><b style="left:14px;top:64px;font-size:2.4px;color:#1f64b8;font-weight:700;">邊界位置</b><p class="f" style="left:14px;top:69px;width:58px;height:6.4px;font-size:2.1px;line-height:3.2px;color:#222;font-weight:700;"></p><b style="left:14px;top:81px;font-size:2.4px;color:#1f64b8;font-weight:700;">版面格式</b><p class="f" style="left:14px;top:86px;width:58px;height:9.600000000000001px;font-size:2.1px;line-height:3.2px;color:#222;font-weight:700;"></p><i style="left:92px;top:52px;width:52px;height:36px;background:#fff;box-shadow:0 0 0 0.4px #bbb,0.6px 0.8px 1.2px rgba(0,0,0,.25)"></i><i style="left:94px;top:54px;width:48px;height:0.4px;background:#aac;"></i><i style="left:95px;top:84px;width:8px;height:1px;background:#1d3f80;"></i><i style="left:160px;top:50px;width:36px;height:50px;background:#fff;box-shadow:0 0 0 0.4px #bbb,0.6px 0.8px 1.2px rgba(0,0,0,.25)"></i><i style="left:162px;top:52px;width:32px;height:0.4px;background:#aac;"></i><i style="left:163px;top:96px;width:8px;height:1px;background:#1d3f80;"></i><i style="left:88px;top:95px;width:24px;height:27px;background:#fff;box-shadow:0 0 0 0.4px #bbb,0.6px 0.8px 1.2px rgba(0,0,0,.25)"></i><i style="left:90px;top:97px;width:20px;height:0.4px;background:#aac;"></i><i style="left:91px;top:118px;width:8px;height:1px;background:#1d3f80;"></i><i style="left:116px;top:95px;width:36px;height:41px;background:#fff;box-shadow:0 0 0 0.4px #bbb,0.6px 0.8px 1.2px rgba(0,0,0,.25)"></i><i style="left:118px;top:97px;width:32px;height:0.4px;background:#aac;"></i><i style="left:119px;top:132px;width:8px;height:1px;background:#1d3f80;"></i><i style="left:156px;top:98px;width:42px;height:30px;background:#fff;box-shadow:0 0 0 0.4px #bbb,0.6px 0.8px 1.2px rgba(0,0,0,.25)"></i><i style="left:158px;top:100px;width:38px;height:0.4px;background:#aac;"></i><i style="left:156px;top:120px;width:42px;height:8px;background:#1d3f80;"></i></div>
<div class="t" style="left:868.8px;top:3406.5px;background:#fff;"><i style="left:0px;top:17px;width:211.2px;height:113px;background:repeating-linear-gradient(135deg,#f6f7f9 0 3.2px,#fff 3.2px 6.7px);"></i><i style="left:13.8px;top:8.3px;width:184px;height:1.5px;background:#a9bbd4;"></i><b style="left:13.8px;top:11.2px;font-size:2.1px;color:#0d3c80;font-weight:700;">5.1 傳播媒介</b><b style="left:192px;top:11.2px;font-size:2.1px;color:#0d3c80;font-weight:700;">89</b><i style="left:13.8px;top:14.6px;width:184px;height:0.45px;background:#cfd8e4;"></i><i style="left:13.8px;top:134px;width:184px;height:0.7px;background:#cfd6df;"></i><b style="left:13.8px;top:137.2px;font-size:2.1px;color:#0d3c80;font-weight:700;">香港科技大學 <span style="color:#a8873d">品牌管理指引</span></b><b style="left:14px;top:20.5px;font-size:4.2px;color:#1f64b8;font-weight:400;">印刷品</b><b style="left:14px;top:26.5px;font-size:7px;color:#0d3c80;font-weight:700;">文具 – 信封</b><i style="left:14px;top:43px;width:60px;height:0.8px;background:#7d97bd;"></i><p class="f" style="left:14px;top:46px;width:60px;height:3.2px;font-size:2.1px;line-height:3.2px;color:#222;font-weight:700;"></p><b style="left:14px;top:51px;font-size:2.4px;color:#1f64b8;font-weight:700;">大學標誌</b><p class="f" style="left:14px;top:55px;width:62px;height:9.600000000000001px;font-size:2.1px;line-height:3.2px;color:#222;font-weight:700;"></p><b style="left:14px;top:66px;font-size:2.4px;color:#1f64b8;font-weight:700;">字體</b><p class="f" style="left:14px;top:70px;width:62px;height:3.2px;font-size:2.1px;line-height:3.2px;color:#222;font-weight:700;"></p><b style="left:14px;top:76px;font-size:2.4px;color:#1f64b8;font-weight:700;">格式</b><p class="f" style="left:14px;top:80px;width:62px;height:3.2px;font-size:2.1px;line-height:3.2px;color:#222;font-weight:700;"></p><b style="left:14px;top:86px;font-size:2.4px;color:#1f64b8;font-weight:700;">紙張</b><p class="f" style="left:14px;top:90px;width:62px;height:3.2px;font-size:2.1px;line-height:3.2px;color:#222;font-weight:700;"></p><b style="left:85px;top:42px;font-size:2.3px;color:#1f64b8;font-weight:700;">原版(橫)信封</b><p class="f" style="left:85px;top:46px;width:24px;height:3px;font-size:2px;line-height:3px;color:#1f64b8;font-weight:700;"></p><i style="left:85px;top:73px;width:89px;height:45px;background:#fff;box-shadow:0 0 0 0.4px #ccc,0.8px 1px 1.5px rgba(0,0,0,.2)"></i><svg style="left:88px;top:77px" width="3.21" height="5" viewBox="62 115 420 655"><circle cx="272" cy="207" r="93" fill="#a8873d"/><polygon fill="#0d3c80" points="62,358 100,318 235,318 272,338 310,318 445,318 482,358 310,358 272,385 235,358"/><g fill="none" stroke="#0d3c80" stroke-width="34"><path d="M96,378 V590 Q96,670 175,722"/><path d="M149,378 V580 Q149,635 200,668"/><path d="M448,378 V590 Q448,670 369,722"/><path d="M395,378 V580 Q395,635 344,668"/></g><polygon fill="#a8873d" points="232,398 311,398 311,618 392,770 152,770 232,618"/><polygon fill="#fff" points="251,398 292,398 292,628 345,735 199,735 251,628"/></svg><b style="left:91.8px;top:76.9px;font-size:1.25px;line-height:1.25px;color:#0d3c80;font-weight:700;letter-spacing:0.35000000000000003px">香港科技大學</b><b style="left:91.8px;top:78.5px;font-size:1.1400000000000001px;line-height:1.28px;color:#0d3c80;font-weight:700;transform:scaleX(0.86);transform-origin:0 0;letter-spacing:0px">THE HONG KONG<br>UNIVERSITY OF SCIENCE<br>AND TECHNOLOGY</b><i style="left:95px;top:97px;width:6px;height:1px;background:#d7263d;"></i><i style="left:110px;top:60px;width:88px;height:45px;background:#fff;box-shadow:0 0 0 0.4px #ccc,0.8px 1px 1.5px rgba(0,0,0,.2)"></i><svg style="left:114px;top:64px" width="3.21" height="5" viewBox="62 115 420 655"><circle cx="272" cy="207" r="93" fill="#a8873d"/><polygon fill="#0d3c80" points="62,358 100,318 235,318 272,338 310,318 445,318 482,358 310,358 272,385 235,358"/><g fill="none" stroke="#0d3c80" stroke-width="34"><path d="M96,378 V590 Q96,670 175,722"/><path d="M149,378 V580 Q149,635 200,668"/><path d="M448,378 V590 Q448,670 369,722"/><path d="M395,378 V580 Q395,635 344,668"/></g><polygon fill="#a8873d" points="232,398 311,398 311,618 392,770 152,770 232,618"/><polygon fill="#fff" points="251,398 292,398 292,628 345,735 199,735 251,628"/></svg><b style="left:117.8px;top:63.9px;font-size:1.25px;line-height:1.25px;color:#0d3c80;font-weight:700;letter-spacing:0.35000000000000003px">香港科技大學</b><b style="left:117.8px;top:65.5px;font-size:1.1400000000000001px;line-height:1.28px;color:#0d3c80;font-weight:700;transform:scaleX(0.86);transform-origin:0 0;letter-spacing:0px">THE HONG KONG<br>UNIVERSITY OF SCIENCE<br>AND TECHNOLOGY</b><i style="left:120px;top:84px;width:6px;height:1px;background:#d7263d;"></i><p class="f" style="left:118px;top:97px;width:40px;height:2.6px;font-size:1.8px;line-height:2.6px;color:#1f3f80;font-weight:700;"></p></div>
<div class="t" style="left:0.0px;top:3562.0px;background:#fff;"><i style="left:0px;top:17px;width:211.2px;height:113px;background:repeating-linear-gradient(135deg,#f6f7f9 0 3.2px,#fff 3.2px 6.7px);"></i><i style="left:13.8px;top:8.3px;width:184px;height:1.5px;background:#a9bbd4;"></i><b style="left:13.8px;top:11.2px;font-size:2.1px;color:#0d3c80;font-weight:700;">5.1 傳播媒介</b><b style="left:192px;top:11.2px;font-size:2.1px;color:#0d3c80;font-weight:700;">90</b><i style="left:13.8px;top:14.6px;width:184px;height:0.45px;background:#cfd8e4;"></i><i style="left:13.8px;top:134px;width:184px;height:0.7px;background:#cfd6df;"></i><b style="left:13.8px;top:137.2px;font-size:2.1px;color:#0d3c80;font-weight:700;">香港科技大學 <span style="color:#a8873d">品牌管理指引</span></b><b style="left:14px;top:20.5px;font-size:4.2px;color:#1f64b8;font-weight:400;">印刷品</b><b style="left:14px;top:26.5px;font-size:7px;color:#0d3c80;font-weight:700;">文具 – 信紙</b><i style="left:14px;top:43px;width:60px;height:0.8px;background:#7d97bd;"></i><p class="f" style="left:14px;top:47px;width:60px;height:3.2px;font-size:2.1px;line-height:3.2px;color:#222;font-weight:700;"></p><b style="left:14px;top:53px;font-size:2.4px;color:#1f64b8;font-weight:700;">大學標誌</b><p class="f" style="left:14px;top:57px;width:62px;height:6.4px;font-size:2.1px;line-height:3.2px;color:#222;font-weight:700;"></p><b style="left:14px;top:64px;font-size:2.4px;color:#1f64b8;font-weight:700;">大學標誌</b><p class="f" style="left:14px;top:68px;width:62px;height:3.2px;font-size:2.1px;line-height:3.2px;color:#222;font-weight:700;"></p><b style="left:14px;top:75px;font-size:2.4px;color:#1f64b8;font-weight:700;">大學標誌</b><p class="f" style="left:14px;top:79px;width:62px;height:3.2px;font-size:2.1px;line-height:3.2px;color:#222;font-weight:700;"></p><b style="left:14px;top:86px;font-size:2.4px;color:#1f64b8;font-weight:700;">大學標誌</b><p class="f" style="left:14px;top:90px;width:62px;height:3.2px;font-size:2.1px;line-height:3.2px;color:#222;font-weight:700;"></p><i style="left:110px;top:33px;width:60px;height:92px;background:#fff;box-shadow:0 0 0 0.4px #ccc,0.8px 1px 1.5px rgba(0,0,0,.25)"></i><p class="f" style="left:114px;top:38px;width:12px;height:4.8px;font-size:1.8px;line-height:2.4px;color:#0d3c80;font-weight:700;"></p><p class="f" style="left:114px;top:118px;width:40px;height:2.4px;font-size:1.6px;line-height:2.4px;color:#888;font-weight:700;"></p></div>
<div class="t" style="left:217.2px;top:3562.0px;background:#fff;"><i style="left:0px;top:17px;width:211.2px;height:113px;background:repeating-linear-gradient(135deg,#f6f7f9 0 3.2px,#fff 3.2px 6.7px);"></i><i style="left:13.8px;top:8.3px;width:184px;height:1.5px;background:#a9bbd4;"></i><b style="left:13.8px;top:11.2px;font-size:2.1px;color:#0d3c80;font-weight:700;">5.1 傳播媒介</b><b style="left:192px;top:11.2px;font-size:2.1px;color:#0d3c80;font-weight:700;">91</b><i style="left:13.8px;top:14.6px;width:184px;height:0.45px;background:#cfd8e4;"></i><i style="left:13.8px;top:134px;width:184px;height:0.7px;background:#cfd6df;"></i><b style="left:13.8px;top:137.2px;font-size:2.1px;color:#0d3c80;font-weight:700;">香港科技大學 <span style="color:#a8873d">品牌管理指引</span></b><b style="left:14px;top:20.5px;font-size:4.2px;color:#1f64b8;font-weight:400;">印刷品</b><b style="left:14px;top:26.5px;font-size:7px;color:#0d3c80;font-weight:700;">文具 – 卡片</b><i style="left:14px;top:43px;width:60px;height:0.8px;background:#7d97bd;"></i><p class="f" style="left:14px;top:47px;width:60px;height:3.2px;font-size:2.1px;line-height:3.2px;color:#222;font-weight:700;"></p><b style="left:14px;top:53px;font-size:2.4px;color:#1f64b8;font-weight:700;">大學標誌</b><p class="f" style="left:14px;top:57px;width:62px;height:6.4px;font-size:2.1px;line-height:3.2px;color:#222;font-weight:700;"></p><b style="left:14px;top:64px;font-size:2.4px;color:#1f64b8;font-weight:700;">大學標誌</b><p class="f" style="left:14px;top:68px;width:62px;height:3.2px;font-size:2.1px;line-height:3.2px;color:#222;font-weight:700;"></p><b style="left:14px;top:75px;font-size:2.4px;color:#1f64b8;font-weight:700;">大學標誌</b><p class="f" style="left:14px;top:79px;width:62px;height:3.2px;font-size:2.1px;line-height:3.2px;color:#222;font-weight:700;"></p><b style="left:14px;top:86px;font-size:2.4px;color:#1f64b8;font-weight:700;">大學標誌</b><p class="f" style="left:14px;top:90px;width:62px;height:3.2px;font-size:2.1px;line-height:3.2px;color:#222;font-weight:700;"></p><b style="left:120px;top:35px;font-size:2.2px;color:#1f64b8;font-weight:700;">卡片(橫式)原版</b><b style="left:118px;top:49px;font-size:2px;color:#222;font-weight:400;">正面</b><b style="left:118px;top:87px;font-size:2px;color:#222;font-weight:400;">背面</b><i style="left:123px;top:54px;width:34px;height:22px;background:#fff;box-shadow:0 0 0 0.4px #ccc,0.8px 1px 1.5px rgba(0,0,0,.25)"></i><svg style="left:125px;top:64px" width="3.21" height="5" viewBox="62 115 420 655"><circle cx="272" cy="207" r="93" fill="#a8873d"/><polygon fill="#0d3c80" points="62,358 100,318 235,318 272,338 310,318 445,318 482,358 310,358 272,385 235,358"/><g fill="none" stroke="#0d3c80" stroke-width="34"><path d="M96,378 V590 Q96,670 175,722"/><path d="M149,378 V580 Q149,635 200,668"/><path d="M448,378 V590 Q448,670 369,722"/><path d="M395,378 V580 Q395,635 344,668"/></g><polygon fill="#a8873d" points="232,398 311,398 311,618 392,770 152,770 232,618"/><polygon fill="#fff" points="251,398 292,398 292,628 345,735 199,735 251,628"/></svg><p class="f" style="left:133px;top:63px;width:20px;height:4.8px;font-size:1.6px;line-height:2.4px;color:#0d3c80;font-weight:700;"></p><p class="f" style="left:126px;top:57px;width:18px;height:2.2px;font-size:1.5px;line-height:2.2px;color:#333;font-weight:700;"></p><i style="left:163px;top:54px;width:34px;height:22px;background:#fff;box-shadow:0 0 0 0.4px #ccc,0.8px 1px 1.5px rgba(0,0,0,.25)"></i><svg style="left:165px;top:64px" width="3.21" height="5" viewBox="62 115 420 655"><circle cx="272" cy="207" r="93" fill="#a8873d"/><polygon fill="#0d3c80" points="62,358 100,318 235,318 272,338 310,318 445,318 482,358 310,358 272,385 235,358"/><g fill="none" stroke="#0d3c80" stroke-width="34"><path d="M96,378 V590 Q96,670 175,722"/><path d="M149,378 V580 Q149,635 200,668"/><path d="M448,378 V590 Q448,670 369,722"/><path d="M395,378 V580 Q395,635 344,668"/></g><polygon fill="#a8873d" points="232,398 311,398 311,618 392,770 152,770 232,618"/><polygon fill="#fff" points="251,398 292,398 292,628 345,735 199,735 251,628"/></svg><p class="f" style="left:173px;top:63px;width:20px;height:4.8px;font-size:1.6px;line-height:2.4px;color:#0d3c80;font-weight:700;"></p><p class="f" style="left:166px;top:57px;width:18px;height:2.2px;font-size:1.5px;line-height:2.2px;color:#333;font-weight:700;"></p><i style="left:123px;top:90px;width:34px;height:22px;background:#fff;box-shadow:0 0 0 0.4px #ccc,0.8px 1px 1.5px rgba(0,0,0,.25)"></i><svg style="left:125px;top:100px" width="3.21" height="5" viewBox="62 115 420 655"><circle cx="272" cy="207" r="93" fill="#a8873d"/><polygon fill="#0d3c80" points="62,358 100,318 235,318 272,338 310,318 445,318 482,358 310,358 272,385 235,358"/><g fill="none" stroke="#0d3c80" stroke-width="34"><path d="M96,378 V590 Q96,670 175,722"/><path d="M149,378 V580 Q149,635 200,668"/><path d="M448,378 V590 Q448,670 369,722"/><path d="M395,378 V580 Q395,635 344,668"/></g><polygon fill="#a8873d" points="232,398 311,398 311,618 392,770 152,770 232,618"/><polygon fill="#fff" points="251,398 292,398 292,628 345,735 199,735 251,628"/></svg><p class="f" style="left:133px;top:99px;width:20px;height:4.8px;font-size:1.6px;line-height:2.4px;color:#0d3c80;font-weight:700;"></p><p class="f" style="left:126px;top:93px;width:18px;height:2.2px;font-size:1.5px;line-height:2.2px;color:#333;font-weight:700;"></p><i style="left:163px;top:90px;width:34px;height:22px;background:#fff;box-shadow:0 0 0 0.4px #ccc,0.8px 1px 1.5px rgba(0,0,0,.25)"></i><svg style="left:165px;top:100px" width="3.21" height="5" viewBox="62 115 420 655"><circle cx="272" cy="207" r="93" fill="#a8873d"/><polygon fill="#0d3c80" points="62,358 100,318 235,318 272,338 310,318 445,318 482,358 310,358 272,385 235,358"/><g fill="none" stroke="#0d3c80" stroke-width="34"><path d="M96,378 V590 Q96,670 175,722"/><path d="M149,378 V580 Q149,635 200,668"/><path d="M448,378 V590 Q448,670 369,722"/><path d="M395,378 V580 Q395,635 344,668"/></g><polygon fill="#a8873d" points="232,398 311,398 311,618 392,770 152,770 232,618"/><polygon fill="#fff" points="251,398 292,398 292,628 345,735 199,735 251,628"/></svg><p class="f" style="left:173px;top:99px;width:20px;height:4.8px;font-size:1.6px;line-height:2.4px;color:#0d3c80;font-weight:700;"></p><p class="f" style="left:166px;top:93px;width:18px;height:2.2px;font-size:1.5px;line-height:2.2px;color:#333;font-weight:700;"></p></div>
<div class="t" style="left:434.4px;top:3562.0px;background:#fff;"><i style="left:0px;top:17px;width:211.2px;height:113px;background:repeating-linear-gradient(135deg,#f6f7f9 0 3.2px,#fff 3.2px 6.7px);"></i><i style="left:13.8px;top:8.3px;width:184px;height:1.5px;background:#a9bbd4;"></i><b style="left:13.8px;top:11.2px;font-size:2.1px;color:#0d3c80;font-weight:700;">5.1 傳播媒介</b><b style="left:192px;top:11.2px;font-size:2.1px;color:#0d3c80;font-weight:700;">92</b><i style="left:13.8px;top:14.6px;width:184px;height:0.45px;background:#cfd8e4;"></i><i style="left:13.8px;top:134px;width:184px;height:0.7px;background:#cfd6df;"></i><b style="left:13.8px;top:137.2px;font-size:2.1px;color:#0d3c80;font-weight:700;">香港科技大學 <span style="color:#a8873d">品牌管理指引</span></b><b style="left:14px;top:20.5px;font-size:4.2px;color:#1f64b8;font-weight:400;">印刷品</b><b style="left:14px;top:26.5px;font-size:7px;color:#0d3c80;font-weight:700;">紀念品</b><p class="f" style="left:104px;top:22px;width:92px;height:9.600000000000001px;font-size:2.1px;line-height:3.2px;color:#222;font-weight:700;"></p><p class="f" style="left:104px;top:35px;width:70px;height:3.2px;font-size:2.1px;line-height:3.2px;color:#222;font-weight:700;"></p><b style="left:14px;top:55px;font-size:2.2px;color:#0d3c80;font-weight:700;">範例</b><i style="left:14px;top:62px;width:42px;height:55px;background:#f4f4f4;"></i><svg style="left:14px;top:62px" width="42" height="55"><ellipse cx="21" cy="30" rx="15" ry="9" fill="none" stroke="#8a9096" stroke-width="2.6"/><path d="M8,27 Q21,16 34,27" fill="none" stroke="#d8dce0" stroke-width="1.2"/><path d="M18,21 Q21,26 25,21" fill="none" stroke="#6a7076" stroke-width="1.5"/></svg><i style="left:60px;top:62px;width:42px;height:55px;background:#f2f2f2;"></i><i style="left:78px;top:64px;width:5px;height:52px;background:linear-gradient(90deg,#5a5e62,#e0e4e8,#6a6e72);"></i><i style="left:106px;top:62px;width:42px;height:55px;background:#f4f4f4;"></i><i style="left:109px;top:76px;width:36px;height:22px;background:#1a1a1a;"></i><i style="left:112px;top:79px;width:30px;height:11px;background:linear-gradient(90deg,#8a6a2e,#d8c07a,#8a6a30);"></i><i style="left:111px;top:96px;width:34px;height:3px;background:#3a3020;"></i><i style="left:152px;top:62px;width:46px;height:55px;background:#f4f4f4;"></i><svg style="left:152px;top:62px" width="46" height="55"><path d="M5,10 L22,8 L44,50 L30,55Z" fill="#1e2a6a"/><g fill="#c9a34a"><circle cx="18" cy="15" r="1"/><circle cx="26" cy="24" r="1"/><circle cx="32" cy="34" r="1"/><circle cx="36" cy="44" r="1"/></g></svg></div>
<div class="t" style="left:651.6px;top:3562.0px;background:#fff;"><i style="left:0px;top:17px;width:211.2px;height:113px;background:repeating-linear-gradient(135deg,#f6f7f9 0 3.2px,#fff 3.2px 6.7px);"></i><i style="left:13.8px;top:8.3px;width:184px;height:1.5px;background:#a9bbd4;"></i><b style="left:13.8px;top:11.2px;font-size:2.1px;color:#0d3c80;font-weight:700;">5.1 傳播媒介</b><b style="left:192px;top:11.2px;font-size:2.1px;color:#0d3c80;font-weight:700;">93</b><i style="left:13.8px;top:14.6px;width:184px;height:0.45px;background:#cfd8e4;"></i><i style="left:13.8px;top:134px;width:184px;height:0.7px;background:#cfd6df;"></i><b style="left:13.8px;top:137.2px;font-size:2.1px;color:#0d3c80;font-weight:700;">香港科技大學 <span style="color:#a8873d">品牌管理指引</span></b><b style="left:14px;top:20.5px;font-size:4.2px;color:#1f64b8;font-weight:400;">印刷品</b><b style="left:14px;top:26.5px;font-size:7px;color:#0d3c80;font-weight:700;">刊物</b><b style="left:14px;top:45px;font-size:2.2px;color:#222;font-weight:700;">簡介</b><i style="left:14px;top:49px;width:58px;height:0.8px;background:#7d97bd;"></i><b style="left:88px;top:45px;font-size:2.2px;color:#222;font-weight:700;">範例展示</b><i style="left:88px;top:49px;width:110px;height:0.8px;background:#7d97bd;"></i><p class="f" style="left:14px;top:54px;width:70px;height:6.4px;font-size:2.1px;line-height:3.2px;color:#222;font-weight:700;"></p><b style="left:14px;top:63px;font-size:2.4px;color:#1f64b8;font-weight:700;">雜誌</b><p class="f" style="left:14px;top:68px;width:70px;height:6.4px;font-size:2.1px;line-height:3.2px;color:#222;font-weight:700;"></p><i style="left:91px;top:56px;width:104px;height:60px;background:#fff;box-shadow:0 0 0 0.4px #ccc,0.8px 1px 1.5px rgba(0,0,0,.25)"></i><p class="f" style="left:96px;top:62px;width:42px;height:47.6px;font-size:1.8px;line-height:3.4px;color:#777;font-weight:700;"></p><i style="left:143px;top:56px;width:52px;height:60px;background:linear-gradient(180deg,#c89050,#6a4a30);"></i><svg style="left:143px;top:56px" width="52" height="60"><path d="M8,60 Q10,35 26,32 Q42,35 46,60Z" fill="#1e2a5a"/><ellipse cx="26" cy="22" rx="8" ry="10" fill="#d0a080"/><path d="M18,18 Q26,8 34,18Z" fill="#111"/></svg><i style="left:118px;top:80px;width:14px;height:14px;background:#ccd;"></i></div>
<div class="t" style="left:868.8px;top:3562.0px;background:#fff;"><i style="left:0px;top:17px;width:211.2px;height:113px;background:repeating-linear-gradient(135deg,#f6f7f9 0 3.2px,#fff 3.2px 6.7px);"></i><i style="left:13.8px;top:8.3px;width:184px;height:1.5px;background:#a9bbd4;"></i><b style="left:13.8px;top:11.2px;font-size:2.1px;color:#0d3c80;font-weight:700;">5.1 傳播媒介</b><b style="left:192px;top:11.2px;font-size:2.1px;color:#0d3c80;font-weight:700;">94</b><i style="left:13.8px;top:14.6px;width:184px;height:0.45px;background:#cfd8e4;"></i><i style="left:13.8px;top:134px;width:184px;height:0.7px;background:#cfd6df;"></i><b style="left:13.8px;top:137.2px;font-size:2.1px;color:#0d3c80;font-weight:700;">香港科技大學 <span style="color:#a8873d">品牌管理指引</span></b><b style="left:14px;top:20.5px;font-size:4.2px;color:#1f64b8;font-weight:400;">印刷品</b><b style="left:14px;top:26.5px;font-size:7px;color:#0d3c80;font-weight:700;">刊物</b><b style="left:14px;top:46px;font-size:2.2px;color:#222;font-weight:700;">簡介</b><i style="left:14px;top:49px;width:64px;height:0.8px;background:#7d97bd;"></i><b style="left:90px;top:46px;font-size:2.2px;color:#222;font-weight:700;">範例展示</b><i style="left:90px;top:49px;width:108px;height:0.8px;background:#7d97bd;"></i><b style="left:14px;top:55px;font-size:2.4px;color:#1f64b8;font-weight:700;">通訊刊物</b><p class="f" style="left:14px;top:60px;width:62px;height:3.2px;font-size:2.1px;line-height:3.2px;color:#222;font-weight:700;"></p><i style="left:91px;top:57px;width:107px;height:72px;background:#fafafa;box-shadow:0 0 0 0.4px #ccc,0.8px 1px 1.5px rgba(0,0,0,.25)"></i><p class="f" style="left:96px;top:67px;width:40px;height:15.600000000000001px;font-size:1.8px;line-height:2.6px;color:#999;font-weight:700;"></p><p class="f" style="left:100px;top:95px;width:30px;height:15.600000000000001px;font-size:1.8px;line-height:2.6px;color:#999;font-weight:700;"></p><p class="f" style="left:136px;top:108px;width:52px;height:13.0px;font-size:1.8px;line-height:2.6px;color:#999;font-weight:700;"></p><i style="left:93px;top:83px;width:50px;height:36px;background:linear-gradient(180deg,#7fb0d8,#5a8a60);"></i><svg style="left:93px;top:83px" width="50" height="36"><path d="M4,36 Q8,18 20,16 Q30,18 32,36Z" fill="#1a1a28"/><ellipse cx="18" cy="12" rx="5" ry="6" fill="#d0a080"/><path d="M26,36 Q30,18 40,16 Q48,20 50,36Z" fill="#d8c8b0"/><ellipse cx="38" cy="11" rx="5" ry="6" fill="#c89878"/></svg><i style="left:166px;top:74px;width:30px;height:45px;background:linear-gradient(180deg,#6fa0d0,#3a6a90);"></i><svg style="left:166px;top:74px" width="30" height="45"><path d="M4,30 Q8,16 14,15 Q22,16 22,30Z" fill="#1a1a28"/><ellipse cx="13" cy="10" rx="4" ry="5" fill="#d0a080"/><path d="M10,45 Q14,28 22,28 Q28,30 30,45Z" fill="#1a1a20"/><ellipse cx="21" cy="24" rx="4" ry="5" fill="#c89878"/></svg></div>
<div class="t" style="left:0.0px;top:3717.4px;background:#fff;"><i style="left:0px;top:17px;width:211.2px;height:113px;background:repeating-linear-gradient(135deg,#f6f7f9 0 3.2px,#fff 3.2px 6.7px);"></i><i style="left:13.8px;top:8.3px;width:184px;height:1.5px;background:#a9bbd4;"></i><b style="left:13.8px;top:11.2px;font-size:2.1px;color:#0d3c80;font-weight:700;">5.1 傳播媒介</b><b style="left:192px;top:11.2px;font-size:2.1px;color:#0d3c80;font-weight:700;">95</b><i style="left:13.8px;top:14.6px;width:184px;height:0.45px;background:#cfd8e4;"></i><i style="left:13.8px;top:134px;width:184px;height:0.7px;background:#cfd6df;"></i><b style="left:13.8px;top:137.2px;font-size:2.1px;color:#0d3c80;font-weight:700;">香港科技大學 <span style="color:#a8873d">品牌管理指引</span></b><b style="left:14px;top:20.5px;font-size:4.2px;color:#1f64b8;font-weight:400;">印刷品</b><b style="left:14px;top:26.5px;font-size:7px;color:#0d3c80;font-weight:700;">刊物</b><b style="left:14px;top:45px;font-size:2.2px;color:#222;font-weight:700;">簡介</b><i style="left:14px;top:49px;width:58px;height:0.8px;background:#7d97bd;"></i><b style="left:88px;top:45px;font-size:2.2px;color:#222;font-weight:700;">範例展示</b><i style="left:88px;top:49px;width:110px;height:0.8px;background:#7d97bd;"></i><b style="left:14px;top:54px;font-size:2.4px;color:#1f64b8;font-weight:700;">雜誌</b><p class="f" style="left:14px;top:59px;width:60px;height:6.4px;font-size:2.1px;line-height:3.2px;color:#222;font-weight:700;"></p><p class="f" style="left:14px;top:70px;width:60px;height:9.600000000000001px;font-size:2.1px;line-height:3.2px;color:#222;font-weight:700;"></p><i style="left:90px;top:60px;width:50px;height:60px;background:#f4f0e0;box-shadow:0 0 0 0.4px #ccc,0.8px 1px 1.5px rgba(0,0,0,.25)"></i><i style="left:140px;top:62px;width:50px;height:56px;background:#fff;box-shadow:0 0 0 0.4px #ccc,0.8px 1px 1.5px rgba(0,0,0,.25)"></i><p class="f" style="left:95px;top:64px;width:40px;height:8.399999999999999px;font-size:1.8px;line-height:2.8px;color:#555;font-weight:700;"></p><i style="left:95px;top:78px;width:36px;height:28px;background:linear-gradient(135deg,#d8dce0,#8898a8);"></i><i style="left:112px;top:98px;width:10px;height:10px;background:#3a2a28;"></i><i style="left:165px;top:70px;width:18px;height:14px;background:linear-gradient(180deg,#3a3a50,#9a8a80);"></i><p class="f" style="left:145px;top:66px;width:18px;height:36.4px;font-size:1.8px;line-height:2.6px;color:#777;font-weight:700;"></p><p class="f" style="left:166px;top:88px;width:20px;height:23.400000000000002px;font-size:1.8px;line-height:2.6px;color:#777;font-weight:700;"></p><i style="left:150px;top:105px;width:30px;height:10px;background:#3a3a40;"></i></div>
<div class="t" style="left:217.2px;top:3717.4px;background:#fff;"><i style="left:0px;top:17px;width:211.2px;height:113px;background:repeating-linear-gradient(135deg,#f6f7f9 0 3.2px,#fff 3.2px 6.7px);"></i><i style="left:13.8px;top:8.3px;width:184px;height:1.5px;background:#a9bbd4;"></i><b style="left:13.8px;top:11.2px;font-size:2.1px;color:#0d3c80;font-weight:700;">5.1 傳播媒介</b><b style="left:192px;top:11.2px;font-size:2.1px;color:#0d3c80;font-weight:700;">96</b><i style="left:13.8px;top:14.6px;width:184px;height:0.45px;background:#cfd8e4;"></i><i style="left:13.8px;top:134px;width:184px;height:0.7px;background:#cfd6df;"></i><b style="left:13.8px;top:137.2px;font-size:2.1px;color:#0d3c80;font-weight:700;">香港科技大學 <span style="color:#a8873d">品牌管理指引</span></b><b style="left:14px;top:20.5px;font-size:4.2px;color:#1f64b8;font-weight:400;">印刷品</b><b style="left:14px;top:26.5px;font-size:7px;color:#0d3c80;font-weight:700;">平面廣告</b><i style="left:14px;top:43px;width:60px;height:0.8px;background:#7d97bd;"></i><b style="left:14px;top:50.0px;font-size:2.4px;color:#1f64b8;font-weight:700;">標誌位置</b><p class="f" style="left:14px;top:54.0px;width:60px;height:6.4px;font-size:2.1px;line-height:3.2px;color:#222;font-weight:700;"></p><b style="left:14px;top:61.5px;font-size:2.4px;color:#1f64b8;font-weight:700;">標誌位置</b><p class="f" style="left:14px;top:65.5px;width:60px;height:6.4px;font-size:2.1px;line-height:3.2px;color:#222;font-weight:700;"></p><b style="left:14px;top:73.0px;font-size:2.4px;color:#1f64b8;font-weight:700;">標誌位置</b><p class="f" style="left:14px;top:77.0px;width:60px;height:6.4px;font-size:2.1px;line-height:3.2px;color:#222;font-weight:700;"></p><b style="left:14px;top:84.5px;font-size:2.4px;color:#1f64b8;font-weight:700;">標誌位置</b><p class="f" style="left:14px;top:88.5px;width:60px;height:6.4px;font-size:2.1px;line-height:3.2px;color:#222;font-weight:700;"></p><b style="left:110px;top:45px;font-size:2.2px;color:#222;font-weight:700;">設計展示</b><i style="left:130px;top:17px;width:53px;height:63px;background:linear-gradient(180deg,#eef0f2,#d8dce0);box-shadow:0 0 0 0.4px #ccc,0.8px 1px 1.5px rgba(0,0,0,.25)"></i><p class="f" style="left:135px;top:28px;width:30px;height:9.600000000000001px;font-size:2.4px;line-height:3.2px;color:#1f3f80;font-weight:700;"></p><svg style="left:135px;top:67px" width="3.85" height="6" viewBox="62 115 420 655"><circle cx="272" cy="207" r="93" fill="#a8873d"/><polygon fill="#0d3c80" points="62,358 100,318 235,318 272,338 310,318 445,318 482,358 310,358 272,385 235,358"/><g fill="none" stroke="#0d3c80" stroke-width="34"><path d="M96,378 V590 Q96,670 175,722"/><path d="M149,378 V580 Q149,635 200,668"/><path d="M448,378 V590 Q448,670 369,722"/><path d="M395,378 V580 Q395,635 344,668"/></g><polygon fill="#a8873d" points="232,398 311,398 311,618 392,770 152,770 232,618"/><polygon fill="#fff" points="251,398 292,398 292,628 345,735 199,735 251,628"/></svg><i style="left:163px;top:75px;width:20px;height:5px;background:#fff;"></i><i style="left:110px;top:84px;width:73px;height:48px;background:linear-gradient(180deg,#0a1a40,#2a4a7a 60%,#0c1830);box-shadow:0 0 0 0.4px #ccc,0.8px 1px 1.5px rgba(0,0,0,.25)"></i><svg style="left:110px;top:84px" width="73" height="48"><g stroke="#8ab0e0" stroke-width=".6" opacity=".6"><path d="M0,10 L73,20 M0,20 L73,15 M10,0 L40,48 M60,0 L30,48"/></g><rect x="12" y="20" width="6" height="20" fill="#d0d8e8"/></svg><p class="f" style="left:116px;top:88px;width:30px;height:6px;font-size:2.2px;line-height:3px;color:#fff;font-weight:700;"></p><svg style="left:114px;top:124px" width="3.21" height="5" viewBox="62 115 420 655"><circle cx="272" cy="207" r="93" fill="#fff"/><polygon fill="#fff" points="62,358 100,318 235,318 272,338 310,318 445,318 482,358 310,358 272,385 235,358"/><g fill="none" stroke="#fff" stroke-width="34"><path d="M96,378 V590 Q96,670 175,722"/><path d="M149,378 V580 Q149,635 200,668"/><path d="M448,378 V590 Q448,670 369,722"/><path d="M395,378 V580 Q395,635 344,668"/></g><polygon fill="#fff" points="232,398 311,398 311,618 392,770 152,770 232,618"/><polygon fill="#0a1a40" points="251,398 292,398 292,628 345,735 199,735 251,628"/></svg><b style="left:188px;top:40px;font-size:1.8px;color:#222;font-weight:400;">左上</b><b style="left:188px;top:62px;font-size:1.8px;color:#222;font-weight:400;">左下</b><b style="left:188px;top:100px;font-size:1.8px;color:#222;font-weight:400;">右上</b><b style="left:188px;top:120px;font-size:1.8px;color:#222;font-weight:400;">右下</b></div>
<div class="t" style="left:434.4px;top:3717.4px;background:#fff;"><i style="left:0px;top:17px;width:211.2px;height:113px;background:repeating-linear-gradient(135deg,#f6f7f9 0 3.2px,#fff 3.2px 6.7px);"></i><i style="left:13.8px;top:8.3px;width:184px;height:1.5px;background:#a9bbd4;"></i><b style="left:13.8px;top:11.2px;font-size:2.1px;color:#0d3c80;font-weight:700;">5.1 傳播媒介</b><b style="left:192px;top:11.2px;font-size:2.1px;color:#0d3c80;font-weight:700;">97</b><i style="left:13.8px;top:14.6px;width:184px;height:0.45px;background:#cfd8e4;"></i><i style="left:13.8px;top:134px;width:184px;height:0.7px;background:#cfd6df;"></i><b style="left:13.8px;top:137.2px;font-size:2.1px;color:#0d3c80;font-weight:700;">香港科技大學 <span style="color:#a8873d">品牌管理指引</span></b><b style="left:14px;top:20.5px;font-size:4.2px;color:#1f64b8;font-weight:400;">印刷品</b><b style="left:14px;top:26.5px;font-size:7px;color:#0d3c80;font-weight:700;">活動佈景板</b><i style="left:14px;top:43px;width:60px;height:0.8px;background:#7d97bd;"></i><i style="left:15px;top:50px;width:1px;height:1px;background:#222;"></i><p class="f" style="left:18px;top:48.5px;width:60px;height:6.4px;font-size:2.1px;line-height:3.2px;color:#222;font-weight:700;"></p><i style="left:15px;top:60px;width:1px;height:1px;background:#222;"></i><p class="f" style="left:18px;top:58.5px;width:60px;height:6.4px;font-size:2.1px;line-height:3.2px;color:#222;font-weight:700;"></p><i style="left:15px;top:70px;width:1px;height:1px;background:#222;"></i><p class="f" style="left:18px;top:68.5px;width:60px;height:6.4px;font-size:2.1px;line-height:3.2px;color:#222;font-weight:700;"></p><i style="left:15px;top:80px;width:1px;height:1px;background:#222;"></i><p class="f" style="left:18px;top:78.5px;width:60px;height:3.2px;font-size:2.1px;line-height:3.2px;color:#222;font-weight:700;"></p><i style="left:15px;top:90px;width:1px;height:1px;background:#222;"></i><p class="f" style="left:18px;top:88.5px;width:60px;height:3.2px;font-size:2.1px;line-height:3.2px;color:#222;font-weight:700;"></p><i style="left:92px;top:30px;width:86px;height:40px;background:#1d3a7a;"></i><svg style="left:97px;top:34px" width="3.85" height="6" viewBox="62 115 420 655"><circle cx="272" cy="207" r="93" fill="#fff"/><polygon fill="#fff" points="62,358 100,318 235,318 272,338 310,318 445,318 482,358 310,358 272,385 235,358"/><g fill="none" stroke="#fff" stroke-width="34"><path d="M96,378 V590 Q96,670 175,722"/><path d="M149,378 V580 Q149,635 200,668"/><path d="M448,378 V590 Q448,670 369,722"/><path d="M395,378 V580 Q395,635 344,668"/></g><polygon fill="#fff" points="232,398 311,398 311,618 392,770 152,770 232,618"/><polygon fill="#1d3a7a" points="251,398 292,398 292,628 345,735 199,735 251,628"/></svg><b style="left:101.56px;top:33.88px;font-size:1.5px;line-height:1.5px;color:#fff;font-weight:700;letter-spacing:0.42000000000000004px">香港科技大學</b><b style="left:101.56px;top:35.8px;font-size:1.368px;line-height:1.536px;color:#fff;font-weight:700;transform:scaleX(0.86);transform-origin:0 0;letter-spacing:0px">THE HONG KONG<br>UNIVERSITY OF SCIENCE<br>AND TECHNOLOGY</b><b style="left:98px;top:46px;font-size:2.4px;color:#fff;font-weight:700;">KEY MESSAGE GOES HERE</b><svg style="left:168px;top:44px" width="22" height="30"><g fill="#8a8e92"><circle cx="6" cy="4" r="3"/><path d="M2,8 H10 L11,30 H1Z"/><circle cx="16" cy="6" r="3"/><path d="M12,10 H20 L21,30 H11Z"/></g></svg><i style="left:92px;top:88px;width:86px;height:42px;background:linear-gradient(180deg,#8ac0e8 0%,#cfe0f0 40%,#e8ecef 55%,#7a9a70 80%,#3a5a30 100%);"></i><i style="left:92px;top:88px;width:86px;height:8px;background:#1d3a7a;"></i><b style="left:98px;top:98px;font-size:2.4px;color:#fff;font-weight:700;">KEY MESSAGE GOES HERE</b><svg style="left:168px;top:100px" width="22" height="30"><g fill="#8a8e92"><circle cx="6" cy="4" r="3"/><path d="M2,8 H10 L11,30 H1Z"/><circle cx="16" cy="6" r="3"/><path d="M12,10 H20 L21,30 H11Z"/></g></svg></div>
<div class="t" style="left:651.6px;top:3717.4px;background:#fff;"><i style="left:0px;top:17px;width:211.2px;height:113px;background:repeating-linear-gradient(135deg,#f6f7f9 0 3.2px,#fff 3.2px 6.7px);"></i><i style="left:13.8px;top:8.3px;width:184px;height:1.5px;background:#a9bbd4;"></i><b style="left:13.8px;top:11.2px;font-size:2.1px;color:#0d3c80;font-weight:700;">5.1 傳播媒介</b><b style="left:192px;top:11.2px;font-size:2.1px;color:#0d3c80;font-weight:700;">98</b><i style="left:13.8px;top:14.6px;width:184px;height:0.45px;background:#cfd8e4;"></i><i style="left:13.8px;top:134px;width:184px;height:0.7px;background:#cfd6df;"></i><b style="left:13.8px;top:137.2px;font-size:2.1px;color:#0d3c80;font-weight:700;">香港科技大學 <span style="color:#a8873d">品牌管理指引</span></b><b style="left:14px;top:20.5px;font-size:4.2px;color:#1f64b8;font-weight:400;">印刷品</b><b style="left:14px;top:26.5px;font-size:7px;color:#0d3c80;font-weight:700;">易拉架</b><i style="left:14px;top:43px;width:60px;height:0.8px;background:#7d97bd;"></i><i style="left:15px;top:50px;width:1px;height:1px;background:#222;"></i><p class="f" style="left:18px;top:48.5px;width:60px;height:6.4px;font-size:2.1px;line-height:3.2px;color:#222;font-weight:700;"></p><i style="left:15px;top:60px;width:1px;height:1px;background:#222;"></i><p class="f" style="left:18px;top:58.5px;width:60px;height:6.4px;font-size:2.1px;line-height:3.2px;color:#222;font-weight:700;"></p><i style="left:15px;top:70px;width:1px;height:1px;background:#222;"></i><p class="f" style="left:18px;top:68.5px;width:60px;height:6.4px;font-size:2.1px;line-height:3.2px;color:#222;font-weight:700;"></p><i style="left:15px;top:80px;width:1px;height:1px;background:#222;"></i><p class="f" style="left:18px;top:78.5px;width:60px;height:6.4px;font-size:2.1px;line-height:3.2px;color:#222;font-weight:700;"></p><i style="left:15px;top:90px;width:1px;height:1px;background:#222;"></i><p class="f" style="left:18px;top:88.5px;width:60px;height:3.2px;font-size:2.1px;line-height:3.2px;color:#222;font-weight:700;"></p><i style="left:90px;top:48px;width:22px;height:68px;background:#fff;box-shadow:0 0 0 0.4px #ccc,0.8px 1px 1.5px rgba(0,0,0,.25)"></i><i style="left:92px;top:52px;width:18px;height:8px;background:#1d3a7a;"></i><b style="left:92px;top:62px;font-size:2.2px;color:#0d3c80;font-weight:700;">KEY MESSAGE</b><b style="left:92px;top:65px;font-size:2.2px;color:#0d3c80;font-weight:700;">GOES HERE</b><i style="left:116px;top:45px;width:22px;height:72px;background:#1d3a7a;"></i><b style="left:118px;top:62px;font-size:2.2px;color:#fff;font-weight:700;">KEY MESSAGE</b><i style="left:116px;top:76px;width:22px;height:38px;background:linear-gradient(180deg,#8ac0e8,#6a9a60 60%,#3a5a30);"></i><svg style="left:136px;top:80px" width="30" height="45"><g fill="#8e9296"><circle cx="9" cy="5" r="4"/><path d="M4,10 H14 L16,45 H2Z"/><circle cx="22" cy="8" r="4"/><path d="M17,13 H27 L29,45 H15Z"/></g></svg></div>
<div class="t" style="left:868.8px;top:3717.4px;background:#fff;"><i style="left:0px;top:17px;width:211.2px;height:113px;background:repeating-linear-gradient(135deg,#f6f7f9 0 3.2px,#fff 3.2px 6.7px);"></i><i style="left:13.8px;top:8.3px;width:184px;height:1.5px;background:#a9bbd4;"></i><b style="left:13.8px;top:11.2px;font-size:2.1px;color:#0d3c80;font-weight:700;">5.1 傳播媒介</b><b style="left:192px;top:11.2px;font-size:2.1px;color:#0d3c80;font-weight:700;">99</b><i style="left:13.8px;top:14.6px;width:184px;height:0.45px;background:#cfd8e4;"></i><i style="left:13.8px;top:134px;width:184px;height:0.7px;background:#cfd6df;"></i><b style="left:13.8px;top:137.2px;font-size:2.1px;color:#0d3c80;font-weight:700;">香港科技大學 <span style="color:#a8873d">品牌管理指引</span></b><b style="left:14px;top:20.5px;font-size:4.2px;color:#1f64b8;font-weight:400;">建議</b><b style="left:14px;top:26.5px;font-size:7px;color:#0d3c80;font-weight:700;">造紙材料</b><p class="f" style="left:14px;top:67px;width:94px;height:6.8px;font-size:2.2px;line-height:3.4px;color:#222;font-weight:700;"></p><p class="f" style="left:14px;top:77px;width:94px;height:10.2px;font-size:2.2px;line-height:3.4px;color:#222;font-weight:700;"></p><p class="f" style="left:14px;top:90px;width:94px;height:3.4px;font-size:2.2px;line-height:3.4px;color:#222;font-weight:700;"></p><svg style="left:146px;top:56px" width="26" height="28" viewBox="0 0 26 28"><path d="M3,4 Q1,14 8,18 L6,10 M8,18 L10,4 Q18,-2 22,6 Q26,14 18,18 L12,18" fill="none" stroke="#2a8a3a" stroke-width="1.5"/></svg><b style="left:150px;top:83px;font-size:5.5px;color:#2a8a3a;font-family:'Liberation Serif',serif;font-weight:700">FSC</b><svg style="left:148px;top:100px" width="24" height="22" viewBox="0 0 24 22"><g fill="#2aa83a"><path d="M12,0 L18,9 L14,10 L12,6 L8,12 L4,10Z"/><path d="M20,12 L24,20 L12,21 L13,17 L19,17 L16,13Z"/><path d="M4,21 L0,13 L4,8 L7,13 L5,16 L10,17 L10,21Z"/></g></svg></div>
<div class="t" style="left:0.0px;top:3872.9px;background:#8a8d90;"><i style="left:0px;top:0px;width:64px;height:149.4px;background:repeating-linear-gradient(135deg,rgba(255,255,255,.2) 0 1.8px,#8a8d90 1.8px 7px);"></i><i style="left:13.5px;top:8.2px;width:184.5px;height:1.2px;background:rgba(255,255,255,.75);"></i><b style="left:13.5px;top:11px;font-size:2.2px;color:#fff;font-weight:700;">5.2 傳播媒介</b><b style="left:190px;top:11px;font-size:2.2px;color:#fff;font-weight:700;">100</b><i style="left:13.5px;top:134px;width:184.5px;height:0.7px;background:rgba(255,255,255,.55);"></i><b style="left:13.5px;top:137.2px;font-size:2.2px;color:#fff;font-weight:700;">香港科技大學 品牌管理指引</b><b style="left:47.19999999999999px;width:150px;text-align:right;top:65px;font-size:6.6px;color:#fff;font-weight:700">5.2 數碼物品</b></div>
<div class="t" style="left:217.2px;top:3872.9px;background:#fff;"><i style="left:0px;top:17px;width:211.2px;height:113px;background:repeating-linear-gradient(135deg,#f6f7f9 0 3.2px,#fff 3.2px 6.7px);"></i><i style="left:13.8px;top:8.3px;width:184px;height:1.5px;background:#a9bbd4;"></i><b style="left:13.8px;top:11.2px;font-size:2.1px;color:#0d3c80;font-weight:700;">5.2 傳播媒介</b><b style="left:192px;top:11.2px;font-size:2.1px;color:#0d3c80;font-weight:700;">101</b><i style="left:13.8px;top:14.6px;width:184px;height:0.45px;background:#cfd8e4;"></i><i style="left:13.8px;top:134px;width:184px;height:0.7px;background:#cfd6df;"></i><b style="left:13.8px;top:137.2px;font-size:2.1px;color:#0d3c80;font-weight:700;">香港科技大學 <span style="color:#a8873d">品牌管理指引</span></b><b style="left:14px;top:20.5px;font-size:4.2px;color:#1f64b8;font-weight:400;">數碼物品</b><b style="left:14px;top:26.5px;font-size:7px;color:#0d3c80;font-weight:700;">網上廣告</b><b style="left:14px;top:45px;font-size:2.2px;color:#222;font-weight:700;">簡介</b><i style="left:14px;top:49px;width:75px;height:0.8px;background:#7d97bd;"></i><b style="left:100px;top:45px;font-size:2.2px;color:#222;font-weight:700;">設計展示</b><i style="left:100px;top:49px;width:98px;height:0.8px;background:#7d97bd;"></i><b style="left:14px;top:55px;font-size:2.4px;color:#1f64b8;font-weight:700;">標誌</b><p class="f" style="left:14px;top:59px;width:70px;height:6.4px;font-size:2.1px;line-height:3.2px;color:#222;font-weight:700;"></p><b style="left:14px;top:68px;font-size:2.4px;color:#1f64b8;font-weight:700;">大學標誌</b><p class="f" style="left:14px;top:72px;width:70px;height:6.4px;font-size:2.1px;line-height:3.2px;color:#222;font-weight:700;"></p><b style="left:14px;top:81px;font-size:2.4px;color:#1f64b8;font-weight:700;">圖像和文字</b><p class="f" style="left:14px;top:85px;width:70px;height:6.4px;font-size:2.1px;line-height:3.2px;color:#222;font-weight:700;"></p><i style="left:100px;top:56px;width:73px;height:9px;background:#1d3a7a;"></i><b style="left:104px;top:59px;font-size:2px;color:#fff;font-weight:700;">HKUST</b><b style="left:126px;top:59px;font-size:2.2px;color:#fff;font-weight:700;">KEY MESSAGE GOES HERE</b><i style="left:100px;top:67px;width:73px;height:9px;background:#b08a3e;"></i><b style="left:104px;top:70px;font-size:2px;color:#fff;font-weight:700;">HKUST</b><b style="left:126px;top:70px;font-size:2.2px;color:#fff;font-weight:700;">KEY MESSAGE GOES HERE</b><i style="left:100px;top:78px;width:73px;height:9px;background:linear-gradient(90deg,#1d3a7a 30%,#8ab8e0 60%,#e0e8f0);"></i><i style="left:177px;top:55px;width:9px;height:31px;background:#d8dde2;"></i><i style="left:188px;top:54px;width:12px;height:62px;background:#1d3a7a;"></i><i style="left:188px;top:82px;width:12px;height:34px;background:linear-gradient(180deg,#8ab8e0,#e0e8f0);"></i></div>
<div class="t" style="left:434.4px;top:3872.9px;background:#fff;"><i style="left:0px;top:17px;width:211.2px;height:113px;background:repeating-linear-gradient(135deg,#f6f7f9 0 3.2px,#fff 3.2px 6.7px);"></i><i style="left:13.8px;top:8.3px;width:184px;height:1.5px;background:#a9bbd4;"></i><b style="left:13.8px;top:11.2px;font-size:2.1px;color:#0d3c80;font-weight:700;">5.2 傳播媒介</b><b style="left:192px;top:11.2px;font-size:2.1px;color:#0d3c80;font-weight:700;">102</b><i style="left:13.8px;top:14.6px;width:184px;height:0.45px;background:#cfd8e4;"></i><i style="left:13.8px;top:134px;width:184px;height:0.7px;background:#cfd6df;"></i><b style="left:13.8px;top:137.2px;font-size:2.1px;color:#0d3c80;font-weight:700;">香港科技大學 <span style="color:#a8873d">品牌管理指引</span></b><b style="left:14px;top:20.5px;font-size:4.2px;color:#1f64b8;font-weight:400;">數碼物品</b><b style="left:14px;top:26.5px;font-size:7px;color:#0d3c80;font-weight:700;">網站</b><p class="f" style="left:14px;top:45px;width:65px;height:16.0px;font-size:2.1px;line-height:3.2px;color:#222;font-weight:700;"></p><p class="f" style="left:14px;top:63px;width:65px;height:12.8px;font-size:2.1px;line-height:3.2px;color:#222;font-weight:700;"></p><p class="f" style="left:14px;top:80px;width:65px;height:12.8px;font-size:2.1px;line-height:3.2px;color:#222;font-weight:700;"></p><p class="f" style="left:14px;top:96px;width:65px;height:9.600000000000001px;font-size:2.1px;line-height:3.2px;color:#222;font-weight:700;"></p><p class="f" style="left:98px;top:45px;width:90px;height:12.8px;font-size:2.1px;line-height:3.2px;color:#222;font-weight:700;"></p><i style="left:117px;top:78px;width:56px;height:38px;background:#1a1a1a;"></i><i style="left:119px;top:80px;width:52px;height:33px;background:linear-gradient(180deg,#b8c8d8,#6a8aa0 55%,#3a5a48);"></i><i style="left:140px;top:116px;width:14px;height:5px;background:#c8c8c8;"></i><i style="left:135px;top:121px;width:24px;height:1.2px;background:#aaa;"></i><i style="left:112px;top:100px;width:30px;height:20px;background:#222;"></i><i style="left:113.5px;top:101.5px;width:27px;height:16px;background:linear-gradient(180deg,#b8c8d8,#4a6a58);"></i><i style="left:108px;top:120px;width:38px;height:2px;background:#bbb;"></i><i style="left:164px;top:96px;width:16px;height:24px;background:#222;"></i><i style="left:165.5px;top:98px;width:13px;height:19px;background:linear-gradient(180deg,#b8c8d8,#4a6a58);"></i><i style="left:153px;top:104px;width:9px;height:16px;background:#222;"></i><i style="left:154px;top:105.5px;width:7px;height:12px;background:linear-gradient(180deg,#b8c8d8,#4a6a58);"></i></div>
<div class="t" style="left:651.6px;top:3872.9px;background:#fff;"><i style="left:0px;top:17px;width:211.2px;height:113px;background:repeating-linear-gradient(135deg,#f6f7f9 0 3.2px,#fff 3.2px 6.7px);"></i><i style="left:13.8px;top:8.3px;width:184px;height:1.5px;background:#a9bbd4;"></i><b style="left:13.8px;top:11.2px;font-size:2.1px;color:#0d3c80;font-weight:700;">5.2 傳播媒介</b><b style="left:192px;top:11.2px;font-size:2.1px;color:#0d3c80;font-weight:700;">103</b><i style="left:13.8px;top:14.6px;width:184px;height:0.45px;background:#cfd8e4;"></i><i style="left:13.8px;top:134px;width:184px;height:0.7px;background:#cfd6df;"></i><b style="left:13.8px;top:137.2px;font-size:2.1px;color:#0d3c80;font-weight:700;">香港科技大學 <span style="color:#a8873d">品牌管理指引</span></b><b style="left:14px;top:20.5px;font-size:4.2px;color:#1f64b8;font-weight:400;">數碼物品</b><b style="left:14px;top:26.5px;font-size:7px;color:#0d3c80;font-weight:700;">網站 — 快捷檢查</b><b style="left:14px;top:45px;font-size:2.4px;color:#222;font-weight:700;">視覺</b><i style="left:14px;top:49px;width:62px;height:0.8px;background:#7d97bd;"></i><b style="left:84px;top:45px;font-size:2.4px;color:#222;font-weight:700;">功能</b><i style="left:84px;top:49px;width:56px;height:0.8px;background:#7d97bd;"></i><b style="left:148px;top:45px;font-size:2.4px;color:#222;font-weight:700;">一致性</b><i style="left:148px;top:49px;width:50px;height:0.8px;background:#7d97bd;"></i><p class="f" style="left:14px;top:53.0px;width:60px;height:6.0px;font-size:2.0px;line-height:3.0px;color:#222;font-weight:700;"></p><p class="f" style="left:14px;top:61.5px;width:60px;height:6.0px;font-size:2.0px;line-height:3.0px;color:#222;font-weight:700;"></p><p class="f" style="left:14px;top:70.0px;width:60px;height:6.0px;font-size:2.0px;line-height:3.0px;color:#222;font-weight:700;"></p><p class="f" style="left:14px;top:78.5px;width:60px;height:6.0px;font-size:2.0px;line-height:3.0px;color:#222;font-weight:700;"></p><p class="f" style="left:14px;top:87.0px;width:60px;height:6.0px;font-size:2.0px;line-height:3.0px;color:#222;font-weight:700;"></p><p class="f" style="left:14px;top:95.5px;width:60px;height:6.0px;font-size:2.0px;line-height:3.0px;color:#222;font-weight:700;"></p><p class="f" style="left:14px;top:104.0px;width:60px;height:6.0px;font-size:2.0px;line-height:3.0px;color:#222;font-weight:700;"></p><p class="f" style="left:14px;top:112.5px;width:60px;height:6.0px;font-size:2.0px;line-height:3.0px;color:#222;font-weight:700;"></p><p class="f" style="left:84px;top:53px;width:56px;height:6.0px;font-size:2.0px;line-height:3.0px;color:#222;font-weight:700;"></p><p class="f" style="left:84px;top:62px;width:56px;height:6.0px;font-size:2.0px;line-height:3.0px;color:#222;font-weight:700;"></p><p class="f" style="left:84px;top:71px;width:56px;height:6.0px;font-size:2.0px;line-height:3.0px;color:#222;font-weight:700;"></p><p class="f" style="left:84px;top:80px;width:56px;height:6.0px;font-size:2.0px;line-height:3.0px;color:#222;font-weight:700;"></p><p class="f" style="left:84px;top:89px;width:56px;height:6.0px;font-size:2.0px;line-height:3.0px;color:#222;font-weight:700;"></p><p class="f" style="left:84px;top:98px;width:56px;height:6.0px;font-size:2.0px;line-height:3.0px;color:#222;font-weight:700;"></p><p class="f" style="left:84px;top:107px;width:56px;height:6.0px;font-size:2.0px;line-height:3.0px;color:#222;font-weight:700;"></p><p class="f" style="left:148px;top:53px;width:50px;height:6.0px;font-size:2.0px;line-height:3.0px;color:#222;font-weight:700;"></p><p class="f" style="left:148px;top:63px;width:50px;height:6.0px;font-size:2.0px;line-height:3.0px;color:#222;font-weight:700;"></p><p class="f" style="left:148px;top:73px;width:50px;height:6.0px;font-size:2.0px;line-height:3.0px;color:#222;font-weight:700;"></p><p class="f" style="left:148px;top:83px;width:50px;height:6.0px;font-size:2.0px;line-height:3.0px;color:#222;font-weight:700;"></p><p class="f" style="left:148px;top:93px;width:50px;height:9.0px;font-size:2.0px;line-height:3.0px;color:#222;font-weight:700;"></p><p class="f" style="left:148px;top:103px;width:50px;height:9.0px;font-size:2.0px;line-height:3.0px;color:#222;font-weight:700;"></p><p class="f" style="left:14px;top:122px;width:40px;height:3.0px;font-size:2.0px;line-height:3.0px;color:#222;font-weight:700;"></p></div>
<div class="t" style="left:868.8px;top:3872.9px;background:#fff;"><i style="left:0px;top:17px;width:211.2px;height:113px;background:repeating-linear-gradient(135deg,#f6f7f9 0 3.2px,#fff 3.2px 6.7px);"></i><i style="left:13.8px;top:8.3px;width:184px;height:1.5px;background:#a9bbd4;"></i><b style="left:13.8px;top:11.2px;font-size:2.1px;color:#0d3c80;font-weight:700;">5.2 傳播媒介</b><b style="left:192px;top:11.2px;font-size:2.1px;color:#0d3c80;font-weight:700;">104</b><i style="left:13.8px;top:14.6px;width:184px;height:0.45px;background:#cfd8e4;"></i><i style="left:13.8px;top:134px;width:184px;height:0.7px;background:#cfd6df;"></i><b style="left:13.8px;top:137.2px;font-size:2.1px;color:#0d3c80;font-weight:700;">香港科技大學 <span style="color:#a8873d">品牌管理指引</span></b><b style="left:14px;top:20.5px;font-size:4.2px;color:#1f64b8;font-weight:400;">數碼物品</b><b style="left:14px;top:26.5px;font-size:7px;color:#0d3c80;font-weight:700;">電郵下款</b><p class="f" style="left:14px;top:43px;width:55px;height:9.600000000000001px;font-size:2.1px;line-height:3.2px;color:#222;font-weight:700;"></p><b style="left:20px;top:70px;font-size:2px;color:#222;font-weight:700;">範例</b><i style="left:22px;top:75px;width:74px;height:38px;background:#fff;box-shadow:0.8px 1px 1.5px rgba(0,0,0,.25)"></i><p class="f" style="left:25px;top:79px;width:40px;height:13.0px;font-size:1.6px;line-height:2.6px;color:#777;font-weight:700;"></p><svg style="left:26px;top:101px" width="4.49" height="7" viewBox="62 115 420 655"><circle cx="272" cy="207" r="93" fill="#a8873d"/><polygon fill="#0d3c80" points="62,358 100,318 235,318 272,338 310,318 445,318 482,358 310,358 272,385 235,358"/><g fill="none" stroke="#0d3c80" stroke-width="34"><path d="M96,378 V590 Q96,670 175,722"/><path d="M149,378 V580 Q149,635 200,668"/><path d="M448,378 V590 Q448,670 369,722"/><path d="M395,378 V580 Q395,635 344,668"/></g><polygon fill="#a8873d" points="232,398 311,398 311,618 392,770 152,770 232,618"/><polygon fill="#fff" points="251,398 292,398 292,628 345,735 199,735 251,628"/></svg><b style="left:31.25px;top:101.53px;font-size:1.8px;line-height:1.9800000000000002px;color:#0d3c80;font-weight:700;transform:scaleX(0.9);transform-origin:0 0;letter-spacing:0px">THE HONG KONG<br>UNIVERSITY OF SCIENCE<br>AND TECHNOLOGY</b><b style="left:107px;top:80px;font-size:2.4px;color:#222;font-weight:700;">電郵下款格式</b><p class="f" style="left:107px;top:85px;width:40px;height:5.6px;font-size:1.8px;line-height:2.8px;color:#444;font-weight:700;"></p><p class="f" style="left:107px;top:94px;width:30px;height:2.8px;font-size:1.8px;line-height:2.8px;color:#444;font-weight:700;"></p><i style="left:168px;top:95px;width:0.4px;height:4px;background:#bbb;"></i><b style="left:172px;top:95px;font-size:2px;color:#b08a3e;font-weight:400;">YES</b><p class="f" style="left:107px;top:101px;width:40px;height:5.6px;font-size:1.8px;line-height:2.8px;color:#444;font-weight:700;"></p><i style="left:168px;top:103px;width:0.4px;height:4px;background:#bbb;"></i><b style="left:172px;top:103px;font-size:2px;color:#b08a3e;font-weight:400;">YES</b><p class="f" style="left:107px;top:110px;width:50px;height:2.8px;font-size:1.8px;line-height:2.8px;color:#444;font-weight:700;"></p><i style="left:168px;top:109px;width:0.4px;height:4px;background:#bbb;"></i><b style="left:172px;top:111px;font-size:2px;color:#b08a3e;font-weight:400;">YES</b><p class="f" style="left:107px;top:117px;width:50px;height:2.8px;font-size:1.8px;line-height:2.8px;color:#444;font-weight:700;"></p></div>
<div class="t" style="left:0.0px;top:4028.4px;background:#fff;"><i style="left:0px;top:17px;width:211.2px;height:113px;background:repeating-linear-gradient(135deg,#f6f7f9 0 3.2px,#fff 3.2px 6.7px);"></i><i style="left:13.8px;top:8.3px;width:184px;height:1.5px;background:#a9bbd4;"></i><b style="left:13.8px;top:11.2px;font-size:2.1px;color:#0d3c80;font-weight:700;">5.2 傳播媒介</b><b style="left:192px;top:11.2px;font-size:2.1px;color:#0d3c80;font-weight:700;">105</b><i style="left:13.8px;top:14.6px;width:184px;height:0.45px;background:#cfd8e4;"></i><i style="left:13.8px;top:134px;width:184px;height:0.7px;background:#cfd6df;"></i><b style="left:13.8px;top:137.2px;font-size:2.1px;color:#0d3c80;font-weight:700;">香港科技大學 <span style="color:#a8873d">品牌管理指引</span></b><b style="left:14px;top:20.5px;font-size:4.2px;color:#1f64b8;font-weight:400;">數碼物品</b><b style="left:14px;top:26.5px;font-size:7px;color:#0d3c80;font-weight:700;">公眾活動電郵模版</b><p class="f" style="left:14px;top:44px;width:62px;height:12.8px;font-size:2.1px;line-height:3.2px;color:#0d3c80;font-weight:700;"></p><p class="f" style="left:14px;top:60px;width:62px;height:12.8px;font-size:2.1px;line-height:3.2px;color:#0d3c80;font-weight:700;"></p><p class="f" style="left:14px;top:76px;width:62px;height:12.8px;font-size:2.1px;line-height:3.2px;color:#1f64b8;font-weight:700;"></p><b style="left:86px;top:43px;font-size:2.2px;color:#222;font-weight:700;">頂端</b><i style="left:88px;top:49px;width:108px;height:25px;background:#fff;box-shadow:0 0 0 0.4px #ccc,0.8px 1px 1.5px rgba(0,0,0,.25)"></i><i style="left:88px;top:49px;width:108px;height:3px;background:#1d3a7a;"></i><svg style="left:92px;top:59px" width="3.85" height="6" viewBox="62 115 420 655"><circle cx="272" cy="207" r="93" fill="#a8873d"/><polygon fill="#0d3c80" points="62,358 100,318 235,318 272,338 310,318 445,318 482,358 310,358 272,385 235,358"/><g fill="none" stroke="#0d3c80" stroke-width="34"><path d="M96,378 V590 Q96,670 175,722"/><path d="M149,378 V580 Q149,635 200,668"/><path d="M448,378 V590 Q448,670 369,722"/><path d="M395,378 V580 Q395,635 344,668"/></g><polygon fill="#a8873d" points="232,398 311,398 311,618 392,770 152,770 232,618"/><polygon fill="#fff" points="251,398 292,398 292,628 345,735 199,735 251,628"/></svg><b style="left:96.5px;top:59.525px;font-size:1.5px;line-height:1.6500000000000001px;color:#0d3c80;font-weight:700;transform:scaleX(0.9);transform-origin:0 0;letter-spacing:0px">THE HONG KONG<br>UNIVERSITY OF SCIENCE<br>AND TECHNOLOGY</b><i style="left:150px;top:62px;width:14px;height:5px;background:#999;"></i><i style="left:170px;top:62px;width:14px;height:5px;background:#999;"></i><b style="left:86px;top:78px;font-size:2.2px;color:#222;font-weight:700;">底部</b><i style="left:88px;top:84px;width:108px;height:29px;background:#fff;box-shadow:0 0 0 0.4px #ccc,0.8px 1px 1.5px rgba(0,0,0,.25)"></i><i style="left:88px;top:91px;width:108px;height:22px;background:#1d3a7a;"></i><svg style="left:131px;top:94px" width="3.21" height="5" viewBox="62 115 420 655"><circle cx="272" cy="207" r="93" fill="#fff"/><polygon fill="#fff" points="62,358 100,318 235,318 272,338 310,318 445,318 482,358 310,358 272,385 235,358"/><g fill="none" stroke="#fff" stroke-width="34"><path d="M96,378 V590 Q96,670 175,722"/><path d="M149,378 V580 Q149,635 200,668"/><path d="M448,378 V590 Q448,670 369,722"/><path d="M395,378 V580 Q395,635 344,668"/></g><polygon fill="#fff" points="232,398 311,398 311,618 392,770 152,770 232,618"/><polygon fill="#1d3a7a" points="251,398 292,398 292,628 345,735 199,735 251,628"/></svg><b style="left:134.9px;top:95.5px;font-size:2.5px;color:#fff;font-weight:700;letter-spacing:0.75px">HKUST</b><p class="f" style="left:120px;top:103px;width:50px;height:2.2px;font-size:1.5px;line-height:2.2px;color:#fff;font-weight:700;"></p><p class="f" style="left:132px;top:107px;width:26px;height:2.2px;font-size:1.5px;line-height:2.2px;color:#fff;font-weight:700;"></p></div>
<div class="t" style="left:217.2px;top:4028.4px;background:#fff;"><i style="left:0px;top:17px;width:211.2px;height:113px;background:repeating-linear-gradient(135deg,#f6f7f9 0 3.2px,#fff 3.2px 6.7px);"></i><i style="left:13.8px;top:8.3px;width:184px;height:1.5px;background:#a9bbd4;"></i><b style="left:13.8px;top:11.2px;font-size:2.1px;color:#0d3c80;font-weight:700;">5.2 傳播媒介</b><b style="left:192px;top:11.2px;font-size:2.1px;color:#0d3c80;font-weight:700;">106</b><i style="left:13.8px;top:14.6px;width:184px;height:0.45px;background:#cfd8e4;"></i><i style="left:13.8px;top:134px;width:184px;height:0.7px;background:#cfd6df;"></i><b style="left:13.8px;top:137.2px;font-size:2.1px;color:#0d3c80;font-weight:700;">香港科技大學 <span style="color:#a8873d">品牌管理指引</span></b><b style="left:14px;top:20.5px;font-size:4.2px;color:#1f64b8;font-weight:400;">數碼物品</b><b style="left:14px;top:26.5px;font-size:7px;color:#0d3c80;font-weight:700;">簡報</b><i style="left:14px;top:43px;width:62px;height:0.8px;background:#7d97bd;"></i><i style="left:15px;top:49px;width:1px;height:1px;background:#222;"></i><p class="f" style="left:18px;top:47.5px;width:58px;height:6.4px;font-size:2.1px;line-height:3.2px;color:#222;font-weight:700;"></p><i style="left:15px;top:58px;width:1px;height:1px;background:#222;"></i><p class="f" style="left:18px;top:56.5px;width:58px;height:3.2px;font-size:2.1px;line-height:3.2px;color:#222;font-weight:700;"></p><i style="left:15px;top:67px;width:1px;height:1px;background:#222;"></i><p class="f" style="left:18px;top:65.5px;width:58px;height:6.4px;font-size:2.1px;line-height:3.2px;color:#222;font-weight:700;"></p><i style="left:15px;top:76px;width:1px;height:1px;background:#222;"></i><p class="f" style="left:18px;top:74.5px;width:58px;height:3.2px;font-size:2.1px;line-height:3.2px;color:#222;font-weight:700;"></p><i style="left:15px;top:85px;width:1px;height:1px;background:#222;"></i><p class="f" style="left:18px;top:83.5px;width:58px;height:6.4px;font-size:2.1px;line-height:3.2px;color:#222;font-weight:700;"></p><i style="left:15px;top:94px;width:1px;height:1px;background:#222;"></i><p class="f" style="left:18px;top:92.5px;width:58px;height:3.2px;font-size:2.1px;line-height:3.2px;color:#222;font-weight:700;"></p><i style="left:88px;top:44px;width:0.3px;height:90px;background:#333;"></i><b style="left:86px;top:82px;font-size:1.8px;color:#222;font-weight:400;">頂</b><i style="left:90px;top:60px;width:43px;height:33px;background:linear-gradient(180deg,#8a8a8a,#b0a090 60%,#6a6a70);box-shadow:0 0 0 0.4px #ccc,0.8px 1px 1.5px rgba(0,0,0,.25)"></i><i style="left:90px;top:60px;width:18px;height:33px;background:rgba(40,40,50,.6);"></i><i style="left:136px;top:60px;width:46px;height:33px;background:linear-gradient(135deg,#2a3a4a,#6a7a8a,#2a3040);box-shadow:0 0 0 0.4px #ccc,0.8px 1px 1.5px rgba(0,0,0,.25)"></i><i style="left:90px;top:98px;width:43px;height:33px;background:#fff;box-shadow:0 0 0 0.4px #ccc,0.8px 1px 1.5px rgba(0,0,0,.25)"></i><p class="f" style="left:93px;top:104px;width:22px;height:9.6px;font-size:1.6px;line-height:2.4px;color:#777;font-weight:700;"></p><i style="left:118px;top:102px;width:14px;height:24px;background:linear-gradient(180deg,#5a4a40,#2a2220);"></i><i style="left:136px;top:98px;width:46px;height:33px;background:#fff;box-shadow:0 0 0 0.4px #ccc,0.8px 1px 1.5px rgba(0,0,0,.25)"></i><p class="f" style="left:140px;top:104px;width:36px;height:12.0px;font-size:1.6px;line-height:2.4px;color:#777;font-weight:700;"></p><b style="left:187px;top:80px;font-size:1.8px;color:#222;font-weight:400;">左</b><b style="left:70px;top:116px;font-size:1.8px;color:#222;font-weight:400;">標誌</b><b style="left:187px;top:118px;font-size:1.8px;color:#222;font-weight:400;">右下</b><b style="left:14.3px;top:130px;font-size:2.64px;color:#333;font-weight:400;">請到此下載簡報範本：<span style="color:#1f5fa8;text-decoration:underline">下載標誌</span></b></div>
<div class="t" style="left:434.4px;top:4028.4px;background:#8a8d90;"><i style="left:0px;top:0px;width:64px;height:149.4px;background:repeating-linear-gradient(135deg,rgba(255,255,255,.2) 0 1.8px,#8a8d90 1.8px 7px);"></i><i style="left:13.5px;top:8.2px;width:184.5px;height:1.2px;background:rgba(255,255,255,.75);"></i><b style="left:13.5px;top:11px;font-size:2.2px;color:#fff;font-weight:700;">5.3 傳播媒介</b><b style="left:190px;top:11px;font-size:2.2px;color:#fff;font-weight:700;">107</b><i style="left:13.5px;top:134px;width:184.5px;height:0.7px;background:rgba(255,255,255,.55);"></i><b style="left:13.5px;top:137.2px;font-size:2.2px;color:#fff;font-weight:700;">香港科技大學 品牌管理指引</b><b style="left:47.19999999999999px;width:150px;text-align:right;top:65px;font-size:6.6px;color:#fff;font-weight:700">5.3 影片</b></div>
<div class="t" style="left:651.6px;top:4028.4px;background:#fff;"><i style="left:0px;top:17px;width:211.2px;height:113px;background:repeating-linear-gradient(135deg,#f6f7f9 0 3.2px,#fff 3.2px 6.7px);"></i><i style="left:13.8px;top:8.3px;width:184px;height:1.5px;background:#a9bbd4;"></i><b style="left:13.8px;top:11.2px;font-size:2.1px;color:#0d3c80;font-weight:700;">5.2 傳播媒介</b><b style="left:192px;top:11.2px;font-size:2.1px;color:#0d3c80;font-weight:700;">108</b><i style="left:13.8px;top:14.6px;width:184px;height:0.45px;background:#cfd8e4;"></i><i style="left:13.8px;top:134px;width:184px;height:0.7px;background:#cfd6df;"></i><b style="left:13.8px;top:137.2px;font-size:2.1px;color:#0d3c80;font-weight:700;">香港科技大學 <span style="color:#a8873d">品牌管理指引</span></b><b style="left:14px;top:20.5px;font-size:4.2px;color:#1f64b8;font-weight:400;">傳播媒介</b><b style="left:14px;top:26.5px;font-size:7px;color:#0d3c80;font-weight:700;">影片</b><i style="left:14px;top:43px;width:62px;height:0.8px;background:#7d97bd;"></i><p class="f" style="left:14px;top:46px;width:62px;height:12.8px;font-size:2.1px;line-height:3.2px;color:#0d3c80;font-weight:700;"></p><p class="f" style="left:98px;top:44px;width:98px;height:6.4px;font-size:2.1px;line-height:3.2px;color:#222;font-weight:700;"></p><i style="left:99px;top:57px;width:1px;height:1px;background:#222;"></i><p class="f" style="left:102px;top:55.5px;width:94px;height:3.2px;font-size:2.1px;line-height:3.2px;color:#222;font-weight:700;"></p><i style="left:99px;top:65px;width:1px;height:1px;background:#222;"></i><p class="f" style="left:102px;top:63.5px;width:94px;height:3.2px;font-size:2.1px;line-height:3.2px;color:#222;font-weight:700;"></p><i style="left:99px;top:73px;width:1px;height:1px;background:#222;"></i><p class="f" style="left:102px;top:71.5px;width:94px;height:3.2px;font-size:2.1px;line-height:3.2px;color:#222;font-weight:700;"></p><i style="left:99px;top:81px;width:1px;height:1px;background:#222;"></i><p class="f" style="left:102px;top:79.5px;width:94px;height:3.2px;font-size:2.1px;line-height:3.2px;color:#222;font-weight:700;"></p><i style="left:99px;top:89px;width:1px;height:1px;background:#222;"></i><p class="f" style="left:102px;top:87.5px;width:94px;height:3.2px;font-size:2.1px;line-height:3.2px;color:#222;font-weight:700;"></p></div>
<div class="t" style="left:868.8px;top:4028.4px;background:#fff;"><i style="left:0px;top:17px;width:211.2px;height:113px;background:repeating-linear-gradient(135deg,#f6f7f9 0 3.2px,#fff 3.2px 6.7px);"></i><i style="left:13.8px;top:8.3px;width:184px;height:1.5px;background:#a9bbd4;"></i><b style="left:13.8px;top:11.2px;font-size:2.1px;color:#0d3c80;font-weight:700;">5.2 傳播媒介</b><b style="left:192px;top:11.2px;font-size:2.1px;color:#0d3c80;font-weight:700;">109</b><i style="left:13.8px;top:14.6px;width:184px;height:0.45px;background:#cfd8e4;"></i><i style="left:13.8px;top:134px;width:184px;height:0.7px;background:#cfd6df;"></i><b style="left:13.8px;top:137.2px;font-size:2.1px;color:#0d3c80;font-weight:700;">香港科技大學 <span style="color:#a8873d">品牌管理指引</span></b><b style="left:14px;top:20.5px;font-size:4.2px;color:#1f64b8;font-weight:400;">傳播媒介</b><b style="left:14px;top:26.5px;font-size:7px;color:#0d3c80;font-weight:700;">影片</b><b style="left:14px;top:47px;font-size:2.4px;color:#1f64b8;font-weight:700;">品牌片頭</b><i style="left:15px;top:53.5px;width:0.8px;height:0.8px;background:#222;"></i><p class="f" style="left:18px;top:52px;width:62px;height:3.1px;font-size:2.1px;line-height:3.1px;color:#222;font-weight:700;"></p><i style="left:15px;top:59.5px;width:0.8px;height:0.8px;background:#222;"></i><p class="f" style="left:18px;top:58px;width:62px;height:6.2px;font-size:2.1px;line-height:3.1px;color:#222;font-weight:700;"></p><i style="left:15px;top:67.5px;width:0.8px;height:0.8px;background:#222;"></i><p class="f" style="left:18px;top:66px;width:62px;height:6.2px;font-size:2.1px;line-height:3.1px;color:#222;font-weight:700;"></p><i style="left:15px;top:81.5px;width:0.8px;height:0.8px;background:#222;"></i><p class="f" style="left:18px;top:80px;width:62px;height:3.1px;font-size:2.1px;line-height:3.1px;color:#222;font-weight:700;"></p><i style="left:15px;top:89.5px;width:0.8px;height:0.8px;background:#222;"></i><p class="f" style="left:18px;top:88px;width:62px;height:6.2px;font-size:2.1px;line-height:3.1px;color:#222;font-weight:700;"></p><i style="left:15px;top:97.5px;width:0.8px;height:0.8px;background:#222;"></i><p class="f" style="left:18px;top:96px;width:62px;height:6.2px;font-size:2.1px;line-height:3.1px;color:#222;font-weight:700;"></p><i style="left:15px;top:105.5px;width:0.8px;height:0.8px;background:#222;"></i><p class="f" style="left:18px;top:104px;width:62px;height:6.2px;font-size:2.1px;line-height:3.1px;color:#222;font-weight:700;"></p><i style="left:15px;top:113.5px;width:0.8px;height:0.8px;background:#222;"></i><p class="f" style="left:18px;top:112px;width:62px;height:6.2px;font-size:2.1px;line-height:3.1px;color:#222;font-weight:700;"></p><b style="left:14px;top:76px;font-size:2.4px;color:#1f64b8;font-weight:700;">大學標誌</b><b style="left:14px;top:99px;font-size:2.4px;color:#1f64b8;font-weight:700;">標題及字幕</b><b style="left:98px;top:47px;font-size:1.8px;color:#222;font-weight:700;">品牌片頭格式</b><b style="left:98px;top:78px;font-size:1.8px;color:#222;font-weight:700;">影片截圖</b><b style="left:98px;top:109px;font-size:1.8px;color:#222;font-weight:700;">片尾畫面</b><i style="left:124px;top:44px;width:49px;height:27px;background:linear-gradient(90deg,#6a5a48,#c8c0b0 40%,#e8e4dc 55%,#8a7a68);"></i><i style="left:146px;top:50px;width:10px;height:20px;background:#f0f0f0;"></i><i style="left:128px;top:62px;width:14px;height:4px;background:#fff;"></i><i style="left:124px;top:75px;width:49px;height:28px;background:linear-gradient(90deg,#2a3a50,#5a8ab0 40%,#e8c8b0 70%,#90a0b0);"></i><svg style="left:124px;top:75px" width="49" height="28"><ellipse cx="15" cy="12" rx="7" ry="8" fill="#c49070"/><rect x="8" y="9" width="14" height="4" fill="#1a1a1a"/><ellipse cx="35" cy="18" rx="9" ry="10" fill="#d8a888"/></svg><i style="left:124px;top:106px;width:49px;height:27px;background:#1d3a7a;"></i><svg style="left:135px;top:116px" width="3.21" height="5" viewBox="62 115 420 655"><circle cx="272" cy="207" r="93" fill="#fff"/><polygon fill="#fff" points="62,358 100,318 235,318 272,338 310,318 445,318 482,358 310,358 272,385 235,358"/><g fill="none" stroke="#fff" stroke-width="34"><path d="M96,378 V590 Q96,670 175,722"/><path d="M149,378 V580 Q149,635 200,668"/><path d="M448,378 V590 Q448,670 369,722"/><path d="M395,378 V580 Q395,635 344,668"/></g><polygon fill="#fff" points="232,398 311,398 311,618 392,770 152,770 232,618"/><polygon fill="#1d3a7a" points="251,398 292,398 292,628 345,735 199,735 251,628"/></svg><b style="left:138.75px;top:116.19px;font-size:1.4px;line-height:1.54px;color:#fff;font-weight:700;transform:scaleX(0.9);transform-origin:0 0;letter-spacing:0px">THE HONG KONG<br>UNIVERSITY OF SCIENCE<br>AND TECHNOLOGY</b></div>
<div class="t" style="left:0.0px;top:4183.8px;background:#0c3a7e;"><svg style="left:52px;top:78px" width="3.85" height="6" viewBox="62 115 420 655"><circle cx="272" cy="207" r="93" fill="#fff"/><polygon fill="#fff" points="62,358 100,318 235,318 272,338 310,318 445,318 482,358 310,358 272,385 235,358"/><g fill="none" stroke="#fff" stroke-width="34"><path d="M96,378 V590 Q96,670 175,722"/><path d="M149,378 V580 Q149,635 200,668"/><path d="M448,378 V590 Q448,670 369,722"/><path d="M395,378 V580 Q395,635 344,668"/></g><polygon fill="#fff" points="232,398 311,398 311,618 392,770 152,770 232,618"/><polygon fill="#0c3a7e" points="251,398 292,398 292,628 345,735 199,735 251,628"/></svg><b style="left:57px;top:79.3px;font-size:3.8px;color:#fff;font-weight:700;letter-spacing:.3px">香港科技大學</b><i style="left:91px;top:77px;width:0.4px;height:8px;background:rgba(255,255,255,.7);"></i><b style="left:95px;top:79.3px;font-size:3.8px;color:#fff;font-weight:700;letter-spacing:.3px">公共事務處</b><p class="f" style="left:92px;top:126px;width:30px;height:2.4px;font-size:1.6px;line-height:2.4px;color:#fff;font-weight:700;"></p></div>
</body></html>
